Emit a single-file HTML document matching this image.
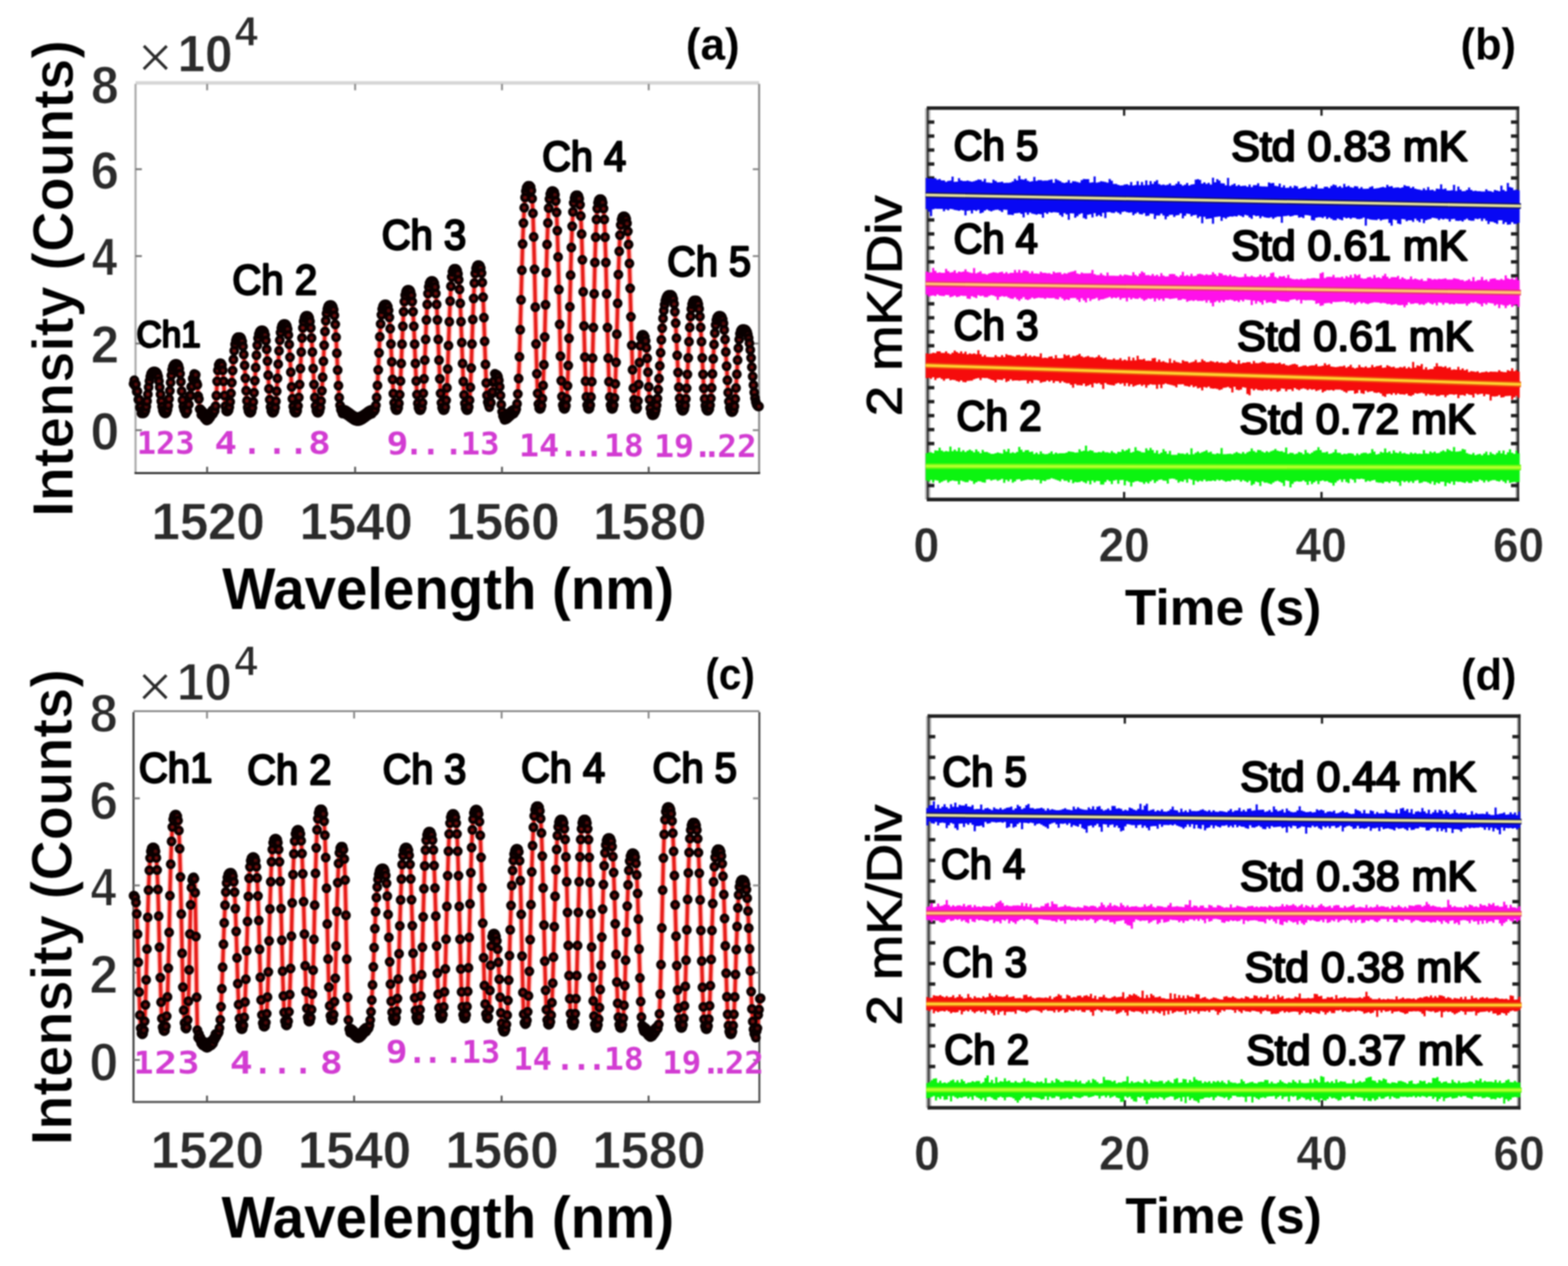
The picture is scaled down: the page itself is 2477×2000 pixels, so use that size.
<!DOCTYPE html>
<html lang="en">
<head>
<meta charset="utf-8">
<title>Spectra and temperature stability</title>
<style>
html,body{margin:0;padding:0;background:#fff;}
body{width:2477px;height:2000px;overflow:hidden;}
svg{display:block;filter:blur(0.9px);}
text{white-space:pre;}
</style>
</head>
<body>
<svg xmlns="http://www.w3.org/2000/svg" width="2477" height="2000" viewBox="0 0 2477 2000">
<rect x="-10" y="-10" width="2497" height="2020" fill="#fff"/>
<line x1="214.10" y1="131.00" x2="1199.20" y2="131.00" stroke="#d6d6d6" stroke-width="5.5" stroke-linecap="butt"/>
<line x1="214.10" y1="132.60" x2="214.10" y2="747.40" stroke="#a8a8a8" stroke-width="3.2" stroke-linecap="butt"/>
<line x1="1199.20" y1="132.60" x2="1199.20" y2="747.40" stroke="#8c8c8c" stroke-width="3.2" stroke-linecap="butt"/>
<line x1="212.50" y1="747.40" x2="1200.80" y2="747.40" stroke="#333333" stroke-width="3.2" stroke-linecap="butt"/>
<line x1="327.20" y1="747.40" x2="327.20" y2="737.40" stroke="#555" stroke-width="3" stroke-linecap="butt"/>
<line x1="327.20" y1="132.60" x2="327.20" y2="142.60" stroke="#8a8a8a" stroke-width="3" stroke-linecap="butt"/>
<line x1="561.00" y1="747.40" x2="561.00" y2="737.40" stroke="#555" stroke-width="3" stroke-linecap="butt"/>
<line x1="561.00" y1="132.60" x2="561.00" y2="142.60" stroke="#8a8a8a" stroke-width="3" stroke-linecap="butt"/>
<line x1="793.00" y1="747.40" x2="793.00" y2="737.40" stroke="#555" stroke-width="3" stroke-linecap="butt"/>
<line x1="793.00" y1="132.60" x2="793.00" y2="142.60" stroke="#8a8a8a" stroke-width="3" stroke-linecap="butt"/>
<line x1="1024.80" y1="747.40" x2="1024.80" y2="737.40" stroke="#555" stroke-width="3" stroke-linecap="butt"/>
<line x1="1024.80" y1="132.60" x2="1024.80" y2="142.60" stroke="#8a8a8a" stroke-width="3" stroke-linecap="butt"/>
<line x1="214.10" y1="267.30" x2="224.10" y2="267.30" stroke="#777" stroke-width="3" stroke-linecap="butt"/>
<line x1="1199.20" y1="267.30" x2="1189.20" y2="267.30" stroke="#8a8a8a" stroke-width="3" stroke-linecap="butt"/>
<line x1="214.10" y1="404.60" x2="224.10" y2="404.60" stroke="#777" stroke-width="3" stroke-linecap="butt"/>
<line x1="1199.20" y1="404.60" x2="1189.20" y2="404.60" stroke="#8a8a8a" stroke-width="3" stroke-linecap="butt"/>
<line x1="214.10" y1="542.70" x2="224.10" y2="542.70" stroke="#777" stroke-width="3" stroke-linecap="butt"/>
<line x1="1199.20" y1="542.70" x2="1189.20" y2="542.70" stroke="#8a8a8a" stroke-width="3" stroke-linecap="butt"/>
<line x1="214.10" y1="679.60" x2="224.10" y2="679.60" stroke="#777" stroke-width="3" stroke-linecap="butt"/>
<line x1="1199.20" y1="679.60" x2="1189.20" y2="679.60" stroke="#8a8a8a" stroke-width="3" stroke-linecap="butt"/>
<path d="M211.0,606.2 L212.2,600.7 L213.5,609.5 L214.8,607.1 L216.0,618.7 L217.2,618.3 L218.5,631.2 L219.8,631.3 L221.0,643.7 L222.2,642.5 L223.5,652.9 L224.8,648.9 L226.0,653.0 L227.3,652.8 L228.5,651.6 L229.8,648.4 L231.1,642.6 L232.3,633.8 L233.6,622.9 L234.8,611.7 L236.1,602.1 L237.4,595.1 L238.6,590.8 L239.9,588.4 L241.2,587.4 L242.4,587.0 L243.7,587.0 L244.9,587.0 L246.2,587.4 L247.4,588.4 L248.6,590.8 L249.9,595.1 L251.1,602.1 L252.3,611.7 L253.6,622.9 L254.8,633.8 L256.1,642.6 L257.3,648.4 L258.5,651.6 L259.8,652.8 L261.0,653.0 L262.2,652.8 L263.4,651.3 L264.6,647.6 L265.9,640.7 L267.1,630.3 L268.3,617.4 L269.5,604.2 L270.7,592.9 L271.9,584.6 L273.1,579.5 L274.4,576.7 L275.6,575.4 L276.8,575.0 L278.0,575.0 L279.3,575.1 L280.6,575.7 L281.9,577.7 L283.2,582.3 L284.5,590.6 L285.8,603.1 L287.0,617.9 L288.3,631.9 L289.6,641.9 L290.9,647.5 L292.2,649.6 L293.5,653.2 L294.7,645.8 L295.9,649.4 L297.1,638.5 L298.3,639.0 L299.5,625.7 L300.8,624.7 L302.0,610.9 L303.2,610.5 L304.4,598.1 L305.6,600.0 L306.8,590.8 L308.0,596.2 L309.2,592.0 L310.5,604.8 L311.8,608.0 L313.0,625.7 L314.2,630.6 L315.5,646.6 L316.8,646.6 L318.0,655.2 L319.3,649.2 L320.6,656.9 L321.9,652.3 L323.1,660.7 L324.4,656.1 L325.7,663.8 L327.0,664.2 L328.2,657.5 L329.4,662.9 L330.7,655.0 L331.9,659.7 L333.1,651.3 L334.3,656.0 L335.6,648.1 L336.8,653.5 L338.0,650.0 L339.2,648.9 L340.5,641.8 L341.8,624.9 L343.0,602.4 L344.2,585.1 L345.5,576.8 L346.8,574.3 L348.0,574.0 L349.3,574.3 L350.6,576.8 L351.9,585.1 L353.2,602.4 L354.6,624.9 L355.9,641.8 L357.2,648.9 L358.5,650.0 L359.8,649.7 L361.1,647.9 L362.3,643.3 L363.6,634.8 L364.9,621.6 L366.2,604.5 L367.5,585.6 L368.7,568.1 L370.0,553.9 L371.3,544.0 L372.6,537.9 L373.9,534.6 L375.1,533.1 L376.4,532.7 L377.7,532.6 L378.9,532.7 L380.2,533.3 L381.4,535.2 L382.6,539.4 L383.9,547.3 L385.1,559.9 L386.4,577.3 L387.6,597.5 L388.8,617.3 L390.1,633.2 L391.3,643.7 L392.5,649.4 L393.8,651.6 L395.0,652.0 L396.3,651.7 L397.5,649.7 L398.8,644.6 L400.1,635.1 L401.3,620.5 L402.6,601.6 L403.9,580.7 L405.1,561.3 L406.4,545.6 L407.7,534.6 L408.9,527.9 L410.2,524.2 L411.5,522.6 L412.7,522.1 L414.0,522.0 L415.2,522.1 L416.4,522.7 L417.6,524.8 L418.9,529.4 L420.1,538.0 L421.3,551.8 L422.5,570.6 L423.7,592.7 L424.9,614.2 L426.1,631.5 L427.4,643.0 L428.6,649.2 L429.8,651.6 L431.0,652.0 L432.2,651.6 L433.4,649.5 L434.7,644.1 L435.9,633.9 L437.1,618.1 L438.3,597.7 L439.5,575.3 L440.8,554.3 L442.0,537.4 L443.2,525.6 L444.4,518.3 L445.6,514.4 L446.9,512.6 L448.1,512.1 L449.3,512.0 L450.6,512.1 L451.8,512.8 L453.1,515.0 L454.4,520.0 L455.6,529.3 L456.9,544.0 L458.1,564.4 L459.4,588.1 L460.7,611.3 L461.9,629.9 L463.2,642.3 L464.5,649.0 L465.7,651.6 L467.0,652.0 L468.3,651.5 L469.5,648.7 L470.8,641.4 L472.1,627.9 L473.3,607.5 L474.6,582.2 L475.9,556.2 L477.1,534.0 L478.4,517.9 L479.6,507.8 L480.9,502.3 L482.2,499.8 L483.4,499.1 L484.7,499.0 L486.0,499.1 L487.2,499.8 L488.5,502.3 L489.7,507.8 L491.0,517.9 L492.2,534.0 L493.5,556.2 L494.8,582.2 L496.0,607.5 L497.3,627.9 L498.5,641.4 L499.8,648.7 L501.0,651.5 L502.3,652.0 L503.5,651.6 L504.8,649.5 L506.0,644.0 L507.2,633.7 L508.5,617.5 L509.7,595.9 L510.9,570.8 L512.1,545.6 L513.4,523.7 L514.6,506.8 L515.8,495.2 L517.1,488.2 L518.3,484.3 L519.5,482.6 L520.8,482.1 L522.0,482.0 L523.3,482.1 L524.5,482.7 L525.8,484.9 L527.1,489.6 L528.3,498.3 L529.6,512.5 L530.9,532.7 L532.1,557.9 L533.4,584.8 L534.7,609.3 L535.9,628.2 L537.2,640.5 L538.5,647.0 L539.7,649.6 L541.0,653.2 L542.3,646.9 L543.5,653.5 L544.8,647.5 L546.1,654.5 L547.3,648.7 L548.6,655.9 L549.8,650.4 L551.1,657.7 L552.4,652.3 L553.6,659.7 L554.9,654.3 L556.2,661.6 L557.4,656.1 L558.7,663.3 L559.9,657.5 L561.2,664.5 L562.5,658.5 L563.7,665.1 L565.0,665.2 L566.2,658.7 L567.5,664.9 L568.8,658.1 L570.0,664.1 L571.2,657.0 L572.5,662.7 L573.8,655.5 L575.0,661.1 L576.2,653.7 L577.5,659.2 L578.8,651.9 L580.0,657.3 L581.2,650.1 L582.5,655.7 L583.8,648.6 L585.0,654.3 L586.2,647.5 L587.5,653.5 L588.8,646.9 L590.0,650.0 L591.3,649.6 L592.5,647.0 L593.8,640.4 L595.0,628.1 L596.3,609.1 L597.5,584.5 L598.8,557.4 L600.0,532.0 L601.3,511.7 L602.5,497.4 L603.8,488.6 L605.0,483.9 L606.3,481.7 L607.5,481.1 L608.8,481.0 L610.1,481.1 L611.3,481.9 L612.6,484.6 L613.9,490.6 L615.1,501.6 L616.4,519.2 L617.6,543.5 L618.9,571.8 L620.2,599.4 L621.4,621.7 L622.7,636.5 L624.0,644.4 L625.2,647.5 L626.5,648.0 L627.7,647.5 L629.0,644.6 L630.2,637.2 L631.4,623.4 L632.7,602.0 L633.9,574.3 L635.1,543.8 L636.4,515.4 L637.6,492.5 L638.8,476.5 L640.1,466.6 L641.3,461.2 L642.5,458.8 L643.8,458.1 L645.0,458.0 L646.2,458.1 L647.5,458.8 L648.7,461.2 L650.0,466.6 L651.2,476.5 L652.5,492.5 L653.7,515.4 L655.0,543.8 L656.2,574.3 L657.5,602.0 L658.7,623.4 L660.0,637.2 L661.2,644.6 L662.5,647.5 L663.7,648.0 L664.9,647.5 L666.2,644.4 L667.4,636.4 L668.7,621.6 L669.9,598.6 L671.1,568.9 L672.4,536.2 L673.6,505.6 L674.9,481.1 L676.1,463.8 L677.3,453.2 L678.6,447.5 L679.8,444.9 L681.1,444.1 L682.3,444.0 L683.5,444.1 L684.8,444.9 L686.0,447.5 L687.3,453.2 L688.5,463.8 L689.8,481.1 L691.0,505.6 L692.3,536.2 L693.5,568.9 L694.8,598.6 L696.0,621.6 L697.3,636.4 L698.5,644.4 L699.8,647.5 L701.0,648.0 L702.3,647.3 L703.5,643.2 L704.8,632.6 L706.0,612.8 L707.3,583.0 L708.5,546.1 L709.8,508.2 L711.1,475.7 L712.3,452.2 L713.6,437.4 L714.8,429.4 L716.1,425.8 L717.3,424.7 L718.6,424.6 L719.8,424.7 L721.0,425.4 L722.2,427.7 L723.5,432.7 L724.7,442.0 L725.9,457.2 L727.1,479.3 L728.3,508.2 L729.5,541.2 L730.7,574.2 L731.9,602.7 L733.1,623.9 L734.4,637.5 L735.6,644.7 L736.8,647.5 L738.0,648.0 L739.3,647.3 L740.5,643.1 L741.8,632.2 L743.1,611.9 L744.4,581.4 L745.6,543.5 L746.9,504.7 L748.2,471.4 L749.4,447.3 L750.7,432.1 L752.0,423.9 L753.3,420.3 L754.5,419.1 L755.8,419.0 L757.0,419.1 L758.3,420.2 L759.5,423.7 L760.7,431.6 L761.9,446.3 L763.2,469.6 L764.4,501.7 L765.6,539.2 L766.9,575.7 L768.1,605.1 L769.3,624.7 L770.5,635.2 L771.8,639.3 L773.0,643.2 L774.2,635.0 L775.5,636.2 L776.8,622.0 L778.0,619.2 L779.2,603.6 L780.5,602.2 L781.8,590.6 L783.0,592.0 L784.3,592.1 L785.5,592.8 L786.8,595.3 L788.1,600.9 L789.4,610.9 L790.6,624.7 L791.9,639.3 L793.2,650.6 L794.5,657.1 L795.7,659.6 L797.0,663.2 L798.2,656.7 L799.5,662.6 L800.7,655.5 L801.9,661.0 L803.2,653.6 L804.4,658.8 L805.6,651.2 L806.8,656.4 L808.1,649.0 L809.3,654.5 L810.5,647.4 L811.8,653.3 L813.0,650.0 L814.3,649.5 L815.5,646.2 L816.8,638.1 L818.0,622.6 L819.3,598.1 L820.6,563.7 L821.8,521.0 L823.1,473.7 L824.4,426.9 L825.6,385.5 L826.9,352.4 L828.1,328.2 L829.4,312.0 L830.7,302.1 L831.9,296.8 L833.2,294.4 L834.4,293.6 L835.7,293.5 L836.9,293.7 L838.2,295.5 L839.4,301.1 L840.6,313.7 L841.9,337.0 L843.1,374.2 L844.4,425.4 L845.6,485.2 L846.8,543.4 L848.1,590.4 L849.3,621.6 L850.5,638.4 L851.8,644.9 L853.0,646.0 L854.2,645.3 L855.5,640.9 L856.8,629.8 L858.0,608.9 L859.2,576.3 L860.5,532.4 L861.8,481.6 L863.0,430.7 L864.2,386.3 L865.5,352.2 L866.8,328.8 L868.0,314.4 L869.2,306.7 L870.5,303.2 L871.8,302.1 L873.0,302.0 L874.2,302.2 L875.5,303.5 L876.7,307.8 L877.9,317.5 L879.2,335.5 L880.4,364.5 L881.6,405.9 L882.9,457.4 L884.1,512.6 L885.3,562.8 L886.6,601.4 L887.8,626.5 L889.0,639.9 L890.3,645.1 L891.5,646.0 L892.7,645.3 L894.0,641.0 L895.2,630.1 L896.5,609.6 L897.7,577.6 L898.9,534.5 L900.2,484.7 L901.4,434.7 L902.6,391.1 L903.9,357.6 L905.1,334.7 L906.3,320.6 L907.6,313.0 L908.8,309.6 L910.1,308.5 L911.3,308.4 L912.5,308.6 L913.8,309.9 L915.0,314.1 L916.3,323.6 L917.5,341.2 L918.8,369.7 L920.0,410.4 L921.3,460.9 L922.5,515.1 L923.8,564.3 L925.0,602.2 L926.3,626.9 L927.5,640.0 L928.8,645.2 L930.0,646.0 L931.2,645.2 L932.5,640.1 L933.7,627.2 L934.9,603.0 L936.1,565.8 L937.4,517.5 L938.6,464.3 L939.8,414.7 L941.0,374.8 L942.3,346.8 L943.5,329.6 L944.7,320.2 L945.9,316.1 L947.2,314.8 L948.4,314.6 L949.6,314.8 L950.9,316.1 L952.1,320.2 L953.4,329.6 L954.6,346.8 L955.8,374.8 L957.1,414.7 L958.3,464.3 L959.6,517.5 L960.8,565.8 L962.0,603.0 L963.3,627.2 L964.5,640.1 L965.8,645.2 L967.0,646.0 L968.2,645.2 L969.5,640.6 L970.7,628.8 L972.0,606.6 L973.2,572.4 L974.4,528.0 L975.7,479.2 L976.9,433.7 L978.2,397.1 L979.4,371.4 L980.6,355.5 L981.9,347.0 L983.1,343.1 L984.4,341.9 L985.6,341.8 L986.8,341.9 L988.1,342.9 L989.3,346.0 L990.5,352.8 L991.8,365.5 L993.0,386.2 L994.3,416.3 L995.5,455.6 L996.7,500.6 L998.0,545.6 L999.2,584.3 L1000.5,613.2 L1001.7,631.7 L1002.9,641.5 L1004.2,645.4 L1005.4,646.0 L1006.6,644.3 L1007.8,633.4 L1009.0,607.4 L1010.2,572.8 L1011.4,546.1 L1012.6,533.2 L1013.8,529.4 L1015.0,529.0 L1016.2,529.1 L1017.5,529.9 L1018.7,532.5 L1019.9,538.4 L1021.2,549.2 L1022.4,566.0 L1023.6,587.9 L1024.8,611.3 L1026.1,631.3 L1027.3,645.1 L1028.5,652.6 L1029.8,655.5 L1031.0,656.0 L1032.3,655.8 L1033.5,654.9 L1034.8,652.4 L1036.0,647.8 L1037.3,640.4 L1038.6,629.7 L1039.8,615.5 L1041.1,598.0 L1042.3,578.1 L1043.6,557.2 L1044.8,536.9 L1046.1,518.5 L1047.4,503.0 L1048.6,490.7 L1049.9,481.5 L1051.1,475.0 L1052.4,470.7 L1053.7,468.0 L1054.9,466.6 L1056.2,465.9 L1057.4,465.7 L1058.7,465.7 L1059.9,465.8 L1061.2,466.4 L1062.4,468.2 L1063.7,472.3 L1064.9,480.0 L1066.1,492.4 L1067.4,510.6 L1068.6,534.3 L1069.8,561.4 L1071.1,588.5 L1072.3,611.8 L1073.5,629.2 L1074.8,640.4 L1076.0,646.3 L1077.3,648.6 L1078.5,649.0 L1079.7,648.6 L1081.0,646.4 L1082.2,640.8 L1083.5,630.2 L1084.7,613.6 L1085.9,591.4 L1087.2,565.6 L1088.4,539.7 L1089.6,517.2 L1090.9,499.9 L1092.1,488.0 L1093.3,480.7 L1094.6,476.8 L1095.8,475.0 L1097.1,474.5 L1098.3,474.4 L1099.5,474.5 L1100.8,475.0 L1102.0,476.8 L1103.2,480.7 L1104.5,488.0 L1105.7,499.9 L1106.9,517.2 L1108.2,539.7 L1109.4,565.6 L1110.6,591.4 L1111.8,613.6 L1113.1,630.2 L1114.3,640.8 L1115.5,646.4 L1116.8,648.6 L1118.0,649.0 L1119.2,648.6 L1120.5,646.3 L1121.7,640.5 L1123.0,629.6 L1124.2,612.7 L1125.5,590.8 L1126.7,566.8 L1128.0,544.3 L1129.2,526.3 L1130.5,513.6 L1131.7,505.8 L1133.0,501.5 L1134.2,499.7 L1135.5,499.1 L1136.7,499.0 L1137.9,499.1 L1139.2,499.5 L1140.4,501.1 L1141.7,504.5 L1142.9,510.8 L1144.1,521.2 L1145.4,536.2 L1146.6,555.9 L1147.8,578.4 L1149.1,600.8 L1150.3,620.2 L1151.5,634.6 L1152.8,643.9 L1154.0,648.8 L1155.3,650.7 L1156.5,651.0 L1157.7,650.6 L1159.0,648.2 L1160.2,641.9 L1161.5,630.3 L1162.7,612.9 L1164.0,591.2 L1165.2,569.0 L1166.4,550.0 L1167.7,536.2 L1168.9,527.5 L1170.2,522.8 L1171.4,520.7 L1172.7,520.1 L1173.9,520.0 L1175.2,520.0 L1176.4,520.2 L1177.7,520.8 L1178.9,522.1 L1180.2,524.4 L1181.4,528.3 L1182.7,534.0 L1183.9,542.2 L1185.2,552.8 L1186.5,565.6 L1187.7,580.0 L1189.0,594.7 L1190.2,608.3 L1191.5,619.9 L1192.7,628.9 L1194.0,635.1 L1195.2,639.0 L1196.5,641.0 L1197.7,641.9 L1199.0,642.0" fill="none" stroke="#ff8e8a" stroke-opacity="0.55" stroke-width="9.600000000000001" stroke-linejoin="round"/>
<path d="M211.0,606.2 L212.2,600.7 L213.5,609.5 L214.8,607.1 L216.0,618.7 L217.2,618.3 L218.5,631.2 L219.8,631.3 L221.0,643.7 L222.2,642.5 L223.5,652.9 L224.8,648.9 L226.0,653.0 L227.3,652.8 L228.5,651.6 L229.8,648.4 L231.1,642.6 L232.3,633.8 L233.6,622.9 L234.8,611.7 L236.1,602.1 L237.4,595.1 L238.6,590.8 L239.9,588.4 L241.2,587.4 L242.4,587.0 L243.7,587.0 L244.9,587.0 L246.2,587.4 L247.4,588.4 L248.6,590.8 L249.9,595.1 L251.1,602.1 L252.3,611.7 L253.6,622.9 L254.8,633.8 L256.1,642.6 L257.3,648.4 L258.5,651.6 L259.8,652.8 L261.0,653.0 L262.2,652.8 L263.4,651.3 L264.6,647.6 L265.9,640.7 L267.1,630.3 L268.3,617.4 L269.5,604.2 L270.7,592.9 L271.9,584.6 L273.1,579.5 L274.4,576.7 L275.6,575.4 L276.8,575.0 L278.0,575.0 L279.3,575.1 L280.6,575.7 L281.9,577.7 L283.2,582.3 L284.5,590.6 L285.8,603.1 L287.0,617.9 L288.3,631.9 L289.6,641.9 L290.9,647.5 L292.2,649.6 L293.5,653.2 L294.7,645.8 L295.9,649.4 L297.1,638.5 L298.3,639.0 L299.5,625.7 L300.8,624.7 L302.0,610.9 L303.2,610.5 L304.4,598.1 L305.6,600.0 L306.8,590.8 L308.0,596.2 L309.2,592.0 L310.5,604.8 L311.8,608.0 L313.0,625.7 L314.2,630.6 L315.5,646.6 L316.8,646.6 L318.0,655.2 L319.3,649.2 L320.6,656.9 L321.9,652.3 L323.1,660.7 L324.4,656.1 L325.7,663.8 L327.0,664.2 L328.2,657.5 L329.4,662.9 L330.7,655.0 L331.9,659.7 L333.1,651.3 L334.3,656.0 L335.6,648.1 L336.8,653.5 L338.0,650.0 L339.2,648.9 L340.5,641.8 L341.8,624.9 L343.0,602.4 L344.2,585.1 L345.5,576.8 L346.8,574.3 L348.0,574.0 L349.3,574.3 L350.6,576.8 L351.9,585.1 L353.2,602.4 L354.6,624.9 L355.9,641.8 L357.2,648.9 L358.5,650.0 L359.8,649.7 L361.1,647.9 L362.3,643.3 L363.6,634.8 L364.9,621.6 L366.2,604.5 L367.5,585.6 L368.7,568.1 L370.0,553.9 L371.3,544.0 L372.6,537.9 L373.9,534.6 L375.1,533.1 L376.4,532.7 L377.7,532.6 L378.9,532.7 L380.2,533.3 L381.4,535.2 L382.6,539.4 L383.9,547.3 L385.1,559.9 L386.4,577.3 L387.6,597.5 L388.8,617.3 L390.1,633.2 L391.3,643.7 L392.5,649.4 L393.8,651.6 L395.0,652.0 L396.3,651.7 L397.5,649.7 L398.8,644.6 L400.1,635.1 L401.3,620.5 L402.6,601.6 L403.9,580.7 L405.1,561.3 L406.4,545.6 L407.7,534.6 L408.9,527.9 L410.2,524.2 L411.5,522.6 L412.7,522.1 L414.0,522.0 L415.2,522.1 L416.4,522.7 L417.6,524.8 L418.9,529.4 L420.1,538.0 L421.3,551.8 L422.5,570.6 L423.7,592.7 L424.9,614.2 L426.1,631.5 L427.4,643.0 L428.6,649.2 L429.8,651.6 L431.0,652.0 L432.2,651.6 L433.4,649.5 L434.7,644.1 L435.9,633.9 L437.1,618.1 L438.3,597.7 L439.5,575.3 L440.8,554.3 L442.0,537.4 L443.2,525.6 L444.4,518.3 L445.6,514.4 L446.9,512.6 L448.1,512.1 L449.3,512.0 L450.6,512.1 L451.8,512.8 L453.1,515.0 L454.4,520.0 L455.6,529.3 L456.9,544.0 L458.1,564.4 L459.4,588.1 L460.7,611.3 L461.9,629.9 L463.2,642.3 L464.5,649.0 L465.7,651.6 L467.0,652.0 L468.3,651.5 L469.5,648.7 L470.8,641.4 L472.1,627.9 L473.3,607.5 L474.6,582.2 L475.9,556.2 L477.1,534.0 L478.4,517.9 L479.6,507.8 L480.9,502.3 L482.2,499.8 L483.4,499.1 L484.7,499.0 L486.0,499.1 L487.2,499.8 L488.5,502.3 L489.7,507.8 L491.0,517.9 L492.2,534.0 L493.5,556.2 L494.8,582.2 L496.0,607.5 L497.3,627.9 L498.5,641.4 L499.8,648.7 L501.0,651.5 L502.3,652.0 L503.5,651.6 L504.8,649.5 L506.0,644.0 L507.2,633.7 L508.5,617.5 L509.7,595.9 L510.9,570.8 L512.1,545.6 L513.4,523.7 L514.6,506.8 L515.8,495.2 L517.1,488.2 L518.3,484.3 L519.5,482.6 L520.8,482.1 L522.0,482.0 L523.3,482.1 L524.5,482.7 L525.8,484.9 L527.1,489.6 L528.3,498.3 L529.6,512.5 L530.9,532.7 L532.1,557.9 L533.4,584.8 L534.7,609.3 L535.9,628.2 L537.2,640.5 L538.5,647.0 L539.7,649.6 L541.0,653.2 L542.3,646.9 L543.5,653.5 L544.8,647.5 L546.1,654.5 L547.3,648.7 L548.6,655.9 L549.8,650.4 L551.1,657.7 L552.4,652.3 L553.6,659.7 L554.9,654.3 L556.2,661.6 L557.4,656.1 L558.7,663.3 L559.9,657.5 L561.2,664.5 L562.5,658.5 L563.7,665.1 L565.0,665.2 L566.2,658.7 L567.5,664.9 L568.8,658.1 L570.0,664.1 L571.2,657.0 L572.5,662.7 L573.8,655.5 L575.0,661.1 L576.2,653.7 L577.5,659.2 L578.8,651.9 L580.0,657.3 L581.2,650.1 L582.5,655.7 L583.8,648.6 L585.0,654.3 L586.2,647.5 L587.5,653.5 L588.8,646.9 L590.0,650.0 L591.3,649.6 L592.5,647.0 L593.8,640.4 L595.0,628.1 L596.3,609.1 L597.5,584.5 L598.8,557.4 L600.0,532.0 L601.3,511.7 L602.5,497.4 L603.8,488.6 L605.0,483.9 L606.3,481.7 L607.5,481.1 L608.8,481.0 L610.1,481.1 L611.3,481.9 L612.6,484.6 L613.9,490.6 L615.1,501.6 L616.4,519.2 L617.6,543.5 L618.9,571.8 L620.2,599.4 L621.4,621.7 L622.7,636.5 L624.0,644.4 L625.2,647.5 L626.5,648.0 L627.7,647.5 L629.0,644.6 L630.2,637.2 L631.4,623.4 L632.7,602.0 L633.9,574.3 L635.1,543.8 L636.4,515.4 L637.6,492.5 L638.8,476.5 L640.1,466.6 L641.3,461.2 L642.5,458.8 L643.8,458.1 L645.0,458.0 L646.2,458.1 L647.5,458.8 L648.7,461.2 L650.0,466.6 L651.2,476.5 L652.5,492.5 L653.7,515.4 L655.0,543.8 L656.2,574.3 L657.5,602.0 L658.7,623.4 L660.0,637.2 L661.2,644.6 L662.5,647.5 L663.7,648.0 L664.9,647.5 L666.2,644.4 L667.4,636.4 L668.7,621.6 L669.9,598.6 L671.1,568.9 L672.4,536.2 L673.6,505.6 L674.9,481.1 L676.1,463.8 L677.3,453.2 L678.6,447.5 L679.8,444.9 L681.1,444.1 L682.3,444.0 L683.5,444.1 L684.8,444.9 L686.0,447.5 L687.3,453.2 L688.5,463.8 L689.8,481.1 L691.0,505.6 L692.3,536.2 L693.5,568.9 L694.8,598.6 L696.0,621.6 L697.3,636.4 L698.5,644.4 L699.8,647.5 L701.0,648.0 L702.3,647.3 L703.5,643.2 L704.8,632.6 L706.0,612.8 L707.3,583.0 L708.5,546.1 L709.8,508.2 L711.1,475.7 L712.3,452.2 L713.6,437.4 L714.8,429.4 L716.1,425.8 L717.3,424.7 L718.6,424.6 L719.8,424.7 L721.0,425.4 L722.2,427.7 L723.5,432.7 L724.7,442.0 L725.9,457.2 L727.1,479.3 L728.3,508.2 L729.5,541.2 L730.7,574.2 L731.9,602.7 L733.1,623.9 L734.4,637.5 L735.6,644.7 L736.8,647.5 L738.0,648.0 L739.3,647.3 L740.5,643.1 L741.8,632.2 L743.1,611.9 L744.4,581.4 L745.6,543.5 L746.9,504.7 L748.2,471.4 L749.4,447.3 L750.7,432.1 L752.0,423.9 L753.3,420.3 L754.5,419.1 L755.8,419.0 L757.0,419.1 L758.3,420.2 L759.5,423.7 L760.7,431.6 L761.9,446.3 L763.2,469.6 L764.4,501.7 L765.6,539.2 L766.9,575.7 L768.1,605.1 L769.3,624.7 L770.5,635.2 L771.8,639.3 L773.0,643.2 L774.2,635.0 L775.5,636.2 L776.8,622.0 L778.0,619.2 L779.2,603.6 L780.5,602.2 L781.8,590.6 L783.0,592.0 L784.3,592.1 L785.5,592.8 L786.8,595.3 L788.1,600.9 L789.4,610.9 L790.6,624.7 L791.9,639.3 L793.2,650.6 L794.5,657.1 L795.7,659.6 L797.0,663.2 L798.2,656.7 L799.5,662.6 L800.7,655.5 L801.9,661.0 L803.2,653.6 L804.4,658.8 L805.6,651.2 L806.8,656.4 L808.1,649.0 L809.3,654.5 L810.5,647.4 L811.8,653.3 L813.0,650.0 L814.3,649.5 L815.5,646.2 L816.8,638.1 L818.0,622.6 L819.3,598.1 L820.6,563.7 L821.8,521.0 L823.1,473.7 L824.4,426.9 L825.6,385.5 L826.9,352.4 L828.1,328.2 L829.4,312.0 L830.7,302.1 L831.9,296.8 L833.2,294.4 L834.4,293.6 L835.7,293.5 L836.9,293.7 L838.2,295.5 L839.4,301.1 L840.6,313.7 L841.9,337.0 L843.1,374.2 L844.4,425.4 L845.6,485.2 L846.8,543.4 L848.1,590.4 L849.3,621.6 L850.5,638.4 L851.8,644.9 L853.0,646.0 L854.2,645.3 L855.5,640.9 L856.8,629.8 L858.0,608.9 L859.2,576.3 L860.5,532.4 L861.8,481.6 L863.0,430.7 L864.2,386.3 L865.5,352.2 L866.8,328.8 L868.0,314.4 L869.2,306.7 L870.5,303.2 L871.8,302.1 L873.0,302.0 L874.2,302.2 L875.5,303.5 L876.7,307.8 L877.9,317.5 L879.2,335.5 L880.4,364.5 L881.6,405.9 L882.9,457.4 L884.1,512.6 L885.3,562.8 L886.6,601.4 L887.8,626.5 L889.0,639.9 L890.3,645.1 L891.5,646.0 L892.7,645.3 L894.0,641.0 L895.2,630.1 L896.5,609.6 L897.7,577.6 L898.9,534.5 L900.2,484.7 L901.4,434.7 L902.6,391.1 L903.9,357.6 L905.1,334.7 L906.3,320.6 L907.6,313.0 L908.8,309.6 L910.1,308.5 L911.3,308.4 L912.5,308.6 L913.8,309.9 L915.0,314.1 L916.3,323.6 L917.5,341.2 L918.8,369.7 L920.0,410.4 L921.3,460.9 L922.5,515.1 L923.8,564.3 L925.0,602.2 L926.3,626.9 L927.5,640.0 L928.8,645.2 L930.0,646.0 L931.2,645.2 L932.5,640.1 L933.7,627.2 L934.9,603.0 L936.1,565.8 L937.4,517.5 L938.6,464.3 L939.8,414.7 L941.0,374.8 L942.3,346.8 L943.5,329.6 L944.7,320.2 L945.9,316.1 L947.2,314.8 L948.4,314.6 L949.6,314.8 L950.9,316.1 L952.1,320.2 L953.4,329.6 L954.6,346.8 L955.8,374.8 L957.1,414.7 L958.3,464.3 L959.6,517.5 L960.8,565.8 L962.0,603.0 L963.3,627.2 L964.5,640.1 L965.8,645.2 L967.0,646.0 L968.2,645.2 L969.5,640.6 L970.7,628.8 L972.0,606.6 L973.2,572.4 L974.4,528.0 L975.7,479.2 L976.9,433.7 L978.2,397.1 L979.4,371.4 L980.6,355.5 L981.9,347.0 L983.1,343.1 L984.4,341.9 L985.6,341.8 L986.8,341.9 L988.1,342.9 L989.3,346.0 L990.5,352.8 L991.8,365.5 L993.0,386.2 L994.3,416.3 L995.5,455.6 L996.7,500.6 L998.0,545.6 L999.2,584.3 L1000.5,613.2 L1001.7,631.7 L1002.9,641.5 L1004.2,645.4 L1005.4,646.0 L1006.6,644.3 L1007.8,633.4 L1009.0,607.4 L1010.2,572.8 L1011.4,546.1 L1012.6,533.2 L1013.8,529.4 L1015.0,529.0 L1016.2,529.1 L1017.5,529.9 L1018.7,532.5 L1019.9,538.4 L1021.2,549.2 L1022.4,566.0 L1023.6,587.9 L1024.8,611.3 L1026.1,631.3 L1027.3,645.1 L1028.5,652.6 L1029.8,655.5 L1031.0,656.0 L1032.3,655.8 L1033.5,654.9 L1034.8,652.4 L1036.0,647.8 L1037.3,640.4 L1038.6,629.7 L1039.8,615.5 L1041.1,598.0 L1042.3,578.1 L1043.6,557.2 L1044.8,536.9 L1046.1,518.5 L1047.4,503.0 L1048.6,490.7 L1049.9,481.5 L1051.1,475.0 L1052.4,470.7 L1053.7,468.0 L1054.9,466.6 L1056.2,465.9 L1057.4,465.7 L1058.7,465.7 L1059.9,465.8 L1061.2,466.4 L1062.4,468.2 L1063.7,472.3 L1064.9,480.0 L1066.1,492.4 L1067.4,510.6 L1068.6,534.3 L1069.8,561.4 L1071.1,588.5 L1072.3,611.8 L1073.5,629.2 L1074.8,640.4 L1076.0,646.3 L1077.3,648.6 L1078.5,649.0 L1079.7,648.6 L1081.0,646.4 L1082.2,640.8 L1083.5,630.2 L1084.7,613.6 L1085.9,591.4 L1087.2,565.6 L1088.4,539.7 L1089.6,517.2 L1090.9,499.9 L1092.1,488.0 L1093.3,480.7 L1094.6,476.8 L1095.8,475.0 L1097.1,474.5 L1098.3,474.4 L1099.5,474.5 L1100.8,475.0 L1102.0,476.8 L1103.2,480.7 L1104.5,488.0 L1105.7,499.9 L1106.9,517.2 L1108.2,539.7 L1109.4,565.6 L1110.6,591.4 L1111.8,613.6 L1113.1,630.2 L1114.3,640.8 L1115.5,646.4 L1116.8,648.6 L1118.0,649.0 L1119.2,648.6 L1120.5,646.3 L1121.7,640.5 L1123.0,629.6 L1124.2,612.7 L1125.5,590.8 L1126.7,566.8 L1128.0,544.3 L1129.2,526.3 L1130.5,513.6 L1131.7,505.8 L1133.0,501.5 L1134.2,499.7 L1135.5,499.1 L1136.7,499.0 L1137.9,499.1 L1139.2,499.5 L1140.4,501.1 L1141.7,504.5 L1142.9,510.8 L1144.1,521.2 L1145.4,536.2 L1146.6,555.9 L1147.8,578.4 L1149.1,600.8 L1150.3,620.2 L1151.5,634.6 L1152.8,643.9 L1154.0,648.8 L1155.3,650.7 L1156.5,651.0 L1157.7,650.6 L1159.0,648.2 L1160.2,641.9 L1161.5,630.3 L1162.7,612.9 L1164.0,591.2 L1165.2,569.0 L1166.4,550.0 L1167.7,536.2 L1168.9,527.5 L1170.2,522.8 L1171.4,520.7 L1172.7,520.1 L1173.9,520.0 L1175.2,520.0 L1176.4,520.2 L1177.7,520.8 L1178.9,522.1 L1180.2,524.4 L1181.4,528.3 L1182.7,534.0 L1183.9,542.2 L1185.2,552.8 L1186.5,565.6 L1187.7,580.0 L1189.0,594.7 L1190.2,608.3 L1191.5,619.9 L1192.7,628.9 L1194.0,635.1 L1195.2,639.0 L1196.5,641.0 L1197.7,641.9 L1199.0,642.0" fill="none" stroke="#e61c18" stroke-width="5.4" stroke-linejoin="round"/>
<g fill="#5c0c0c" fill-opacity="0.85" stroke="#0a0000" stroke-width="4.9">
<circle cx="211.0" cy="606.2" r="5.3"/>
<circle cx="212.2" cy="600.7" r="5.3"/>
<circle cx="213.5" cy="609.5" r="5.3"/>
<circle cx="214.8" cy="607.1" r="5.3"/>
<circle cx="216.0" cy="618.7" r="5.3"/>
<circle cx="217.2" cy="618.3" r="5.3"/>
<circle cx="218.5" cy="631.2" r="5.3"/>
<circle cx="219.8" cy="631.3" r="5.3"/>
<circle cx="221.0" cy="643.7" r="5.3"/>
<circle cx="222.2" cy="642.5" r="5.3"/>
<circle cx="223.5" cy="652.9" r="5.3"/>
<circle cx="224.8" cy="648.9" r="5.3"/>
<circle cx="226.0" cy="653.0" r="5.3"/>
<circle cx="227.3" cy="652.8" r="5.3"/>
<circle cx="228.5" cy="651.6" r="5.3"/>
<circle cx="229.8" cy="648.4" r="5.3"/>
<circle cx="231.1" cy="642.6" r="5.3"/>
<circle cx="232.3" cy="633.8" r="5.3"/>
<circle cx="233.6" cy="622.9" r="5.3"/>
<circle cx="234.8" cy="611.7" r="5.3"/>
<circle cx="236.1" cy="602.1" r="5.3"/>
<circle cx="237.4" cy="595.1" r="5.3"/>
<circle cx="238.6" cy="590.8" r="5.3"/>
<circle cx="239.9" cy="588.4" r="5.3"/>
<circle cx="241.2" cy="587.4" r="5.3"/>
<circle cx="242.4" cy="587.0" r="5.3"/>
<circle cx="243.7" cy="587.0" r="5.3"/>
<circle cx="244.9" cy="587.0" r="5.3"/>
<circle cx="246.2" cy="587.4" r="5.3"/>
<circle cx="247.4" cy="588.4" r="5.3"/>
<circle cx="248.6" cy="590.8" r="5.3"/>
<circle cx="249.9" cy="595.1" r="5.3"/>
<circle cx="251.1" cy="602.1" r="5.3"/>
<circle cx="252.3" cy="611.7" r="5.3"/>
<circle cx="253.6" cy="622.9" r="5.3"/>
<circle cx="254.8" cy="633.8" r="5.3"/>
<circle cx="256.1" cy="642.6" r="5.3"/>
<circle cx="257.3" cy="648.4" r="5.3"/>
<circle cx="258.5" cy="651.6" r="5.3"/>
<circle cx="259.8" cy="652.8" r="5.3"/>
<circle cx="261.0" cy="653.0" r="5.3"/>
<circle cx="262.2" cy="652.8" r="5.3"/>
<circle cx="263.4" cy="651.3" r="5.3"/>
<circle cx="264.6" cy="647.6" r="5.3"/>
<circle cx="265.9" cy="640.7" r="5.3"/>
<circle cx="267.1" cy="630.3" r="5.3"/>
<circle cx="268.3" cy="617.4" r="5.3"/>
<circle cx="269.5" cy="604.2" r="5.3"/>
<circle cx="270.7" cy="592.9" r="5.3"/>
<circle cx="271.9" cy="584.6" r="5.3"/>
<circle cx="273.1" cy="579.5" r="5.3"/>
<circle cx="274.4" cy="576.7" r="5.3"/>
<circle cx="275.6" cy="575.4" r="5.3"/>
<circle cx="276.8" cy="575.0" r="5.3"/>
<circle cx="278.0" cy="575.0" r="5.3"/>
<circle cx="279.3" cy="575.1" r="5.3"/>
<circle cx="280.6" cy="575.7" r="5.3"/>
<circle cx="281.9" cy="577.7" r="5.3"/>
<circle cx="283.2" cy="582.3" r="5.3"/>
<circle cx="284.5" cy="590.6" r="5.3"/>
<circle cx="285.8" cy="603.1" r="5.3"/>
<circle cx="287.0" cy="617.9" r="5.3"/>
<circle cx="288.3" cy="631.9" r="5.3"/>
<circle cx="289.6" cy="641.9" r="5.3"/>
<circle cx="290.9" cy="647.5" r="5.3"/>
<circle cx="292.2" cy="649.6" r="5.3"/>
<circle cx="293.5" cy="653.2" r="5.3"/>
<circle cx="294.7" cy="645.8" r="5.3"/>
<circle cx="295.9" cy="649.4" r="5.3"/>
<circle cx="297.1" cy="638.5" r="5.3"/>
<circle cx="298.3" cy="639.0" r="5.3"/>
<circle cx="299.5" cy="625.7" r="5.3"/>
<circle cx="300.8" cy="624.7" r="5.3"/>
<circle cx="302.0" cy="610.9" r="5.3"/>
<circle cx="303.2" cy="610.5" r="5.3"/>
<circle cx="304.4" cy="598.1" r="5.3"/>
<circle cx="305.6" cy="600.0" r="5.3"/>
<circle cx="306.8" cy="590.8" r="5.3"/>
<circle cx="308.0" cy="596.2" r="5.3"/>
<circle cx="309.2" cy="592.0" r="5.3"/>
<circle cx="310.5" cy="604.8" r="5.3"/>
<circle cx="311.8" cy="608.0" r="5.3"/>
<circle cx="313.0" cy="625.7" r="5.3"/>
<circle cx="314.2" cy="630.6" r="5.3"/>
<circle cx="315.5" cy="646.6" r="5.3"/>
<circle cx="316.8" cy="646.6" r="5.3"/>
<circle cx="318.0" cy="655.2" r="5.3"/>
<circle cx="319.3" cy="649.2" r="5.3"/>
<circle cx="320.6" cy="656.9" r="5.3"/>
<circle cx="321.9" cy="652.3" r="5.3"/>
<circle cx="323.1" cy="660.7" r="5.3"/>
<circle cx="324.4" cy="656.1" r="5.3"/>
<circle cx="325.7" cy="663.8" r="5.3"/>
<circle cx="327.0" cy="664.2" r="5.3"/>
<circle cx="328.2" cy="657.5" r="5.3"/>
<circle cx="329.4" cy="662.9" r="5.3"/>
<circle cx="330.7" cy="655.0" r="5.3"/>
<circle cx="331.9" cy="659.7" r="5.3"/>
<circle cx="333.1" cy="651.3" r="5.3"/>
<circle cx="334.3" cy="656.0" r="5.3"/>
<circle cx="335.6" cy="648.1" r="5.3"/>
<circle cx="336.8" cy="653.5" r="5.3"/>
<circle cx="338.0" cy="650.0" r="5.3"/>
<circle cx="339.2" cy="648.9" r="5.3"/>
<circle cx="340.5" cy="641.8" r="5.3"/>
<circle cx="341.8" cy="624.9" r="5.3"/>
<circle cx="343.0" cy="602.4" r="5.3"/>
<circle cx="344.2" cy="585.1" r="5.3"/>
<circle cx="345.5" cy="576.8" r="5.3"/>
<circle cx="346.8" cy="574.3" r="5.3"/>
<circle cx="348.0" cy="574.0" r="5.3"/>
<circle cx="349.3" cy="574.3" r="5.3"/>
<circle cx="350.6" cy="576.8" r="5.3"/>
<circle cx="351.9" cy="585.1" r="5.3"/>
<circle cx="353.2" cy="602.4" r="5.3"/>
<circle cx="354.6" cy="624.9" r="5.3"/>
<circle cx="355.9" cy="641.8" r="5.3"/>
<circle cx="357.2" cy="648.9" r="5.3"/>
<circle cx="358.5" cy="650.0" r="5.3"/>
<circle cx="359.8" cy="649.7" r="5.3"/>
<circle cx="361.1" cy="647.9" r="5.3"/>
<circle cx="362.3" cy="643.3" r="5.3"/>
<circle cx="363.6" cy="634.8" r="5.3"/>
<circle cx="364.9" cy="621.6" r="5.3"/>
<circle cx="366.2" cy="604.5" r="5.3"/>
<circle cx="367.5" cy="585.6" r="5.3"/>
<circle cx="368.7" cy="568.1" r="5.3"/>
<circle cx="370.0" cy="553.9" r="5.3"/>
<circle cx="371.3" cy="544.0" r="5.3"/>
<circle cx="372.6" cy="537.9" r="5.3"/>
<circle cx="373.9" cy="534.6" r="5.3"/>
<circle cx="375.1" cy="533.1" r="5.3"/>
<circle cx="376.4" cy="532.7" r="5.3"/>
<circle cx="377.7" cy="532.6" r="5.3"/>
<circle cx="378.9" cy="532.7" r="5.3"/>
<circle cx="380.2" cy="533.3" r="5.3"/>
<circle cx="381.4" cy="535.2" r="5.3"/>
<circle cx="382.6" cy="539.4" r="5.3"/>
<circle cx="383.9" cy="547.3" r="5.3"/>
<circle cx="385.1" cy="559.9" r="5.3"/>
<circle cx="386.4" cy="577.3" r="5.3"/>
<circle cx="387.6" cy="597.5" r="5.3"/>
<circle cx="388.8" cy="617.3" r="5.3"/>
<circle cx="390.1" cy="633.2" r="5.3"/>
<circle cx="391.3" cy="643.7" r="5.3"/>
<circle cx="392.5" cy="649.4" r="5.3"/>
<circle cx="393.8" cy="651.6" r="5.3"/>
<circle cx="395.0" cy="652.0" r="5.3"/>
<circle cx="396.3" cy="651.7" r="5.3"/>
<circle cx="397.5" cy="649.7" r="5.3"/>
<circle cx="398.8" cy="644.6" r="5.3"/>
<circle cx="400.1" cy="635.1" r="5.3"/>
<circle cx="401.3" cy="620.5" r="5.3"/>
<circle cx="402.6" cy="601.6" r="5.3"/>
<circle cx="403.9" cy="580.7" r="5.3"/>
<circle cx="405.1" cy="561.3" r="5.3"/>
<circle cx="406.4" cy="545.6" r="5.3"/>
<circle cx="407.7" cy="534.6" r="5.3"/>
<circle cx="408.9" cy="527.9" r="5.3"/>
<circle cx="410.2" cy="524.2" r="5.3"/>
<circle cx="411.5" cy="522.6" r="5.3"/>
<circle cx="412.7" cy="522.1" r="5.3"/>
<circle cx="414.0" cy="522.0" r="5.3"/>
<circle cx="415.2" cy="522.1" r="5.3"/>
<circle cx="416.4" cy="522.7" r="5.3"/>
<circle cx="417.6" cy="524.8" r="5.3"/>
<circle cx="418.9" cy="529.4" r="5.3"/>
<circle cx="420.1" cy="538.0" r="5.3"/>
<circle cx="421.3" cy="551.8" r="5.3"/>
<circle cx="422.5" cy="570.6" r="5.3"/>
<circle cx="423.7" cy="592.7" r="5.3"/>
<circle cx="424.9" cy="614.2" r="5.3"/>
<circle cx="426.1" cy="631.5" r="5.3"/>
<circle cx="427.4" cy="643.0" r="5.3"/>
<circle cx="428.6" cy="649.2" r="5.3"/>
<circle cx="429.8" cy="651.6" r="5.3"/>
<circle cx="431.0" cy="652.0" r="5.3"/>
<circle cx="432.2" cy="651.6" r="5.3"/>
<circle cx="433.4" cy="649.5" r="5.3"/>
<circle cx="434.7" cy="644.1" r="5.3"/>
<circle cx="435.9" cy="633.9" r="5.3"/>
<circle cx="437.1" cy="618.1" r="5.3"/>
<circle cx="438.3" cy="597.7" r="5.3"/>
<circle cx="439.5" cy="575.3" r="5.3"/>
<circle cx="440.8" cy="554.3" r="5.3"/>
<circle cx="442.0" cy="537.4" r="5.3"/>
<circle cx="443.2" cy="525.6" r="5.3"/>
<circle cx="444.4" cy="518.3" r="5.3"/>
<circle cx="445.6" cy="514.4" r="5.3"/>
<circle cx="446.9" cy="512.6" r="5.3"/>
<circle cx="448.1" cy="512.1" r="5.3"/>
<circle cx="449.3" cy="512.0" r="5.3"/>
<circle cx="450.6" cy="512.1" r="5.3"/>
<circle cx="451.8" cy="512.8" r="5.3"/>
<circle cx="453.1" cy="515.0" r="5.3"/>
<circle cx="454.4" cy="520.0" r="5.3"/>
<circle cx="455.6" cy="529.3" r="5.3"/>
<circle cx="456.9" cy="544.0" r="5.3"/>
<circle cx="458.1" cy="564.4" r="5.3"/>
<circle cx="459.4" cy="588.1" r="5.3"/>
<circle cx="460.7" cy="611.3" r="5.3"/>
<circle cx="461.9" cy="629.9" r="5.3"/>
<circle cx="463.2" cy="642.3" r="5.3"/>
<circle cx="464.5" cy="649.0" r="5.3"/>
<circle cx="465.7" cy="651.6" r="5.3"/>
<circle cx="467.0" cy="652.0" r="5.3"/>
<circle cx="468.3" cy="651.5" r="5.3"/>
<circle cx="469.5" cy="648.7" r="5.3"/>
<circle cx="470.8" cy="641.4" r="5.3"/>
<circle cx="472.1" cy="627.9" r="5.3"/>
<circle cx="473.3" cy="607.5" r="5.3"/>
<circle cx="474.6" cy="582.2" r="5.3"/>
<circle cx="475.9" cy="556.2" r="5.3"/>
<circle cx="477.1" cy="534.0" r="5.3"/>
<circle cx="478.4" cy="517.9" r="5.3"/>
<circle cx="479.6" cy="507.8" r="5.3"/>
<circle cx="480.9" cy="502.3" r="5.3"/>
<circle cx="482.2" cy="499.8" r="5.3"/>
<circle cx="483.4" cy="499.1" r="5.3"/>
<circle cx="484.7" cy="499.0" r="5.3"/>
<circle cx="486.0" cy="499.1" r="5.3"/>
<circle cx="487.2" cy="499.8" r="5.3"/>
<circle cx="488.5" cy="502.3" r="5.3"/>
<circle cx="489.7" cy="507.8" r="5.3"/>
<circle cx="491.0" cy="517.9" r="5.3"/>
<circle cx="492.2" cy="534.0" r="5.3"/>
<circle cx="493.5" cy="556.2" r="5.3"/>
<circle cx="494.8" cy="582.2" r="5.3"/>
<circle cx="496.0" cy="607.5" r="5.3"/>
<circle cx="497.3" cy="627.9" r="5.3"/>
<circle cx="498.5" cy="641.4" r="5.3"/>
<circle cx="499.8" cy="648.7" r="5.3"/>
<circle cx="501.0" cy="651.5" r="5.3"/>
<circle cx="502.3" cy="652.0" r="5.3"/>
<circle cx="503.5" cy="651.6" r="5.3"/>
<circle cx="504.8" cy="649.5" r="5.3"/>
<circle cx="506.0" cy="644.0" r="5.3"/>
<circle cx="507.2" cy="633.7" r="5.3"/>
<circle cx="508.5" cy="617.5" r="5.3"/>
<circle cx="509.7" cy="595.9" r="5.3"/>
<circle cx="510.9" cy="570.8" r="5.3"/>
<circle cx="512.1" cy="545.6" r="5.3"/>
<circle cx="513.4" cy="523.7" r="5.3"/>
<circle cx="514.6" cy="506.8" r="5.3"/>
<circle cx="515.8" cy="495.2" r="5.3"/>
<circle cx="517.1" cy="488.2" r="5.3"/>
<circle cx="518.3" cy="484.3" r="5.3"/>
<circle cx="519.5" cy="482.6" r="5.3"/>
<circle cx="520.8" cy="482.1" r="5.3"/>
<circle cx="522.0" cy="482.0" r="5.3"/>
<circle cx="523.3" cy="482.1" r="5.3"/>
<circle cx="524.5" cy="482.7" r="5.3"/>
<circle cx="525.8" cy="484.9" r="5.3"/>
<circle cx="527.1" cy="489.6" r="5.3"/>
<circle cx="528.3" cy="498.3" r="5.3"/>
<circle cx="529.6" cy="512.5" r="5.3"/>
<circle cx="530.9" cy="532.7" r="5.3"/>
<circle cx="532.1" cy="557.9" r="5.3"/>
<circle cx="533.4" cy="584.8" r="5.3"/>
<circle cx="534.7" cy="609.3" r="5.3"/>
<circle cx="535.9" cy="628.2" r="5.3"/>
<circle cx="537.2" cy="640.5" r="5.3"/>
<circle cx="538.5" cy="647.0" r="5.3"/>
<circle cx="539.7" cy="649.6" r="5.3"/>
<circle cx="541.0" cy="653.2" r="5.3"/>
<circle cx="542.3" cy="646.9" r="5.3"/>
<circle cx="543.5" cy="653.5" r="5.3"/>
<circle cx="544.8" cy="647.5" r="5.3"/>
<circle cx="546.1" cy="654.5" r="5.3"/>
<circle cx="547.3" cy="648.7" r="5.3"/>
<circle cx="548.6" cy="655.9" r="5.3"/>
<circle cx="549.8" cy="650.4" r="5.3"/>
<circle cx="551.1" cy="657.7" r="5.3"/>
<circle cx="552.4" cy="652.3" r="5.3"/>
<circle cx="553.6" cy="659.7" r="5.3"/>
<circle cx="554.9" cy="654.3" r="5.3"/>
<circle cx="556.2" cy="661.6" r="5.3"/>
<circle cx="557.4" cy="656.1" r="5.3"/>
<circle cx="558.7" cy="663.3" r="5.3"/>
<circle cx="559.9" cy="657.5" r="5.3"/>
<circle cx="561.2" cy="664.5" r="5.3"/>
<circle cx="562.5" cy="658.5" r="5.3"/>
<circle cx="563.7" cy="665.1" r="5.3"/>
<circle cx="565.0" cy="665.2" r="5.3"/>
<circle cx="566.2" cy="658.7" r="5.3"/>
<circle cx="567.5" cy="664.9" r="5.3"/>
<circle cx="568.8" cy="658.1" r="5.3"/>
<circle cx="570.0" cy="664.1" r="5.3"/>
<circle cx="571.2" cy="657.0" r="5.3"/>
<circle cx="572.5" cy="662.7" r="5.3"/>
<circle cx="573.8" cy="655.5" r="5.3"/>
<circle cx="575.0" cy="661.1" r="5.3"/>
<circle cx="576.2" cy="653.7" r="5.3"/>
<circle cx="577.5" cy="659.2" r="5.3"/>
<circle cx="578.8" cy="651.9" r="5.3"/>
<circle cx="580.0" cy="657.3" r="5.3"/>
<circle cx="581.2" cy="650.1" r="5.3"/>
<circle cx="582.5" cy="655.7" r="5.3"/>
<circle cx="583.8" cy="648.6" r="5.3"/>
<circle cx="585.0" cy="654.3" r="5.3"/>
<circle cx="586.2" cy="647.5" r="5.3"/>
<circle cx="587.5" cy="653.5" r="5.3"/>
<circle cx="588.8" cy="646.9" r="5.3"/>
<circle cx="590.0" cy="650.0" r="5.3"/>
<circle cx="591.3" cy="649.6" r="5.3"/>
<circle cx="592.5" cy="647.0" r="5.3"/>
<circle cx="593.8" cy="640.4" r="5.3"/>
<circle cx="595.0" cy="628.1" r="5.3"/>
<circle cx="596.3" cy="609.1" r="5.3"/>
<circle cx="597.5" cy="584.5" r="5.3"/>
<circle cx="598.8" cy="557.4" r="5.3"/>
<circle cx="600.0" cy="532.0" r="5.3"/>
<circle cx="601.3" cy="511.7" r="5.3"/>
<circle cx="602.5" cy="497.4" r="5.3"/>
<circle cx="603.8" cy="488.6" r="5.3"/>
<circle cx="605.0" cy="483.9" r="5.3"/>
<circle cx="606.3" cy="481.7" r="5.3"/>
<circle cx="607.5" cy="481.1" r="5.3"/>
<circle cx="608.8" cy="481.0" r="5.3"/>
<circle cx="610.1" cy="481.1" r="5.3"/>
<circle cx="611.3" cy="481.9" r="5.3"/>
<circle cx="612.6" cy="484.6" r="5.3"/>
<circle cx="613.9" cy="490.6" r="5.3"/>
<circle cx="615.1" cy="501.6" r="5.3"/>
<circle cx="616.4" cy="519.2" r="5.3"/>
<circle cx="617.6" cy="543.5" r="5.3"/>
<circle cx="618.9" cy="571.8" r="5.3"/>
<circle cx="620.2" cy="599.4" r="5.3"/>
<circle cx="621.4" cy="621.7" r="5.3"/>
<circle cx="622.7" cy="636.5" r="5.3"/>
<circle cx="624.0" cy="644.4" r="5.3"/>
<circle cx="625.2" cy="647.5" r="5.3"/>
<circle cx="626.5" cy="648.0" r="5.3"/>
<circle cx="627.7" cy="647.5" r="5.3"/>
<circle cx="629.0" cy="644.6" r="5.3"/>
<circle cx="630.2" cy="637.2" r="5.3"/>
<circle cx="631.4" cy="623.4" r="5.3"/>
<circle cx="632.7" cy="602.0" r="5.3"/>
<circle cx="633.9" cy="574.3" r="5.3"/>
<circle cx="635.1" cy="543.8" r="5.3"/>
<circle cx="636.4" cy="515.4" r="5.3"/>
<circle cx="637.6" cy="492.5" r="5.3"/>
<circle cx="638.8" cy="476.5" r="5.3"/>
<circle cx="640.1" cy="466.6" r="5.3"/>
<circle cx="641.3" cy="461.2" r="5.3"/>
<circle cx="642.5" cy="458.8" r="5.3"/>
<circle cx="643.8" cy="458.1" r="5.3"/>
<circle cx="645.0" cy="458.0" r="5.3"/>
<circle cx="646.2" cy="458.1" r="5.3"/>
<circle cx="647.5" cy="458.8" r="5.3"/>
<circle cx="648.7" cy="461.2" r="5.3"/>
<circle cx="650.0" cy="466.6" r="5.3"/>
<circle cx="651.2" cy="476.5" r="5.3"/>
<circle cx="652.5" cy="492.5" r="5.3"/>
<circle cx="653.7" cy="515.4" r="5.3"/>
<circle cx="655.0" cy="543.8" r="5.3"/>
<circle cx="656.2" cy="574.3" r="5.3"/>
<circle cx="657.5" cy="602.0" r="5.3"/>
<circle cx="658.7" cy="623.4" r="5.3"/>
<circle cx="660.0" cy="637.2" r="5.3"/>
<circle cx="661.2" cy="644.6" r="5.3"/>
<circle cx="662.5" cy="647.5" r="5.3"/>
<circle cx="663.7" cy="648.0" r="5.3"/>
<circle cx="664.9" cy="647.5" r="5.3"/>
<circle cx="666.2" cy="644.4" r="5.3"/>
<circle cx="667.4" cy="636.4" r="5.3"/>
<circle cx="668.7" cy="621.6" r="5.3"/>
<circle cx="669.9" cy="598.6" r="5.3"/>
<circle cx="671.1" cy="568.9" r="5.3"/>
<circle cx="672.4" cy="536.2" r="5.3"/>
<circle cx="673.6" cy="505.6" r="5.3"/>
<circle cx="674.9" cy="481.1" r="5.3"/>
<circle cx="676.1" cy="463.8" r="5.3"/>
<circle cx="677.3" cy="453.2" r="5.3"/>
<circle cx="678.6" cy="447.5" r="5.3"/>
<circle cx="679.8" cy="444.9" r="5.3"/>
<circle cx="681.1" cy="444.1" r="5.3"/>
<circle cx="682.3" cy="444.0" r="5.3"/>
<circle cx="683.5" cy="444.1" r="5.3"/>
<circle cx="684.8" cy="444.9" r="5.3"/>
<circle cx="686.0" cy="447.5" r="5.3"/>
<circle cx="687.3" cy="453.2" r="5.3"/>
<circle cx="688.5" cy="463.8" r="5.3"/>
<circle cx="689.8" cy="481.1" r="5.3"/>
<circle cx="691.0" cy="505.6" r="5.3"/>
<circle cx="692.3" cy="536.2" r="5.3"/>
<circle cx="693.5" cy="568.9" r="5.3"/>
<circle cx="694.8" cy="598.6" r="5.3"/>
<circle cx="696.0" cy="621.6" r="5.3"/>
<circle cx="697.3" cy="636.4" r="5.3"/>
<circle cx="698.5" cy="644.4" r="5.3"/>
<circle cx="699.8" cy="647.5" r="5.3"/>
<circle cx="701.0" cy="648.0" r="5.3"/>
<circle cx="702.3" cy="647.3" r="5.3"/>
<circle cx="703.5" cy="643.2" r="5.3"/>
<circle cx="704.8" cy="632.6" r="5.3"/>
<circle cx="706.0" cy="612.8" r="5.3"/>
<circle cx="707.3" cy="583.0" r="5.3"/>
<circle cx="708.5" cy="546.1" r="5.3"/>
<circle cx="709.8" cy="508.2" r="5.3"/>
<circle cx="711.1" cy="475.7" r="5.3"/>
<circle cx="712.3" cy="452.2" r="5.3"/>
<circle cx="713.6" cy="437.4" r="5.3"/>
<circle cx="714.8" cy="429.4" r="5.3"/>
<circle cx="716.1" cy="425.8" r="5.3"/>
<circle cx="717.3" cy="424.7" r="5.3"/>
<circle cx="718.6" cy="424.6" r="5.3"/>
<circle cx="719.8" cy="424.7" r="5.3"/>
<circle cx="721.0" cy="425.4" r="5.3"/>
<circle cx="722.2" cy="427.7" r="5.3"/>
<circle cx="723.5" cy="432.7" r="5.3"/>
<circle cx="724.7" cy="442.0" r="5.3"/>
<circle cx="725.9" cy="457.2" r="5.3"/>
<circle cx="727.1" cy="479.3" r="5.3"/>
<circle cx="728.3" cy="508.2" r="5.3"/>
<circle cx="729.5" cy="541.2" r="5.3"/>
<circle cx="730.7" cy="574.2" r="5.3"/>
<circle cx="731.9" cy="602.7" r="5.3"/>
<circle cx="733.1" cy="623.9" r="5.3"/>
<circle cx="734.4" cy="637.5" r="5.3"/>
<circle cx="735.6" cy="644.7" r="5.3"/>
<circle cx="736.8" cy="647.5" r="5.3"/>
<circle cx="738.0" cy="648.0" r="5.3"/>
<circle cx="739.3" cy="647.3" r="5.3"/>
<circle cx="740.5" cy="643.1" r="5.3"/>
<circle cx="741.8" cy="632.2" r="5.3"/>
<circle cx="743.1" cy="611.9" r="5.3"/>
<circle cx="744.4" cy="581.4" r="5.3"/>
<circle cx="745.6" cy="543.5" r="5.3"/>
<circle cx="746.9" cy="504.7" r="5.3"/>
<circle cx="748.2" cy="471.4" r="5.3"/>
<circle cx="749.4" cy="447.3" r="5.3"/>
<circle cx="750.7" cy="432.1" r="5.3"/>
<circle cx="752.0" cy="423.9" r="5.3"/>
<circle cx="753.3" cy="420.3" r="5.3"/>
<circle cx="754.5" cy="419.1" r="5.3"/>
<circle cx="755.8" cy="419.0" r="5.3"/>
<circle cx="757.0" cy="419.1" r="5.3"/>
<circle cx="758.3" cy="420.2" r="5.3"/>
<circle cx="759.5" cy="423.7" r="5.3"/>
<circle cx="760.7" cy="431.6" r="5.3"/>
<circle cx="761.9" cy="446.3" r="5.3"/>
<circle cx="763.2" cy="469.6" r="5.3"/>
<circle cx="764.4" cy="501.7" r="5.3"/>
<circle cx="765.6" cy="539.2" r="5.3"/>
<circle cx="766.9" cy="575.7" r="5.3"/>
<circle cx="768.1" cy="605.1" r="5.3"/>
<circle cx="769.3" cy="624.7" r="5.3"/>
<circle cx="770.5" cy="635.2" r="5.3"/>
<circle cx="771.8" cy="639.3" r="5.3"/>
<circle cx="773.0" cy="643.2" r="5.3"/>
<circle cx="774.2" cy="635.0" r="5.3"/>
<circle cx="775.5" cy="636.2" r="5.3"/>
<circle cx="776.8" cy="622.0" r="5.3"/>
<circle cx="778.0" cy="619.2" r="5.3"/>
<circle cx="779.2" cy="603.6" r="5.3"/>
<circle cx="780.5" cy="602.2" r="5.3"/>
<circle cx="781.8" cy="590.6" r="5.3"/>
<circle cx="783.0" cy="592.0" r="5.3"/>
<circle cx="784.3" cy="592.1" r="5.3"/>
<circle cx="785.5" cy="592.8" r="5.3"/>
<circle cx="786.8" cy="595.3" r="5.3"/>
<circle cx="788.1" cy="600.9" r="5.3"/>
<circle cx="789.4" cy="610.9" r="5.3"/>
<circle cx="790.6" cy="624.7" r="5.3"/>
<circle cx="791.9" cy="639.3" r="5.3"/>
<circle cx="793.2" cy="650.6" r="5.3"/>
<circle cx="794.5" cy="657.1" r="5.3"/>
<circle cx="795.7" cy="659.6" r="5.3"/>
<circle cx="797.0" cy="663.2" r="5.3"/>
<circle cx="798.2" cy="656.7" r="5.3"/>
<circle cx="799.5" cy="662.6" r="5.3"/>
<circle cx="800.7" cy="655.5" r="5.3"/>
<circle cx="801.9" cy="661.0" r="5.3"/>
<circle cx="803.2" cy="653.6" r="5.3"/>
<circle cx="804.4" cy="658.8" r="5.3"/>
<circle cx="805.6" cy="651.2" r="5.3"/>
<circle cx="806.8" cy="656.4" r="5.3"/>
<circle cx="808.1" cy="649.0" r="5.3"/>
<circle cx="809.3" cy="654.5" r="5.3"/>
<circle cx="810.5" cy="647.4" r="5.3"/>
<circle cx="811.8" cy="653.3" r="5.3"/>
<circle cx="813.0" cy="650.0" r="5.3"/>
<circle cx="814.3" cy="649.5" r="5.3"/>
<circle cx="815.5" cy="646.2" r="5.3"/>
<circle cx="816.8" cy="638.1" r="5.3"/>
<circle cx="818.0" cy="622.6" r="5.3"/>
<circle cx="819.3" cy="598.1" r="5.3"/>
<circle cx="820.6" cy="563.7" r="5.3"/>
<circle cx="821.8" cy="521.0" r="5.3"/>
<circle cx="823.1" cy="473.7" r="5.3"/>
<circle cx="824.4" cy="426.9" r="5.3"/>
<circle cx="825.6" cy="385.5" r="5.3"/>
<circle cx="826.9" cy="352.4" r="5.3"/>
<circle cx="828.1" cy="328.2" r="5.3"/>
<circle cx="829.4" cy="312.0" r="5.3"/>
<circle cx="830.7" cy="302.1" r="5.3"/>
<circle cx="831.9" cy="296.8" r="5.3"/>
<circle cx="833.2" cy="294.4" r="5.3"/>
<circle cx="834.4" cy="293.6" r="5.3"/>
<circle cx="835.7" cy="293.5" r="5.3"/>
<circle cx="836.9" cy="293.7" r="5.3"/>
<circle cx="838.2" cy="295.5" r="5.3"/>
<circle cx="839.4" cy="301.1" r="5.3"/>
<circle cx="840.6" cy="313.7" r="5.3"/>
<circle cx="841.9" cy="337.0" r="5.3"/>
<circle cx="843.1" cy="374.2" r="5.3"/>
<circle cx="844.4" cy="425.4" r="5.3"/>
<circle cx="845.6" cy="485.2" r="5.3"/>
<circle cx="846.8" cy="543.4" r="5.3"/>
<circle cx="848.1" cy="590.4" r="5.3"/>
<circle cx="849.3" cy="621.6" r="5.3"/>
<circle cx="850.5" cy="638.4" r="5.3"/>
<circle cx="851.8" cy="644.9" r="5.3"/>
<circle cx="853.0" cy="646.0" r="5.3"/>
<circle cx="854.2" cy="645.3" r="5.3"/>
<circle cx="855.5" cy="640.9" r="5.3"/>
<circle cx="856.8" cy="629.8" r="5.3"/>
<circle cx="858.0" cy="608.9" r="5.3"/>
<circle cx="859.2" cy="576.3" r="5.3"/>
<circle cx="860.5" cy="532.4" r="5.3"/>
<circle cx="861.8" cy="481.6" r="5.3"/>
<circle cx="863.0" cy="430.7" r="5.3"/>
<circle cx="864.2" cy="386.3" r="5.3"/>
<circle cx="865.5" cy="352.2" r="5.3"/>
<circle cx="866.8" cy="328.8" r="5.3"/>
<circle cx="868.0" cy="314.4" r="5.3"/>
<circle cx="869.2" cy="306.7" r="5.3"/>
<circle cx="870.5" cy="303.2" r="5.3"/>
<circle cx="871.8" cy="302.1" r="5.3"/>
<circle cx="873.0" cy="302.0" r="5.3"/>
<circle cx="874.2" cy="302.2" r="5.3"/>
<circle cx="875.5" cy="303.5" r="5.3"/>
<circle cx="876.7" cy="307.8" r="5.3"/>
<circle cx="877.9" cy="317.5" r="5.3"/>
<circle cx="879.2" cy="335.5" r="5.3"/>
<circle cx="880.4" cy="364.5" r="5.3"/>
<circle cx="881.6" cy="405.9" r="5.3"/>
<circle cx="882.9" cy="457.4" r="5.3"/>
<circle cx="884.1" cy="512.6" r="5.3"/>
<circle cx="885.3" cy="562.8" r="5.3"/>
<circle cx="886.6" cy="601.4" r="5.3"/>
<circle cx="887.8" cy="626.5" r="5.3"/>
<circle cx="889.0" cy="639.9" r="5.3"/>
<circle cx="890.3" cy="645.1" r="5.3"/>
<circle cx="891.5" cy="646.0" r="5.3"/>
<circle cx="892.7" cy="645.3" r="5.3"/>
<circle cx="894.0" cy="641.0" r="5.3"/>
<circle cx="895.2" cy="630.1" r="5.3"/>
<circle cx="896.5" cy="609.6" r="5.3"/>
<circle cx="897.7" cy="577.6" r="5.3"/>
<circle cx="898.9" cy="534.5" r="5.3"/>
<circle cx="900.2" cy="484.7" r="5.3"/>
<circle cx="901.4" cy="434.7" r="5.3"/>
<circle cx="902.6" cy="391.1" r="5.3"/>
<circle cx="903.9" cy="357.6" r="5.3"/>
<circle cx="905.1" cy="334.7" r="5.3"/>
<circle cx="906.3" cy="320.6" r="5.3"/>
<circle cx="907.6" cy="313.0" r="5.3"/>
<circle cx="908.8" cy="309.6" r="5.3"/>
<circle cx="910.1" cy="308.5" r="5.3"/>
<circle cx="911.3" cy="308.4" r="5.3"/>
<circle cx="912.5" cy="308.6" r="5.3"/>
<circle cx="913.8" cy="309.9" r="5.3"/>
<circle cx="915.0" cy="314.1" r="5.3"/>
<circle cx="916.3" cy="323.6" r="5.3"/>
<circle cx="917.5" cy="341.2" r="5.3"/>
<circle cx="918.8" cy="369.7" r="5.3"/>
<circle cx="920.0" cy="410.4" r="5.3"/>
<circle cx="921.3" cy="460.9" r="5.3"/>
<circle cx="922.5" cy="515.1" r="5.3"/>
<circle cx="923.8" cy="564.3" r="5.3"/>
<circle cx="925.0" cy="602.2" r="5.3"/>
<circle cx="926.3" cy="626.9" r="5.3"/>
<circle cx="927.5" cy="640.0" r="5.3"/>
<circle cx="928.8" cy="645.2" r="5.3"/>
<circle cx="930.0" cy="646.0" r="5.3"/>
<circle cx="931.2" cy="645.2" r="5.3"/>
<circle cx="932.5" cy="640.1" r="5.3"/>
<circle cx="933.7" cy="627.2" r="5.3"/>
<circle cx="934.9" cy="603.0" r="5.3"/>
<circle cx="936.1" cy="565.8" r="5.3"/>
<circle cx="937.4" cy="517.5" r="5.3"/>
<circle cx="938.6" cy="464.3" r="5.3"/>
<circle cx="939.8" cy="414.7" r="5.3"/>
<circle cx="941.0" cy="374.8" r="5.3"/>
<circle cx="942.3" cy="346.8" r="5.3"/>
<circle cx="943.5" cy="329.6" r="5.3"/>
<circle cx="944.7" cy="320.2" r="5.3"/>
<circle cx="945.9" cy="316.1" r="5.3"/>
<circle cx="947.2" cy="314.8" r="5.3"/>
<circle cx="948.4" cy="314.6" r="5.3"/>
<circle cx="949.6" cy="314.8" r="5.3"/>
<circle cx="950.9" cy="316.1" r="5.3"/>
<circle cx="952.1" cy="320.2" r="5.3"/>
<circle cx="953.4" cy="329.6" r="5.3"/>
<circle cx="954.6" cy="346.8" r="5.3"/>
<circle cx="955.8" cy="374.8" r="5.3"/>
<circle cx="957.1" cy="414.7" r="5.3"/>
<circle cx="958.3" cy="464.3" r="5.3"/>
<circle cx="959.6" cy="517.5" r="5.3"/>
<circle cx="960.8" cy="565.8" r="5.3"/>
<circle cx="962.0" cy="603.0" r="5.3"/>
<circle cx="963.3" cy="627.2" r="5.3"/>
<circle cx="964.5" cy="640.1" r="5.3"/>
<circle cx="965.8" cy="645.2" r="5.3"/>
<circle cx="967.0" cy="646.0" r="5.3"/>
<circle cx="968.2" cy="645.2" r="5.3"/>
<circle cx="969.5" cy="640.6" r="5.3"/>
<circle cx="970.7" cy="628.8" r="5.3"/>
<circle cx="972.0" cy="606.6" r="5.3"/>
<circle cx="973.2" cy="572.4" r="5.3"/>
<circle cx="974.4" cy="528.0" r="5.3"/>
<circle cx="975.7" cy="479.2" r="5.3"/>
<circle cx="976.9" cy="433.7" r="5.3"/>
<circle cx="978.2" cy="397.1" r="5.3"/>
<circle cx="979.4" cy="371.4" r="5.3"/>
<circle cx="980.6" cy="355.5" r="5.3"/>
<circle cx="981.9" cy="347.0" r="5.3"/>
<circle cx="983.1" cy="343.1" r="5.3"/>
<circle cx="984.4" cy="341.9" r="5.3"/>
<circle cx="985.6" cy="341.8" r="5.3"/>
<circle cx="986.8" cy="341.9" r="5.3"/>
<circle cx="988.1" cy="342.9" r="5.3"/>
<circle cx="989.3" cy="346.0" r="5.3"/>
<circle cx="990.5" cy="352.8" r="5.3"/>
<circle cx="991.8" cy="365.5" r="5.3"/>
<circle cx="993.0" cy="386.2" r="5.3"/>
<circle cx="994.3" cy="416.3" r="5.3"/>
<circle cx="995.5" cy="455.6" r="5.3"/>
<circle cx="996.7" cy="500.6" r="5.3"/>
<circle cx="998.0" cy="545.6" r="5.3"/>
<circle cx="999.2" cy="584.3" r="5.3"/>
<circle cx="1000.5" cy="613.2" r="5.3"/>
<circle cx="1001.7" cy="631.7" r="5.3"/>
<circle cx="1002.9" cy="641.5" r="5.3"/>
<circle cx="1004.2" cy="645.4" r="5.3"/>
<circle cx="1005.4" cy="646.0" r="5.3"/>
<circle cx="1006.6" cy="644.3" r="5.3"/>
<circle cx="1007.8" cy="633.4" r="5.3"/>
<circle cx="1009.0" cy="607.4" r="5.3"/>
<circle cx="1010.2" cy="572.8" r="5.3"/>
<circle cx="1011.4" cy="546.1" r="5.3"/>
<circle cx="1012.6" cy="533.2" r="5.3"/>
<circle cx="1013.8" cy="529.4" r="5.3"/>
<circle cx="1015.0" cy="529.0" r="5.3"/>
<circle cx="1016.2" cy="529.1" r="5.3"/>
<circle cx="1017.5" cy="529.9" r="5.3"/>
<circle cx="1018.7" cy="532.5" r="5.3"/>
<circle cx="1019.9" cy="538.4" r="5.3"/>
<circle cx="1021.2" cy="549.2" r="5.3"/>
<circle cx="1022.4" cy="566.0" r="5.3"/>
<circle cx="1023.6" cy="587.9" r="5.3"/>
<circle cx="1024.8" cy="611.3" r="5.3"/>
<circle cx="1026.1" cy="631.3" r="5.3"/>
<circle cx="1027.3" cy="645.1" r="5.3"/>
<circle cx="1028.5" cy="652.6" r="5.3"/>
<circle cx="1029.8" cy="655.5" r="5.3"/>
<circle cx="1031.0" cy="656.0" r="5.3"/>
<circle cx="1032.3" cy="655.8" r="5.3"/>
<circle cx="1033.5" cy="654.9" r="5.3"/>
<circle cx="1034.8" cy="652.4" r="5.3"/>
<circle cx="1036.0" cy="647.8" r="5.3"/>
<circle cx="1037.3" cy="640.4" r="5.3"/>
<circle cx="1038.6" cy="629.7" r="5.3"/>
<circle cx="1039.8" cy="615.5" r="5.3"/>
<circle cx="1041.1" cy="598.0" r="5.3"/>
<circle cx="1042.3" cy="578.1" r="5.3"/>
<circle cx="1043.6" cy="557.2" r="5.3"/>
<circle cx="1044.8" cy="536.9" r="5.3"/>
<circle cx="1046.1" cy="518.5" r="5.3"/>
<circle cx="1047.4" cy="503.0" r="5.3"/>
<circle cx="1048.6" cy="490.7" r="5.3"/>
<circle cx="1049.9" cy="481.5" r="5.3"/>
<circle cx="1051.1" cy="475.0" r="5.3"/>
<circle cx="1052.4" cy="470.7" r="5.3"/>
<circle cx="1053.7" cy="468.0" r="5.3"/>
<circle cx="1054.9" cy="466.6" r="5.3"/>
<circle cx="1056.2" cy="465.9" r="5.3"/>
<circle cx="1057.4" cy="465.7" r="5.3"/>
<circle cx="1058.7" cy="465.7" r="5.3"/>
<circle cx="1059.9" cy="465.8" r="5.3"/>
<circle cx="1061.2" cy="466.4" r="5.3"/>
<circle cx="1062.4" cy="468.2" r="5.3"/>
<circle cx="1063.7" cy="472.3" r="5.3"/>
<circle cx="1064.9" cy="480.0" r="5.3"/>
<circle cx="1066.1" cy="492.4" r="5.3"/>
<circle cx="1067.4" cy="510.6" r="5.3"/>
<circle cx="1068.6" cy="534.3" r="5.3"/>
<circle cx="1069.8" cy="561.4" r="5.3"/>
<circle cx="1071.1" cy="588.5" r="5.3"/>
<circle cx="1072.3" cy="611.8" r="5.3"/>
<circle cx="1073.5" cy="629.2" r="5.3"/>
<circle cx="1074.8" cy="640.4" r="5.3"/>
<circle cx="1076.0" cy="646.3" r="5.3"/>
<circle cx="1077.3" cy="648.6" r="5.3"/>
<circle cx="1078.5" cy="649.0" r="5.3"/>
<circle cx="1079.7" cy="648.6" r="5.3"/>
<circle cx="1081.0" cy="646.4" r="5.3"/>
<circle cx="1082.2" cy="640.8" r="5.3"/>
<circle cx="1083.5" cy="630.2" r="5.3"/>
<circle cx="1084.7" cy="613.6" r="5.3"/>
<circle cx="1085.9" cy="591.4" r="5.3"/>
<circle cx="1087.2" cy="565.6" r="5.3"/>
<circle cx="1088.4" cy="539.7" r="5.3"/>
<circle cx="1089.6" cy="517.2" r="5.3"/>
<circle cx="1090.9" cy="499.9" r="5.3"/>
<circle cx="1092.1" cy="488.0" r="5.3"/>
<circle cx="1093.3" cy="480.7" r="5.3"/>
<circle cx="1094.6" cy="476.8" r="5.3"/>
<circle cx="1095.8" cy="475.0" r="5.3"/>
<circle cx="1097.1" cy="474.5" r="5.3"/>
<circle cx="1098.3" cy="474.4" r="5.3"/>
<circle cx="1099.5" cy="474.5" r="5.3"/>
<circle cx="1100.8" cy="475.0" r="5.3"/>
<circle cx="1102.0" cy="476.8" r="5.3"/>
<circle cx="1103.2" cy="480.7" r="5.3"/>
<circle cx="1104.5" cy="488.0" r="5.3"/>
<circle cx="1105.7" cy="499.9" r="5.3"/>
<circle cx="1106.9" cy="517.2" r="5.3"/>
<circle cx="1108.2" cy="539.7" r="5.3"/>
<circle cx="1109.4" cy="565.6" r="5.3"/>
<circle cx="1110.6" cy="591.4" r="5.3"/>
<circle cx="1111.8" cy="613.6" r="5.3"/>
<circle cx="1113.1" cy="630.2" r="5.3"/>
<circle cx="1114.3" cy="640.8" r="5.3"/>
<circle cx="1115.5" cy="646.4" r="5.3"/>
<circle cx="1116.8" cy="648.6" r="5.3"/>
<circle cx="1118.0" cy="649.0" r="5.3"/>
<circle cx="1119.2" cy="648.6" r="5.3"/>
<circle cx="1120.5" cy="646.3" r="5.3"/>
<circle cx="1121.7" cy="640.5" r="5.3"/>
<circle cx="1123.0" cy="629.6" r="5.3"/>
<circle cx="1124.2" cy="612.7" r="5.3"/>
<circle cx="1125.5" cy="590.8" r="5.3"/>
<circle cx="1126.7" cy="566.8" r="5.3"/>
<circle cx="1128.0" cy="544.3" r="5.3"/>
<circle cx="1129.2" cy="526.3" r="5.3"/>
<circle cx="1130.5" cy="513.6" r="5.3"/>
<circle cx="1131.7" cy="505.8" r="5.3"/>
<circle cx="1133.0" cy="501.5" r="5.3"/>
<circle cx="1134.2" cy="499.7" r="5.3"/>
<circle cx="1135.5" cy="499.1" r="5.3"/>
<circle cx="1136.7" cy="499.0" r="5.3"/>
<circle cx="1137.9" cy="499.1" r="5.3"/>
<circle cx="1139.2" cy="499.5" r="5.3"/>
<circle cx="1140.4" cy="501.1" r="5.3"/>
<circle cx="1141.7" cy="504.5" r="5.3"/>
<circle cx="1142.9" cy="510.8" r="5.3"/>
<circle cx="1144.1" cy="521.2" r="5.3"/>
<circle cx="1145.4" cy="536.2" r="5.3"/>
<circle cx="1146.6" cy="555.9" r="5.3"/>
<circle cx="1147.8" cy="578.4" r="5.3"/>
<circle cx="1149.1" cy="600.8" r="5.3"/>
<circle cx="1150.3" cy="620.2" r="5.3"/>
<circle cx="1151.5" cy="634.6" r="5.3"/>
<circle cx="1152.8" cy="643.9" r="5.3"/>
<circle cx="1154.0" cy="648.8" r="5.3"/>
<circle cx="1155.3" cy="650.7" r="5.3"/>
<circle cx="1156.5" cy="651.0" r="5.3"/>
<circle cx="1157.7" cy="650.6" r="5.3"/>
<circle cx="1159.0" cy="648.2" r="5.3"/>
<circle cx="1160.2" cy="641.9" r="5.3"/>
<circle cx="1161.5" cy="630.3" r="5.3"/>
<circle cx="1162.7" cy="612.9" r="5.3"/>
<circle cx="1164.0" cy="591.2" r="5.3"/>
<circle cx="1165.2" cy="569.0" r="5.3"/>
<circle cx="1166.4" cy="550.0" r="5.3"/>
<circle cx="1167.7" cy="536.2" r="5.3"/>
<circle cx="1168.9" cy="527.5" r="5.3"/>
<circle cx="1170.2" cy="522.8" r="5.3"/>
<circle cx="1171.4" cy="520.7" r="5.3"/>
<circle cx="1172.7" cy="520.1" r="5.3"/>
<circle cx="1173.9" cy="520.0" r="5.3"/>
<circle cx="1175.2" cy="520.0" r="5.3"/>
<circle cx="1176.4" cy="520.2" r="5.3"/>
<circle cx="1177.7" cy="520.8" r="5.3"/>
<circle cx="1178.9" cy="522.1" r="5.3"/>
<circle cx="1180.2" cy="524.4" r="5.3"/>
<circle cx="1181.4" cy="528.3" r="5.3"/>
<circle cx="1182.7" cy="534.0" r="5.3"/>
<circle cx="1183.9" cy="542.2" r="5.3"/>
<circle cx="1185.2" cy="552.8" r="5.3"/>
<circle cx="1186.5" cy="565.6" r="5.3"/>
<circle cx="1187.7" cy="580.0" r="5.3"/>
<circle cx="1189.0" cy="594.7" r="5.3"/>
<circle cx="1190.2" cy="608.3" r="5.3"/>
<circle cx="1191.5" cy="619.9" r="5.3"/>
<circle cx="1192.7" cy="628.9" r="5.3"/>
<circle cx="1194.0" cy="635.1" r="5.3"/>
<circle cx="1195.2" cy="639.0" r="5.3"/>
<circle cx="1196.5" cy="641.0" r="5.3"/>
<circle cx="1197.7" cy="641.9" r="5.3"/>
<circle cx="1199.0" cy="642.0" r="5.3"/>
</g>
<text transform="translate(143.65,163.00) scale(0.9391,1)" font-family='"Liberation Sans", sans-serif' font-weight="bold" font-size="83.67" fill="#2b2b2b" stroke="#fff" stroke-width="1.2" stroke-linejoin="round">8</text>
<text transform="translate(143.19,297.70) scale(0.9586,1)" font-family='"Liberation Sans", sans-serif' font-weight="bold" font-size="83.67" fill="#2b2b2b" stroke="#fff" stroke-width="1.2" stroke-linejoin="round">6</text>
<text transform="translate(145.11,435.00) scale(0.8645,1)" font-family='"Liberation Sans", sans-serif' font-weight="bold" font-size="83.67" fill="#2b2b2b" stroke="#fff" stroke-width="1.2" stroke-linejoin="round">4</text>
<text transform="translate(143.39,573.10) scale(0.9586,1)" font-family='"Liberation Sans", sans-serif' font-weight="bold" font-size="83.67" fill="#2b2b2b" stroke="#fff" stroke-width="1.2" stroke-linejoin="round">2</text>
<text transform="translate(142.94,710.00) scale(0.9738,1)" font-family='"Liberation Sans", sans-serif' font-weight="bold" font-size="83.67" fill="#2b2b2b" stroke="#fff" stroke-width="1.2" stroke-linejoin="round">0</text>
<text transform="translate(239.53,851.85) scale(0.9915,1)" font-family='"Liberation Sans", sans-serif' font-weight="bold" font-size="80.97" fill="#2b2b2b" stroke="#fff" stroke-width="0.7" stroke-linejoin="round">1520</text>
<text transform="translate(473.33,851.85) scale(0.9915,1)" font-family='"Liberation Sans", sans-serif' font-weight="bold" font-size="80.97" fill="#2b2b2b" stroke="#fff" stroke-width="0.7" stroke-linejoin="round">1540</text>
<text transform="translate(705.33,851.85) scale(0.9915,1)" font-family='"Liberation Sans", sans-serif' font-weight="bold" font-size="80.97" fill="#2b2b2b" stroke="#fff" stroke-width="0.7" stroke-linejoin="round">1560</text>
<text transform="translate(937.13,851.85) scale(0.9915,1)" font-family='"Liberation Sans", sans-serif' font-weight="bold" font-size="80.97" fill="#2b2b2b" stroke="#fff" stroke-width="0.7" stroke-linejoin="round">1580</text>
<text transform="translate(217.18,123.10) scale(1.0000,1)" font-family='"Liberation Sans", sans-serif' font-weight="normal" font-size="96.06" fill="#2b2b2b" stroke="#fff" stroke-width="2.2" stroke-linejoin="round">×</text>
<text transform="translate(280.74,112.90) scale(0.9582,1)" font-family='"Liberation Sans", sans-serif' font-weight="bold" font-size="81.11" fill="#2b2b2b" stroke="#fff" stroke-width="0.8" stroke-linejoin="round">10</text>
<text transform="translate(371.12,72.40) scale(1.0000,1)" font-family='"Liberation Sans", sans-serif' font-weight="bold" font-size="65.11" fill="#2b2b2b" stroke="#fff" stroke-width="0.8" stroke-linejoin="round">4</text>
<text transform="translate(351.00,962.20) scale(0.9679,1)" font-family='"Liberation Sans", sans-serif' font-weight="bold" font-size="92" fill="#000">Wavelength (nm)</text>
<text transform="translate(114.55,816.53) rotate(-90) scale(0.9738,1)" font-family='"Liberation Sans", sans-serif' font-weight="bold" font-size="91.03" fill="#000" stroke="#fff" stroke-width="1.1" stroke-linejoin="round">Intensity (Counts)</text>
<text transform="translate(215.43,547.60) scale(0.9633,1)" font-family='"Liberation Sans", sans-serif' font-weight="normal" font-size="57.5" fill="#000" stroke="#000" stroke-width="3.4" stroke-linejoin="round">Ch1</text>
<text transform="translate(366.93,464.80) scale(0.9619,1)" font-family='"Liberation Sans", sans-serif' font-weight="normal" font-size="66" fill="#000" stroke="#000" stroke-width="3.4" stroke-linejoin="round">Ch 2</text>
<text transform="translate(602.94,393.80) scale(0.9583,1)" font-family='"Liberation Sans", sans-serif' font-weight="normal" font-size="66" fill="#000" stroke="#000" stroke-width="3.4" stroke-linejoin="round">Ch 3</text>
<text transform="translate(856.46,269.90) scale(0.9512,1)" font-family='"Liberation Sans", sans-serif' font-weight="normal" font-size="66" fill="#000" stroke="#000" stroke-width="3.4" stroke-linejoin="round">Ch 4</text>
<text transform="translate(1053.97,436.00) scale(0.9496,1)" font-family='"Liberation Sans", sans-serif' font-weight="normal" font-size="66" fill="#000" stroke="#000" stroke-width="3.4" stroke-linejoin="round">Ch 5</text>
<text transform="translate(1083.53,93.70) scale(0.9927,1)" font-family='"Liberation Sans", sans-serif' font-weight="bold" font-size="70" fill="#000">(a)</text>
<text transform="translate(215.91,716.80) scale(1.0133,1)" font-family='"DejaVu Sans Mono", "Liberation Mono", monospace' font-weight="bold" font-size="50" fill="#d23cd2">123</text>
<text transform="translate(338.74,716.80) scale(1.1823,1)" font-family='"DejaVu Sans Mono", "Liberation Mono", monospace' font-weight="bold" font-size="50" fill="#d23cd2">4</text>
<text transform="translate(383.00,716.80) scale(1.0000,1)" font-family='"DejaVu Sans Mono", "Liberation Mono", monospace' font-weight="bold" font-size="50" fill="#d23cd2">.</text>
<text transform="translate(422.50,716.80) scale(1.0000,1)" font-family='"DejaVu Sans Mono", "Liberation Mono", monospace' font-weight="bold" font-size="50" fill="#d23cd2">.</text>
<text transform="translate(456.50,716.80) scale(1.0000,1)" font-family='"DejaVu Sans Mono", "Liberation Mono", monospace' font-weight="bold" font-size="50" fill="#d23cd2">.</text>
<text transform="translate(486.77,716.80) scale(1.1937,1)" font-family='"DejaVu Sans Mono", "Liberation Mono", monospace' font-weight="bold" font-size="50" fill="#d23cd2">8</text>
<text transform="translate(610.85,717.70) scale(1.1440,1)" font-family='"DejaVu Sans Mono", "Liberation Mono", monospace' font-weight="bold" font-size="50" fill="#d23cd2">9</text>
<text transform="translate(639.00,717.70) scale(1.0000,1)" font-family='"DejaVu Sans Mono", "Liberation Mono", monospace' font-weight="bold" font-size="50" fill="#d23cd2">.</text>
<text transform="translate(665.50,717.70) scale(1.0000,1)" font-family='"DejaVu Sans Mono", "Liberation Mono", monospace' font-weight="bold" font-size="50" fill="#d23cd2">.</text>
<text transform="translate(701.60,717.70) scale(1.0000,1)" font-family='"DejaVu Sans Mono", "Liberation Mono", monospace' font-weight="bold" font-size="50" fill="#d23cd2">.</text>
<text transform="translate(727.79,717.70) scale(1.0177,1)" font-family='"DejaVu Sans Mono", "Liberation Mono", monospace' font-weight="bold" font-size="50" fill="#d23cd2">13</text>
<text transform="translate(819.82,720.60) scale(1.0548,1)" font-family='"DejaVu Sans Mono", "Liberation Mono", monospace' font-weight="bold" font-size="50" fill="#d23cd2">14</text>
<text transform="translate(883.30,720.60) scale(1.0000,1)" font-family='"DejaVu Sans Mono", "Liberation Mono", monospace' font-weight="bold" font-size="50" fill="#d23cd2">.</text>
<text transform="translate(905.00,720.60) scale(1.0000,1)" font-family='"DejaVu Sans Mono", "Liberation Mono", monospace' font-weight="bold" font-size="50" fill="#d23cd2">.</text>
<text transform="translate(923.60,720.60) scale(1.0000,1)" font-family='"DejaVu Sans Mono", "Liberation Mono", monospace' font-weight="bold" font-size="50" fill="#d23cd2">.</text>
<text transform="translate(953.97,720.60) scale(1.0438,1)" font-family='"DejaVu Sans Mono", "Liberation Mono", monospace' font-weight="bold" font-size="50" fill="#d23cd2">18</text>
<text transform="translate(1033.14,721.50) scale(1.0501,1)" font-family='"DejaVu Sans Mono", "Liberation Mono", monospace' font-weight="bold" font-size="50" fill="#d23cd2">19</text>
<text transform="translate(1095.00,721.50) scale(1.0000,1)" font-family='"DejaVu Sans Mono", "Liberation Mono", monospace' font-weight="bold" font-size="50" fill="#d23cd2">.</text>
<text transform="translate(1109.60,721.50) scale(1.0000,1)" font-family='"DejaVu Sans Mono", "Liberation Mono", monospace' font-weight="bold" font-size="50" fill="#d23cd2">.</text>
<text transform="translate(1133.17,721.50) scale(1.0304,1)" font-family='"DejaVu Sans Mono", "Liberation Mono", monospace' font-weight="bold" font-size="50" fill="#d23cd2">22</text>
<line x1="210.90" y1="1123.50" x2="1199.60" y2="1123.50" stroke="#8c8c8c" stroke-width="3.2" stroke-linecap="butt"/>
<line x1="210.90" y1="1125.10" x2="210.90" y2="1740.80" stroke="#404040" stroke-width="3.2" stroke-linecap="butt"/>
<line x1="1199.60" y1="1125.10" x2="1199.60" y2="1740.80" stroke="#505050" stroke-width="3.2" stroke-linecap="butt"/>
<line x1="209.30" y1="1740.80" x2="1201.20" y2="1740.80" stroke="#505050" stroke-width="3.2" stroke-linecap="butt"/>
<line x1="327.00" y1="1740.80" x2="327.00" y2="1730.80" stroke="#555" stroke-width="3" stroke-linecap="butt"/>
<line x1="327.00" y1="1125.10" x2="327.00" y2="1135.10" stroke="#8a8a8a" stroke-width="3" stroke-linecap="butt"/>
<line x1="559.40" y1="1740.80" x2="559.40" y2="1730.80" stroke="#555" stroke-width="3" stroke-linecap="butt"/>
<line x1="559.40" y1="1125.10" x2="559.40" y2="1135.10" stroke="#8a8a8a" stroke-width="3" stroke-linecap="butt"/>
<line x1="792.40" y1="1740.80" x2="792.40" y2="1730.80" stroke="#555" stroke-width="3" stroke-linecap="butt"/>
<line x1="792.40" y1="1125.10" x2="792.40" y2="1135.10" stroke="#8a8a8a" stroke-width="3" stroke-linecap="butt"/>
<line x1="1024.60" y1="1740.80" x2="1024.60" y2="1730.80" stroke="#555" stroke-width="3" stroke-linecap="butt"/>
<line x1="1024.60" y1="1125.10" x2="1024.60" y2="1135.10" stroke="#8a8a8a" stroke-width="3" stroke-linecap="butt"/>
<line x1="210.90" y1="1261.20" x2="220.90" y2="1261.20" stroke="#777" stroke-width="3" stroke-linecap="butt"/>
<line x1="1199.60" y1="1261.20" x2="1189.60" y2="1261.20" stroke="#8a8a8a" stroke-width="3" stroke-linecap="butt"/>
<line x1="210.90" y1="1398.80" x2="220.90" y2="1398.80" stroke="#777" stroke-width="3" stroke-linecap="butt"/>
<line x1="1199.60" y1="1398.80" x2="1189.60" y2="1398.80" stroke="#8a8a8a" stroke-width="3" stroke-linecap="butt"/>
<line x1="210.90" y1="1536.50" x2="220.90" y2="1536.50" stroke="#777" stroke-width="3" stroke-linecap="butt"/>
<line x1="1199.60" y1="1536.50" x2="1189.60" y2="1536.50" stroke="#8a8a8a" stroke-width="3" stroke-linecap="butt"/>
<line x1="210.90" y1="1674.50" x2="220.90" y2="1674.50" stroke="#777" stroke-width="3" stroke-linecap="butt"/>
<line x1="1199.60" y1="1674.50" x2="1189.60" y2="1674.50" stroke="#8a8a8a" stroke-width="3" stroke-linecap="butt"/>
<path d="M211.0,1415.0 L212.3,1415.3 L213.5,1417.7 L214.8,1425.7 L216.0,1443.7 L217.3,1475.8 L218.5,1520.3 L219.8,1567.2 L221.0,1603.7 L222.3,1624.6 L223.5,1632.7 L224.8,1634.0 L226.0,1633.1 L227.3,1627.6 L228.5,1613.6 L229.7,1587.4 L230.9,1548.1 L232.2,1499.3 L233.4,1449.2 L234.6,1406.3 L235.9,1375.1 L237.1,1355.6 L238.3,1345.0 L239.5,1340.3 L240.8,1338.9 L242.0,1338.7 L243.2,1338.9 L244.5,1340.3 L245.7,1344.9 L247.0,1355.3 L248.2,1374.5 L249.5,1405.2 L250.7,1447.3 L251.9,1496.6 L253.2,1544.5 L254.4,1583.2 L255.7,1608.9 L256.9,1622.7 L258.2,1628.1 L259.4,1629.0 L260.7,1628.0 L262.0,1621.6 L263.3,1605.4 L264.6,1575.1 L265.9,1529.5 L267.2,1473.0 L268.4,1415.0 L269.7,1365.3 L271.0,1329.2 L272.3,1306.6 L273.6,1294.3 L274.9,1288.9 L276.2,1287.2 L277.5,1287.0 L278.8,1287.2 L280.0,1289.4 L281.3,1296.3 L282.6,1311.9 L283.8,1340.7 L285.1,1385.5 L286.4,1443.9 L287.7,1506.0 L288.9,1559.4 L290.2,1596.1 L291.5,1616.0 L292.7,1623.7 L294.0,1625.0 L295.2,1623.1 L296.4,1611.5 L297.6,1581.8 L298.8,1532.3 L300.0,1475.4 L301.2,1429.4 L302.4,1402.2 L303.6,1390.1 L304.8,1386.4 L306.0,1386.0 L307.2,1388.3 L308.3,1410.3 L309.5,1479.5 L310.7,1575.5 L311.8,1627.6 L313.0,1639.2 L314.2,1633.6 L315.3,1642.2 L316.5,1638.8 L317.7,1648.2 L318.8,1644.0 L320.0,1651.2 L321.2,1645.1 L322.3,1652.2 L323.5,1646.8 L324.7,1654.2 L325.8,1648.5 L327.0,1655.2 L328.2,1648.5 L329.3,1654.2 L330.5,1646.8 L331.7,1652.2 L332.8,1645.1 L334.0,1651.2 L335.3,1644.1 L336.6,1648.6 L337.9,1639.4 L339.1,1642.6 L340.4,1633.4 L341.7,1637.9 L343.0,1634.0 L344.2,1633.5 L345.5,1630.8 L346.7,1623.9 L348.0,1610.9 L349.2,1590.4 L350.5,1562.1 L351.7,1528.0 L353.0,1491.8 L354.2,1458.1 L355.5,1430.1 L356.7,1409.2 L358.0,1395.1 L359.2,1386.5 L360.5,1381.8 L361.7,1379.7 L363.0,1379.1 L364.2,1379.0 L365.5,1379.1 L366.7,1380.4 L368.0,1384.3 L369.3,1393.1 L370.6,1409.5 L371.8,1435.5 L373.1,1471.4 L374.4,1513.3 L375.6,1554.1 L376.9,1587.0 L378.2,1608.9 L379.5,1620.7 L380.7,1625.2 L382.0,1626.0 L383.3,1625.2 L384.6,1620.1 L385.9,1607.2 L387.1,1583.1 L388.4,1546.9 L389.7,1501.9 L391.0,1455.8 L392.3,1416.3 L393.6,1387.6 L394.9,1369.6 L396.1,1359.8 L397.4,1355.5 L398.7,1354.2 L400.0,1354.0 L401.2,1354.2 L402.5,1355.5 L403.8,1359.7 L405.0,1369.3 L406.2,1387.1 L407.5,1415.4 L408.8,1454.3 L410.0,1499.7 L411.2,1544.0 L412.5,1579.7 L413.8,1603.5 L415.0,1616.2 L416.2,1621.2 L417.5,1622.0 L418.8,1621.1 L420.0,1615.6 L421.3,1601.5 L422.6,1575.2 L423.9,1535.6 L425.1,1486.5 L426.4,1436.1 L427.7,1393.0 L428.9,1361.6 L430.2,1342.0 L431.5,1331.4 L432.8,1326.6 L434.0,1325.2 L435.3,1325.0 L436.5,1325.2 L437.8,1326.6 L439.0,1331.3 L440.2,1341.9 L441.5,1361.4 L442.7,1392.5 L444.0,1435.4 L445.2,1485.4 L446.4,1534.2 L447.7,1573.5 L448.9,1599.6 L450.1,1613.6 L451.4,1619.1 L452.6,1620.0 L453.9,1619.1 L455.2,1613.3 L456.5,1598.6 L457.8,1571.3 L459.1,1530.1 L460.4,1479.0 L461.6,1426.6 L462.9,1381.7 L464.2,1349.1 L465.5,1328.7 L466.8,1317.6 L468.1,1312.7 L469.4,1311.2 L470.7,1311.0 L472.0,1311.2 L473.2,1312.7 L474.5,1317.5 L475.8,1328.3 L477.1,1348.4 L478.3,1380.4 L479.6,1424.4 L480.9,1475.8 L482.1,1525.8 L483.4,1566.2 L484.7,1593.1 L486.0,1607.5 L487.2,1613.1 L488.5,1614.0 L489.7,1613.2 L491.0,1608.1 L492.2,1595.0 L493.4,1570.5 L494.7,1532.8 L495.9,1483.9 L497.1,1430.1 L498.4,1379.8 L499.6,1339.4 L500.8,1311.1 L502.1,1293.6 L503.3,1284.2 L504.5,1280.0 L505.8,1278.7 L507.0,1278.5 L508.2,1278.7 L509.5,1280.3 L510.8,1285.7 L512.0,1297.6 L513.2,1319.6 L514.5,1354.8 L515.8,1403.3 L517.0,1459.8 L518.2,1515.0 L519.5,1559.4 L520.8,1588.9 L522.0,1604.8 L523.2,1611.0 L524.5,1612.0 L525.8,1610.7 L527.1,1602.8 L528.4,1582.4 L529.7,1545.6 L531.0,1494.6 L532.2,1440.1 L533.5,1394.6 L534.8,1364.1 L536.1,1347.3 L537.4,1339.9 L538.7,1337.7 L540.0,1337.4 L541.3,1337.9 L542.6,1342.3 L543.9,1357.1 L545.2,1390.2 L546.5,1446.1 L547.8,1515.3 L549.1,1575.4 L550.4,1611.5 L551.7,1625.7 L553.0,1631.2 L554.3,1625.0 L555.6,1632.1 L556.9,1626.7 L558.2,1634.3 L559.5,1629.3 L560.8,1637.1 L562.1,1631.9 L563.4,1639.3 L564.7,1633.6 L566.0,1640.2 L567.3,1633.6 L568.5,1639.3 L569.8,1631.9 L571.1,1637.0 L572.4,1629.1 L573.6,1633.9 L574.9,1626.0 L576.2,1631.1 L577.5,1623.7 L578.7,1629.4 L580.0,1626.0 L581.2,1625.7 L582.4,1624.0 L583.7,1619.7 L584.9,1611.6 L586.1,1598.6 L587.3,1580.0 L588.5,1555.9 L589.8,1527.5 L591.0,1496.9 L592.2,1467.0 L593.4,1440.2 L594.6,1418.1 L595.9,1401.2 L597.1,1389.2 L598.3,1381.2 L599.5,1376.3 L600.7,1373.7 L602.0,1372.4 L603.2,1372.0 L604.4,1372.0 L605.6,1372.1 L606.9,1373.1 L608.1,1376.1 L609.4,1382.9 L610.6,1395.4 L611.8,1415.8 L613.1,1444.8 L614.3,1480.9 L615.6,1519.5 L616.8,1554.7 L618.0,1581.8 L619.3,1599.3 L620.5,1608.7 L621.8,1612.4 L623.0,1613.0 L624.2,1612.3 L625.5,1608.1 L626.7,1597.5 L627.9,1577.5 L629.2,1546.7 L630.4,1506.7 L631.6,1462.8 L632.9,1421.8 L634.1,1388.8 L635.3,1365.7 L636.6,1351.4 L637.8,1343.7 L639.0,1340.2 L640.3,1339.1 L641.5,1339.0 L642.7,1339.1 L644.0,1340.2 L645.2,1343.6 L646.4,1351.3 L647.7,1365.6 L648.9,1388.6 L650.1,1421.4 L651.4,1462.4 L652.6,1506.1 L653.8,1545.9 L655.1,1576.6 L656.3,1596.5 L657.5,1607.2 L658.8,1611.3 L660.0,1612.0 L661.2,1611.3 L662.4,1606.7 L663.6,1595.1 L664.9,1573.4 L666.1,1539.9 L667.3,1496.4 L668.5,1448.6 L669.7,1404.0 L670.9,1368.1 L672.1,1343.0 L673.3,1327.4 L674.6,1319.1 L675.8,1315.3 L677.0,1314.1 L678.2,1314.0 L679.5,1314.1 L680.7,1315.3 L682.0,1319.0 L683.3,1327.3 L684.6,1342.7 L685.8,1367.6 L687.1,1403.1 L688.4,1447.3 L689.7,1494.6 L690.9,1537.6 L692.2,1570.8 L693.5,1592.3 L694.8,1603.8 L696.0,1608.3 L697.3,1609.0 L698.5,1608.2 L699.8,1603.3 L701.0,1590.7 L702.2,1567.1 L703.5,1530.8 L704.7,1483.7 L705.9,1431.9 L707.2,1383.5 L708.4,1344.7 L709.6,1317.4 L710.9,1300.6 L712.1,1291.5 L713.3,1287.4 L714.6,1286.1 L715.8,1286.0 L717.0,1286.1 L718.2,1287.4 L719.4,1291.5 L720.7,1300.6 L721.9,1317.4 L723.1,1344.7 L724.3,1383.5 L725.5,1431.9 L726.7,1483.7 L727.9,1530.8 L729.1,1567.1 L730.4,1590.7 L731.6,1603.3 L732.8,1608.2 L734.0,1609.0 L735.2,1608.2 L736.4,1603.2 L737.7,1590.3 L738.9,1566.2 L740.1,1529.1 L741.3,1481.0 L742.5,1428.1 L743.8,1378.7 L745.0,1339.0 L746.2,1311.1 L747.4,1293.9 L748.6,1284.6 L749.9,1280.5 L751.1,1279.2 L752.3,1279.0 L753.6,1279.2 L754.9,1280.8 L756.2,1286.1 L757.4,1297.9 L758.7,1319.7 L760.0,1354.5 L761.3,1402.5 L762.6,1458.4 L763.9,1513.0 L765.2,1557.0 L766.4,1586.2 L767.7,1601.9 L769.0,1608.0 L770.3,1609.0 L771.5,1607.0 L772.7,1594.6 L773.9,1564.8 L775.0,1525.1 L776.2,1494.5 L777.4,1479.8 L778.6,1475.5 L779.8,1475.0 L781.1,1475.1 L782.3,1476.1 L783.6,1479.3 L784.9,1486.4 L786.1,1499.6 L787.4,1520.2 L788.7,1546.9 L790.0,1575.4 L791.2,1599.9 L792.5,1616.7 L793.8,1625.9 L795.0,1629.4 L796.3,1630.0 L797.5,1629.5 L798.7,1626.4 L800.0,1618.6 L801.2,1603.8 L802.4,1580.5 L803.6,1548.5 L804.8,1509.8 L806.0,1468.9 L807.3,1430.6 L808.5,1398.9 L809.7,1375.2 L810.9,1359.3 L812.1,1349.5 L813.3,1344.2 L814.6,1341.8 L815.8,1341.1 L817.0,1341.0 L818.3,1341.5 L819.6,1345.7 L820.8,1359.7 L822.1,1391.3 L823.4,1444.6 L824.7,1510.6 L826.0,1567.9 L827.2,1602.3 L828.5,1615.8 L829.8,1618.0 L831.1,1617.1 L832.4,1611.9 L833.6,1598.5 L834.9,1573.3 L836.2,1534.6 L837.5,1484.4 L838.8,1429.2 L840.0,1377.5 L841.3,1336.1 L842.6,1307.0 L843.9,1289.0 L845.2,1279.4 L846.4,1275.0 L847.7,1273.7 L849.0,1273.5 L850.3,1273.7 L851.6,1275.4 L852.9,1280.9 L854.1,1293.3 L855.4,1316.1 L856.7,1352.6 L858.0,1402.8 L859.3,1461.4 L860.6,1518.5 L861.9,1564.5 L863.1,1595.1 L864.4,1611.6 L865.7,1617.9 L867.0,1619.0 L868.2,1618.3 L869.5,1614.2 L870.7,1603.7 L871.9,1584.0 L873.2,1553.2 L874.4,1511.9 L875.6,1464.0 L876.9,1416.0 L878.1,1374.1 L879.3,1341.9 L880.5,1319.9 L881.8,1306.3 L883.0,1299.0 L884.2,1295.8 L885.5,1294.7 L886.7,1294.6 L887.9,1294.8 L889.1,1296.0 L890.4,1300.1 L891.6,1309.3 L892.8,1326.3 L894.0,1353.7 L895.2,1392.9 L896.5,1441.6 L897.7,1493.8 L898.9,1541.3 L900.1,1577.8 L901.3,1601.6 L902.6,1614.2 L903.8,1619.2 L905.0,1620.0 L906.2,1619.2 L907.5,1614.2 L908.7,1601.6 L909.9,1577.8 L911.2,1541.3 L912.4,1493.8 L913.6,1441.6 L914.9,1392.9 L916.1,1353.7 L917.3,1326.3 L918.6,1309.3 L919.8,1300.1 L921.0,1296.0 L922.3,1294.8 L923.5,1294.6 L924.7,1294.8 L926.0,1296.1 L927.2,1300.2 L928.4,1309.5 L929.7,1326.6 L930.9,1354.4 L932.1,1394.1 L933.4,1443.4 L934.6,1496.2 L935.8,1544.3 L937.1,1581.3 L938.3,1605.3 L939.5,1618.2 L940.8,1623.2 L942.0,1624.0 L943.2,1623.4 L944.5,1619.6 L945.7,1609.9 L947.0,1591.7 L948.2,1563.2 L949.5,1525.0 L950.7,1480.6 L952.0,1436.2 L953.2,1397.5 L954.4,1367.8 L955.7,1347.4 L956.9,1334.9 L958.2,1328.1 L959.4,1325.1 L960.7,1324.1 L961.9,1324.0 L963.2,1324.1 L964.4,1325.3 L965.7,1329.1 L966.9,1337.5 L968.2,1353.2 L969.4,1378.5 L970.7,1414.6 L971.9,1459.5 L973.2,1507.7 L974.4,1551.4 L975.7,1585.1 L976.9,1607.0 L978.2,1618.7 L979.4,1623.2 L980.7,1624.0 L982.0,1623.3 L983.2,1619.1 L984.5,1608.4 L985.8,1588.2 L987.1,1557.2 L988.3,1517.0 L989.6,1472.7 L990.9,1431.4 L992.2,1398.1 L993.4,1374.9 L994.7,1360.5 L996.0,1352.7 L997.3,1349.2 L998.5,1348.1 L999.8,1348.0 L1001.0,1348.2 L1002.3,1349.5 L1003.5,1354.0 L1004.7,1363.9 L1005.9,1382.3 L1007.2,1411.6 L1008.4,1452.0 L1009.6,1499.2 L1010.9,1545.1 L1012.1,1582.2 L1013.3,1606.8 L1014.5,1620.0 L1015.8,1625.2 L1017.0,1629.2 L1018.2,1623.1 L1019.4,1630.3 L1020.7,1625.0 L1021.9,1632.9 L1023.1,1628.1 L1024.3,1636.0 L1025.6,1630.7 L1026.8,1637.9 L1028.0,1638.2 L1029.2,1631.5 L1030.5,1636.9 L1031.8,1629.0 L1033.0,1633.7 L1034.2,1625.6 L1035.5,1630.5 L1036.8,1623.1 L1038.0,1626.0 L1039.2,1624.9 L1040.5,1618.4 L1041.8,1601.7 L1043.0,1570.6 L1044.2,1523.9 L1045.5,1465.9 L1046.8,1406.3 L1048.0,1355.4 L1049.2,1318.3 L1050.5,1295.1 L1051.8,1282.5 L1053.0,1276.9 L1054.2,1275.2 L1055.5,1275.0 L1056.7,1275.1 L1058.0,1276.0 L1059.2,1278.9 L1060.4,1285.3 L1061.7,1297.1 L1062.9,1316.3 L1064.1,1344.9 L1065.4,1383.2 L1066.6,1429.4 L1067.9,1478.9 L1069.1,1525.6 L1070.3,1564.3 L1071.6,1592.4 L1072.8,1610.2 L1074.0,1619.7 L1075.3,1623.4 L1076.5,1624.0 L1077.7,1623.3 L1078.9,1619.2 L1080.1,1608.7 L1081.3,1589.0 L1082.6,1558.2 L1083.8,1516.9 L1085.0,1468.9 L1086.2,1420.9 L1087.4,1379.0 L1088.6,1346.8 L1089.8,1324.8 L1091.1,1311.2 L1092.3,1303.9 L1093.5,1300.7 L1094.7,1299.6 L1095.9,1299.5 L1097.2,1299.6 L1098.4,1300.7 L1099.7,1304.0 L1100.9,1311.3 L1102.2,1324.9 L1103.4,1347.1 L1104.7,1379.5 L1106.0,1421.7 L1107.2,1470.0 L1108.5,1518.2 L1109.7,1559.8 L1111.0,1590.8 L1112.2,1610.6 L1113.5,1621.2 L1114.7,1625.3 L1116.0,1626.0 L1117.2,1625.3 L1118.5,1621.0 L1119.7,1609.9 L1121.0,1589.1 L1122.2,1557.2 L1123.5,1515.7 L1124.7,1470.1 L1126.0,1427.5 L1127.2,1393.3 L1128.5,1369.3 L1129.7,1354.4 L1131.0,1346.4 L1132.2,1342.9 L1133.5,1341.7 L1134.7,1341.6 L1135.9,1341.7 L1137.2,1342.6 L1138.4,1345.6 L1139.7,1352.2 L1140.9,1364.4 L1142.1,1384.2 L1143.4,1413.3 L1144.6,1451.0 L1145.8,1494.3 L1147.1,1537.5 L1148.3,1574.7 L1149.5,1602.5 L1150.8,1620.2 L1152.0,1629.7 L1153.3,1633.4 L1154.5,1634.0 L1155.7,1633.4 L1157.0,1629.7 L1158.2,1620.2 L1159.4,1602.4 L1160.7,1575.0 L1161.9,1539.4 L1163.1,1500.2 L1164.4,1463.7 L1165.6,1434.3 L1166.8,1413.7 L1168.1,1401.0 L1169.3,1394.1 L1170.5,1391.1 L1171.8,1390.1 L1173.0,1390.0 L1174.2,1390.1 L1175.5,1390.7 L1176.7,1392.7 L1177.9,1397.2 L1179.2,1405.5 L1180.4,1419.1 L1181.6,1439.3 L1182.9,1466.3 L1184.1,1498.9 L1185.4,1533.7 L1186.6,1566.6 L1187.8,1593.9 L1189.1,1613.7 L1190.3,1626.3 L1191.5,1632.9 L1192.8,1635.6 L1194.0,1639.2 L1195.3,1628.8 L1196.5,1624.5 L1197.8,1603.3 L1199.1,1595.0 L1200.3,1577.8 L1201.6,1577.0" fill="none" stroke="#ff8e8a" stroke-opacity="0.55" stroke-width="9.600000000000001" stroke-linejoin="round"/>
<path d="M211.0,1415.0 L212.3,1415.3 L213.5,1417.7 L214.8,1425.7 L216.0,1443.7 L217.3,1475.8 L218.5,1520.3 L219.8,1567.2 L221.0,1603.7 L222.3,1624.6 L223.5,1632.7 L224.8,1634.0 L226.0,1633.1 L227.3,1627.6 L228.5,1613.6 L229.7,1587.4 L230.9,1548.1 L232.2,1499.3 L233.4,1449.2 L234.6,1406.3 L235.9,1375.1 L237.1,1355.6 L238.3,1345.0 L239.5,1340.3 L240.8,1338.9 L242.0,1338.7 L243.2,1338.9 L244.5,1340.3 L245.7,1344.9 L247.0,1355.3 L248.2,1374.5 L249.5,1405.2 L250.7,1447.3 L251.9,1496.6 L253.2,1544.5 L254.4,1583.2 L255.7,1608.9 L256.9,1622.7 L258.2,1628.1 L259.4,1629.0 L260.7,1628.0 L262.0,1621.6 L263.3,1605.4 L264.6,1575.1 L265.9,1529.5 L267.2,1473.0 L268.4,1415.0 L269.7,1365.3 L271.0,1329.2 L272.3,1306.6 L273.6,1294.3 L274.9,1288.9 L276.2,1287.2 L277.5,1287.0 L278.8,1287.2 L280.0,1289.4 L281.3,1296.3 L282.6,1311.9 L283.8,1340.7 L285.1,1385.5 L286.4,1443.9 L287.7,1506.0 L288.9,1559.4 L290.2,1596.1 L291.5,1616.0 L292.7,1623.7 L294.0,1625.0 L295.2,1623.1 L296.4,1611.5 L297.6,1581.8 L298.8,1532.3 L300.0,1475.4 L301.2,1429.4 L302.4,1402.2 L303.6,1390.1 L304.8,1386.4 L306.0,1386.0 L307.2,1388.3 L308.3,1410.3 L309.5,1479.5 L310.7,1575.5 L311.8,1627.6 L313.0,1639.2 L314.2,1633.6 L315.3,1642.2 L316.5,1638.8 L317.7,1648.2 L318.8,1644.0 L320.0,1651.2 L321.2,1645.1 L322.3,1652.2 L323.5,1646.8 L324.7,1654.2 L325.8,1648.5 L327.0,1655.2 L328.2,1648.5 L329.3,1654.2 L330.5,1646.8 L331.7,1652.2 L332.8,1645.1 L334.0,1651.2 L335.3,1644.1 L336.6,1648.6 L337.9,1639.4 L339.1,1642.6 L340.4,1633.4 L341.7,1637.9 L343.0,1634.0 L344.2,1633.5 L345.5,1630.8 L346.7,1623.9 L348.0,1610.9 L349.2,1590.4 L350.5,1562.1 L351.7,1528.0 L353.0,1491.8 L354.2,1458.1 L355.5,1430.1 L356.7,1409.2 L358.0,1395.1 L359.2,1386.5 L360.5,1381.8 L361.7,1379.7 L363.0,1379.1 L364.2,1379.0 L365.5,1379.1 L366.7,1380.4 L368.0,1384.3 L369.3,1393.1 L370.6,1409.5 L371.8,1435.5 L373.1,1471.4 L374.4,1513.3 L375.6,1554.1 L376.9,1587.0 L378.2,1608.9 L379.5,1620.7 L380.7,1625.2 L382.0,1626.0 L383.3,1625.2 L384.6,1620.1 L385.9,1607.2 L387.1,1583.1 L388.4,1546.9 L389.7,1501.9 L391.0,1455.8 L392.3,1416.3 L393.6,1387.6 L394.9,1369.6 L396.1,1359.8 L397.4,1355.5 L398.7,1354.2 L400.0,1354.0 L401.2,1354.2 L402.5,1355.5 L403.8,1359.7 L405.0,1369.3 L406.2,1387.1 L407.5,1415.4 L408.8,1454.3 L410.0,1499.7 L411.2,1544.0 L412.5,1579.7 L413.8,1603.5 L415.0,1616.2 L416.2,1621.2 L417.5,1622.0 L418.8,1621.1 L420.0,1615.6 L421.3,1601.5 L422.6,1575.2 L423.9,1535.6 L425.1,1486.5 L426.4,1436.1 L427.7,1393.0 L428.9,1361.6 L430.2,1342.0 L431.5,1331.4 L432.8,1326.6 L434.0,1325.2 L435.3,1325.0 L436.5,1325.2 L437.8,1326.6 L439.0,1331.3 L440.2,1341.9 L441.5,1361.4 L442.7,1392.5 L444.0,1435.4 L445.2,1485.4 L446.4,1534.2 L447.7,1573.5 L448.9,1599.6 L450.1,1613.6 L451.4,1619.1 L452.6,1620.0 L453.9,1619.1 L455.2,1613.3 L456.5,1598.6 L457.8,1571.3 L459.1,1530.1 L460.4,1479.0 L461.6,1426.6 L462.9,1381.7 L464.2,1349.1 L465.5,1328.7 L466.8,1317.6 L468.1,1312.7 L469.4,1311.2 L470.7,1311.0 L472.0,1311.2 L473.2,1312.7 L474.5,1317.5 L475.8,1328.3 L477.1,1348.4 L478.3,1380.4 L479.6,1424.4 L480.9,1475.8 L482.1,1525.8 L483.4,1566.2 L484.7,1593.1 L486.0,1607.5 L487.2,1613.1 L488.5,1614.0 L489.7,1613.2 L491.0,1608.1 L492.2,1595.0 L493.4,1570.5 L494.7,1532.8 L495.9,1483.9 L497.1,1430.1 L498.4,1379.8 L499.6,1339.4 L500.8,1311.1 L502.1,1293.6 L503.3,1284.2 L504.5,1280.0 L505.8,1278.7 L507.0,1278.5 L508.2,1278.7 L509.5,1280.3 L510.8,1285.7 L512.0,1297.6 L513.2,1319.6 L514.5,1354.8 L515.8,1403.3 L517.0,1459.8 L518.2,1515.0 L519.5,1559.4 L520.8,1588.9 L522.0,1604.8 L523.2,1611.0 L524.5,1612.0 L525.8,1610.7 L527.1,1602.8 L528.4,1582.4 L529.7,1545.6 L531.0,1494.6 L532.2,1440.1 L533.5,1394.6 L534.8,1364.1 L536.1,1347.3 L537.4,1339.9 L538.7,1337.7 L540.0,1337.4 L541.3,1337.9 L542.6,1342.3 L543.9,1357.1 L545.2,1390.2 L546.5,1446.1 L547.8,1515.3 L549.1,1575.4 L550.4,1611.5 L551.7,1625.7 L553.0,1631.2 L554.3,1625.0 L555.6,1632.1 L556.9,1626.7 L558.2,1634.3 L559.5,1629.3 L560.8,1637.1 L562.1,1631.9 L563.4,1639.3 L564.7,1633.6 L566.0,1640.2 L567.3,1633.6 L568.5,1639.3 L569.8,1631.9 L571.1,1637.0 L572.4,1629.1 L573.6,1633.9 L574.9,1626.0 L576.2,1631.1 L577.5,1623.7 L578.7,1629.4 L580.0,1626.0 L581.2,1625.7 L582.4,1624.0 L583.7,1619.7 L584.9,1611.6 L586.1,1598.6 L587.3,1580.0 L588.5,1555.9 L589.8,1527.5 L591.0,1496.9 L592.2,1467.0 L593.4,1440.2 L594.6,1418.1 L595.9,1401.2 L597.1,1389.2 L598.3,1381.2 L599.5,1376.3 L600.7,1373.7 L602.0,1372.4 L603.2,1372.0 L604.4,1372.0 L605.6,1372.1 L606.9,1373.1 L608.1,1376.1 L609.4,1382.9 L610.6,1395.4 L611.8,1415.8 L613.1,1444.8 L614.3,1480.9 L615.6,1519.5 L616.8,1554.7 L618.0,1581.8 L619.3,1599.3 L620.5,1608.7 L621.8,1612.4 L623.0,1613.0 L624.2,1612.3 L625.5,1608.1 L626.7,1597.5 L627.9,1577.5 L629.2,1546.7 L630.4,1506.7 L631.6,1462.8 L632.9,1421.8 L634.1,1388.8 L635.3,1365.7 L636.6,1351.4 L637.8,1343.7 L639.0,1340.2 L640.3,1339.1 L641.5,1339.0 L642.7,1339.1 L644.0,1340.2 L645.2,1343.6 L646.4,1351.3 L647.7,1365.6 L648.9,1388.6 L650.1,1421.4 L651.4,1462.4 L652.6,1506.1 L653.8,1545.9 L655.1,1576.6 L656.3,1596.5 L657.5,1607.2 L658.8,1611.3 L660.0,1612.0 L661.2,1611.3 L662.4,1606.7 L663.6,1595.1 L664.9,1573.4 L666.1,1539.9 L667.3,1496.4 L668.5,1448.6 L669.7,1404.0 L670.9,1368.1 L672.1,1343.0 L673.3,1327.4 L674.6,1319.1 L675.8,1315.3 L677.0,1314.1 L678.2,1314.0 L679.5,1314.1 L680.7,1315.3 L682.0,1319.0 L683.3,1327.3 L684.6,1342.7 L685.8,1367.6 L687.1,1403.1 L688.4,1447.3 L689.7,1494.6 L690.9,1537.6 L692.2,1570.8 L693.5,1592.3 L694.8,1603.8 L696.0,1608.3 L697.3,1609.0 L698.5,1608.2 L699.8,1603.3 L701.0,1590.7 L702.2,1567.1 L703.5,1530.8 L704.7,1483.7 L705.9,1431.9 L707.2,1383.5 L708.4,1344.7 L709.6,1317.4 L710.9,1300.6 L712.1,1291.5 L713.3,1287.4 L714.6,1286.1 L715.8,1286.0 L717.0,1286.1 L718.2,1287.4 L719.4,1291.5 L720.7,1300.6 L721.9,1317.4 L723.1,1344.7 L724.3,1383.5 L725.5,1431.9 L726.7,1483.7 L727.9,1530.8 L729.1,1567.1 L730.4,1590.7 L731.6,1603.3 L732.8,1608.2 L734.0,1609.0 L735.2,1608.2 L736.4,1603.2 L737.7,1590.3 L738.9,1566.2 L740.1,1529.1 L741.3,1481.0 L742.5,1428.1 L743.8,1378.7 L745.0,1339.0 L746.2,1311.1 L747.4,1293.9 L748.6,1284.6 L749.9,1280.5 L751.1,1279.2 L752.3,1279.0 L753.6,1279.2 L754.9,1280.8 L756.2,1286.1 L757.4,1297.9 L758.7,1319.7 L760.0,1354.5 L761.3,1402.5 L762.6,1458.4 L763.9,1513.0 L765.2,1557.0 L766.4,1586.2 L767.7,1601.9 L769.0,1608.0 L770.3,1609.0 L771.5,1607.0 L772.7,1594.6 L773.9,1564.8 L775.0,1525.1 L776.2,1494.5 L777.4,1479.8 L778.6,1475.5 L779.8,1475.0 L781.1,1475.1 L782.3,1476.1 L783.6,1479.3 L784.9,1486.4 L786.1,1499.6 L787.4,1520.2 L788.7,1546.9 L790.0,1575.4 L791.2,1599.9 L792.5,1616.7 L793.8,1625.9 L795.0,1629.4 L796.3,1630.0 L797.5,1629.5 L798.7,1626.4 L800.0,1618.6 L801.2,1603.8 L802.4,1580.5 L803.6,1548.5 L804.8,1509.8 L806.0,1468.9 L807.3,1430.6 L808.5,1398.9 L809.7,1375.2 L810.9,1359.3 L812.1,1349.5 L813.3,1344.2 L814.6,1341.8 L815.8,1341.1 L817.0,1341.0 L818.3,1341.5 L819.6,1345.7 L820.8,1359.7 L822.1,1391.3 L823.4,1444.6 L824.7,1510.6 L826.0,1567.9 L827.2,1602.3 L828.5,1615.8 L829.8,1618.0 L831.1,1617.1 L832.4,1611.9 L833.6,1598.5 L834.9,1573.3 L836.2,1534.6 L837.5,1484.4 L838.8,1429.2 L840.0,1377.5 L841.3,1336.1 L842.6,1307.0 L843.9,1289.0 L845.2,1279.4 L846.4,1275.0 L847.7,1273.7 L849.0,1273.5 L850.3,1273.7 L851.6,1275.4 L852.9,1280.9 L854.1,1293.3 L855.4,1316.1 L856.7,1352.6 L858.0,1402.8 L859.3,1461.4 L860.6,1518.5 L861.9,1564.5 L863.1,1595.1 L864.4,1611.6 L865.7,1617.9 L867.0,1619.0 L868.2,1618.3 L869.5,1614.2 L870.7,1603.7 L871.9,1584.0 L873.2,1553.2 L874.4,1511.9 L875.6,1464.0 L876.9,1416.0 L878.1,1374.1 L879.3,1341.9 L880.5,1319.9 L881.8,1306.3 L883.0,1299.0 L884.2,1295.8 L885.5,1294.7 L886.7,1294.6 L887.9,1294.8 L889.1,1296.0 L890.4,1300.1 L891.6,1309.3 L892.8,1326.3 L894.0,1353.7 L895.2,1392.9 L896.5,1441.6 L897.7,1493.8 L898.9,1541.3 L900.1,1577.8 L901.3,1601.6 L902.6,1614.2 L903.8,1619.2 L905.0,1620.0 L906.2,1619.2 L907.5,1614.2 L908.7,1601.6 L909.9,1577.8 L911.2,1541.3 L912.4,1493.8 L913.6,1441.6 L914.9,1392.9 L916.1,1353.7 L917.3,1326.3 L918.6,1309.3 L919.8,1300.1 L921.0,1296.0 L922.3,1294.8 L923.5,1294.6 L924.7,1294.8 L926.0,1296.1 L927.2,1300.2 L928.4,1309.5 L929.7,1326.6 L930.9,1354.4 L932.1,1394.1 L933.4,1443.4 L934.6,1496.2 L935.8,1544.3 L937.1,1581.3 L938.3,1605.3 L939.5,1618.2 L940.8,1623.2 L942.0,1624.0 L943.2,1623.4 L944.5,1619.6 L945.7,1609.9 L947.0,1591.7 L948.2,1563.2 L949.5,1525.0 L950.7,1480.6 L952.0,1436.2 L953.2,1397.5 L954.4,1367.8 L955.7,1347.4 L956.9,1334.9 L958.2,1328.1 L959.4,1325.1 L960.7,1324.1 L961.9,1324.0 L963.2,1324.1 L964.4,1325.3 L965.7,1329.1 L966.9,1337.5 L968.2,1353.2 L969.4,1378.5 L970.7,1414.6 L971.9,1459.5 L973.2,1507.7 L974.4,1551.4 L975.7,1585.1 L976.9,1607.0 L978.2,1618.7 L979.4,1623.2 L980.7,1624.0 L982.0,1623.3 L983.2,1619.1 L984.5,1608.4 L985.8,1588.2 L987.1,1557.2 L988.3,1517.0 L989.6,1472.7 L990.9,1431.4 L992.2,1398.1 L993.4,1374.9 L994.7,1360.5 L996.0,1352.7 L997.3,1349.2 L998.5,1348.1 L999.8,1348.0 L1001.0,1348.2 L1002.3,1349.5 L1003.5,1354.0 L1004.7,1363.9 L1005.9,1382.3 L1007.2,1411.6 L1008.4,1452.0 L1009.6,1499.2 L1010.9,1545.1 L1012.1,1582.2 L1013.3,1606.8 L1014.5,1620.0 L1015.8,1625.2 L1017.0,1629.2 L1018.2,1623.1 L1019.4,1630.3 L1020.7,1625.0 L1021.9,1632.9 L1023.1,1628.1 L1024.3,1636.0 L1025.6,1630.7 L1026.8,1637.9 L1028.0,1638.2 L1029.2,1631.5 L1030.5,1636.9 L1031.8,1629.0 L1033.0,1633.7 L1034.2,1625.6 L1035.5,1630.5 L1036.8,1623.1 L1038.0,1626.0 L1039.2,1624.9 L1040.5,1618.4 L1041.8,1601.7 L1043.0,1570.6 L1044.2,1523.9 L1045.5,1465.9 L1046.8,1406.3 L1048.0,1355.4 L1049.2,1318.3 L1050.5,1295.1 L1051.8,1282.5 L1053.0,1276.9 L1054.2,1275.2 L1055.5,1275.0 L1056.7,1275.1 L1058.0,1276.0 L1059.2,1278.9 L1060.4,1285.3 L1061.7,1297.1 L1062.9,1316.3 L1064.1,1344.9 L1065.4,1383.2 L1066.6,1429.4 L1067.9,1478.9 L1069.1,1525.6 L1070.3,1564.3 L1071.6,1592.4 L1072.8,1610.2 L1074.0,1619.7 L1075.3,1623.4 L1076.5,1624.0 L1077.7,1623.3 L1078.9,1619.2 L1080.1,1608.7 L1081.3,1589.0 L1082.6,1558.2 L1083.8,1516.9 L1085.0,1468.9 L1086.2,1420.9 L1087.4,1379.0 L1088.6,1346.8 L1089.8,1324.8 L1091.1,1311.2 L1092.3,1303.9 L1093.5,1300.7 L1094.7,1299.6 L1095.9,1299.5 L1097.2,1299.6 L1098.4,1300.7 L1099.7,1304.0 L1100.9,1311.3 L1102.2,1324.9 L1103.4,1347.1 L1104.7,1379.5 L1106.0,1421.7 L1107.2,1470.0 L1108.5,1518.2 L1109.7,1559.8 L1111.0,1590.8 L1112.2,1610.6 L1113.5,1621.2 L1114.7,1625.3 L1116.0,1626.0 L1117.2,1625.3 L1118.5,1621.0 L1119.7,1609.9 L1121.0,1589.1 L1122.2,1557.2 L1123.5,1515.7 L1124.7,1470.1 L1126.0,1427.5 L1127.2,1393.3 L1128.5,1369.3 L1129.7,1354.4 L1131.0,1346.4 L1132.2,1342.9 L1133.5,1341.7 L1134.7,1341.6 L1135.9,1341.7 L1137.2,1342.6 L1138.4,1345.6 L1139.7,1352.2 L1140.9,1364.4 L1142.1,1384.2 L1143.4,1413.3 L1144.6,1451.0 L1145.8,1494.3 L1147.1,1537.5 L1148.3,1574.7 L1149.5,1602.5 L1150.8,1620.2 L1152.0,1629.7 L1153.3,1633.4 L1154.5,1634.0 L1155.7,1633.4 L1157.0,1629.7 L1158.2,1620.2 L1159.4,1602.4 L1160.7,1575.0 L1161.9,1539.4 L1163.1,1500.2 L1164.4,1463.7 L1165.6,1434.3 L1166.8,1413.7 L1168.1,1401.0 L1169.3,1394.1 L1170.5,1391.1 L1171.8,1390.1 L1173.0,1390.0 L1174.2,1390.1 L1175.5,1390.7 L1176.7,1392.7 L1177.9,1397.2 L1179.2,1405.5 L1180.4,1419.1 L1181.6,1439.3 L1182.9,1466.3 L1184.1,1498.9 L1185.4,1533.7 L1186.6,1566.6 L1187.8,1593.9 L1189.1,1613.7 L1190.3,1626.3 L1191.5,1632.9 L1192.8,1635.6 L1194.0,1639.2 L1195.3,1628.8 L1196.5,1624.5 L1197.8,1603.3 L1199.1,1595.0 L1200.3,1577.8 L1201.6,1577.0" fill="none" stroke="#e61c18" stroke-width="5.4" stroke-linejoin="round"/>
<g fill="#5c0c0c" fill-opacity="0.85" stroke="#0a0000" stroke-width="4.9">
<circle cx="211.0" cy="1415.0" r="5.3"/>
<circle cx="212.3" cy="1415.3" r="5.3"/>
<circle cx="213.5" cy="1417.7" r="5.3"/>
<circle cx="214.8" cy="1425.7" r="5.3"/>
<circle cx="216.0" cy="1443.7" r="5.3"/>
<circle cx="217.3" cy="1475.8" r="5.3"/>
<circle cx="218.5" cy="1520.3" r="5.3"/>
<circle cx="219.8" cy="1567.2" r="5.3"/>
<circle cx="221.0" cy="1603.7" r="5.3"/>
<circle cx="222.3" cy="1624.6" r="5.3"/>
<circle cx="223.5" cy="1632.7" r="5.3"/>
<circle cx="224.8" cy="1634.0" r="5.3"/>
<circle cx="226.0" cy="1633.1" r="5.3"/>
<circle cx="227.3" cy="1627.6" r="5.3"/>
<circle cx="228.5" cy="1613.6" r="5.3"/>
<circle cx="229.7" cy="1587.4" r="5.3"/>
<circle cx="230.9" cy="1548.1" r="5.3"/>
<circle cx="232.2" cy="1499.3" r="5.3"/>
<circle cx="233.4" cy="1449.2" r="5.3"/>
<circle cx="234.6" cy="1406.3" r="5.3"/>
<circle cx="235.9" cy="1375.1" r="5.3"/>
<circle cx="237.1" cy="1355.6" r="5.3"/>
<circle cx="238.3" cy="1345.0" r="5.3"/>
<circle cx="239.5" cy="1340.3" r="5.3"/>
<circle cx="240.8" cy="1338.9" r="5.3"/>
<circle cx="242.0" cy="1338.7" r="5.3"/>
<circle cx="243.2" cy="1338.9" r="5.3"/>
<circle cx="244.5" cy="1340.3" r="5.3"/>
<circle cx="245.7" cy="1344.9" r="5.3"/>
<circle cx="247.0" cy="1355.3" r="5.3"/>
<circle cx="248.2" cy="1374.5" r="5.3"/>
<circle cx="249.5" cy="1405.2" r="5.3"/>
<circle cx="250.7" cy="1447.3" r="5.3"/>
<circle cx="251.9" cy="1496.6" r="5.3"/>
<circle cx="253.2" cy="1544.5" r="5.3"/>
<circle cx="254.4" cy="1583.2" r="5.3"/>
<circle cx="255.7" cy="1608.9" r="5.3"/>
<circle cx="256.9" cy="1622.7" r="5.3"/>
<circle cx="258.2" cy="1628.1" r="5.3"/>
<circle cx="259.4" cy="1629.0" r="5.3"/>
<circle cx="260.7" cy="1628.0" r="5.3"/>
<circle cx="262.0" cy="1621.6" r="5.3"/>
<circle cx="263.3" cy="1605.4" r="5.3"/>
<circle cx="264.6" cy="1575.1" r="5.3"/>
<circle cx="265.9" cy="1529.5" r="5.3"/>
<circle cx="267.2" cy="1473.0" r="5.3"/>
<circle cx="268.4" cy="1415.0" r="5.3"/>
<circle cx="269.7" cy="1365.3" r="5.3"/>
<circle cx="271.0" cy="1329.2" r="5.3"/>
<circle cx="272.3" cy="1306.6" r="5.3"/>
<circle cx="273.6" cy="1294.3" r="5.3"/>
<circle cx="274.9" cy="1288.9" r="5.3"/>
<circle cx="276.2" cy="1287.2" r="5.3"/>
<circle cx="277.5" cy="1287.0" r="5.3"/>
<circle cx="278.8" cy="1287.2" r="5.3"/>
<circle cx="280.0" cy="1289.4" r="5.3"/>
<circle cx="281.3" cy="1296.3" r="5.3"/>
<circle cx="282.6" cy="1311.9" r="5.3"/>
<circle cx="283.8" cy="1340.7" r="5.3"/>
<circle cx="285.1" cy="1385.5" r="5.3"/>
<circle cx="286.4" cy="1443.9" r="5.3"/>
<circle cx="287.7" cy="1506.0" r="5.3"/>
<circle cx="288.9" cy="1559.4" r="5.3"/>
<circle cx="290.2" cy="1596.1" r="5.3"/>
<circle cx="291.5" cy="1616.0" r="5.3"/>
<circle cx="292.7" cy="1623.7" r="5.3"/>
<circle cx="294.0" cy="1625.0" r="5.3"/>
<circle cx="295.2" cy="1623.1" r="5.3"/>
<circle cx="296.4" cy="1611.5" r="5.3"/>
<circle cx="297.6" cy="1581.8" r="5.3"/>
<circle cx="298.8" cy="1532.3" r="5.3"/>
<circle cx="300.0" cy="1475.4" r="5.3"/>
<circle cx="301.2" cy="1429.4" r="5.3"/>
<circle cx="302.4" cy="1402.2" r="5.3"/>
<circle cx="303.6" cy="1390.1" r="5.3"/>
<circle cx="304.8" cy="1386.4" r="5.3"/>
<circle cx="306.0" cy="1386.0" r="5.3"/>
<circle cx="307.2" cy="1388.3" r="5.3"/>
<circle cx="308.3" cy="1410.3" r="5.3"/>
<circle cx="309.5" cy="1479.5" r="5.3"/>
<circle cx="310.7" cy="1575.5" r="5.3"/>
<circle cx="311.8" cy="1627.6" r="5.3"/>
<circle cx="313.0" cy="1639.2" r="5.3"/>
<circle cx="314.2" cy="1633.6" r="5.3"/>
<circle cx="315.3" cy="1642.2" r="5.3"/>
<circle cx="316.5" cy="1638.8" r="5.3"/>
<circle cx="317.7" cy="1648.2" r="5.3"/>
<circle cx="318.8" cy="1644.0" r="5.3"/>
<circle cx="320.0" cy="1651.2" r="5.3"/>
<circle cx="321.2" cy="1645.1" r="5.3"/>
<circle cx="322.3" cy="1652.2" r="5.3"/>
<circle cx="323.5" cy="1646.8" r="5.3"/>
<circle cx="324.7" cy="1654.2" r="5.3"/>
<circle cx="325.8" cy="1648.5" r="5.3"/>
<circle cx="327.0" cy="1655.2" r="5.3"/>
<circle cx="328.2" cy="1648.5" r="5.3"/>
<circle cx="329.3" cy="1654.2" r="5.3"/>
<circle cx="330.5" cy="1646.8" r="5.3"/>
<circle cx="331.7" cy="1652.2" r="5.3"/>
<circle cx="332.8" cy="1645.1" r="5.3"/>
<circle cx="334.0" cy="1651.2" r="5.3"/>
<circle cx="335.3" cy="1644.1" r="5.3"/>
<circle cx="336.6" cy="1648.6" r="5.3"/>
<circle cx="337.9" cy="1639.4" r="5.3"/>
<circle cx="339.1" cy="1642.6" r="5.3"/>
<circle cx="340.4" cy="1633.4" r="5.3"/>
<circle cx="341.7" cy="1637.9" r="5.3"/>
<circle cx="343.0" cy="1634.0" r="5.3"/>
<circle cx="344.2" cy="1633.5" r="5.3"/>
<circle cx="345.5" cy="1630.8" r="5.3"/>
<circle cx="346.7" cy="1623.9" r="5.3"/>
<circle cx="348.0" cy="1610.9" r="5.3"/>
<circle cx="349.2" cy="1590.4" r="5.3"/>
<circle cx="350.5" cy="1562.1" r="5.3"/>
<circle cx="351.7" cy="1528.0" r="5.3"/>
<circle cx="353.0" cy="1491.8" r="5.3"/>
<circle cx="354.2" cy="1458.1" r="5.3"/>
<circle cx="355.5" cy="1430.1" r="5.3"/>
<circle cx="356.7" cy="1409.2" r="5.3"/>
<circle cx="358.0" cy="1395.1" r="5.3"/>
<circle cx="359.2" cy="1386.5" r="5.3"/>
<circle cx="360.5" cy="1381.8" r="5.3"/>
<circle cx="361.7" cy="1379.7" r="5.3"/>
<circle cx="363.0" cy="1379.1" r="5.3"/>
<circle cx="364.2" cy="1379.0" r="5.3"/>
<circle cx="365.5" cy="1379.1" r="5.3"/>
<circle cx="366.7" cy="1380.4" r="5.3"/>
<circle cx="368.0" cy="1384.3" r="5.3"/>
<circle cx="369.3" cy="1393.1" r="5.3"/>
<circle cx="370.6" cy="1409.5" r="5.3"/>
<circle cx="371.8" cy="1435.5" r="5.3"/>
<circle cx="373.1" cy="1471.4" r="5.3"/>
<circle cx="374.4" cy="1513.3" r="5.3"/>
<circle cx="375.6" cy="1554.1" r="5.3"/>
<circle cx="376.9" cy="1587.0" r="5.3"/>
<circle cx="378.2" cy="1608.9" r="5.3"/>
<circle cx="379.5" cy="1620.7" r="5.3"/>
<circle cx="380.7" cy="1625.2" r="5.3"/>
<circle cx="382.0" cy="1626.0" r="5.3"/>
<circle cx="383.3" cy="1625.2" r="5.3"/>
<circle cx="384.6" cy="1620.1" r="5.3"/>
<circle cx="385.9" cy="1607.2" r="5.3"/>
<circle cx="387.1" cy="1583.1" r="5.3"/>
<circle cx="388.4" cy="1546.9" r="5.3"/>
<circle cx="389.7" cy="1501.9" r="5.3"/>
<circle cx="391.0" cy="1455.8" r="5.3"/>
<circle cx="392.3" cy="1416.3" r="5.3"/>
<circle cx="393.6" cy="1387.6" r="5.3"/>
<circle cx="394.9" cy="1369.6" r="5.3"/>
<circle cx="396.1" cy="1359.8" r="5.3"/>
<circle cx="397.4" cy="1355.5" r="5.3"/>
<circle cx="398.7" cy="1354.2" r="5.3"/>
<circle cx="400.0" cy="1354.0" r="5.3"/>
<circle cx="401.2" cy="1354.2" r="5.3"/>
<circle cx="402.5" cy="1355.5" r="5.3"/>
<circle cx="403.8" cy="1359.7" r="5.3"/>
<circle cx="405.0" cy="1369.3" r="5.3"/>
<circle cx="406.2" cy="1387.1" r="5.3"/>
<circle cx="407.5" cy="1415.4" r="5.3"/>
<circle cx="408.8" cy="1454.3" r="5.3"/>
<circle cx="410.0" cy="1499.7" r="5.3"/>
<circle cx="411.2" cy="1544.0" r="5.3"/>
<circle cx="412.5" cy="1579.7" r="5.3"/>
<circle cx="413.8" cy="1603.5" r="5.3"/>
<circle cx="415.0" cy="1616.2" r="5.3"/>
<circle cx="416.2" cy="1621.2" r="5.3"/>
<circle cx="417.5" cy="1622.0" r="5.3"/>
<circle cx="418.8" cy="1621.1" r="5.3"/>
<circle cx="420.0" cy="1615.6" r="5.3"/>
<circle cx="421.3" cy="1601.5" r="5.3"/>
<circle cx="422.6" cy="1575.2" r="5.3"/>
<circle cx="423.9" cy="1535.6" r="5.3"/>
<circle cx="425.1" cy="1486.5" r="5.3"/>
<circle cx="426.4" cy="1436.1" r="5.3"/>
<circle cx="427.7" cy="1393.0" r="5.3"/>
<circle cx="428.9" cy="1361.6" r="5.3"/>
<circle cx="430.2" cy="1342.0" r="5.3"/>
<circle cx="431.5" cy="1331.4" r="5.3"/>
<circle cx="432.8" cy="1326.6" r="5.3"/>
<circle cx="434.0" cy="1325.2" r="5.3"/>
<circle cx="435.3" cy="1325.0" r="5.3"/>
<circle cx="436.5" cy="1325.2" r="5.3"/>
<circle cx="437.8" cy="1326.6" r="5.3"/>
<circle cx="439.0" cy="1331.3" r="5.3"/>
<circle cx="440.2" cy="1341.9" r="5.3"/>
<circle cx="441.5" cy="1361.4" r="5.3"/>
<circle cx="442.7" cy="1392.5" r="5.3"/>
<circle cx="444.0" cy="1435.4" r="5.3"/>
<circle cx="445.2" cy="1485.4" r="5.3"/>
<circle cx="446.4" cy="1534.2" r="5.3"/>
<circle cx="447.7" cy="1573.5" r="5.3"/>
<circle cx="448.9" cy="1599.6" r="5.3"/>
<circle cx="450.1" cy="1613.6" r="5.3"/>
<circle cx="451.4" cy="1619.1" r="5.3"/>
<circle cx="452.6" cy="1620.0" r="5.3"/>
<circle cx="453.9" cy="1619.1" r="5.3"/>
<circle cx="455.2" cy="1613.3" r="5.3"/>
<circle cx="456.5" cy="1598.6" r="5.3"/>
<circle cx="457.8" cy="1571.3" r="5.3"/>
<circle cx="459.1" cy="1530.1" r="5.3"/>
<circle cx="460.4" cy="1479.0" r="5.3"/>
<circle cx="461.6" cy="1426.6" r="5.3"/>
<circle cx="462.9" cy="1381.7" r="5.3"/>
<circle cx="464.2" cy="1349.1" r="5.3"/>
<circle cx="465.5" cy="1328.7" r="5.3"/>
<circle cx="466.8" cy="1317.6" r="5.3"/>
<circle cx="468.1" cy="1312.7" r="5.3"/>
<circle cx="469.4" cy="1311.2" r="5.3"/>
<circle cx="470.7" cy="1311.0" r="5.3"/>
<circle cx="472.0" cy="1311.2" r="5.3"/>
<circle cx="473.2" cy="1312.7" r="5.3"/>
<circle cx="474.5" cy="1317.5" r="5.3"/>
<circle cx="475.8" cy="1328.3" r="5.3"/>
<circle cx="477.1" cy="1348.4" r="5.3"/>
<circle cx="478.3" cy="1380.4" r="5.3"/>
<circle cx="479.6" cy="1424.4" r="5.3"/>
<circle cx="480.9" cy="1475.8" r="5.3"/>
<circle cx="482.1" cy="1525.8" r="5.3"/>
<circle cx="483.4" cy="1566.2" r="5.3"/>
<circle cx="484.7" cy="1593.1" r="5.3"/>
<circle cx="486.0" cy="1607.5" r="5.3"/>
<circle cx="487.2" cy="1613.1" r="5.3"/>
<circle cx="488.5" cy="1614.0" r="5.3"/>
<circle cx="489.7" cy="1613.2" r="5.3"/>
<circle cx="491.0" cy="1608.1" r="5.3"/>
<circle cx="492.2" cy="1595.0" r="5.3"/>
<circle cx="493.4" cy="1570.5" r="5.3"/>
<circle cx="494.7" cy="1532.8" r="5.3"/>
<circle cx="495.9" cy="1483.9" r="5.3"/>
<circle cx="497.1" cy="1430.1" r="5.3"/>
<circle cx="498.4" cy="1379.8" r="5.3"/>
<circle cx="499.6" cy="1339.4" r="5.3"/>
<circle cx="500.8" cy="1311.1" r="5.3"/>
<circle cx="502.1" cy="1293.6" r="5.3"/>
<circle cx="503.3" cy="1284.2" r="5.3"/>
<circle cx="504.5" cy="1280.0" r="5.3"/>
<circle cx="505.8" cy="1278.7" r="5.3"/>
<circle cx="507.0" cy="1278.5" r="5.3"/>
<circle cx="508.2" cy="1278.7" r="5.3"/>
<circle cx="509.5" cy="1280.3" r="5.3"/>
<circle cx="510.8" cy="1285.7" r="5.3"/>
<circle cx="512.0" cy="1297.6" r="5.3"/>
<circle cx="513.2" cy="1319.6" r="5.3"/>
<circle cx="514.5" cy="1354.8" r="5.3"/>
<circle cx="515.8" cy="1403.3" r="5.3"/>
<circle cx="517.0" cy="1459.8" r="5.3"/>
<circle cx="518.2" cy="1515.0" r="5.3"/>
<circle cx="519.5" cy="1559.4" r="5.3"/>
<circle cx="520.8" cy="1588.9" r="5.3"/>
<circle cx="522.0" cy="1604.8" r="5.3"/>
<circle cx="523.2" cy="1611.0" r="5.3"/>
<circle cx="524.5" cy="1612.0" r="5.3"/>
<circle cx="525.8" cy="1610.7" r="5.3"/>
<circle cx="527.1" cy="1602.8" r="5.3"/>
<circle cx="528.4" cy="1582.4" r="5.3"/>
<circle cx="529.7" cy="1545.6" r="5.3"/>
<circle cx="531.0" cy="1494.6" r="5.3"/>
<circle cx="532.2" cy="1440.1" r="5.3"/>
<circle cx="533.5" cy="1394.6" r="5.3"/>
<circle cx="534.8" cy="1364.1" r="5.3"/>
<circle cx="536.1" cy="1347.3" r="5.3"/>
<circle cx="537.4" cy="1339.9" r="5.3"/>
<circle cx="538.7" cy="1337.7" r="5.3"/>
<circle cx="540.0" cy="1337.4" r="5.3"/>
<circle cx="541.3" cy="1337.9" r="5.3"/>
<circle cx="542.6" cy="1342.3" r="5.3"/>
<circle cx="543.9" cy="1357.1" r="5.3"/>
<circle cx="545.2" cy="1390.2" r="5.3"/>
<circle cx="546.5" cy="1446.1" r="5.3"/>
<circle cx="547.8" cy="1515.3" r="5.3"/>
<circle cx="549.1" cy="1575.4" r="5.3"/>
<circle cx="550.4" cy="1611.5" r="5.3"/>
<circle cx="551.7" cy="1625.7" r="5.3"/>
<circle cx="553.0" cy="1631.2" r="5.3"/>
<circle cx="554.3" cy="1625.0" r="5.3"/>
<circle cx="555.6" cy="1632.1" r="5.3"/>
<circle cx="556.9" cy="1626.7" r="5.3"/>
<circle cx="558.2" cy="1634.3" r="5.3"/>
<circle cx="559.5" cy="1629.3" r="5.3"/>
<circle cx="560.8" cy="1637.1" r="5.3"/>
<circle cx="562.1" cy="1631.9" r="5.3"/>
<circle cx="563.4" cy="1639.3" r="5.3"/>
<circle cx="564.7" cy="1633.6" r="5.3"/>
<circle cx="566.0" cy="1640.2" r="5.3"/>
<circle cx="567.3" cy="1633.6" r="5.3"/>
<circle cx="568.5" cy="1639.3" r="5.3"/>
<circle cx="569.8" cy="1631.9" r="5.3"/>
<circle cx="571.1" cy="1637.0" r="5.3"/>
<circle cx="572.4" cy="1629.1" r="5.3"/>
<circle cx="573.6" cy="1633.9" r="5.3"/>
<circle cx="574.9" cy="1626.0" r="5.3"/>
<circle cx="576.2" cy="1631.1" r="5.3"/>
<circle cx="577.5" cy="1623.7" r="5.3"/>
<circle cx="578.7" cy="1629.4" r="5.3"/>
<circle cx="580.0" cy="1626.0" r="5.3"/>
<circle cx="581.2" cy="1625.7" r="5.3"/>
<circle cx="582.4" cy="1624.0" r="5.3"/>
<circle cx="583.7" cy="1619.7" r="5.3"/>
<circle cx="584.9" cy="1611.6" r="5.3"/>
<circle cx="586.1" cy="1598.6" r="5.3"/>
<circle cx="587.3" cy="1580.0" r="5.3"/>
<circle cx="588.5" cy="1555.9" r="5.3"/>
<circle cx="589.8" cy="1527.5" r="5.3"/>
<circle cx="591.0" cy="1496.9" r="5.3"/>
<circle cx="592.2" cy="1467.0" r="5.3"/>
<circle cx="593.4" cy="1440.2" r="5.3"/>
<circle cx="594.6" cy="1418.1" r="5.3"/>
<circle cx="595.9" cy="1401.2" r="5.3"/>
<circle cx="597.1" cy="1389.2" r="5.3"/>
<circle cx="598.3" cy="1381.2" r="5.3"/>
<circle cx="599.5" cy="1376.3" r="5.3"/>
<circle cx="600.7" cy="1373.7" r="5.3"/>
<circle cx="602.0" cy="1372.4" r="5.3"/>
<circle cx="603.2" cy="1372.0" r="5.3"/>
<circle cx="604.4" cy="1372.0" r="5.3"/>
<circle cx="605.6" cy="1372.1" r="5.3"/>
<circle cx="606.9" cy="1373.1" r="5.3"/>
<circle cx="608.1" cy="1376.1" r="5.3"/>
<circle cx="609.4" cy="1382.9" r="5.3"/>
<circle cx="610.6" cy="1395.4" r="5.3"/>
<circle cx="611.8" cy="1415.8" r="5.3"/>
<circle cx="613.1" cy="1444.8" r="5.3"/>
<circle cx="614.3" cy="1480.9" r="5.3"/>
<circle cx="615.6" cy="1519.5" r="5.3"/>
<circle cx="616.8" cy="1554.7" r="5.3"/>
<circle cx="618.0" cy="1581.8" r="5.3"/>
<circle cx="619.3" cy="1599.3" r="5.3"/>
<circle cx="620.5" cy="1608.7" r="5.3"/>
<circle cx="621.8" cy="1612.4" r="5.3"/>
<circle cx="623.0" cy="1613.0" r="5.3"/>
<circle cx="624.2" cy="1612.3" r="5.3"/>
<circle cx="625.5" cy="1608.1" r="5.3"/>
<circle cx="626.7" cy="1597.5" r="5.3"/>
<circle cx="627.9" cy="1577.5" r="5.3"/>
<circle cx="629.2" cy="1546.7" r="5.3"/>
<circle cx="630.4" cy="1506.7" r="5.3"/>
<circle cx="631.6" cy="1462.8" r="5.3"/>
<circle cx="632.9" cy="1421.8" r="5.3"/>
<circle cx="634.1" cy="1388.8" r="5.3"/>
<circle cx="635.3" cy="1365.7" r="5.3"/>
<circle cx="636.6" cy="1351.4" r="5.3"/>
<circle cx="637.8" cy="1343.7" r="5.3"/>
<circle cx="639.0" cy="1340.2" r="5.3"/>
<circle cx="640.3" cy="1339.1" r="5.3"/>
<circle cx="641.5" cy="1339.0" r="5.3"/>
<circle cx="642.7" cy="1339.1" r="5.3"/>
<circle cx="644.0" cy="1340.2" r="5.3"/>
<circle cx="645.2" cy="1343.6" r="5.3"/>
<circle cx="646.4" cy="1351.3" r="5.3"/>
<circle cx="647.7" cy="1365.6" r="5.3"/>
<circle cx="648.9" cy="1388.6" r="5.3"/>
<circle cx="650.1" cy="1421.4" r="5.3"/>
<circle cx="651.4" cy="1462.4" r="5.3"/>
<circle cx="652.6" cy="1506.1" r="5.3"/>
<circle cx="653.8" cy="1545.9" r="5.3"/>
<circle cx="655.1" cy="1576.6" r="5.3"/>
<circle cx="656.3" cy="1596.5" r="5.3"/>
<circle cx="657.5" cy="1607.2" r="5.3"/>
<circle cx="658.8" cy="1611.3" r="5.3"/>
<circle cx="660.0" cy="1612.0" r="5.3"/>
<circle cx="661.2" cy="1611.3" r="5.3"/>
<circle cx="662.4" cy="1606.7" r="5.3"/>
<circle cx="663.6" cy="1595.1" r="5.3"/>
<circle cx="664.9" cy="1573.4" r="5.3"/>
<circle cx="666.1" cy="1539.9" r="5.3"/>
<circle cx="667.3" cy="1496.4" r="5.3"/>
<circle cx="668.5" cy="1448.6" r="5.3"/>
<circle cx="669.7" cy="1404.0" r="5.3"/>
<circle cx="670.9" cy="1368.1" r="5.3"/>
<circle cx="672.1" cy="1343.0" r="5.3"/>
<circle cx="673.3" cy="1327.4" r="5.3"/>
<circle cx="674.6" cy="1319.1" r="5.3"/>
<circle cx="675.8" cy="1315.3" r="5.3"/>
<circle cx="677.0" cy="1314.1" r="5.3"/>
<circle cx="678.2" cy="1314.0" r="5.3"/>
<circle cx="679.5" cy="1314.1" r="5.3"/>
<circle cx="680.7" cy="1315.3" r="5.3"/>
<circle cx="682.0" cy="1319.0" r="5.3"/>
<circle cx="683.3" cy="1327.3" r="5.3"/>
<circle cx="684.6" cy="1342.7" r="5.3"/>
<circle cx="685.8" cy="1367.6" r="5.3"/>
<circle cx="687.1" cy="1403.1" r="5.3"/>
<circle cx="688.4" cy="1447.3" r="5.3"/>
<circle cx="689.7" cy="1494.6" r="5.3"/>
<circle cx="690.9" cy="1537.6" r="5.3"/>
<circle cx="692.2" cy="1570.8" r="5.3"/>
<circle cx="693.5" cy="1592.3" r="5.3"/>
<circle cx="694.8" cy="1603.8" r="5.3"/>
<circle cx="696.0" cy="1608.3" r="5.3"/>
<circle cx="697.3" cy="1609.0" r="5.3"/>
<circle cx="698.5" cy="1608.2" r="5.3"/>
<circle cx="699.8" cy="1603.3" r="5.3"/>
<circle cx="701.0" cy="1590.7" r="5.3"/>
<circle cx="702.2" cy="1567.1" r="5.3"/>
<circle cx="703.5" cy="1530.8" r="5.3"/>
<circle cx="704.7" cy="1483.7" r="5.3"/>
<circle cx="705.9" cy="1431.9" r="5.3"/>
<circle cx="707.2" cy="1383.5" r="5.3"/>
<circle cx="708.4" cy="1344.7" r="5.3"/>
<circle cx="709.6" cy="1317.4" r="5.3"/>
<circle cx="710.9" cy="1300.6" r="5.3"/>
<circle cx="712.1" cy="1291.5" r="5.3"/>
<circle cx="713.3" cy="1287.4" r="5.3"/>
<circle cx="714.6" cy="1286.1" r="5.3"/>
<circle cx="715.8" cy="1286.0" r="5.3"/>
<circle cx="717.0" cy="1286.1" r="5.3"/>
<circle cx="718.2" cy="1287.4" r="5.3"/>
<circle cx="719.4" cy="1291.5" r="5.3"/>
<circle cx="720.7" cy="1300.6" r="5.3"/>
<circle cx="721.9" cy="1317.4" r="5.3"/>
<circle cx="723.1" cy="1344.7" r="5.3"/>
<circle cx="724.3" cy="1383.5" r="5.3"/>
<circle cx="725.5" cy="1431.9" r="5.3"/>
<circle cx="726.7" cy="1483.7" r="5.3"/>
<circle cx="727.9" cy="1530.8" r="5.3"/>
<circle cx="729.1" cy="1567.1" r="5.3"/>
<circle cx="730.4" cy="1590.7" r="5.3"/>
<circle cx="731.6" cy="1603.3" r="5.3"/>
<circle cx="732.8" cy="1608.2" r="5.3"/>
<circle cx="734.0" cy="1609.0" r="5.3"/>
<circle cx="735.2" cy="1608.2" r="5.3"/>
<circle cx="736.4" cy="1603.2" r="5.3"/>
<circle cx="737.7" cy="1590.3" r="5.3"/>
<circle cx="738.9" cy="1566.2" r="5.3"/>
<circle cx="740.1" cy="1529.1" r="5.3"/>
<circle cx="741.3" cy="1481.0" r="5.3"/>
<circle cx="742.5" cy="1428.1" r="5.3"/>
<circle cx="743.8" cy="1378.7" r="5.3"/>
<circle cx="745.0" cy="1339.0" r="5.3"/>
<circle cx="746.2" cy="1311.1" r="5.3"/>
<circle cx="747.4" cy="1293.9" r="5.3"/>
<circle cx="748.6" cy="1284.6" r="5.3"/>
<circle cx="749.9" cy="1280.5" r="5.3"/>
<circle cx="751.1" cy="1279.2" r="5.3"/>
<circle cx="752.3" cy="1279.0" r="5.3"/>
<circle cx="753.6" cy="1279.2" r="5.3"/>
<circle cx="754.9" cy="1280.8" r="5.3"/>
<circle cx="756.2" cy="1286.1" r="5.3"/>
<circle cx="757.4" cy="1297.9" r="5.3"/>
<circle cx="758.7" cy="1319.7" r="5.3"/>
<circle cx="760.0" cy="1354.5" r="5.3"/>
<circle cx="761.3" cy="1402.5" r="5.3"/>
<circle cx="762.6" cy="1458.4" r="5.3"/>
<circle cx="763.9" cy="1513.0" r="5.3"/>
<circle cx="765.2" cy="1557.0" r="5.3"/>
<circle cx="766.4" cy="1586.2" r="5.3"/>
<circle cx="767.7" cy="1601.9" r="5.3"/>
<circle cx="769.0" cy="1608.0" r="5.3"/>
<circle cx="770.3" cy="1609.0" r="5.3"/>
<circle cx="771.5" cy="1607.0" r="5.3"/>
<circle cx="772.7" cy="1594.6" r="5.3"/>
<circle cx="773.9" cy="1564.8" r="5.3"/>
<circle cx="775.0" cy="1525.1" r="5.3"/>
<circle cx="776.2" cy="1494.5" r="5.3"/>
<circle cx="777.4" cy="1479.8" r="5.3"/>
<circle cx="778.6" cy="1475.5" r="5.3"/>
<circle cx="779.8" cy="1475.0" r="5.3"/>
<circle cx="781.1" cy="1475.1" r="5.3"/>
<circle cx="782.3" cy="1476.1" r="5.3"/>
<circle cx="783.6" cy="1479.3" r="5.3"/>
<circle cx="784.9" cy="1486.4" r="5.3"/>
<circle cx="786.1" cy="1499.6" r="5.3"/>
<circle cx="787.4" cy="1520.2" r="5.3"/>
<circle cx="788.7" cy="1546.9" r="5.3"/>
<circle cx="790.0" cy="1575.4" r="5.3"/>
<circle cx="791.2" cy="1599.9" r="5.3"/>
<circle cx="792.5" cy="1616.7" r="5.3"/>
<circle cx="793.8" cy="1625.9" r="5.3"/>
<circle cx="795.0" cy="1629.4" r="5.3"/>
<circle cx="796.3" cy="1630.0" r="5.3"/>
<circle cx="797.5" cy="1629.5" r="5.3"/>
<circle cx="798.7" cy="1626.4" r="5.3"/>
<circle cx="800.0" cy="1618.6" r="5.3"/>
<circle cx="801.2" cy="1603.8" r="5.3"/>
<circle cx="802.4" cy="1580.5" r="5.3"/>
<circle cx="803.6" cy="1548.5" r="5.3"/>
<circle cx="804.8" cy="1509.8" r="5.3"/>
<circle cx="806.0" cy="1468.9" r="5.3"/>
<circle cx="807.3" cy="1430.6" r="5.3"/>
<circle cx="808.5" cy="1398.9" r="5.3"/>
<circle cx="809.7" cy="1375.2" r="5.3"/>
<circle cx="810.9" cy="1359.3" r="5.3"/>
<circle cx="812.1" cy="1349.5" r="5.3"/>
<circle cx="813.3" cy="1344.2" r="5.3"/>
<circle cx="814.6" cy="1341.8" r="5.3"/>
<circle cx="815.8" cy="1341.1" r="5.3"/>
<circle cx="817.0" cy="1341.0" r="5.3"/>
<circle cx="818.3" cy="1341.5" r="5.3"/>
<circle cx="819.6" cy="1345.7" r="5.3"/>
<circle cx="820.8" cy="1359.7" r="5.3"/>
<circle cx="822.1" cy="1391.3" r="5.3"/>
<circle cx="823.4" cy="1444.6" r="5.3"/>
<circle cx="824.7" cy="1510.6" r="5.3"/>
<circle cx="826.0" cy="1567.9" r="5.3"/>
<circle cx="827.2" cy="1602.3" r="5.3"/>
<circle cx="828.5" cy="1615.8" r="5.3"/>
<circle cx="829.8" cy="1618.0" r="5.3"/>
<circle cx="831.1" cy="1617.1" r="5.3"/>
<circle cx="832.4" cy="1611.9" r="5.3"/>
<circle cx="833.6" cy="1598.5" r="5.3"/>
<circle cx="834.9" cy="1573.3" r="5.3"/>
<circle cx="836.2" cy="1534.6" r="5.3"/>
<circle cx="837.5" cy="1484.4" r="5.3"/>
<circle cx="838.8" cy="1429.2" r="5.3"/>
<circle cx="840.0" cy="1377.5" r="5.3"/>
<circle cx="841.3" cy="1336.1" r="5.3"/>
<circle cx="842.6" cy="1307.0" r="5.3"/>
<circle cx="843.9" cy="1289.0" r="5.3"/>
<circle cx="845.2" cy="1279.4" r="5.3"/>
<circle cx="846.4" cy="1275.0" r="5.3"/>
<circle cx="847.7" cy="1273.7" r="5.3"/>
<circle cx="849.0" cy="1273.5" r="5.3"/>
<circle cx="850.3" cy="1273.7" r="5.3"/>
<circle cx="851.6" cy="1275.4" r="5.3"/>
<circle cx="852.9" cy="1280.9" r="5.3"/>
<circle cx="854.1" cy="1293.3" r="5.3"/>
<circle cx="855.4" cy="1316.1" r="5.3"/>
<circle cx="856.7" cy="1352.6" r="5.3"/>
<circle cx="858.0" cy="1402.8" r="5.3"/>
<circle cx="859.3" cy="1461.4" r="5.3"/>
<circle cx="860.6" cy="1518.5" r="5.3"/>
<circle cx="861.9" cy="1564.5" r="5.3"/>
<circle cx="863.1" cy="1595.1" r="5.3"/>
<circle cx="864.4" cy="1611.6" r="5.3"/>
<circle cx="865.7" cy="1617.9" r="5.3"/>
<circle cx="867.0" cy="1619.0" r="5.3"/>
<circle cx="868.2" cy="1618.3" r="5.3"/>
<circle cx="869.5" cy="1614.2" r="5.3"/>
<circle cx="870.7" cy="1603.7" r="5.3"/>
<circle cx="871.9" cy="1584.0" r="5.3"/>
<circle cx="873.2" cy="1553.2" r="5.3"/>
<circle cx="874.4" cy="1511.9" r="5.3"/>
<circle cx="875.6" cy="1464.0" r="5.3"/>
<circle cx="876.9" cy="1416.0" r="5.3"/>
<circle cx="878.1" cy="1374.1" r="5.3"/>
<circle cx="879.3" cy="1341.9" r="5.3"/>
<circle cx="880.5" cy="1319.9" r="5.3"/>
<circle cx="881.8" cy="1306.3" r="5.3"/>
<circle cx="883.0" cy="1299.0" r="5.3"/>
<circle cx="884.2" cy="1295.8" r="5.3"/>
<circle cx="885.5" cy="1294.7" r="5.3"/>
<circle cx="886.7" cy="1294.6" r="5.3"/>
<circle cx="887.9" cy="1294.8" r="5.3"/>
<circle cx="889.1" cy="1296.0" r="5.3"/>
<circle cx="890.4" cy="1300.1" r="5.3"/>
<circle cx="891.6" cy="1309.3" r="5.3"/>
<circle cx="892.8" cy="1326.3" r="5.3"/>
<circle cx="894.0" cy="1353.7" r="5.3"/>
<circle cx="895.2" cy="1392.9" r="5.3"/>
<circle cx="896.5" cy="1441.6" r="5.3"/>
<circle cx="897.7" cy="1493.8" r="5.3"/>
<circle cx="898.9" cy="1541.3" r="5.3"/>
<circle cx="900.1" cy="1577.8" r="5.3"/>
<circle cx="901.3" cy="1601.6" r="5.3"/>
<circle cx="902.6" cy="1614.2" r="5.3"/>
<circle cx="903.8" cy="1619.2" r="5.3"/>
<circle cx="905.0" cy="1620.0" r="5.3"/>
<circle cx="906.2" cy="1619.2" r="5.3"/>
<circle cx="907.5" cy="1614.2" r="5.3"/>
<circle cx="908.7" cy="1601.6" r="5.3"/>
<circle cx="909.9" cy="1577.8" r="5.3"/>
<circle cx="911.2" cy="1541.3" r="5.3"/>
<circle cx="912.4" cy="1493.8" r="5.3"/>
<circle cx="913.6" cy="1441.6" r="5.3"/>
<circle cx="914.9" cy="1392.9" r="5.3"/>
<circle cx="916.1" cy="1353.7" r="5.3"/>
<circle cx="917.3" cy="1326.3" r="5.3"/>
<circle cx="918.6" cy="1309.3" r="5.3"/>
<circle cx="919.8" cy="1300.1" r="5.3"/>
<circle cx="921.0" cy="1296.0" r="5.3"/>
<circle cx="922.3" cy="1294.8" r="5.3"/>
<circle cx="923.5" cy="1294.6" r="5.3"/>
<circle cx="924.7" cy="1294.8" r="5.3"/>
<circle cx="926.0" cy="1296.1" r="5.3"/>
<circle cx="927.2" cy="1300.2" r="5.3"/>
<circle cx="928.4" cy="1309.5" r="5.3"/>
<circle cx="929.7" cy="1326.6" r="5.3"/>
<circle cx="930.9" cy="1354.4" r="5.3"/>
<circle cx="932.1" cy="1394.1" r="5.3"/>
<circle cx="933.4" cy="1443.4" r="5.3"/>
<circle cx="934.6" cy="1496.2" r="5.3"/>
<circle cx="935.8" cy="1544.3" r="5.3"/>
<circle cx="937.1" cy="1581.3" r="5.3"/>
<circle cx="938.3" cy="1605.3" r="5.3"/>
<circle cx="939.5" cy="1618.2" r="5.3"/>
<circle cx="940.8" cy="1623.2" r="5.3"/>
<circle cx="942.0" cy="1624.0" r="5.3"/>
<circle cx="943.2" cy="1623.4" r="5.3"/>
<circle cx="944.5" cy="1619.6" r="5.3"/>
<circle cx="945.7" cy="1609.9" r="5.3"/>
<circle cx="947.0" cy="1591.7" r="5.3"/>
<circle cx="948.2" cy="1563.2" r="5.3"/>
<circle cx="949.5" cy="1525.0" r="5.3"/>
<circle cx="950.7" cy="1480.6" r="5.3"/>
<circle cx="952.0" cy="1436.2" r="5.3"/>
<circle cx="953.2" cy="1397.5" r="5.3"/>
<circle cx="954.4" cy="1367.8" r="5.3"/>
<circle cx="955.7" cy="1347.4" r="5.3"/>
<circle cx="956.9" cy="1334.9" r="5.3"/>
<circle cx="958.2" cy="1328.1" r="5.3"/>
<circle cx="959.4" cy="1325.1" r="5.3"/>
<circle cx="960.7" cy="1324.1" r="5.3"/>
<circle cx="961.9" cy="1324.0" r="5.3"/>
<circle cx="963.2" cy="1324.1" r="5.3"/>
<circle cx="964.4" cy="1325.3" r="5.3"/>
<circle cx="965.7" cy="1329.1" r="5.3"/>
<circle cx="966.9" cy="1337.5" r="5.3"/>
<circle cx="968.2" cy="1353.2" r="5.3"/>
<circle cx="969.4" cy="1378.5" r="5.3"/>
<circle cx="970.7" cy="1414.6" r="5.3"/>
<circle cx="971.9" cy="1459.5" r="5.3"/>
<circle cx="973.2" cy="1507.7" r="5.3"/>
<circle cx="974.4" cy="1551.4" r="5.3"/>
<circle cx="975.7" cy="1585.1" r="5.3"/>
<circle cx="976.9" cy="1607.0" r="5.3"/>
<circle cx="978.2" cy="1618.7" r="5.3"/>
<circle cx="979.4" cy="1623.2" r="5.3"/>
<circle cx="980.7" cy="1624.0" r="5.3"/>
<circle cx="982.0" cy="1623.3" r="5.3"/>
<circle cx="983.2" cy="1619.1" r="5.3"/>
<circle cx="984.5" cy="1608.4" r="5.3"/>
<circle cx="985.8" cy="1588.2" r="5.3"/>
<circle cx="987.1" cy="1557.2" r="5.3"/>
<circle cx="988.3" cy="1517.0" r="5.3"/>
<circle cx="989.6" cy="1472.7" r="5.3"/>
<circle cx="990.9" cy="1431.4" r="5.3"/>
<circle cx="992.2" cy="1398.1" r="5.3"/>
<circle cx="993.4" cy="1374.9" r="5.3"/>
<circle cx="994.7" cy="1360.5" r="5.3"/>
<circle cx="996.0" cy="1352.7" r="5.3"/>
<circle cx="997.3" cy="1349.2" r="5.3"/>
<circle cx="998.5" cy="1348.1" r="5.3"/>
<circle cx="999.8" cy="1348.0" r="5.3"/>
<circle cx="1001.0" cy="1348.2" r="5.3"/>
<circle cx="1002.3" cy="1349.5" r="5.3"/>
<circle cx="1003.5" cy="1354.0" r="5.3"/>
<circle cx="1004.7" cy="1363.9" r="5.3"/>
<circle cx="1005.9" cy="1382.3" r="5.3"/>
<circle cx="1007.2" cy="1411.6" r="5.3"/>
<circle cx="1008.4" cy="1452.0" r="5.3"/>
<circle cx="1009.6" cy="1499.2" r="5.3"/>
<circle cx="1010.9" cy="1545.1" r="5.3"/>
<circle cx="1012.1" cy="1582.2" r="5.3"/>
<circle cx="1013.3" cy="1606.8" r="5.3"/>
<circle cx="1014.5" cy="1620.0" r="5.3"/>
<circle cx="1015.8" cy="1625.2" r="5.3"/>
<circle cx="1017.0" cy="1629.2" r="5.3"/>
<circle cx="1018.2" cy="1623.1" r="5.3"/>
<circle cx="1019.4" cy="1630.3" r="5.3"/>
<circle cx="1020.7" cy="1625.0" r="5.3"/>
<circle cx="1021.9" cy="1632.9" r="5.3"/>
<circle cx="1023.1" cy="1628.1" r="5.3"/>
<circle cx="1024.3" cy="1636.0" r="5.3"/>
<circle cx="1025.6" cy="1630.7" r="5.3"/>
<circle cx="1026.8" cy="1637.9" r="5.3"/>
<circle cx="1028.0" cy="1638.2" r="5.3"/>
<circle cx="1029.2" cy="1631.5" r="5.3"/>
<circle cx="1030.5" cy="1636.9" r="5.3"/>
<circle cx="1031.8" cy="1629.0" r="5.3"/>
<circle cx="1033.0" cy="1633.7" r="5.3"/>
<circle cx="1034.2" cy="1625.6" r="5.3"/>
<circle cx="1035.5" cy="1630.5" r="5.3"/>
<circle cx="1036.8" cy="1623.1" r="5.3"/>
<circle cx="1038.0" cy="1626.0" r="5.3"/>
<circle cx="1039.2" cy="1624.9" r="5.3"/>
<circle cx="1040.5" cy="1618.4" r="5.3"/>
<circle cx="1041.8" cy="1601.7" r="5.3"/>
<circle cx="1043.0" cy="1570.6" r="5.3"/>
<circle cx="1044.2" cy="1523.9" r="5.3"/>
<circle cx="1045.5" cy="1465.9" r="5.3"/>
<circle cx="1046.8" cy="1406.3" r="5.3"/>
<circle cx="1048.0" cy="1355.4" r="5.3"/>
<circle cx="1049.2" cy="1318.3" r="5.3"/>
<circle cx="1050.5" cy="1295.1" r="5.3"/>
<circle cx="1051.8" cy="1282.5" r="5.3"/>
<circle cx="1053.0" cy="1276.9" r="5.3"/>
<circle cx="1054.2" cy="1275.2" r="5.3"/>
<circle cx="1055.5" cy="1275.0" r="5.3"/>
<circle cx="1056.7" cy="1275.1" r="5.3"/>
<circle cx="1058.0" cy="1276.0" r="5.3"/>
<circle cx="1059.2" cy="1278.9" r="5.3"/>
<circle cx="1060.4" cy="1285.3" r="5.3"/>
<circle cx="1061.7" cy="1297.1" r="5.3"/>
<circle cx="1062.9" cy="1316.3" r="5.3"/>
<circle cx="1064.1" cy="1344.9" r="5.3"/>
<circle cx="1065.4" cy="1383.2" r="5.3"/>
<circle cx="1066.6" cy="1429.4" r="5.3"/>
<circle cx="1067.9" cy="1478.9" r="5.3"/>
<circle cx="1069.1" cy="1525.6" r="5.3"/>
<circle cx="1070.3" cy="1564.3" r="5.3"/>
<circle cx="1071.6" cy="1592.4" r="5.3"/>
<circle cx="1072.8" cy="1610.2" r="5.3"/>
<circle cx="1074.0" cy="1619.7" r="5.3"/>
<circle cx="1075.3" cy="1623.4" r="5.3"/>
<circle cx="1076.5" cy="1624.0" r="5.3"/>
<circle cx="1077.7" cy="1623.3" r="5.3"/>
<circle cx="1078.9" cy="1619.2" r="5.3"/>
<circle cx="1080.1" cy="1608.7" r="5.3"/>
<circle cx="1081.3" cy="1589.0" r="5.3"/>
<circle cx="1082.6" cy="1558.2" r="5.3"/>
<circle cx="1083.8" cy="1516.9" r="5.3"/>
<circle cx="1085.0" cy="1468.9" r="5.3"/>
<circle cx="1086.2" cy="1420.9" r="5.3"/>
<circle cx="1087.4" cy="1379.0" r="5.3"/>
<circle cx="1088.6" cy="1346.8" r="5.3"/>
<circle cx="1089.8" cy="1324.8" r="5.3"/>
<circle cx="1091.1" cy="1311.2" r="5.3"/>
<circle cx="1092.3" cy="1303.9" r="5.3"/>
<circle cx="1093.5" cy="1300.7" r="5.3"/>
<circle cx="1094.7" cy="1299.6" r="5.3"/>
<circle cx="1095.9" cy="1299.5" r="5.3"/>
<circle cx="1097.2" cy="1299.6" r="5.3"/>
<circle cx="1098.4" cy="1300.7" r="5.3"/>
<circle cx="1099.7" cy="1304.0" r="5.3"/>
<circle cx="1100.9" cy="1311.3" r="5.3"/>
<circle cx="1102.2" cy="1324.9" r="5.3"/>
<circle cx="1103.4" cy="1347.1" r="5.3"/>
<circle cx="1104.7" cy="1379.5" r="5.3"/>
<circle cx="1106.0" cy="1421.7" r="5.3"/>
<circle cx="1107.2" cy="1470.0" r="5.3"/>
<circle cx="1108.5" cy="1518.2" r="5.3"/>
<circle cx="1109.7" cy="1559.8" r="5.3"/>
<circle cx="1111.0" cy="1590.8" r="5.3"/>
<circle cx="1112.2" cy="1610.6" r="5.3"/>
<circle cx="1113.5" cy="1621.2" r="5.3"/>
<circle cx="1114.7" cy="1625.3" r="5.3"/>
<circle cx="1116.0" cy="1626.0" r="5.3"/>
<circle cx="1117.2" cy="1625.3" r="5.3"/>
<circle cx="1118.5" cy="1621.0" r="5.3"/>
<circle cx="1119.7" cy="1609.9" r="5.3"/>
<circle cx="1121.0" cy="1589.1" r="5.3"/>
<circle cx="1122.2" cy="1557.2" r="5.3"/>
<circle cx="1123.5" cy="1515.7" r="5.3"/>
<circle cx="1124.7" cy="1470.1" r="5.3"/>
<circle cx="1126.0" cy="1427.5" r="5.3"/>
<circle cx="1127.2" cy="1393.3" r="5.3"/>
<circle cx="1128.5" cy="1369.3" r="5.3"/>
<circle cx="1129.7" cy="1354.4" r="5.3"/>
<circle cx="1131.0" cy="1346.4" r="5.3"/>
<circle cx="1132.2" cy="1342.9" r="5.3"/>
<circle cx="1133.5" cy="1341.7" r="5.3"/>
<circle cx="1134.7" cy="1341.6" r="5.3"/>
<circle cx="1135.9" cy="1341.7" r="5.3"/>
<circle cx="1137.2" cy="1342.6" r="5.3"/>
<circle cx="1138.4" cy="1345.6" r="5.3"/>
<circle cx="1139.7" cy="1352.2" r="5.3"/>
<circle cx="1140.9" cy="1364.4" r="5.3"/>
<circle cx="1142.1" cy="1384.2" r="5.3"/>
<circle cx="1143.4" cy="1413.3" r="5.3"/>
<circle cx="1144.6" cy="1451.0" r="5.3"/>
<circle cx="1145.8" cy="1494.3" r="5.3"/>
<circle cx="1147.1" cy="1537.5" r="5.3"/>
<circle cx="1148.3" cy="1574.7" r="5.3"/>
<circle cx="1149.5" cy="1602.5" r="5.3"/>
<circle cx="1150.8" cy="1620.2" r="5.3"/>
<circle cx="1152.0" cy="1629.7" r="5.3"/>
<circle cx="1153.3" cy="1633.4" r="5.3"/>
<circle cx="1154.5" cy="1634.0" r="5.3"/>
<circle cx="1155.7" cy="1633.4" r="5.3"/>
<circle cx="1157.0" cy="1629.7" r="5.3"/>
<circle cx="1158.2" cy="1620.2" r="5.3"/>
<circle cx="1159.4" cy="1602.4" r="5.3"/>
<circle cx="1160.7" cy="1575.0" r="5.3"/>
<circle cx="1161.9" cy="1539.4" r="5.3"/>
<circle cx="1163.1" cy="1500.2" r="5.3"/>
<circle cx="1164.4" cy="1463.7" r="5.3"/>
<circle cx="1165.6" cy="1434.3" r="5.3"/>
<circle cx="1166.8" cy="1413.7" r="5.3"/>
<circle cx="1168.1" cy="1401.0" r="5.3"/>
<circle cx="1169.3" cy="1394.1" r="5.3"/>
<circle cx="1170.5" cy="1391.1" r="5.3"/>
<circle cx="1171.8" cy="1390.1" r="5.3"/>
<circle cx="1173.0" cy="1390.0" r="5.3"/>
<circle cx="1174.2" cy="1390.1" r="5.3"/>
<circle cx="1175.5" cy="1390.7" r="5.3"/>
<circle cx="1176.7" cy="1392.7" r="5.3"/>
<circle cx="1177.9" cy="1397.2" r="5.3"/>
<circle cx="1179.2" cy="1405.5" r="5.3"/>
<circle cx="1180.4" cy="1419.1" r="5.3"/>
<circle cx="1181.6" cy="1439.3" r="5.3"/>
<circle cx="1182.9" cy="1466.3" r="5.3"/>
<circle cx="1184.1" cy="1498.9" r="5.3"/>
<circle cx="1185.4" cy="1533.7" r="5.3"/>
<circle cx="1186.6" cy="1566.6" r="5.3"/>
<circle cx="1187.8" cy="1593.9" r="5.3"/>
<circle cx="1189.1" cy="1613.7" r="5.3"/>
<circle cx="1190.3" cy="1626.3" r="5.3"/>
<circle cx="1191.5" cy="1632.9" r="5.3"/>
<circle cx="1192.8" cy="1635.6" r="5.3"/>
<circle cx="1194.0" cy="1639.2" r="5.3"/>
<circle cx="1195.3" cy="1628.8" r="5.3"/>
<circle cx="1196.5" cy="1624.5" r="5.3"/>
<circle cx="1197.8" cy="1603.3" r="5.3"/>
<circle cx="1199.1" cy="1595.0" r="5.3"/>
<circle cx="1200.3" cy="1577.8" r="5.3"/>
<circle cx="1201.6" cy="1577.0" r="5.3"/>
</g>
<text transform="translate(141.61,1155.90) scale(0.9443,1)" font-family='"Liberation Sans", sans-serif' font-weight="bold" font-size="84.5" fill="#2b2b2b" stroke="#fff" stroke-width="1.8" stroke-linejoin="round">8</text>
<text transform="translate(141.15,1293.60) scale(0.9639,1)" font-family='"Liberation Sans", sans-serif' font-weight="bold" font-size="84.5" fill="#2b2b2b" stroke="#fff" stroke-width="1.8" stroke-linejoin="round">6</text>
<text transform="translate(143.10,1431.20) scale(0.8693,1)" font-family='"Liberation Sans", sans-serif' font-weight="bold" font-size="84.5" fill="#2b2b2b" stroke="#fff" stroke-width="1.8" stroke-linejoin="round">4</text>
<text transform="translate(141.35,1568.90) scale(0.9639,1)" font-family='"Liberation Sans", sans-serif' font-weight="bold" font-size="84.5" fill="#2b2b2b" stroke="#fff" stroke-width="1.8" stroke-linejoin="round">2</text>
<text transform="translate(140.89,1706.90) scale(0.9791,1)" font-family='"Liberation Sans", sans-serif' font-weight="bold" font-size="84.5" fill="#2b2b2b" stroke="#fff" stroke-width="1.8" stroke-linejoin="round">0</text>
<text transform="translate(238.33,1845.35) scale(0.9915,1)" font-family='"Liberation Sans", sans-serif' font-weight="bold" font-size="80.97" fill="#2b2b2b" stroke="#fff" stroke-width="0.7" stroke-linejoin="round">1520</text>
<text transform="translate(470.73,1845.35) scale(0.9915,1)" font-family='"Liberation Sans", sans-serif' font-weight="bold" font-size="80.97" fill="#2b2b2b" stroke="#fff" stroke-width="0.7" stroke-linejoin="round">1540</text>
<text transform="translate(703.73,1845.35) scale(0.9915,1)" font-family='"Liberation Sans", sans-serif' font-weight="bold" font-size="80.97" fill="#2b2b2b" stroke="#fff" stroke-width="0.7" stroke-linejoin="round">1560</text>
<text transform="translate(935.93,1845.35) scale(0.9915,1)" font-family='"Liberation Sans", sans-serif' font-weight="bold" font-size="80.97" fill="#2b2b2b" stroke="#fff" stroke-width="0.7" stroke-linejoin="round">1580</text>
<text transform="translate(216.68,1116.60) scale(1.0000,1)" font-family='"Liberation Sans", sans-serif' font-weight="normal" font-size="96.06" fill="#2b2b2b" stroke="#fff" stroke-width="2.2" stroke-linejoin="round">×</text>
<text transform="translate(279.21,1106.10) scale(0.9480,1)" font-family='"Liberation Sans", sans-serif' font-weight="bold" font-size="82.5" fill="#2b2b2b" stroke="#fff" stroke-width="1.8" stroke-linejoin="round">10</text>
<text transform="translate(370.21,1066.80) scale(1.0000,1)" font-family='"Liberation Sans", sans-serif' font-weight="bold" font-size="66.22" fill="#2b2b2b" stroke="#fff" stroke-width="1.6" stroke-linejoin="round">4</text>
<text transform="translate(350.00,1955.20) scale(0.9693,1)" font-family='"Liberation Sans", sans-serif' font-weight="bold" font-size="92" fill="#000">Wavelength (nm)</text>
<text transform="translate(113.05,1809.33) rotate(-90) scale(0.9725,1)" font-family='"Liberation Sans", sans-serif' font-weight="bold" font-size="91.03" fill="#000" stroke="#fff" stroke-width="1.1" stroke-linejoin="round">Intensity (Counts)</text>
<text transform="translate(219.13,1236.20) scale(0.9615,1)" font-family='"Liberation Sans", sans-serif' font-weight="normal" font-size="66" fill="#000" stroke="#000" stroke-width="3.4" stroke-linejoin="round">Ch1</text>
<text transform="translate(390.55,1239.10) scale(0.9543,1)" font-family='"Liberation Sans", sans-serif' font-weight="normal" font-size="66" fill="#000" stroke="#000" stroke-width="3.4" stroke-linejoin="round">Ch 2</text>
<text transform="translate(604.57,1238.30) scale(0.9470,1)" font-family='"Liberation Sans", sans-serif' font-weight="normal" font-size="66" fill="#000" stroke="#000" stroke-width="3.4" stroke-linejoin="round">Ch 3</text>
<text transform="translate(823.26,1236.20) scale(0.9512,1)" font-family='"Liberation Sans", sans-serif' font-weight="normal" font-size="66" fill="#000" stroke="#000" stroke-width="3.4" stroke-linejoin="round">Ch 4</text>
<text transform="translate(1030.84,1236.20) scale(0.9571,1)" font-family='"Liberation Sans", sans-serif' font-weight="normal" font-size="66" fill="#000" stroke="#000" stroke-width="3.4" stroke-linejoin="round">Ch 5</text>
<text transform="translate(1114.19,1089.40) scale(0.9163,1)" font-family='"Liberation Sans", sans-serif' font-weight="bold" font-size="70" fill="#000">(c)</text>
<text transform="translate(211.20,1695.50) scale(1.0378,1)" font-family='"DejaVu Sans Mono", "Liberation Mono", monospace' font-weight="bold" font-size="50" fill="#d23cd2">1</text>
<text transform="translate(243.69,1695.50) scale(1.2043,1)" font-family='"DejaVu Sans Mono", "Liberation Mono", monospace' font-weight="bold" font-size="50" fill="#d23cd2">2</text>
<text transform="translate(280.54,1695.50) scale(1.1518,1)" font-family='"DejaVu Sans Mono", "Liberation Mono", monospace' font-weight="bold" font-size="50" fill="#d23cd2">3</text>
<text transform="translate(363.00,1695.50) scale(1.2020,1)" font-family='"DejaVu Sans Mono", "Liberation Mono", monospace' font-weight="bold" font-size="50" fill="#d23cd2">4</text>
<text transform="translate(400.00,1695.50) scale(1.0000,1)" font-family='"DejaVu Sans Mono", "Liberation Mono", monospace' font-weight="bold" font-size="50" fill="#d23cd2">.</text>
<text transform="translate(430.50,1695.50) scale(1.0000,1)" font-family='"DejaVu Sans Mono", "Liberation Mono", monospace' font-weight="bold" font-size="50" fill="#d23cd2">.</text>
<text transform="translate(463.70,1695.50) scale(1.0000,1)" font-family='"DejaVu Sans Mono", "Liberation Mono", monospace' font-weight="bold" font-size="50" fill="#d23cd2">.</text>
<text transform="translate(505.23,1695.50) scale(1.2063,1)" font-family='"DejaVu Sans Mono", "Liberation Mono", monospace' font-weight="bold" font-size="50" fill="#d23cd2">8</text>
<text transform="translate(609.57,1678.80) scale(1.1399,1)" font-family='"DejaVu Sans Mono", "Liberation Mono", monospace' font-weight="bold" font-size="50" fill="#d23cd2">9</text>
<text transform="translate(644.00,1678.80) scale(1.0000,1)" font-family='"DejaVu Sans Mono", "Liberation Mono", monospace' font-weight="bold" font-size="50" fill="#d23cd2">.</text>
<text transform="translate(668.40,1678.80) scale(1.0000,1)" font-family='"DejaVu Sans Mono", "Liberation Mono", monospace' font-weight="bold" font-size="50" fill="#d23cd2">.</text>
<text transform="translate(701.60,1678.80) scale(1.0000,1)" font-family='"DejaVu Sans Mono", "Liberation Mono", monospace' font-weight="bold" font-size="50" fill="#d23cd2">.</text>
<text transform="translate(729.32,1678.80) scale(1.0119,1)" font-family='"DejaVu Sans Mono", "Liberation Mono", monospace' font-weight="bold" font-size="50" fill="#d23cd2">13</text>
<text transform="translate(811.36,1690.30) scale(1.0023,1)" font-family='"DejaVu Sans Mono", "Liberation Mono", monospace' font-weight="bold" font-size="50" fill="#d23cd2">14</text>
<text transform="translate(877.50,1690.30) scale(1.0000,1)" font-family='"DejaVu Sans Mono", "Liberation Mono", monospace' font-weight="bold" font-size="50" fill="#d23cd2">.</text>
<text transform="translate(903.40,1690.30) scale(1.0000,1)" font-family='"DejaVu Sans Mono", "Liberation Mono", monospace' font-weight="bold" font-size="50" fill="#d23cd2">.</text>
<text transform="translate(928.00,1690.30) scale(1.0000,1)" font-family='"DejaVu Sans Mono", "Liberation Mono", monospace' font-weight="bold" font-size="50" fill="#d23cd2">.</text>
<text transform="translate(953.97,1690.30) scale(1.0438,1)" font-family='"DejaVu Sans Mono", "Liberation Mono", monospace' font-weight="bold" font-size="50" fill="#d23cd2">18</text>
<text transform="translate(1046.28,1696.00) scale(1.0215,1)" font-family='"DejaVu Sans Mono", "Liberation Mono", monospace' font-weight="bold" font-size="50" fill="#d23cd2">19</text>
<text transform="translate(1108.00,1696.00) scale(1.0000,1)" font-family='"DejaVu Sans Mono", "Liberation Mono", monospace' font-weight="bold" font-size="50" fill="#d23cd2">.</text>
<text transform="translate(1122.60,1696.00) scale(1.0000,1)" font-family='"DejaVu Sans Mono", "Liberation Mono", monospace' font-weight="bold" font-size="50" fill="#d23cd2">.</text>
<text transform="translate(1144.88,1696.00) scale(1.0267,1)" font-family='"DejaVu Sans Mono", "Liberation Mono", monospace' font-weight="bold" font-size="50" fill="#d23cd2">22</text>
<line x1="1465.50" y1="170.80" x2="1465.50" y2="789.10" stroke="#b4b4b4" stroke-width="8.4" stroke-linecap="butt"/>
<line x1="2396.00" y1="170.80" x2="2396.00" y2="789.10" stroke="#8a8a8a" stroke-width="3.0" stroke-linecap="butt"/>
<line x1="1465.50" y1="168.00" x2="1465.50" y2="791.90" stroke="#3c3c3c" stroke-width="3.0" stroke-linecap="butt"/>
<line x1="2398.40" y1="168.00" x2="2398.40" y2="791.90" stroke="#2c2c2c" stroke-width="3.0" stroke-linecap="butt"/>
<line x1="1464.00" y1="170.80" x2="2399.90" y2="170.80" stroke="#202020" stroke-width="5.6" stroke-linecap="butt"/>
<line x1="1464.00" y1="789.10" x2="2399.90" y2="789.10" stroke="#202020" stroke-width="5.6" stroke-linecap="butt"/>
<line x1="1775.80" y1="170.80" x2="1775.80" y2="182.80" stroke="#202020" stroke-width="3.6" stroke-linecap="butt"/>
<line x1="1775.80" y1="789.10" x2="1775.80" y2="777.10" stroke="#202020" stroke-width="3.6" stroke-linecap="butt"/>
<line x1="2087.60" y1="170.80" x2="2087.60" y2="182.80" stroke="#202020" stroke-width="3.6" stroke-linecap="butt"/>
<line x1="2087.60" y1="789.10" x2="2087.60" y2="777.10" stroke="#202020" stroke-width="3.6" stroke-linecap="butt"/>
<line x1="1465.50" y1="192.88" x2="1476.00" y2="192.88" stroke="#202020" stroke-width="5.4" stroke-linecap="butt"/>
<line x1="2397.40" y1="192.88" x2="2386.90" y2="192.88" stroke="#202020" stroke-width="5.4" stroke-linecap="butt"/>
<line x1="1465.50" y1="214.96" x2="1476.00" y2="214.96" stroke="#202020" stroke-width="5.4" stroke-linecap="butt"/>
<line x1="2397.40" y1="214.96" x2="2386.90" y2="214.96" stroke="#202020" stroke-width="5.4" stroke-linecap="butt"/>
<line x1="1465.50" y1="237.05" x2="1476.00" y2="237.05" stroke="#202020" stroke-width="5.4" stroke-linecap="butt"/>
<line x1="2397.40" y1="237.05" x2="2386.90" y2="237.05" stroke="#202020" stroke-width="5.4" stroke-linecap="butt"/>
<line x1="1465.50" y1="259.13" x2="1476.00" y2="259.13" stroke="#202020" stroke-width="5.4" stroke-linecap="butt"/>
<line x1="2397.40" y1="259.13" x2="2386.90" y2="259.13" stroke="#202020" stroke-width="5.4" stroke-linecap="butt"/>
<line x1="1465.50" y1="281.21" x2="1476.00" y2="281.21" stroke="#202020" stroke-width="5.4" stroke-linecap="butt"/>
<line x1="2397.40" y1="281.21" x2="2386.90" y2="281.21" stroke="#202020" stroke-width="5.4" stroke-linecap="butt"/>
<line x1="1465.50" y1="303.29" x2="1476.00" y2="303.29" stroke="#202020" stroke-width="5.4" stroke-linecap="butt"/>
<line x1="2397.40" y1="303.29" x2="2386.90" y2="303.29" stroke="#202020" stroke-width="5.4" stroke-linecap="butt"/>
<line x1="1465.50" y1="325.38" x2="1476.00" y2="325.38" stroke="#202020" stroke-width="5.4" stroke-linecap="butt"/>
<line x1="2397.40" y1="325.38" x2="2386.90" y2="325.38" stroke="#202020" stroke-width="5.4" stroke-linecap="butt"/>
<line x1="1465.50" y1="347.46" x2="1476.00" y2="347.46" stroke="#202020" stroke-width="5.4" stroke-linecap="butt"/>
<line x1="2397.40" y1="347.46" x2="2386.90" y2="347.46" stroke="#202020" stroke-width="5.4" stroke-linecap="butt"/>
<line x1="1465.50" y1="369.54" x2="1476.00" y2="369.54" stroke="#202020" stroke-width="5.4" stroke-linecap="butt"/>
<line x1="2397.40" y1="369.54" x2="2386.90" y2="369.54" stroke="#202020" stroke-width="5.4" stroke-linecap="butt"/>
<line x1="1465.50" y1="391.62" x2="1476.00" y2="391.62" stroke="#202020" stroke-width="5.4" stroke-linecap="butt"/>
<line x1="2397.40" y1="391.62" x2="2386.90" y2="391.62" stroke="#202020" stroke-width="5.4" stroke-linecap="butt"/>
<line x1="1465.50" y1="413.70" x2="1476.00" y2="413.70" stroke="#202020" stroke-width="5.4" stroke-linecap="butt"/>
<line x1="2397.40" y1="413.70" x2="2386.90" y2="413.70" stroke="#202020" stroke-width="5.4" stroke-linecap="butt"/>
<line x1="1465.50" y1="435.79" x2="1476.00" y2="435.79" stroke="#202020" stroke-width="5.4" stroke-linecap="butt"/>
<line x1="2397.40" y1="435.79" x2="2386.90" y2="435.79" stroke="#202020" stroke-width="5.4" stroke-linecap="butt"/>
<line x1="1465.50" y1="457.87" x2="1476.00" y2="457.87" stroke="#202020" stroke-width="5.4" stroke-linecap="butt"/>
<line x1="2397.40" y1="457.87" x2="2386.90" y2="457.87" stroke="#202020" stroke-width="5.4" stroke-linecap="butt"/>
<line x1="1465.50" y1="479.95" x2="1476.00" y2="479.95" stroke="#202020" stroke-width="5.4" stroke-linecap="butt"/>
<line x1="2397.40" y1="479.95" x2="2386.90" y2="479.95" stroke="#202020" stroke-width="5.4" stroke-linecap="butt"/>
<line x1="1465.50" y1="502.03" x2="1476.00" y2="502.03" stroke="#202020" stroke-width="5.4" stroke-linecap="butt"/>
<line x1="2397.40" y1="502.03" x2="2386.90" y2="502.03" stroke="#202020" stroke-width="5.4" stroke-linecap="butt"/>
<line x1="1465.50" y1="524.11" x2="1476.00" y2="524.11" stroke="#202020" stroke-width="5.4" stroke-linecap="butt"/>
<line x1="2397.40" y1="524.11" x2="2386.90" y2="524.11" stroke="#202020" stroke-width="5.4" stroke-linecap="butt"/>
<line x1="1465.50" y1="546.20" x2="1476.00" y2="546.20" stroke="#202020" stroke-width="5.4" stroke-linecap="butt"/>
<line x1="2397.40" y1="546.20" x2="2386.90" y2="546.20" stroke="#202020" stroke-width="5.4" stroke-linecap="butt"/>
<line x1="1465.50" y1="568.28" x2="1476.00" y2="568.28" stroke="#202020" stroke-width="5.4" stroke-linecap="butt"/>
<line x1="2397.40" y1="568.28" x2="2386.90" y2="568.28" stroke="#202020" stroke-width="5.4" stroke-linecap="butt"/>
<line x1="1465.50" y1="590.36" x2="1476.00" y2="590.36" stroke="#202020" stroke-width="5.4" stroke-linecap="butt"/>
<line x1="2397.40" y1="590.36" x2="2386.90" y2="590.36" stroke="#202020" stroke-width="5.4" stroke-linecap="butt"/>
<line x1="1465.50" y1="612.44" x2="1476.00" y2="612.44" stroke="#202020" stroke-width="5.4" stroke-linecap="butt"/>
<line x1="2397.40" y1="612.44" x2="2386.90" y2="612.44" stroke="#202020" stroke-width="5.4" stroke-linecap="butt"/>
<line x1="1465.50" y1="634.52" x2="1476.00" y2="634.52" stroke="#202020" stroke-width="5.4" stroke-linecap="butt"/>
<line x1="2397.40" y1="634.52" x2="2386.90" y2="634.52" stroke="#202020" stroke-width="5.4" stroke-linecap="butt"/>
<line x1="1465.50" y1="656.61" x2="1476.00" y2="656.61" stroke="#202020" stroke-width="5.4" stroke-linecap="butt"/>
<line x1="2397.40" y1="656.61" x2="2386.90" y2="656.61" stroke="#202020" stroke-width="5.4" stroke-linecap="butt"/>
<line x1="1465.50" y1="678.69" x2="1476.00" y2="678.69" stroke="#202020" stroke-width="5.4" stroke-linecap="butt"/>
<line x1="2397.40" y1="678.69" x2="2386.90" y2="678.69" stroke="#202020" stroke-width="5.4" stroke-linecap="butt"/>
<line x1="1465.50" y1="700.77" x2="1476.00" y2="700.77" stroke="#202020" stroke-width="5.4" stroke-linecap="butt"/>
<line x1="2397.40" y1="700.77" x2="2386.90" y2="700.77" stroke="#202020" stroke-width="5.4" stroke-linecap="butt"/>
<line x1="1465.50" y1="722.85" x2="1476.00" y2="722.85" stroke="#202020" stroke-width="5.4" stroke-linecap="butt"/>
<line x1="2397.40" y1="722.85" x2="2386.90" y2="722.85" stroke="#202020" stroke-width="5.4" stroke-linecap="butt"/>
<line x1="1465.50" y1="744.94" x2="1476.00" y2="744.94" stroke="#202020" stroke-width="5.4" stroke-linecap="butt"/>
<line x1="2397.40" y1="744.94" x2="2386.90" y2="744.94" stroke="#202020" stroke-width="5.4" stroke-linecap="butt"/>
<line x1="1465.50" y1="767.02" x2="1476.00" y2="767.02" stroke="#202020" stroke-width="5.4" stroke-linecap="butt"/>
<line x1="2397.40" y1="767.02" x2="2386.90" y2="767.02" stroke="#202020" stroke-width="5.4" stroke-linecap="butt"/>
<path d="M1462.3,281.1 L1465.7,281.1 L1465.7,282.0 L1469.1,282.0 L1469.1,281.3 L1472.5,281.3 L1472.5,282.1 L1475.9,282.1 L1475.9,281.5 L1479.3,281.5 L1479.3,283.7 L1482.7,283.7 L1482.7,282.8 L1486.1,282.8 L1486.1,285.0 L1489.5,285.0 L1489.5,284.9 L1492.9,284.9 L1492.9,287.3 L1496.3,287.3 L1496.3,285.8 L1499.7,285.8 L1499.7,285.3 L1503.1,285.3 L1503.1,278.9 L1506.5,278.9 L1506.5,287.2 L1509.9,287.2 L1509.9,287.1 L1513.3,287.1 L1513.3,281.5 L1516.7,281.5 L1516.7,285.0 L1520.1,285.0 L1520.1,286.0 L1523.5,286.0 L1523.5,285.9 L1526.9,285.9 L1526.9,285.3 L1530.3,285.3 L1530.3,286.2 L1533.7,286.2 L1533.7,287.0 L1537.1,287.0 L1537.1,286.2 L1540.5,286.2 L1540.5,285.1 L1543.9,285.1 L1543.9,283.6 L1547.3,283.6 L1547.3,284.1 L1550.7,284.1 L1550.7,286.5 L1554.1,286.5 L1554.1,282.4 L1557.5,282.4 L1557.5,288.3 L1560.9,288.3 L1560.9,288.5 L1564.3,288.5 L1564.3,288.9 L1567.7,288.9 L1567.7,283.8 L1571.1,283.8 L1571.1,285.7 L1574.5,285.7 L1574.5,287.9 L1577.9,287.9 L1577.9,287.7 L1581.3,287.7 L1581.3,287.0 L1584.7,287.0 L1584.7,288.9 L1588.1,288.9 L1588.1,288.7 L1591.5,288.7 L1591.5,288.8 L1594.9,288.8 L1594.9,288.3 L1598.3,288.3 L1598.3,286.5 L1601.7,286.5 L1601.7,282.6 L1605.1,282.6 L1605.1,285.0 L1608.5,285.0 L1608.5,277.7 L1611.9,277.7 L1611.9,283.2 L1615.3,283.2 L1615.3,283.8 L1618.7,283.8 L1618.7,282.2 L1622.1,282.2 L1622.1,285.6 L1625.5,285.6 L1625.5,286.9 L1628.9,286.9 L1628.9,286.2 L1632.3,286.2 L1632.3,279.6 L1635.7,279.6 L1635.7,285.8 L1639.1,285.8 L1639.1,284.6 L1642.5,284.6 L1642.5,284.6 L1645.9,284.6 L1645.9,285.5 L1649.3,285.5 L1649.3,285.2 L1652.7,285.2 L1652.7,285.3 L1656.1,285.3 L1656.1,284.3 L1659.5,284.3 L1659.5,283.4 L1662.9,283.4 L1662.9,288.8 L1666.3,288.8 L1666.3,282.7 L1669.7,282.7 L1669.7,284.6 L1673.1,284.6 L1673.1,285.9 L1676.5,285.9 L1676.5,288.3 L1679.9,288.3 L1679.9,289.0 L1683.3,289.0 L1683.3,288.1 L1686.7,288.1 L1686.7,284.5 L1690.1,284.5 L1690.1,289.0 L1693.5,289.0 L1693.5,286.3 L1696.9,286.3 L1696.9,286.6 L1700.3,286.6 L1700.3,287.4 L1703.7,287.4 L1703.7,288.4 L1707.1,288.4 L1707.1,284.4 L1710.5,284.4 L1710.5,282.8 L1713.9,282.8 L1713.9,282.9 L1717.3,282.9 L1717.3,282.9 L1720.7,282.9 L1720.7,288.6 L1724.1,288.6 L1724.1,288.1 L1727.5,288.1 L1727.5,278.7 L1730.9,278.7 L1730.9,288.4 L1734.3,288.4 L1734.3,287.7 L1737.7,287.7 L1737.7,286.3 L1741.1,286.3 L1741.1,286.8 L1744.5,286.8 L1744.5,287.5 L1747.9,287.5 L1747.9,288.4 L1751.3,288.4 L1751.3,282.7 L1754.7,282.7 L1754.7,285.5 L1758.1,285.5 L1758.1,290.5 L1761.5,290.5 L1761.5,290.5 L1764.9,290.5 L1764.9,292.0 L1768.3,292.0 L1768.3,292.9 L1771.7,292.9 L1771.7,292.7 L1775.1,292.7 L1775.1,291.4 L1778.5,291.4 L1778.5,291.0 L1781.9,291.0 L1781.9,292.6 L1785.3,292.6 L1785.3,287.6 L1788.7,287.6 L1788.7,292.9 L1792.1,292.9 L1792.1,292.2 L1795.5,292.2 L1795.5,286.3 L1798.9,286.3 L1798.9,292.6 L1802.3,292.6 L1802.3,287.6 L1805.7,287.6 L1805.7,292.4 L1809.1,292.4 L1809.1,284.9 L1812.5,284.9 L1812.5,292.2 L1815.9,292.2 L1815.9,286.1 L1819.3,286.1 L1819.3,290.6 L1822.7,290.6 L1822.7,286.7 L1826.1,286.7 L1826.1,284.6 L1829.5,284.6 L1829.5,290.8 L1832.9,290.8 L1832.9,292.3 L1836.3,292.3 L1836.3,291.4 L1839.7,291.4 L1839.7,292.5 L1843.1,292.5 L1843.1,291.7 L1846.5,291.7 L1846.5,289.8 L1849.9,289.8 L1849.9,292.9 L1853.3,292.9 L1853.3,292.8 L1856.7,292.8 L1856.7,290.3 L1860.1,290.3 L1860.1,286.8 L1863.5,286.8 L1863.5,291.0 L1866.9,291.0 L1866.9,293.2 L1870.3,293.2 L1870.3,291.7 L1873.7,291.7 L1873.7,289.0 L1877.1,289.0 L1877.1,292.9 L1880.5,292.9 L1880.5,291.6 L1883.9,291.6 L1883.9,291.0 L1887.3,291.0 L1887.3,283.7 L1890.7,283.7 L1890.7,283.0 L1894.1,283.0 L1894.1,284.3 L1897.5,284.3 L1897.5,290.1 L1900.9,290.1 L1900.9,288.0 L1904.3,288.0 L1904.3,290.6 L1907.7,290.6 L1907.7,288.7 L1911.1,288.7 L1911.1,291.6 L1914.5,291.6 L1914.5,280.8 L1917.9,280.8 L1917.9,287.9 L1921.3,287.9 L1921.3,283.1 L1924.7,283.1 L1924.7,285.2 L1928.1,285.2 L1928.1,289.5 L1931.5,289.5 L1931.5,289.8 L1934.9,289.8 L1934.9,292.7 L1938.3,292.7 L1938.3,281.0 L1941.7,281.0 L1941.7,293.6 L1945.1,293.6 L1945.1,291.7 L1948.5,291.7 L1948.5,290.1 L1951.9,290.1 L1951.9,293.8 L1955.3,293.8 L1955.3,292.0 L1958.7,292.0 L1958.7,294.1 L1962.1,294.1 L1962.1,293.5 L1965.5,293.5 L1965.5,293.3 L1968.9,293.3 L1968.9,295.0 L1972.3,295.0 L1972.3,291.6 L1975.7,291.6 L1975.7,295.4 L1979.1,295.4 L1979.1,292.6 L1982.5,292.6 L1982.5,292.4 L1985.9,292.4 L1985.9,289.6 L1989.3,289.6 L1989.3,294.3 L1992.7,294.3 L1992.7,294.6 L1996.1,294.6 L1996.1,294.4 L1999.5,294.4 L1999.5,294.8 L2002.9,294.8 L2002.9,288.2 L2006.3,288.2 L2006.3,289.6 L2009.7,289.6 L2009.7,289.0 L2013.1,289.0 L2013.1,293.6 L2016.5,293.6 L2016.5,294.2 L2019.9,294.2 L2019.9,289.9 L2023.3,289.9 L2023.3,296.1 L2026.7,296.1 L2026.7,292.7 L2030.1,292.7 L2030.1,296.8 L2033.5,296.8 L2033.5,296.4 L2036.9,296.4 L2036.9,294.0 L2040.3,294.0 L2040.3,296.8 L2043.7,296.8 L2043.7,293.2 L2047.1,293.2 L2047.1,294.2 L2050.5,294.2 L2050.5,298.1 L2053.9,298.1 L2053.9,297.1 L2057.3,297.1 L2057.3,296.0 L2060.7,296.0 L2060.7,294.5 L2064.1,294.5 L2064.1,297.7 L2067.5,297.7 L2067.5,297.8 L2070.9,297.8 L2070.9,294.4 L2074.3,294.4 L2074.3,295.5 L2077.7,295.5 L2077.7,291.6 L2081.1,291.6 L2081.1,297.8 L2084.5,297.8 L2084.5,297.7 L2087.9,297.7 L2087.9,297.7 L2091.3,297.7 L2091.3,294.9 L2094.7,294.9 L2094.7,294.9 L2098.1,294.9 L2098.1,296.9 L2101.5,296.9 L2101.5,293.7 L2104.9,293.7 L2104.9,291.6 L2108.3,291.6 L2108.3,292.4 L2111.7,292.4 L2111.7,295.7 L2115.1,295.7 L2115.1,293.9 L2118.5,293.9 L2118.5,296.5 L2121.9,296.5 L2121.9,290.5 L2125.3,290.5 L2125.3,294.9 L2128.7,294.9 L2128.7,293.6 L2132.1,293.6 L2132.1,295.8 L2135.5,295.8 L2135.5,296.6 L2138.9,296.6 L2138.9,294.0 L2142.3,294.0 L2142.3,294.5 L2145.7,294.5 L2145.7,297.7 L2149.1,297.7 L2149.1,295.5 L2152.5,295.5 L2152.5,298.3 L2155.9,298.3 L2155.9,298.3 L2159.3,298.3 L2159.3,297.9 L2162.7,297.9 L2162.7,295.4 L2166.1,295.4 L2166.1,294.3 L2169.5,294.3 L2169.5,297.9 L2172.9,297.9 L2172.9,297.6 L2176.3,297.6 L2176.3,296.9 L2179.7,296.9 L2179.7,296.1 L2183.1,296.1 L2183.1,295.3 L2186.5,295.3 L2186.5,296.2 L2189.9,296.2 L2189.9,291.9 L2193.3,291.9 L2193.3,294.7 L2196.7,294.7 L2196.7,293.9 L2200.1,293.9 L2200.1,296.7 L2203.5,296.7 L2203.5,296.3 L2206.9,296.3 L2206.9,295.9 L2210.3,295.9 L2210.3,296.9 L2213.7,296.9 L2213.7,296.0 L2217.1,296.0 L2217.1,292.6 L2220.5,292.6 L2220.5,294.0 L2223.9,294.0 L2223.9,294.3 L2227.3,294.3 L2227.3,297.1 L2230.7,297.1 L2230.7,295.1 L2234.1,295.1 L2234.1,297.9 L2237.5,297.9 L2237.5,298.9 L2240.9,298.9 L2240.9,299.4 L2244.3,299.4 L2244.3,300.4 L2247.7,300.4 L2247.7,297.6 L2251.1,297.6 L2251.1,300.2 L2254.5,300.2 L2254.5,295.6 L2257.9,295.6 L2257.9,300.2 L2261.3,300.2 L2261.3,299.7 L2264.7,299.7 L2264.7,301.6 L2268.1,301.6 L2268.1,297.9 L2271.5,297.9 L2271.5,298.5 L2274.9,298.5 L2274.9,291.3 L2278.3,291.3 L2278.3,298.8 L2281.7,298.8 L2281.7,297.7 L2285.1,297.7 L2285.1,301.1 L2288.5,301.1 L2288.5,301.0 L2291.9,301.0 L2291.9,300.4 L2295.3,300.4 L2295.3,292.1 L2298.7,292.1 L2298.7,301.4 L2302.1,301.4 L2302.1,294.8 L2305.5,294.8 L2305.5,299.4 L2308.9,299.4 L2308.9,301.9 L2312.3,301.9 L2312.3,301.7 L2315.7,301.7 L2315.7,299.9 L2319.1,299.9 L2319.1,296.2 L2322.5,296.2 L2322.5,300.0 L2325.9,300.0 L2325.9,301.8 L2329.3,301.8 L2329.3,301.3 L2332.7,301.3 L2332.7,302.0 L2336.1,302.0 L2336.1,301.9 L2339.5,301.9 L2339.5,302.6 L2342.9,302.6 L2342.9,302.6 L2346.3,302.6 L2346.3,298.9 L2349.7,298.9 L2349.7,301.5 L2353.1,301.5 L2353.1,302.1 L2356.5,302.1 L2356.5,303.3 L2359.9,303.3 L2359.9,299.9 L2363.3,299.9 L2363.3,300.9 L2366.7,300.9 L2366.7,302.1 L2370.1,302.1 L2370.1,293.3 L2373.5,293.3 L2373.5,299.9 L2376.9,299.9 L2376.9,302.1 L2380.3,302.1 L2380.3,289.1 L2383.7,289.1 L2383.7,295.4 L2387.1,295.4 L2387.1,296.5 L2390.5,296.5 L2390.5,300.4 L2393.9,300.4 L2393.9,299.4 L2397.3,299.4 L2397.3,300.8 L2400.7,300.8 L2400.7,352.0 L2397.3,352.0 L2397.3,353.8 L2393.9,353.8 L2393.9,353.8 L2390.5,353.8 L2390.5,351.0 L2387.1,351.0 L2387.1,354.4 L2383.7,354.4 L2383.7,354.9 L2380.3,354.9 L2380.3,351.0 L2376.9,351.0 L2376.9,354.0 L2373.5,354.0 L2373.5,348.0 L2370.1,348.0 L2370.1,348.0 L2366.7,348.0 L2366.7,353.7 L2363.3,353.7 L2363.3,351.9 L2359.9,351.9 L2359.9,350.5 L2356.5,350.5 L2356.5,350.2 L2353.1,350.2 L2353.1,354.1 L2349.7,354.1 L2349.7,348.8 L2346.3,348.8 L2346.3,345.4 L2342.9,345.4 L2342.9,349.2 L2339.5,349.2 L2339.5,345.2 L2336.1,345.2 L2336.1,346.2 L2332.7,346.2 L2332.7,345.4 L2329.3,345.4 L2329.3,348.7 L2325.9,348.7 L2325.9,348.7 L2322.5,348.7 L2322.5,348.1 L2319.1,348.1 L2319.1,345.5 L2315.7,345.5 L2315.7,347.3 L2312.3,347.3 L2312.3,350.1 L2308.9,350.1 L2308.9,348.4 L2305.5,348.4 L2305.5,348.9 L2302.1,348.9 L2302.1,348.7 L2298.7,348.7 L2298.7,345.7 L2295.3,345.7 L2295.3,346.3 L2291.9,346.3 L2291.9,349.9 L2288.5,349.9 L2288.5,346.2 L2285.1,346.2 L2285.1,345.6 L2281.7,345.6 L2281.7,346.7 L2278.3,346.7 L2278.3,345.5 L2274.9,345.5 L2274.9,347.8 L2271.5,347.8 L2271.5,345.2 L2268.1,345.2 L2268.1,344.6 L2264.7,344.6 L2264.7,344.1 L2261.3,344.1 L2261.3,346.1 L2257.9,346.1 L2257.9,346.8 L2254.5,346.8 L2254.5,348.1 L2251.1,348.1 L2251.1,352.4 L2247.7,352.4 L2247.7,345.9 L2244.3,345.9 L2244.3,350.9 L2240.9,350.9 L2240.9,348.4 L2237.5,348.4 L2237.5,345.5 L2234.1,345.5 L2234.1,350.4 L2230.7,350.4 L2230.7,348.0 L2227.3,348.0 L2227.3,347.9 L2223.9,347.9 L2223.9,349.6 L2220.5,349.6 L2220.5,346.4 L2217.1,346.4 L2217.1,346.1 L2213.7,346.1 L2213.7,354.3 L2210.3,354.3 L2210.3,353.2 L2206.9,353.2 L2206.9,347.8 L2203.5,347.8 L2203.5,346.8 L2200.1,346.8 L2200.1,356.5 L2196.7,356.5 L2196.7,352.2 L2193.3,352.2 L2193.3,346.3 L2189.9,346.3 L2189.9,346.5 L2186.5,346.5 L2186.5,346.9 L2183.1,346.9 L2183.1,348.5 L2179.7,348.5 L2179.7,346.1 L2176.3,346.1 L2176.3,347.7 L2172.9,347.7 L2172.9,347.4 L2169.5,347.4 L2169.5,347.2 L2166.1,347.2 L2166.1,346.8 L2162.7,346.8 L2162.7,345.8 L2159.3,345.8 L2159.3,356.5 L2155.9,356.5 L2155.9,343.7 L2152.5,343.7 L2152.5,345.5 L2149.1,345.5 L2149.1,346.3 L2145.7,346.3 L2145.7,345.9 L2142.3,345.9 L2142.3,344.3 L2138.9,344.3 L2138.9,344.0 L2135.5,344.0 L2135.5,345.7 L2132.1,345.7 L2132.1,343.9 L2128.7,343.9 L2128.7,344.9 L2125.3,344.9 L2125.3,343.6 L2121.9,343.6 L2121.9,348.0 L2118.5,348.0 L2118.5,346.7 L2115.1,346.7 L2115.1,345.2 L2111.7,345.2 L2111.7,348.0 L2108.3,348.0 L2108.3,347.8 L2104.9,347.8 L2104.9,345.8 L2101.5,345.8 L2101.5,343.8 L2098.1,343.8 L2098.1,346.0 L2094.7,346.0 L2094.7,342.3 L2091.3,342.3 L2091.3,344.5 L2087.9,344.5 L2087.9,343.3 L2084.5,343.3 L2084.5,343.2 L2081.1,343.2 L2081.1,344.0 L2077.7,344.0 L2077.7,348.2 L2074.3,348.2 L2074.3,347.8 L2070.9,347.8 L2070.9,340.8 L2067.5,340.8 L2067.5,340.1 L2064.1,340.1 L2064.1,339.8 L2060.7,339.8 L2060.7,344.6 L2057.3,344.6 L2057.3,343.0 L2053.9,343.0 L2053.9,343.8 L2050.5,343.8 L2050.5,340.0 L2047.1,340.0 L2047.1,340.0 L2043.7,340.0 L2043.7,341.3 L2040.3,341.3 L2040.3,341.9 L2036.9,341.9 L2036.9,340.5 L2033.5,340.5 L2033.5,341.2 L2030.1,341.2 L2030.1,341.5 L2026.7,341.5 L2026.7,351.9 L2023.3,351.9 L2023.3,342.3 L2019.9,342.3 L2019.9,342.3 L2016.5,342.3 L2016.5,343.4 L2013.1,343.4 L2013.1,345.7 L2009.7,345.7 L2009.7,343.3 L2006.3,343.3 L2006.3,344.2 L2002.9,344.2 L2002.9,344.1 L1999.5,344.1 L1999.5,343.3 L1996.1,343.3 L1996.1,341.7 L1992.7,341.7 L1992.7,344.8 L1989.3,344.8 L1989.3,341.0 L1985.9,341.0 L1985.9,341.6 L1982.5,341.6 L1982.5,339.9 L1979.1,339.9 L1979.1,345.7 L1975.7,345.7 L1975.7,343.5 L1972.3,343.5 L1972.3,340.4 L1968.9,340.4 L1968.9,339.6 L1965.5,339.6 L1965.5,343.1 L1962.1,343.1 L1962.1,341.2 L1958.7,341.2 L1958.7,340.1 L1955.3,340.1 L1955.3,342.0 L1951.9,342.0 L1951.9,341.6 L1948.5,341.6 L1948.5,342.3 L1945.1,342.3 L1945.1,342.0 L1941.7,342.0 L1941.7,342.9 L1938.3,342.9 L1938.3,345.5 L1934.9,345.5 L1934.9,343.7 L1931.5,343.7 L1931.5,349.0 L1928.1,349.0 L1928.1,342.1 L1924.7,342.1 L1924.7,342.5 L1921.3,342.5 L1921.3,343.1 L1917.9,343.1 L1917.9,353.5 L1914.5,353.5 L1914.5,344.9 L1911.1,344.9 L1911.1,345.6 L1907.7,345.6 L1907.7,346.1 L1904.3,346.1 L1904.3,342.6 L1900.9,342.6 L1900.9,352.7 L1897.5,352.7 L1897.5,342.1 L1894.1,342.1 L1894.1,344.4 L1890.7,344.4 L1890.7,339.4 L1887.3,339.4 L1887.3,340.1 L1883.9,340.1 L1883.9,341.7 L1880.5,341.7 L1880.5,338.0 L1877.1,338.0 L1877.1,337.6 L1873.7,337.6 L1873.7,341.0 L1870.3,341.0 L1870.3,345.0 L1866.9,345.0 L1866.9,337.1 L1863.5,337.1 L1863.5,339.8 L1860.1,339.8 L1860.1,340.2 L1856.7,340.2 L1856.7,342.7 L1853.3,342.7 L1853.3,339.2 L1849.9,339.2 L1849.9,339.4 L1846.5,339.4 L1846.5,341.9 L1843.1,341.9 L1843.1,346.5 L1839.7,346.5 L1839.7,340.4 L1836.3,340.4 L1836.3,337.4 L1832.9,337.4 L1832.9,340.5 L1829.5,340.5 L1829.5,340.4 L1826.1,340.4 L1826.1,346.0 L1822.7,346.0 L1822.7,337.8 L1819.3,337.8 L1819.3,337.6 L1815.9,337.6 L1815.9,340.8 L1812.5,340.8 L1812.5,341.2 L1809.1,341.2 L1809.1,336.8 L1805.7,336.8 L1805.7,338.8 L1802.3,338.8 L1802.3,338.2 L1798.9,338.2 L1798.9,335.4 L1795.5,335.4 L1795.5,337.6 L1792.1,337.6 L1792.1,339.9 L1788.7,339.9 L1788.7,335.6 L1785.3,335.6 L1785.3,336.0 L1781.9,336.0 L1781.9,335.2 L1778.5,335.2 L1778.5,334.1 L1775.1,334.1 L1775.1,334.8 L1771.7,334.8 L1771.7,338.5 L1768.3,338.5 L1768.3,336.2 L1764.9,336.2 L1764.9,334.4 L1761.5,334.4 L1761.5,336.6 L1758.1,336.6 L1758.1,336.3 L1754.7,336.3 L1754.7,334.9 L1751.3,334.9 L1751.3,335.2 L1747.9,335.2 L1747.9,344.4 L1744.5,344.4 L1744.5,336.3 L1741.1,336.3 L1741.1,342.0 L1737.7,342.0 L1737.7,339.8 L1734.3,339.8 L1734.3,341.8 L1730.9,341.8 L1730.9,336.8 L1727.5,336.8 L1727.5,343.4 L1724.1,343.4 L1724.1,338.5 L1720.7,338.5 L1720.7,339.2 L1717.3,339.2 L1717.3,346.0 L1713.9,346.0 L1713.9,344.4 L1710.5,344.4 L1710.5,336.9 L1707.1,336.9 L1707.1,338.6 L1703.7,338.6 L1703.7,341.4 L1700.3,341.4 L1700.3,343.9 L1696.9,343.9 L1696.9,337.3 L1693.5,337.3 L1693.5,337.0 L1690.1,337.0 L1690.1,347.2 L1686.7,347.2 L1686.7,338.8 L1683.3,338.8 L1683.3,336.8 L1679.9,336.8 L1679.9,342.4 L1676.5,342.4 L1676.5,339.7 L1673.1,339.7 L1673.1,335.9 L1669.7,335.9 L1669.7,335.5 L1666.3,335.5 L1666.3,335.2 L1662.9,335.2 L1662.9,336.1 L1659.5,336.1 L1659.5,335.2 L1656.1,335.2 L1656.1,337.9 L1652.7,337.9 L1652.7,335.9 L1649.3,335.9 L1649.3,343.9 L1645.9,343.9 L1645.9,338.5 L1642.5,338.5 L1642.5,337.9 L1639.1,337.9 L1639.1,339.2 L1635.7,339.2 L1635.7,338.2 L1632.3,338.2 L1632.3,337.5 L1628.9,337.5 L1628.9,335.8 L1625.5,335.8 L1625.5,339.2 L1622.1,339.2 L1622.1,335.7 L1618.7,335.7 L1618.7,343.4 L1615.3,343.4 L1615.3,338.1 L1611.9,338.1 L1611.9,336.2 L1608.5,336.2 L1608.5,336.8 L1605.1,336.8 L1605.1,337.0 L1601.7,337.0 L1601.7,339.8 L1598.3,339.8 L1598.3,339.3 L1594.9,339.3 L1594.9,339.2 L1591.5,339.2 L1591.5,331.5 L1588.1,331.5 L1588.1,331.2 L1584.7,331.2 L1584.7,334.9 L1581.3,334.9 L1581.3,332.8 L1577.9,332.8 L1577.9,331.2 L1574.5,331.2 L1574.5,331.4 L1571.1,331.4 L1571.1,332.6 L1567.7,332.6 L1567.7,334.1 L1564.3,334.1 L1564.3,332.8 L1560.9,332.8 L1560.9,331.1 L1557.5,331.1 L1557.5,332.8 L1554.1,332.8 L1554.1,335.8 L1550.7,335.8 L1550.7,337.0 L1547.3,337.0 L1547.3,331.6 L1543.9,331.6 L1543.9,333.2 L1540.5,333.2 L1540.5,332.0 L1537.1,332.0 L1537.1,337.2 L1533.7,337.2 L1533.7,332.6 L1530.3,332.6 L1530.3,332.9 L1526.9,332.9 L1526.9,340.3 L1523.5,340.3 L1523.5,332.5 L1520.1,332.5 L1520.1,331.7 L1516.7,331.7 L1516.7,333.0 L1513.3,333.0 L1513.3,332.2 L1509.9,332.2 L1509.9,331.7 L1506.5,331.7 L1506.5,330.5 L1503.1,330.5 L1503.1,329.9 L1499.7,329.9 L1499.7,332.3 L1496.3,332.3 L1496.3,330.7 L1492.9,330.7 L1492.9,333.7 L1489.5,333.7 L1489.5,330.0 L1486.1,330.0 L1486.1,329.9 L1482.7,329.9 L1482.7,330.0 L1479.3,330.0 L1479.3,329.8 L1475.9,329.8 L1475.9,330.7 L1472.5,330.7 L1472.5,341.4 L1469.1,341.4 L1469.1,334.4 L1465.7,334.4 L1465.7,330.5 L1462.3,330.5Z" fill="#0808f4"/>
<line x1="1462.30" y1="308.00" x2="2402.70" y2="325.50" stroke="#141470" stroke-width="9.0" stroke-linecap="butt"/>
<line x1="1462.30" y1="308.00" x2="2402.70" y2="325.50" stroke="#e6e29a" stroke-width="4.4" stroke-linecap="butt"/>
<path d="M1462.3,429.0 L1465.7,429.0 L1465.7,430.4 L1469.1,430.4 L1469.1,430.2 L1472.5,430.2 L1472.5,423.2 L1475.9,423.2 L1475.9,427.7 L1479.3,427.7 L1479.3,431.1 L1482.7,431.1 L1482.7,430.2 L1486.1,430.2 L1486.1,431.1 L1489.5,431.1 L1489.5,431.1 L1492.9,431.1 L1492.9,424.8 L1496.3,424.8 L1496.3,428.2 L1499.7,428.2 L1499.7,430.5 L1503.1,430.5 L1503.1,429.8 L1506.5,429.8 L1506.5,427.0 L1509.9,427.0 L1509.9,431.3 L1513.3,431.3 L1513.3,429.1 L1516.7,429.1 L1516.7,429.8 L1520.1,429.8 L1520.1,429.1 L1523.5,429.1 L1523.5,425.4 L1526.9,425.4 L1526.9,429.2 L1530.3,429.2 L1530.3,430.5 L1533.7,430.5 L1533.7,431.2 L1537.1,431.2 L1537.1,423.4 L1540.5,423.4 L1540.5,431.8 L1543.9,431.8 L1543.9,430.3 L1547.3,430.3 L1547.3,428.4 L1550.7,428.4 L1550.7,432.2 L1554.1,432.2 L1554.1,432.5 L1557.5,432.5 L1557.5,433.8 L1560.9,433.8 L1560.9,432.1 L1564.3,432.1 L1564.3,430.9 L1567.7,430.9 L1567.7,430.0 L1571.1,430.0 L1571.1,430.5 L1574.5,430.5 L1574.5,431.2 L1577.9,431.2 L1577.9,430.1 L1581.3,430.1 L1581.3,429.2 L1584.7,429.2 L1584.7,432.1 L1588.1,432.1 L1588.1,429.7 L1591.5,429.7 L1591.5,432.2 L1594.9,432.2 L1594.9,430.9 L1598.3,430.9 L1598.3,430.9 L1601.7,430.9 L1601.7,426.4 L1605.1,426.4 L1605.1,430.4 L1608.5,430.4 L1608.5,426.2 L1611.9,426.2 L1611.9,431.0 L1615.3,431.0 L1615.3,427.4 L1618.7,427.4 L1618.7,427.5 L1622.1,427.5 L1622.1,428.5 L1625.5,428.5 L1625.5,431.8 L1628.9,431.8 L1628.9,428.5 L1632.3,428.5 L1632.3,432.0 L1635.7,432.0 L1635.7,431.9 L1639.1,431.9 L1639.1,432.6 L1642.5,432.6 L1642.5,429.3 L1645.9,429.3 L1645.9,431.1 L1649.3,431.1 L1649.3,431.1 L1652.7,431.1 L1652.7,431.8 L1656.1,431.8 L1656.1,431.5 L1659.5,431.5 L1659.5,433.1 L1662.9,433.1 L1662.9,428.9 L1666.3,428.9 L1666.3,431.0 L1669.7,431.0 L1669.7,430.4 L1673.1,430.4 L1673.1,430.3 L1676.5,430.3 L1676.5,433.3 L1679.9,433.3 L1679.9,431.6 L1683.3,431.6 L1683.3,432.2 L1686.7,432.2 L1686.7,430.6 L1690.1,430.6 L1690.1,429.5 L1693.5,429.5 L1693.5,428.8 L1696.9,428.8 L1696.9,427.6 L1700.3,427.6 L1700.3,432.0 L1703.7,432.0 L1703.7,433.1 L1707.1,433.1 L1707.1,430.6 L1710.5,430.6 L1710.5,431.8 L1713.9,431.8 L1713.9,431.7 L1717.3,431.7 L1717.3,431.8 L1720.7,431.8 L1720.7,431.6 L1724.1,431.6 L1724.1,426.4 L1727.5,426.4 L1727.5,433.0 L1730.9,433.0 L1730.9,434.6 L1734.3,434.6 L1734.3,434.5 L1737.7,434.5 L1737.7,431.6 L1741.1,431.6 L1741.1,434.6 L1744.5,434.6 L1744.5,435.8 L1747.9,435.8 L1747.9,430.4 L1751.3,430.4 L1751.3,435.6 L1754.7,435.6 L1754.7,435.4 L1758.1,435.4 L1758.1,435.5 L1761.5,435.5 L1761.5,435.7 L1764.9,435.7 L1764.9,435.8 L1768.3,435.8 L1768.3,433.8 L1771.7,433.8 L1771.7,435.8 L1775.1,435.8 L1775.1,433.8 L1778.5,433.8 L1778.5,434.2 L1781.9,434.2 L1781.9,435.0 L1785.3,435.0 L1785.3,435.5 L1788.7,435.5 L1788.7,430.1 L1792.1,430.1 L1792.1,434.2 L1795.5,434.2 L1795.5,436.3 L1798.9,436.3 L1798.9,432.3 L1802.3,432.3 L1802.3,428.7 L1805.7,428.7 L1805.7,430.7 L1809.1,430.7 L1809.1,434.7 L1812.5,434.7 L1812.5,434.6 L1815.9,434.6 L1815.9,435.5 L1819.3,435.5 L1819.3,432.7 L1822.7,432.7 L1822.7,435.7 L1826.1,435.7 L1826.1,434.1 L1829.5,434.1 L1829.5,436.5 L1832.9,436.5 L1832.9,431.4 L1836.3,431.4 L1836.3,435.2 L1839.7,435.2 L1839.7,436.8 L1843.1,436.8 L1843.1,436.6 L1846.5,436.6 L1846.5,432.9 L1849.9,432.9 L1849.9,432.8 L1853.3,432.8 L1853.3,433.0 L1856.7,433.0 L1856.7,435.7 L1860.1,435.7 L1860.1,437.4 L1863.5,437.4 L1863.5,434.8 L1866.9,434.8 L1866.9,429.5 L1870.3,429.5 L1870.3,435.9 L1873.7,435.9 L1873.7,434.6 L1877.1,434.6 L1877.1,436.2 L1880.5,436.2 L1880.5,432.5 L1883.9,432.5 L1883.9,436.3 L1887.3,436.3 L1887.3,435.8 L1890.7,435.8 L1890.7,433.1 L1894.1,433.1 L1894.1,432.4 L1897.5,432.4 L1897.5,433.6 L1900.9,433.6 L1900.9,434.7 L1904.3,434.7 L1904.3,433.2 L1907.7,433.2 L1907.7,434.6 L1911.1,434.6 L1911.1,433.9 L1914.5,433.9 L1914.5,429.9 L1917.9,429.9 L1917.9,432.9 L1921.3,432.9 L1921.3,436.1 L1924.7,436.1 L1924.7,431.2 L1928.1,431.2 L1928.1,432.0 L1931.5,432.0 L1931.5,434.7 L1934.9,434.7 L1934.9,434.4 L1938.3,434.4 L1938.3,436.2 L1941.7,436.2 L1941.7,433.7 L1945.1,433.7 L1945.1,436.7 L1948.5,436.7 L1948.5,436.0 L1951.9,436.0 L1951.9,437.3 L1955.3,437.3 L1955.3,438.1 L1958.7,438.1 L1958.7,438.0 L1962.1,438.0 L1962.1,437.5 L1965.5,437.5 L1965.5,432.8 L1968.9,432.8 L1968.9,436.7 L1972.3,436.7 L1972.3,437.2 L1975.7,437.2 L1975.7,435.6 L1979.1,435.6 L1979.1,437.2 L1982.5,437.2 L1982.5,438.0 L1985.9,438.0 L1985.9,436.9 L1989.3,436.9 L1989.3,433.7 L1992.7,433.7 L1992.7,437.0 L1996.1,437.0 L1996.1,435.1 L1999.5,435.1 L1999.5,438.2 L2002.9,438.2 L2002.9,436.9 L2006.3,436.9 L2006.3,431.6 L2009.7,431.6 L2009.7,430.6 L2013.1,430.6 L2013.1,437.4 L2016.5,437.4 L2016.5,439.3 L2019.9,439.3 L2019.9,436.2 L2023.3,436.2 L2023.3,437.0 L2026.7,437.0 L2026.7,435.9 L2030.1,435.9 L2030.1,439.1 L2033.5,439.1 L2033.5,434.3 L2036.9,434.3 L2036.9,439.5 L2040.3,439.5 L2040.3,440.7 L2043.7,440.7 L2043.7,441.2 L2047.1,441.2 L2047.1,440.7 L2050.5,440.7 L2050.5,441.5 L2053.9,441.5 L2053.9,440.2 L2057.3,440.2 L2057.3,441.4 L2060.7,441.4 L2060.7,441.2 L2064.1,441.2 L2064.1,439.8 L2067.5,439.8 L2067.5,440.3 L2070.9,440.3 L2070.9,439.6 L2074.3,439.6 L2074.3,439.2 L2077.7,439.2 L2077.7,439.8 L2081.1,439.8 L2081.1,439.9 L2084.5,439.9 L2084.5,431.8 L2087.9,431.8 L2087.9,430.3 L2091.3,430.3 L2091.3,439.2 L2094.7,439.2 L2094.7,437.6 L2098.1,437.6 L2098.1,437.2 L2101.5,437.2 L2101.5,437.6 L2104.9,437.6 L2104.9,434.3 L2108.3,434.3 L2108.3,438.6 L2111.7,438.6 L2111.7,438.2 L2115.1,438.2 L2115.1,438.5 L2118.5,438.5 L2118.5,437.0 L2121.9,437.0 L2121.9,439.8 L2125.3,439.8 L2125.3,436.0 L2128.7,436.0 L2128.7,438.0 L2132.1,438.0 L2132.1,434.2 L2135.5,434.2 L2135.5,438.7 L2138.9,438.7 L2138.9,433.0 L2142.3,433.0 L2142.3,435.3 L2145.7,435.3 L2145.7,433.4 L2149.1,433.4 L2149.1,439.2 L2152.5,439.2 L2152.5,440.3 L2155.9,440.3 L2155.9,440.1 L2159.3,440.1 L2159.3,437.9 L2162.7,437.9 L2162.7,437.6 L2166.1,437.6 L2166.1,439.5 L2169.5,439.5 L2169.5,434.5 L2172.9,434.5 L2172.9,438.8 L2176.3,438.8 L2176.3,438.0 L2179.7,438.0 L2179.7,439.5 L2183.1,439.5 L2183.1,435.7 L2186.5,435.7 L2186.5,432.4 L2189.9,432.4 L2189.9,437.3 L2193.3,437.3 L2193.3,440.0 L2196.7,440.0 L2196.7,437.8 L2200.1,437.8 L2200.1,437.7 L2203.5,437.7 L2203.5,438.0 L2206.9,438.0 L2206.9,435.7 L2210.3,435.7 L2210.3,440.7 L2213.7,440.7 L2213.7,437.9 L2217.1,437.9 L2217.1,440.0 L2220.5,440.0 L2220.5,441.4 L2223.9,441.4 L2223.9,441.1 L2227.3,441.1 L2227.3,436.8 L2230.7,436.8 L2230.7,441.2 L2234.1,441.2 L2234.1,439.9 L2237.5,439.9 L2237.5,441.3 L2240.9,441.3 L2240.9,442.3 L2244.3,442.3 L2244.3,440.5 L2247.7,440.5 L2247.7,443.7 L2251.1,443.7 L2251.1,443.8 L2254.5,443.8 L2254.5,439.5 L2257.9,439.5 L2257.9,440.0 L2261.3,440.0 L2261.3,441.7 L2264.7,441.7 L2264.7,440.7 L2268.1,440.7 L2268.1,441.6 L2271.5,441.6 L2271.5,440.6 L2274.9,440.6 L2274.9,441.1 L2278.3,441.1 L2278.3,440.6 L2281.7,440.6 L2281.7,439.7 L2285.1,439.7 L2285.1,441.6 L2288.5,441.6 L2288.5,441.4 L2291.9,441.4 L2291.9,441.4 L2295.3,441.4 L2295.3,439.5 L2298.7,439.5 L2298.7,440.3 L2302.1,440.3 L2302.1,440.7 L2305.5,440.7 L2305.5,442.3 L2308.9,442.3 L2308.9,442.2 L2312.3,442.2 L2312.3,444.2 L2315.7,444.2 L2315.7,442.9 L2319.1,442.9 L2319.1,441.0 L2322.5,441.0 L2322.5,443.9 L2325.9,443.9 L2325.9,437.7 L2329.3,437.7 L2329.3,444.3 L2332.7,444.3 L2332.7,442.4 L2336.1,442.4 L2336.1,442.3 L2339.5,442.3 L2339.5,437.5 L2342.9,437.5 L2342.9,442.7 L2346.3,442.7 L2346.3,441.6 L2349.7,441.6 L2349.7,444.6 L2353.1,444.6 L2353.1,440.8 L2356.5,440.8 L2356.5,440.0 L2359.9,440.0 L2359.9,439.7 L2363.3,439.7 L2363.3,442.1 L2366.7,442.1 L2366.7,442.3 L2370.1,442.3 L2370.1,440.6 L2373.5,440.6 L2373.5,442.2 L2376.9,442.2 L2376.9,434.9 L2380.3,434.9 L2380.3,439.7 L2383.7,439.7 L2383.7,441.0 L2387.1,441.0 L2387.1,439.6 L2390.5,439.6 L2390.5,441.6 L2393.9,441.6 L2393.9,437.7 L2397.3,437.7 L2397.3,442.5 L2400.7,442.5 L2400.7,484.7 L2397.3,484.7 L2397.3,481.2 L2393.9,481.2 L2393.9,481.8 L2390.5,481.8 L2390.5,484.9 L2387.1,484.9 L2387.1,481.0 L2383.7,481.0 L2383.7,482.8 L2380.3,482.8 L2380.3,486.7 L2376.9,486.7 L2376.9,482.4 L2373.5,482.4 L2373.5,481.2 L2370.1,481.2 L2370.1,486.8 L2366.7,486.8 L2366.7,480.8 L2363.3,480.8 L2363.3,482.8 L2359.9,482.8 L2359.9,479.4 L2356.5,479.4 L2356.5,479.0 L2353.1,479.0 L2353.1,478.2 L2349.7,478.2 L2349.7,481.2 L2346.3,481.2 L2346.3,478.9 L2342.9,478.9 L2342.9,484.0 L2339.5,484.0 L2339.5,480.6 L2336.1,480.6 L2336.1,479.3 L2332.7,479.3 L2332.7,477.3 L2329.3,477.3 L2329.3,478.5 L2325.9,478.5 L2325.9,477.7 L2322.5,477.7 L2322.5,480.0 L2319.1,480.0 L2319.1,483.0 L2315.7,483.0 L2315.7,479.5 L2312.3,479.5 L2312.3,480.0 L2308.9,480.0 L2308.9,479.9 L2305.5,479.9 L2305.5,480.1 L2302.1,480.1 L2302.1,479.2 L2298.7,479.2 L2298.7,481.1 L2295.3,481.1 L2295.3,479.9 L2291.9,479.9 L2291.9,480.7 L2288.5,480.7 L2288.5,478.8 L2285.1,478.8 L2285.1,478.6 L2281.7,478.6 L2281.7,481.4 L2278.3,481.4 L2278.3,478.4 L2274.9,478.4 L2274.9,477.8 L2271.5,477.8 L2271.5,482.4 L2268.1,482.4 L2268.1,478.8 L2264.7,478.8 L2264.7,481.1 L2261.3,481.1 L2261.3,479.4 L2257.9,479.4 L2257.9,477.7 L2254.5,477.7 L2254.5,479.5 L2251.1,479.5 L2251.1,481.8 L2247.7,481.8 L2247.7,480.6 L2244.3,480.6 L2244.3,481.4 L2240.9,481.4 L2240.9,479.3 L2237.5,479.3 L2237.5,479.1 L2234.1,479.1 L2234.1,480.1 L2230.7,480.1 L2230.7,480.2 L2227.3,480.2 L2227.3,477.8 L2223.9,477.8 L2223.9,482.1 L2220.5,482.1 L2220.5,485.5 L2217.1,485.5 L2217.1,481.8 L2213.7,481.8 L2213.7,482.3 L2210.3,482.3 L2210.3,482.0 L2206.9,482.0 L2206.9,480.3 L2203.5,480.3 L2203.5,481.1 L2200.1,481.1 L2200.1,481.8 L2196.7,481.8 L2196.7,480.3 L2193.3,480.3 L2193.3,480.5 L2189.9,480.5 L2189.9,478.9 L2186.5,478.9 L2186.5,478.6 L2183.1,478.6 L2183.1,479.2 L2179.7,479.2 L2179.7,477.9 L2176.3,477.9 L2176.3,477.8 L2172.9,477.8 L2172.9,477.5 L2169.5,477.5 L2169.5,478.2 L2166.1,478.2 L2166.1,478.9 L2162.7,478.9 L2162.7,480.4 L2159.3,480.4 L2159.3,479.5 L2155.9,479.5 L2155.9,478.0 L2152.5,478.0 L2152.5,479.5 L2149.1,479.5 L2149.1,477.1 L2145.7,477.1 L2145.7,478.4 L2142.3,478.4 L2142.3,481.2 L2138.9,481.2 L2138.9,478.3 L2135.5,478.3 L2135.5,479.3 L2132.1,479.3 L2132.1,477.0 L2128.7,477.0 L2128.7,477.5 L2125.3,477.5 L2125.3,476.1 L2121.9,476.1 L2121.9,476.4 L2118.5,476.4 L2118.5,476.8 L2115.1,476.8 L2115.1,477.0 L2111.7,477.0 L2111.7,477.3 L2108.3,477.3 L2108.3,476.9 L2104.9,476.9 L2104.9,480.0 L2101.5,480.0 L2101.5,478.6 L2098.1,478.6 L2098.1,478.7 L2094.7,478.7 L2094.7,479.2 L2091.3,479.2 L2091.3,482.5 L2087.9,482.5 L2087.9,483.2 L2084.5,483.2 L2084.5,479.0 L2081.1,479.0 L2081.1,480.1 L2077.7,480.1 L2077.7,475.0 L2074.3,475.0 L2074.3,474.2 L2070.9,474.2 L2070.9,474.2 L2067.5,474.2 L2067.5,474.3 L2064.1,474.3 L2064.1,474.5 L2060.7,474.5 L2060.7,474.1 L2057.3,474.1 L2057.3,479.6 L2053.9,479.6 L2053.9,473.5 L2050.5,473.5 L2050.5,474.7 L2047.1,474.7 L2047.1,472.7 L2043.7,472.7 L2043.7,473.3 L2040.3,473.3 L2040.3,474.1 L2036.9,474.1 L2036.9,476.7 L2033.5,476.7 L2033.5,476.8 L2030.1,476.8 L2030.1,476.1 L2026.7,476.1 L2026.7,475.9 L2023.3,475.9 L2023.3,475.2 L2019.9,475.2 L2019.9,473.8 L2016.5,473.8 L2016.5,479.1 L2013.1,479.1 L2013.1,479.1 L2009.7,479.1 L2009.7,477.2 L2006.3,477.2 L2006.3,477.4 L2002.9,477.4 L2002.9,478.6 L1999.5,478.6 L1999.5,474.6 L1996.1,474.6 L1996.1,481.2 L1992.7,481.2 L1992.7,477.8 L1989.3,477.8 L1989.3,475.8 L1985.9,475.8 L1985.9,479.8 L1982.5,479.8 L1982.5,475.0 L1979.1,475.0 L1979.1,482.0 L1975.7,482.0 L1975.7,474.1 L1972.3,474.1 L1972.3,473.8 L1968.9,473.8 L1968.9,473.3 L1965.5,473.3 L1965.5,476.2 L1962.1,476.2 L1962.1,473.9 L1958.7,473.9 L1958.7,477.2 L1955.3,477.2 L1955.3,475.0 L1951.9,475.0 L1951.9,476.1 L1948.5,476.1 L1948.5,474.2 L1945.1,474.2 L1945.1,473.5 L1941.7,473.5 L1941.7,474.2 L1938.3,474.2 L1938.3,474.0 L1934.9,474.0 L1934.9,477.2 L1931.5,477.2 L1931.5,474.8 L1928.1,474.8 L1928.1,478.1 L1924.7,478.1 L1924.7,475.2 L1921.3,475.2 L1921.3,477.2 L1917.9,477.2 L1917.9,484.1 L1914.5,484.1 L1914.5,478.4 L1911.1,478.4 L1911.1,474.6 L1907.7,474.6 L1907.7,478.3 L1904.3,478.3 L1904.3,474.6 L1900.9,474.6 L1900.9,475.5 L1897.5,475.5 L1897.5,475.3 L1894.1,475.3 L1894.1,475.5 L1890.7,475.5 L1890.7,473.9 L1887.3,473.9 L1887.3,475.4 L1883.9,475.4 L1883.9,474.6 L1880.5,474.6 L1880.5,475.2 L1877.1,475.2 L1877.1,476.7 L1873.7,476.7 L1873.7,472.7 L1870.3,472.7 L1870.3,472.2 L1866.9,472.2 L1866.9,474.1 L1863.5,474.1 L1863.5,474.3 L1860.1,474.3 L1860.1,471.1 L1856.7,471.1 L1856.7,471.6 L1853.3,471.6 L1853.3,472.1 L1849.9,472.1 L1849.9,472.6 L1846.5,472.6 L1846.5,471.3 L1843.1,471.3 L1843.1,471.0 L1839.7,471.0 L1839.7,475.4 L1836.3,475.4 L1836.3,472.1 L1832.9,472.1 L1832.9,474.3 L1829.5,474.3 L1829.5,471.4 L1826.1,471.4 L1826.1,476.3 L1822.7,476.3 L1822.7,471.3 L1819.3,471.3 L1819.3,472.2 L1815.9,472.2 L1815.9,471.5 L1812.5,471.5 L1812.5,473.4 L1809.1,473.4 L1809.1,475.3 L1805.7,475.3 L1805.7,472.5 L1802.3,472.5 L1802.3,470.6 L1798.9,470.6 L1798.9,472.3 L1795.5,472.3 L1795.5,472.0 L1792.1,472.0 L1792.1,470.8 L1788.7,470.8 L1788.7,473.1 L1785.3,473.1 L1785.3,470.2 L1781.9,470.2 L1781.9,476.2 L1778.5,476.2 L1778.5,470.7 L1775.1,470.7 L1775.1,470.9 L1771.7,470.9 L1771.7,473.4 L1768.3,473.4 L1768.3,469.6 L1764.9,469.6 L1764.9,471.1 L1761.5,471.1 L1761.5,470.1 L1758.1,470.1 L1758.1,471.4 L1754.7,471.4 L1754.7,469.3 L1751.3,469.3 L1751.3,470.5 L1747.9,470.5 L1747.9,471.6 L1744.5,471.6 L1744.5,472.7 L1741.1,472.7 L1741.1,473.1 L1737.7,473.1 L1737.7,474.7 L1734.3,474.7 L1734.3,470.4 L1730.9,470.4 L1730.9,472.0 L1727.5,472.0 L1727.5,472.8 L1724.1,472.8 L1724.1,475.5 L1720.7,475.5 L1720.7,470.9 L1717.3,470.9 L1717.3,477.8 L1713.9,477.8 L1713.9,474.4 L1710.5,474.4 L1710.5,471.3 L1707.1,471.3 L1707.1,477.0 L1703.7,477.0 L1703.7,473.4 L1700.3,473.4 L1700.3,470.8 L1696.9,470.8 L1696.9,470.8 L1693.5,470.8 L1693.5,471.0 L1690.1,471.0 L1690.1,474.1 L1686.7,474.1 L1686.7,473.0 L1683.3,473.0 L1683.3,474.7 L1679.9,474.7 L1679.9,471.7 L1676.5,471.7 L1676.5,469.6 L1673.1,469.6 L1673.1,473.0 L1669.7,473.0 L1669.7,472.5 L1666.3,472.5 L1666.3,470.7 L1662.9,470.7 L1662.9,471.0 L1659.5,471.0 L1659.5,470.9 L1656.1,470.9 L1656.1,470.5 L1652.7,470.5 L1652.7,472.3 L1649.3,472.3 L1649.3,470.7 L1645.9,470.7 L1645.9,470.8 L1642.5,470.8 L1642.5,470.3 L1639.1,470.3 L1639.1,471.0 L1635.7,471.0 L1635.7,472.1 L1632.3,472.1 L1632.3,470.3 L1628.9,470.3 L1628.9,472.6 L1625.5,472.6 L1625.5,474.0 L1622.1,474.0 L1622.1,473.1 L1618.7,473.1 L1618.7,469.5 L1615.3,469.5 L1615.3,472.2 L1611.9,472.2 L1611.9,475.2 L1608.5,475.2 L1608.5,472.7 L1605.1,472.7 L1605.1,469.7 L1601.7,469.7 L1601.7,472.2 L1598.3,472.2 L1598.3,471.7 L1594.9,471.7 L1594.9,470.2 L1591.5,470.2 L1591.5,468.3 L1588.1,468.3 L1588.1,468.8 L1584.7,468.8 L1584.7,467.7 L1581.3,467.7 L1581.3,469.0 L1577.9,469.0 L1577.9,473.7 L1574.5,473.7 L1574.5,468.6 L1571.1,468.6 L1571.1,466.9 L1567.7,466.9 L1567.7,466.2 L1564.3,466.2 L1564.3,467.4 L1560.9,467.4 L1560.9,469.5 L1557.5,469.5 L1557.5,469.4 L1554.1,469.4 L1554.1,467.3 L1550.7,467.3 L1550.7,467.7 L1547.3,467.7 L1547.3,466.5 L1543.9,466.5 L1543.9,470.9 L1540.5,470.9 L1540.5,469.4 L1537.1,469.4 L1537.1,468.0 L1533.7,468.0 L1533.7,472.3 L1530.3,472.3 L1530.3,471.8 L1526.9,471.8 L1526.9,467.6 L1523.5,467.6 L1523.5,467.5 L1520.1,467.5 L1520.1,467.1 L1516.7,467.1 L1516.7,468.5 L1513.3,468.5 L1513.3,469.2 L1509.9,469.2 L1509.9,467.1 L1506.5,467.1 L1506.5,468.5 L1503.1,468.5 L1503.1,469.6 L1499.7,469.6 L1499.7,466.3 L1496.3,466.3 L1496.3,466.0 L1492.9,466.0 L1492.9,467.8 L1489.5,467.8 L1489.5,467.5 L1486.1,467.5 L1486.1,466.9 L1482.7,466.9 L1482.7,465.2 L1479.3,465.2 L1479.3,467.8 L1475.9,467.8 L1475.9,466.8 L1472.5,466.8 L1472.5,467.3 L1469.1,467.3 L1469.1,468.4 L1465.7,468.4 L1465.7,465.5 L1462.3,465.5Z" fill="#ff10ea"/>
<line x1="1462.30" y1="448.40" x2="2402.70" y2="462.30" stroke="#e4347a" stroke-width="9.0" stroke-linecap="butt"/>
<line x1="1462.30" y1="448.40" x2="2402.70" y2="462.30" stroke="#ffc470" stroke-width="4.4" stroke-linecap="butt"/>
<path d="M1462.3,558.3 L1465.7,558.3 L1465.7,559.1 L1469.1,559.1 L1469.1,558.6 L1472.5,558.6 L1472.5,557.3 L1475.9,557.3 L1475.9,557.7 L1479.3,557.7 L1479.3,554.9 L1482.7,554.9 L1482.7,554.9 L1486.1,554.9 L1486.1,557.6 L1489.5,557.6 L1489.5,557.4 L1492.9,557.4 L1492.9,555.0 L1496.3,555.0 L1496.3,557.9 L1499.7,557.9 L1499.7,559.5 L1503.1,559.5 L1503.1,557.2 L1506.5,557.2 L1506.5,553.8 L1509.9,553.8 L1509.9,556.1 L1513.3,556.1 L1513.3,557.9 L1516.7,557.9 L1516.7,554.9 L1520.1,554.9 L1520.1,558.6 L1523.5,558.6 L1523.5,555.5 L1526.9,555.5 L1526.9,559.8 L1530.3,559.8 L1530.3,558.2 L1533.7,558.2 L1533.7,559.3 L1537.1,559.3 L1537.1,558.3 L1540.5,558.3 L1540.5,559.4 L1543.9,559.4 L1543.9,553.3 L1547.3,553.3 L1547.3,559.5 L1550.7,559.5 L1550.7,563.2 L1554.1,563.2 L1554.1,560.7 L1557.5,560.7 L1557.5,563.8 L1560.9,563.8 L1560.9,564.1 L1564.3,564.1 L1564.3,564.2 L1567.7,564.2 L1567.7,564.2 L1571.1,564.2 L1571.1,561.1 L1574.5,561.1 L1574.5,563.6 L1577.9,563.6 L1577.9,564.0 L1581.3,564.0 L1581.3,561.0 L1584.7,561.0 L1584.7,564.1 L1588.1,564.1 L1588.1,559.5 L1591.5,559.5 L1591.5,561.1 L1594.9,561.1 L1594.9,561.3 L1598.3,561.3 L1598.3,562.4 L1601.7,562.4 L1601.7,563.6 L1605.1,563.6 L1605.1,561.1 L1608.5,561.1 L1608.5,560.7 L1611.9,560.7 L1611.9,563.0 L1615.3,563.0 L1615.3,561.9 L1618.7,561.9 L1618.7,558.4 L1622.1,558.4 L1622.1,563.3 L1625.5,563.3 L1625.5,561.2 L1628.9,561.2 L1628.9,563.6 L1632.3,563.6 L1632.3,561.9 L1635.7,561.9 L1635.7,563.2 L1639.1,563.2 L1639.1,563.6 L1642.5,563.6 L1642.5,558.3 L1645.9,558.3 L1645.9,565.6 L1649.3,565.6 L1649.3,565.1 L1652.7,565.1 L1652.7,565.5 L1656.1,565.5 L1656.1,563.4 L1659.5,563.4 L1659.5,563.1 L1662.9,563.1 L1662.9,566.3 L1666.3,566.3 L1666.3,561.0 L1669.7,561.0 L1669.7,565.8 L1673.1,565.8 L1673.1,566.0 L1676.5,566.0 L1676.5,565.7 L1679.9,565.7 L1679.9,559.8 L1683.3,559.8 L1683.3,561.7 L1686.7,561.7 L1686.7,560.7 L1690.1,560.7 L1690.1,564.7 L1693.5,564.7 L1693.5,562.2 L1696.9,562.2 L1696.9,562.5 L1700.3,562.5 L1700.3,561.1 L1703.7,561.1 L1703.7,559.1 L1707.1,559.1 L1707.1,562.8 L1710.5,562.8 L1710.5,564.5 L1713.9,564.5 L1713.9,563.4 L1717.3,563.4 L1717.3,562.3 L1720.7,562.3 L1720.7,564.2 L1724.1,564.2 L1724.1,564.3 L1727.5,564.3 L1727.5,565.2 L1730.9,565.2 L1730.9,564.1 L1734.3,564.1 L1734.3,560.9 L1737.7,560.9 L1737.7,564.3 L1741.1,564.3 L1741.1,566.2 L1744.5,566.2 L1744.5,564.8 L1747.9,564.8 L1747.9,567.7 L1751.3,567.7 L1751.3,568.0 L1754.7,568.0 L1754.7,568.2 L1758.1,568.2 L1758.1,566.3 L1761.5,566.3 L1761.5,568.6 L1764.9,568.6 L1764.9,568.3 L1768.3,568.3 L1768.3,565.8 L1771.7,565.8 L1771.7,569.5 L1775.1,569.5 L1775.1,568.1 L1778.5,568.1 L1778.5,569.5 L1781.9,569.5 L1781.9,563.6 L1785.3,563.6 L1785.3,569.6 L1788.7,569.6 L1788.7,565.0 L1792.1,565.0 L1792.1,569.3 L1795.5,569.3 L1795.5,562.1 L1798.9,562.1 L1798.9,567.7 L1802.3,567.7 L1802.3,568.0 L1805.7,568.0 L1805.7,566.8 L1809.1,566.8 L1809.1,570.1 L1812.5,570.1 L1812.5,569.8 L1815.9,569.8 L1815.9,570.1 L1819.3,570.1 L1819.3,566.0 L1822.7,566.0 L1822.7,565.5 L1826.1,565.5 L1826.1,571.4 L1829.5,571.4 L1829.5,568.1 L1832.9,568.1 L1832.9,571.5 L1836.3,571.5 L1836.3,570.4 L1839.7,570.4 L1839.7,572.2 L1843.1,572.2 L1843.1,573.2 L1846.5,573.2 L1846.5,566.4 L1849.9,566.4 L1849.9,573.3 L1853.3,573.3 L1853.3,569.2 L1856.7,569.2 L1856.7,571.7 L1860.1,571.7 L1860.1,572.4 L1863.5,572.4 L1863.5,573.7 L1866.9,573.7 L1866.9,569.0 L1870.3,569.0 L1870.3,570.7 L1873.7,570.7 L1873.7,571.0 L1877.1,571.0 L1877.1,573.2 L1880.5,573.2 L1880.5,572.3 L1883.9,572.3 L1883.9,571.2 L1887.3,571.2 L1887.3,568.5 L1890.7,568.5 L1890.7,572.4 L1894.1,572.4 L1894.1,572.1 L1897.5,572.1 L1897.5,567.6 L1900.9,567.6 L1900.9,570.0 L1904.3,570.0 L1904.3,571.9 L1907.7,571.9 L1907.7,571.7 L1911.1,571.7 L1911.1,570.2 L1914.5,570.2 L1914.5,571.3 L1917.9,571.3 L1917.9,572.5 L1921.3,572.5 L1921.3,570.9 L1924.7,570.9 L1924.7,573.1 L1928.1,573.1 L1928.1,572.3 L1931.5,572.3 L1931.5,573.2 L1934.9,573.2 L1934.9,573.7 L1938.3,573.7 L1938.3,572.2 L1941.7,572.2 L1941.7,569.1 L1945.1,569.1 L1945.1,572.0 L1948.5,572.0 L1948.5,573.2 L1951.9,573.2 L1951.9,574.7 L1955.3,574.7 L1955.3,569.1 L1958.7,569.1 L1958.7,574.4 L1962.1,574.4 L1962.1,573.0 L1965.5,573.0 L1965.5,573.0 L1968.9,573.0 L1968.9,572.1 L1972.3,572.1 L1972.3,572.1 L1975.7,572.1 L1975.7,574.5 L1979.1,574.5 L1979.1,570.3 L1982.5,570.3 L1982.5,573.5 L1985.9,573.5 L1985.9,573.7 L1989.3,573.7 L1989.3,572.8 L1992.7,572.8 L1992.7,571.3 L1996.1,571.3 L1996.1,572.0 L1999.5,572.0 L1999.5,573.7 L2002.9,573.7 L2002.9,573.5 L2006.3,573.5 L2006.3,573.3 L2009.7,573.3 L2009.7,572.9 L2013.1,572.9 L2013.1,574.3 L2016.5,574.3 L2016.5,574.1 L2019.9,574.1 L2019.9,572.7 L2023.3,572.7 L2023.3,575.2 L2026.7,575.2 L2026.7,574.6 L2030.1,574.6 L2030.1,576.7 L2033.5,576.7 L2033.5,577.6 L2036.9,577.6 L2036.9,576.6 L2040.3,576.6 L2040.3,575.3 L2043.7,575.3 L2043.7,574.7 L2047.1,574.7 L2047.1,576.0 L2050.5,576.0 L2050.5,579.4 L2053.9,579.4 L2053.9,578.7 L2057.3,578.7 L2057.3,577.4 L2060.7,577.4 L2060.7,577.3 L2064.1,577.3 L2064.1,579.1 L2067.5,579.1 L2067.5,577.8 L2070.9,577.8 L2070.9,577.3 L2074.3,577.3 L2074.3,577.2 L2077.7,577.2 L2077.7,575.2 L2081.1,575.2 L2081.1,578.7 L2084.5,578.7 L2084.5,578.5 L2087.9,578.5 L2087.9,577.7 L2091.3,577.7 L2091.3,573.7 L2094.7,573.7 L2094.7,576.8 L2098.1,576.8 L2098.1,575.4 L2101.5,575.4 L2101.5,579.1 L2104.9,579.1 L2104.9,579.6 L2108.3,579.6 L2108.3,580.0 L2111.7,580.0 L2111.7,579.5 L2115.1,579.5 L2115.1,578.8 L2118.5,578.8 L2118.5,578.8 L2121.9,578.8 L2121.9,577.4 L2125.3,577.4 L2125.3,580.7 L2128.7,580.7 L2128.7,579.0 L2132.1,579.0 L2132.1,576.2 L2135.5,576.2 L2135.5,580.6 L2138.9,580.6 L2138.9,582.0 L2142.3,582.0 L2142.3,580.8 L2145.7,580.8 L2145.7,576.5 L2149.1,576.5 L2149.1,580.0 L2152.5,580.0 L2152.5,580.6 L2155.9,580.6 L2155.9,578.8 L2159.3,578.8 L2159.3,580.9 L2162.7,580.9 L2162.7,580.4 L2166.1,580.4 L2166.1,576.4 L2169.5,576.4 L2169.5,580.1 L2172.9,580.1 L2172.9,578.5 L2176.3,578.5 L2176.3,578.0 L2179.7,578.0 L2179.7,576.9 L2183.1,576.9 L2183.1,581.1 L2186.5,581.1 L2186.5,580.4 L2189.9,580.4 L2189.9,577.0 L2193.3,577.0 L2193.3,578.4 L2196.7,578.4 L2196.7,579.9 L2200.1,579.9 L2200.1,579.3 L2203.5,579.3 L2203.5,581.4 L2206.9,581.4 L2206.9,581.2 L2210.3,581.2 L2210.3,579.7 L2213.7,579.7 L2213.7,580.4 L2217.1,580.4 L2217.1,578.7 L2220.5,578.7 L2220.5,582.1 L2223.9,582.1 L2223.9,579.7 L2227.3,579.7 L2227.3,581.7 L2230.7,581.7 L2230.7,571.7 L2234.1,571.7 L2234.1,580.7 L2237.5,580.7 L2237.5,577.2 L2240.9,577.2 L2240.9,578.2 L2244.3,578.2 L2244.3,575.0 L2247.7,575.0 L2247.7,583.6 L2251.1,583.6 L2251.1,579.9 L2254.5,579.9 L2254.5,584.0 L2257.9,584.0 L2257.9,582.9 L2261.3,582.9 L2261.3,583.1 L2264.7,583.1 L2264.7,579.2 L2268.1,579.2 L2268.1,573.8 L2271.5,573.8 L2271.5,578.8 L2274.9,578.8 L2274.9,578.7 L2278.3,578.7 L2278.3,580.1 L2281.7,580.1 L2281.7,578.4 L2285.1,578.4 L2285.1,581.5 L2288.5,581.5 L2288.5,580.3 L2291.9,580.3 L2291.9,584.2 L2295.3,584.2 L2295.3,583.5 L2298.7,583.5 L2298.7,584.1 L2302.1,584.1 L2302.1,579.5 L2305.5,579.5 L2305.5,584.3 L2308.9,584.3 L2308.9,581.9 L2312.3,581.9 L2312.3,584.9 L2315.7,584.9 L2315.7,583.4 L2319.1,583.4 L2319.1,587.7 L2322.5,587.7 L2322.5,586.2 L2325.9,586.2 L2325.9,586.8 L2329.3,586.8 L2329.3,587.6 L2332.7,587.6 L2332.7,586.6 L2336.1,586.6 L2336.1,589.1 L2339.5,589.1 L2339.5,588.0 L2342.9,588.0 L2342.9,587.8 L2346.3,587.8 L2346.3,586.7 L2349.7,586.7 L2349.7,588.1 L2353.1,588.1 L2353.1,587.0 L2356.5,587.0 L2356.5,587.2 L2359.9,587.2 L2359.9,587.2 L2363.3,587.2 L2363.3,587.5 L2366.7,587.5 L2366.7,584.7 L2370.1,584.7 L2370.1,586.9 L2373.5,586.9 L2373.5,587.7 L2376.9,587.7 L2376.9,588.0 L2380.3,588.0 L2380.3,584.7 L2383.7,584.7 L2383.7,586.0 L2387.1,586.0 L2387.1,581.7 L2390.5,581.7 L2390.5,586.3 L2393.9,586.3 L2393.9,584.5 L2397.3,584.5 L2397.3,586.9 L2400.7,586.9 L2400.7,628.4 L2397.3,628.4 L2397.3,625.3 L2393.9,625.3 L2393.9,627.7 L2390.5,627.7 L2390.5,631.3 L2387.1,631.3 L2387.1,625.2 L2383.7,625.2 L2383.7,625.5 L2380.3,625.5 L2380.3,625.8 L2376.9,625.8 L2376.9,627.5 L2373.5,627.5 L2373.5,628.1 L2370.1,628.1 L2370.1,624.2 L2366.7,624.2 L2366.7,625.9 L2363.3,625.9 L2363.3,626.4 L2359.9,626.4 L2359.9,626.3 L2356.5,626.3 L2356.5,632.7 L2353.1,632.7 L2353.1,623.2 L2349.7,623.2 L2349.7,622.8 L2346.3,622.8 L2346.3,626.1 L2342.9,626.1 L2342.9,622.0 L2339.5,622.0 L2339.5,622.4 L2336.1,622.4 L2336.1,623.6 L2332.7,623.6 L2332.7,621.8 L2329.3,621.8 L2329.3,627.9 L2325.9,627.9 L2325.9,624.1 L2322.5,624.1 L2322.5,623.6 L2319.1,623.6 L2319.1,622.1 L2315.7,622.1 L2315.7,625.3 L2312.3,625.3 L2312.3,624.0 L2308.9,624.0 L2308.9,624.3 L2305.5,624.3 L2305.5,628.9 L2302.1,628.9 L2302.1,622.9 L2298.7,622.9 L2298.7,623.7 L2295.3,623.7 L2295.3,622.9 L2291.9,622.9 L2291.9,622.9 L2288.5,622.9 L2288.5,624.5 L2285.1,624.5 L2285.1,627.6 L2281.7,627.6 L2281.7,623.9 L2278.3,623.9 L2278.3,623.9 L2274.9,623.9 L2274.9,625.4 L2271.5,625.4 L2271.5,625.8 L2268.1,625.8 L2268.1,623.6 L2264.7,623.6 L2264.7,624.3 L2261.3,624.3 L2261.3,624.2 L2257.9,624.2 L2257.9,622.6 L2254.5,622.6 L2254.5,625.2 L2251.1,625.2 L2251.1,621.8 L2247.7,621.8 L2247.7,620.4 L2244.3,620.4 L2244.3,621.3 L2240.9,621.3 L2240.9,622.1 L2237.5,622.1 L2237.5,621.2 L2234.1,621.2 L2234.1,624.1 L2230.7,624.1 L2230.7,625.8 L2227.3,625.8 L2227.3,624.9 L2223.9,624.9 L2223.9,621.9 L2220.5,621.9 L2220.5,623.6 L2217.1,623.6 L2217.1,623.0 L2213.7,623.0 L2213.7,623.1 L2210.3,623.1 L2210.3,621.4 L2206.9,621.4 L2206.9,623.7 L2203.5,623.7 L2203.5,621.0 L2200.1,621.0 L2200.1,623.8 L2196.7,623.8 L2196.7,621.9 L2193.3,621.9 L2193.3,622.4 L2189.9,622.4 L2189.9,627.1 L2186.5,627.1 L2186.5,625.4 L2183.1,625.4 L2183.1,621.7 L2179.7,621.7 L2179.7,620.1 L2176.3,620.1 L2176.3,620.8 L2172.9,620.8 L2172.9,620.2 L2169.5,620.2 L2169.5,618.1 L2166.1,618.1 L2166.1,618.5 L2162.7,618.5 L2162.7,619.4 L2159.3,619.4 L2159.3,617.2 L2155.9,617.2 L2155.9,622.3 L2152.5,622.3 L2152.5,621.2 L2149.1,621.2 L2149.1,616.2 L2145.7,616.2 L2145.7,621.1 L2142.3,621.1 L2142.3,622.1 L2138.9,622.1 L2138.9,617.0 L2135.5,617.0 L2135.5,616.9 L2132.1,616.9 L2132.1,617.5 L2128.7,617.5 L2128.7,620.5 L2125.3,620.5 L2125.3,618.7 L2121.9,618.7 L2121.9,616.7 L2118.5,616.7 L2118.5,615.4 L2115.1,615.4 L2115.1,615.4 L2111.7,615.4 L2111.7,615.6 L2108.3,615.6 L2108.3,617.3 L2104.9,617.3 L2104.9,616.0 L2101.5,616.0 L2101.5,616.5 L2098.1,616.5 L2098.1,616.3 L2094.7,616.3 L2094.7,618.1 L2091.3,618.1 L2091.3,620.1 L2087.9,620.1 L2087.9,615.2 L2084.5,615.2 L2084.5,616.6 L2081.1,616.6 L2081.1,617.7 L2077.7,617.7 L2077.7,615.0 L2074.3,615.0 L2074.3,615.7 L2070.9,615.7 L2070.9,614.5 L2067.5,614.5 L2067.5,616.2 L2064.1,616.2 L2064.1,614.5 L2060.7,614.5 L2060.7,613.5 L2057.3,613.5 L2057.3,614.4 L2053.9,614.4 L2053.9,616.5 L2050.5,616.5 L2050.5,614.9 L2047.1,614.9 L2047.1,613.1 L2043.7,613.1 L2043.7,617.7 L2040.3,617.7 L2040.3,614.9 L2036.9,614.9 L2036.9,615.3 L2033.5,615.3 L2033.5,618.2 L2030.1,618.2 L2030.1,614.2 L2026.7,614.2 L2026.7,613.7 L2023.3,613.7 L2023.3,617.5 L2019.9,617.5 L2019.9,619.1 L2016.5,619.1 L2016.5,615.2 L2013.1,615.2 L2013.1,615.5 L2009.7,615.5 L2009.7,617.8 L2006.3,617.8 L2006.3,614.9 L2002.9,614.9 L2002.9,616.4 L1999.5,616.4 L1999.5,615.5 L1996.1,615.5 L1996.1,617.2 L1992.7,617.2 L1992.7,616.4 L1989.3,616.4 L1989.3,616.2 L1985.9,616.2 L1985.9,614.5 L1982.5,614.5 L1982.5,616.8 L1979.1,616.8 L1979.1,614.2 L1975.7,614.2 L1975.7,624.5 L1972.3,624.5 L1972.3,622.5 L1968.9,622.5 L1968.9,612.6 L1965.5,612.6 L1965.5,611.8 L1962.1,611.8 L1962.1,615.6 L1958.7,615.6 L1958.7,616.5 L1955.3,616.5 L1955.3,615.6 L1951.9,615.6 L1951.9,611.0 L1948.5,611.0 L1948.5,620.0 L1945.1,620.0 L1945.1,613.3 L1941.7,613.3 L1941.7,611.3 L1938.3,611.3 L1938.3,612.3 L1934.9,612.3 L1934.9,612.7 L1931.5,612.7 L1931.5,615.3 L1928.1,615.3 L1928.1,616.2 L1924.7,616.2 L1924.7,614.5 L1921.3,614.5 L1921.3,613.7 L1917.9,613.7 L1917.9,613.9 L1914.5,613.9 L1914.5,613.5 L1911.1,613.5 L1911.1,610.7 L1907.7,610.7 L1907.7,612.4 L1904.3,612.4 L1904.3,611.5 L1900.9,611.5 L1900.9,616.7 L1897.5,616.7 L1897.5,612.6 L1894.1,612.6 L1894.1,613.4 L1890.7,613.4 L1890.7,610.2 L1887.3,610.2 L1887.3,611.8 L1883.9,611.8 L1883.9,608.6 L1880.5,608.6 L1880.5,611.0 L1877.1,611.0 L1877.1,610.1 L1873.7,610.1 L1873.7,609.5 L1870.3,609.5 L1870.3,607.0 L1866.9,607.0 L1866.9,607.3 L1863.5,607.3 L1863.5,607.3 L1860.1,607.3 L1860.1,611.9 L1856.7,611.9 L1856.7,609.6 L1853.3,609.6 L1853.3,608.6 L1849.9,608.6 L1849.9,607.7 L1846.5,607.7 L1846.5,606.9 L1843.1,606.9 L1843.1,605.7 L1839.7,605.7 L1839.7,607.2 L1836.3,607.2 L1836.3,613.2 L1832.9,613.2 L1832.9,607.4 L1829.5,607.4 L1829.5,614.2 L1826.1,614.2 L1826.1,607.7 L1822.7,607.7 L1822.7,607.7 L1819.3,607.7 L1819.3,606.9 L1815.9,606.9 L1815.9,608.4 L1812.5,608.4 L1812.5,612.4 L1809.1,612.4 L1809.1,607.7 L1805.7,607.7 L1805.7,609.7 L1802.3,609.7 L1802.3,607.3 L1798.9,607.3 L1798.9,608.1 L1795.5,608.1 L1795.5,609.3 L1792.1,609.3 L1792.1,610.7 L1788.7,610.7 L1788.7,607.0 L1785.3,607.0 L1785.3,610.3 L1781.9,610.3 L1781.9,605.3 L1778.5,605.3 L1778.5,609.8 L1775.1,609.8 L1775.1,605.6 L1771.7,605.6 L1771.7,606.7 L1768.3,606.7 L1768.3,605.0 L1764.9,605.0 L1764.9,606.2 L1761.5,606.2 L1761.5,608.9 L1758.1,608.9 L1758.1,608.6 L1754.7,608.6 L1754.7,607.9 L1751.3,607.9 L1751.3,607.2 L1747.9,607.2 L1747.9,604.9 L1744.5,604.9 L1744.5,614.4 L1741.1,614.4 L1741.1,607.5 L1737.7,607.5 L1737.7,605.3 L1734.3,605.3 L1734.3,606.2 L1730.9,606.2 L1730.9,605.3 L1727.5,605.3 L1727.5,612.0 L1724.1,612.0 L1724.1,607.4 L1720.7,607.4 L1720.7,609.0 L1717.3,609.0 L1717.3,610.2 L1713.9,610.2 L1713.9,606.0 L1710.5,606.0 L1710.5,608.9 L1707.1,608.9 L1707.1,608.5 L1703.7,608.5 L1703.7,608.4 L1700.3,608.4 L1700.3,606.6 L1696.9,606.6 L1696.9,612.5 L1693.5,612.5 L1693.5,608.0 L1690.1,608.0 L1690.1,605.6 L1686.7,605.6 L1686.7,605.4 L1683.3,605.4 L1683.3,604.3 L1679.9,604.3 L1679.9,602.3 L1676.5,602.3 L1676.5,605.1 L1673.1,605.1 L1673.1,602.3 L1669.7,602.3 L1669.7,602.0 L1666.3,602.0 L1666.3,604.9 L1662.9,604.9 L1662.9,600.9 L1659.5,600.9 L1659.5,602.9 L1656.1,602.9 L1656.1,600.9 L1652.7,600.9 L1652.7,603.0 L1649.3,603.0 L1649.3,603.4 L1645.9,603.4 L1645.9,604.7 L1642.5,604.7 L1642.5,601.2 L1639.1,601.2 L1639.1,600.5 L1635.7,600.5 L1635.7,600.5 L1632.3,600.5 L1632.3,605.0 L1628.9,605.0 L1628.9,602.2 L1625.5,602.2 L1625.5,605.8 L1622.1,605.8 L1622.1,600.8 L1618.7,600.8 L1618.7,600.7 L1615.3,600.7 L1615.3,601.0 L1611.9,601.0 L1611.9,601.5 L1608.5,601.5 L1608.5,600.9 L1605.1,600.9 L1605.1,601.1 L1601.7,601.1 L1601.7,601.6 L1598.3,601.6 L1598.3,599.2 L1594.9,599.2 L1594.9,601.9 L1591.5,601.9 L1591.5,603.6 L1588.1,603.6 L1588.1,598.3 L1584.7,598.3 L1584.7,600.6 L1581.3,600.6 L1581.3,599.9 L1577.9,599.9 L1577.9,599.8 L1574.5,599.8 L1574.5,604.0 L1571.1,604.0 L1571.1,600.9 L1567.7,600.9 L1567.7,600.0 L1564.3,600.0 L1564.3,598.6 L1560.9,598.6 L1560.9,597.3 L1557.5,597.3 L1557.5,597.3 L1554.1,597.3 L1554.1,597.1 L1550.7,597.1 L1550.7,600.5 L1547.3,600.5 L1547.3,597.3 L1543.9,597.3 L1543.9,598.0 L1540.5,598.0 L1540.5,599.2 L1537.1,599.2 L1537.1,601.3 L1533.7,601.3 L1533.7,601.4 L1530.3,601.4 L1530.3,601.8 L1526.9,601.8 L1526.9,603.9 L1523.5,603.9 L1523.5,603.6 L1520.1,603.6 L1520.1,601.1 L1516.7,601.1 L1516.7,603.3 L1513.3,603.3 L1513.3,602.0 L1509.9,602.0 L1509.9,600.5 L1506.5,600.5 L1506.5,600.1 L1503.1,600.1 L1503.1,600.7 L1499.7,600.7 L1499.7,597.9 L1496.3,597.9 L1496.3,598.6 L1492.9,598.6 L1492.9,601.4 L1489.5,601.4 L1489.5,598.8 L1486.1,598.8 L1486.1,596.7 L1482.7,596.7 L1482.7,597.6 L1479.3,597.6 L1479.3,600.6 L1475.9,600.6 L1475.9,595.9 L1472.5,595.9 L1472.5,598.5 L1469.1,598.5 L1469.1,597.0 L1465.7,597.0 L1465.7,597.4 L1462.3,597.4Z" fill="#f60c0c"/>
<line x1="1462.30" y1="577.30" x2="2402.70" y2="607.20" stroke="#ec4c0c" stroke-width="9.0" stroke-linecap="butt"/>
<line x1="1462.30" y1="577.30" x2="2402.70" y2="607.20" stroke="#ffd030" stroke-width="4.4" stroke-linecap="butt"/>
<path d="M1462.3,715.9 L1465.7,715.9 L1465.7,714.7 L1469.1,714.7 L1469.1,714.5 L1472.5,714.5 L1472.5,715.7 L1475.9,715.7 L1475.9,711.4 L1479.3,711.4 L1479.3,711.9 L1482.7,711.9 L1482.7,707.3 L1486.1,707.3 L1486.1,711.8 L1489.5,711.8 L1489.5,713.6 L1492.9,713.6 L1492.9,712.6 L1496.3,712.6 L1496.3,713.3 L1499.7,713.3 L1499.7,705.6 L1503.1,705.6 L1503.1,712.7 L1506.5,712.7 L1506.5,710.3 L1509.9,710.3 L1509.9,712.7 L1513.3,712.7 L1513.3,707.3 L1516.7,707.3 L1516.7,713.4 L1520.1,713.4 L1520.1,711.3 L1523.5,711.3 L1523.5,714.0 L1526.9,714.0 L1526.9,711.9 L1530.3,711.9 L1530.3,710.3 L1533.7,710.3 L1533.7,712.2 L1537.1,712.2 L1537.1,714.5 L1540.5,714.5 L1540.5,709.9 L1543.9,709.9 L1543.9,713.2 L1547.3,713.2 L1547.3,716.1 L1550.7,716.1 L1550.7,710.7 L1554.1,710.7 L1554.1,714.1 L1557.5,714.1 L1557.5,713.9 L1560.9,713.9 L1560.9,715.6 L1564.3,715.6 L1564.3,717.1 L1567.7,717.1 L1567.7,716.9 L1571.1,716.9 L1571.1,716.0 L1574.5,716.0 L1574.5,714.7 L1577.9,714.7 L1577.9,715.8 L1581.3,715.8 L1581.3,716.4 L1584.7,716.4 L1584.7,710.2 L1588.1,710.2 L1588.1,713.5 L1591.5,713.5 L1591.5,709.1 L1594.9,709.1 L1594.9,715.7 L1598.3,715.7 L1598.3,714.6 L1601.7,714.6 L1601.7,715.7 L1605.1,715.7 L1605.1,714.1 L1608.5,714.1 L1608.5,705.9 L1611.9,705.9 L1611.9,710.4 L1615.3,710.4 L1615.3,713.9 L1618.7,713.9 L1618.7,711.3 L1622.1,711.3 L1622.1,711.0 L1625.5,711.0 L1625.5,714.0 L1628.9,714.0 L1628.9,713.2 L1632.3,713.2 L1632.3,717.2 L1635.7,717.2 L1635.7,714.9 L1639.1,714.9 L1639.1,717.6 L1642.5,717.6 L1642.5,713.1 L1645.9,713.1 L1645.9,716.5 L1649.3,716.5 L1649.3,717.5 L1652.7,717.5 L1652.7,717.2 L1656.1,717.2 L1656.1,715.8 L1659.5,715.8 L1659.5,713.0 L1662.9,713.0 L1662.9,717.2 L1666.3,717.2 L1666.3,715.1 L1669.7,715.1 L1669.7,716.5 L1673.1,716.5 L1673.1,715.9 L1676.5,715.9 L1676.5,715.9 L1679.9,715.9 L1679.9,715.9 L1683.3,715.9 L1683.3,715.1 L1686.7,715.1 L1686.7,712.9 L1690.1,712.9 L1690.1,713.4 L1693.5,713.4 L1693.5,714.0 L1696.9,714.0 L1696.9,715.1 L1700.3,715.1 L1700.3,714.8 L1703.7,714.8 L1703.7,709.7 L1707.1,709.7 L1707.1,713.1 L1710.5,713.1 L1710.5,712.0 L1713.9,712.0 L1713.9,704.1 L1717.3,704.1 L1717.3,712.7 L1720.7,712.7 L1720.7,711.3 L1724.1,711.3 L1724.1,712.1 L1727.5,712.1 L1727.5,714.8 L1730.9,714.8 L1730.9,714.9 L1734.3,714.9 L1734.3,714.0 L1737.7,714.0 L1737.7,714.4 L1741.1,714.4 L1741.1,712.5 L1744.5,712.5 L1744.5,714.4 L1747.9,714.4 L1747.9,714.6 L1751.3,714.6 L1751.3,715.5 L1754.7,715.5 L1754.7,712.6 L1758.1,712.6 L1758.1,715.0 L1761.5,715.0 L1761.5,716.4 L1764.9,716.4 L1764.9,713.8 L1768.3,713.8 L1768.3,714.0 L1771.7,714.0 L1771.7,709.9 L1775.1,709.9 L1775.1,712.6 L1778.5,712.6 L1778.5,710.8 L1781.9,710.8 L1781.9,708.5 L1785.3,708.5 L1785.3,714.9 L1788.7,714.9 L1788.7,713.8 L1792.1,713.8 L1792.1,706.5 L1795.5,706.5 L1795.5,711.7 L1798.9,711.7 L1798.9,712.7 L1802.3,712.7 L1802.3,714.5 L1805.7,714.5 L1805.7,714.8 L1809.1,714.8 L1809.1,708.2 L1812.5,708.2 L1812.5,711.6 L1815.9,711.6 L1815.9,707.6 L1819.3,707.6 L1819.3,711.1 L1822.7,711.1 L1822.7,715.4 L1826.1,715.4 L1826.1,711.6 L1829.5,711.6 L1829.5,716.9 L1832.9,716.9 L1832.9,715.0 L1836.3,715.0 L1836.3,709.4 L1839.7,709.4 L1839.7,713.1 L1843.1,713.1 L1843.1,717.1 L1846.5,717.1 L1846.5,712.3 L1849.9,712.3 L1849.9,718.4 L1853.3,718.4 L1853.3,718.5 L1856.7,718.5 L1856.7,718.6 L1860.1,718.6 L1860.1,715.8 L1863.5,715.8 L1863.5,716.6 L1866.9,716.6 L1866.9,716.4 L1870.3,716.4 L1870.3,717.6 L1873.7,717.6 L1873.7,715.6 L1877.1,715.6 L1877.1,718.1 L1880.5,718.1 L1880.5,708.2 L1883.9,708.2 L1883.9,717.4 L1887.3,717.4 L1887.3,715.3 L1890.7,715.3 L1890.7,713.3 L1894.1,713.3 L1894.1,715.7 L1897.5,715.7 L1897.5,714.2 L1900.9,714.2 L1900.9,713.1 L1904.3,713.1 L1904.3,711.3 L1907.7,711.3 L1907.7,714.8 L1911.1,714.8 L1911.1,713.4 L1914.5,713.4 L1914.5,717.0 L1917.9,717.0 L1917.9,717.4 L1921.3,717.4 L1921.3,716.0 L1924.7,716.0 L1924.7,716.8 L1928.1,716.8 L1928.1,707.8 L1931.5,707.8 L1931.5,717.5 L1934.9,717.5 L1934.9,717.6 L1938.3,717.6 L1938.3,717.0 L1941.7,717.0 L1941.7,716.7 L1945.1,716.7 L1945.1,717.5 L1948.5,717.5 L1948.5,715.7 L1951.9,715.7 L1951.9,714.1 L1955.3,714.1 L1955.3,715.7 L1958.7,715.7 L1958.7,716.8 L1962.1,716.8 L1962.1,713.9 L1965.5,713.9 L1965.5,716.7 L1968.9,716.7 L1968.9,714.6 L1972.3,714.6 L1972.3,712.9 L1975.7,712.9 L1975.7,708.6 L1979.1,708.6 L1979.1,712.5 L1982.5,712.5 L1982.5,714.5 L1985.9,714.5 L1985.9,710.7 L1989.3,710.7 L1989.3,711.2 L1992.7,711.2 L1992.7,713.5 L1996.1,713.5 L1996.1,714.9 L1999.5,714.9 L1999.5,712.8 L2002.9,712.8 L2002.9,714.4 L2006.3,714.4 L2006.3,712.7 L2009.7,712.7 L2009.7,711.6 L2013.1,711.6 L2013.1,709.2 L2016.5,709.2 L2016.5,711.9 L2019.9,711.9 L2019.9,713.0 L2023.3,713.0 L2023.3,712.7 L2026.7,712.7 L2026.7,714.5 L2030.1,714.5 L2030.1,707.0 L2033.5,707.0 L2033.5,716.9 L2036.9,716.9 L2036.9,715.2 L2040.3,715.2 L2040.3,715.5 L2043.7,715.5 L2043.7,717.4 L2047.1,717.4 L2047.1,716.6 L2050.5,716.6 L2050.5,714.0 L2053.9,714.0 L2053.9,715.0 L2057.3,715.0 L2057.3,717.4 L2060.7,717.4 L2060.7,710.7 L2064.1,710.7 L2064.1,715.3 L2067.5,715.3 L2067.5,716.9 L2070.9,716.9 L2070.9,715.1 L2074.3,715.1 L2074.3,712.4 L2077.7,712.4 L2077.7,711.3 L2081.1,711.3 L2081.1,706.5 L2084.5,706.5 L2084.5,711.0 L2087.9,711.0 L2087.9,714.7 L2091.3,714.7 L2091.3,714.7 L2094.7,714.7 L2094.7,713.4 L2098.1,713.4 L2098.1,716.9 L2101.5,716.9 L2101.5,716.3 L2104.9,716.3 L2104.9,714.5 L2108.3,714.5 L2108.3,710.0 L2111.7,710.0 L2111.7,715.2 L2115.1,715.2 L2115.1,715.4 L2118.5,715.4 L2118.5,718.1 L2121.9,718.1 L2121.9,716.8 L2125.3,716.8 L2125.3,717.2 L2128.7,717.2 L2128.7,716.1 L2132.1,716.1 L2132.1,716.1 L2135.5,716.1 L2135.5,716.7 L2138.9,716.7 L2138.9,719.4 L2142.3,719.4 L2142.3,716.2 L2145.7,716.2 L2145.7,718.4 L2149.1,718.4 L2149.1,716.3 L2152.5,716.3 L2152.5,715.3 L2155.9,715.3 L2155.9,715.2 L2159.3,715.2 L2159.3,716.8 L2162.7,716.8 L2162.7,715.8 L2166.1,715.8 L2166.1,709.6 L2169.5,709.6 L2169.5,713.6 L2172.9,713.6 L2172.9,717.9 L2176.3,717.9 L2176.3,717.0 L2179.7,717.0 L2179.7,713.7 L2183.1,713.7 L2183.1,715.0 L2186.5,715.0 L2186.5,708.5 L2189.9,708.5 L2189.9,715.1 L2193.3,715.1 L2193.3,712.9 L2196.7,712.9 L2196.7,716.6 L2200.1,716.6 L2200.1,711.6 L2203.5,711.6 L2203.5,714.9 L2206.9,714.9 L2206.9,715.8 L2210.3,715.8 L2210.3,713.0 L2213.7,713.0 L2213.7,716.3 L2217.1,716.3 L2217.1,715.6 L2220.5,715.6 L2220.5,717.1 L2223.9,717.1 L2223.9,717.5 L2227.3,717.5 L2227.3,714.8 L2230.7,714.8 L2230.7,716.7 L2234.1,716.7 L2234.1,715.6 L2237.5,715.6 L2237.5,716.9 L2240.9,716.9 L2240.9,716.6 L2244.3,716.6 L2244.3,716.9 L2247.7,716.9 L2247.7,711.1 L2251.1,711.1 L2251.1,716.2 L2254.5,716.2 L2254.5,716.7 L2257.9,716.7 L2257.9,713.3 L2261.3,713.3 L2261.3,715.2 L2264.7,715.2 L2264.7,713.6 L2268.1,713.6 L2268.1,716.0 L2271.5,716.0 L2271.5,715.6 L2274.9,715.6 L2274.9,713.2 L2278.3,713.2 L2278.3,711.6 L2281.7,711.6 L2281.7,713.6 L2285.1,713.6 L2285.1,709.2 L2288.5,709.2 L2288.5,711.3 L2291.9,711.3 L2291.9,712.9 L2295.3,712.9 L2295.3,706.3 L2298.7,706.3 L2298.7,713.6 L2302.1,713.6 L2302.1,713.2 L2305.5,713.2 L2305.5,712.6 L2308.9,712.6 L2308.9,709.2 L2312.3,709.2 L2312.3,710.3 L2315.7,710.3 L2315.7,715.7 L2319.1,715.7 L2319.1,717.2 L2322.5,717.2 L2322.5,717.9 L2325.9,717.9 L2325.9,715.5 L2329.3,715.5 L2329.3,718.9 L2332.7,718.9 L2332.7,717.8 L2336.1,717.8 L2336.1,717.1 L2339.5,717.1 L2339.5,719.2 L2342.9,719.2 L2342.9,716.6 L2346.3,716.6 L2346.3,713.4 L2349.7,713.4 L2349.7,718.7 L2353.1,718.7 L2353.1,714.2 L2356.5,714.2 L2356.5,716.9 L2359.9,716.9 L2359.9,718.2 L2363.3,718.2 L2363.3,715.4 L2366.7,715.4 L2366.7,712.1 L2370.1,712.1 L2370.1,716.3 L2373.5,716.3 L2373.5,711.8 L2376.9,711.8 L2376.9,718.0 L2380.3,718.0 L2380.3,714.6 L2383.7,714.6 L2383.7,709.8 L2387.1,709.8 L2387.1,715.2 L2390.5,715.2 L2390.5,717.0 L2393.9,717.0 L2393.9,712.0 L2397.3,712.0 L2397.3,716.2 L2400.7,716.2 L2400.7,761.6 L2397.3,761.6 L2397.3,761.7 L2393.9,761.7 L2393.9,761.5 L2390.5,761.5 L2390.5,762.1 L2387.1,762.1 L2387.1,762.9 L2383.7,762.9 L2383.7,758.7 L2380.3,758.7 L2380.3,763.3 L2376.9,763.3 L2376.9,760.8 L2373.5,760.8 L2373.5,758.6 L2370.1,758.6 L2370.1,760.8 L2366.7,760.8 L2366.7,759.9 L2363.3,759.9 L2363.3,758.4 L2359.9,758.4 L2359.9,758.4 L2356.5,758.4 L2356.5,759.4 L2353.1,759.4 L2353.1,761.2 L2349.7,761.2 L2349.7,758.7 L2346.3,758.7 L2346.3,762.3 L2342.9,762.3 L2342.9,759.3 L2339.5,759.3 L2339.5,757.7 L2336.1,757.7 L2336.1,761.1 L2332.7,761.1 L2332.7,760.9 L2329.3,760.9 L2329.3,759.5 L2325.9,759.5 L2325.9,763.0 L2322.5,763.0 L2322.5,763.1 L2319.1,763.1 L2319.1,760.7 L2315.7,760.7 L2315.7,762.9 L2312.3,762.9 L2312.3,761.9 L2308.9,761.9 L2308.9,761.1 L2305.5,761.1 L2305.5,761.3 L2302.1,761.3 L2302.1,760.4 L2298.7,760.4 L2298.7,766.0 L2295.3,766.0 L2295.3,760.7 L2291.9,760.7 L2291.9,764.0 L2288.5,764.0 L2288.5,762.4 L2285.1,762.4 L2285.1,768.0 L2281.7,768.0 L2281.7,761.0 L2278.3,761.0 L2278.3,760.9 L2274.9,760.9 L2274.9,764.1 L2271.5,764.1 L2271.5,762.2 L2268.1,762.2 L2268.1,765.9 L2264.7,765.9 L2264.7,760.4 L2261.3,760.4 L2261.3,764.3 L2257.9,764.3 L2257.9,762.5 L2254.5,762.5 L2254.5,761.1 L2251.1,761.1 L2251.1,760.7 L2247.7,760.7 L2247.7,762.5 L2244.3,762.5 L2244.3,763.2 L2240.9,763.2 L2240.9,758.6 L2237.5,758.6 L2237.5,759.5 L2234.1,759.5 L2234.1,763.0 L2230.7,763.0 L2230.7,760.2 L2227.3,760.2 L2227.3,762.5 L2223.9,762.5 L2223.9,760.1 L2220.5,760.1 L2220.5,761.7 L2217.1,761.7 L2217.1,759.7 L2213.7,759.7 L2213.7,767.4 L2210.3,767.4 L2210.3,761.9 L2206.9,761.9 L2206.9,760.2 L2203.5,760.2 L2203.5,760.7 L2200.1,760.7 L2200.1,760.1 L2196.7,760.1 L2196.7,763.0 L2193.3,763.0 L2193.3,761.1 L2189.9,761.1 L2189.9,761.1 L2186.5,761.1 L2186.5,763.4 L2183.1,763.4 L2183.1,762.4 L2179.7,762.4 L2179.7,762.5 L2176.3,762.5 L2176.3,761.7 L2172.9,761.7 L2172.9,758.2 L2169.5,758.2 L2169.5,759.1 L2166.1,759.1 L2166.1,760.6 L2162.7,760.6 L2162.7,759.6 L2159.3,759.6 L2159.3,761.3 L2155.9,761.3 L2155.9,756.9 L2152.5,756.9 L2152.5,756.3 L2149.1,756.3 L2149.1,757.1 L2145.7,757.1 L2145.7,756.5 L2142.3,756.5 L2142.3,762.4 L2138.9,762.4 L2138.9,757.9 L2135.5,757.9 L2135.5,756.6 L2132.1,756.6 L2132.1,763.3 L2128.7,763.3 L2128.7,761.5 L2125.3,761.5 L2125.3,757.3 L2121.9,757.3 L2121.9,761.4 L2118.5,761.4 L2118.5,757.4 L2115.1,757.4 L2115.1,759.5 L2111.7,759.5 L2111.7,762.5 L2108.3,762.5 L2108.3,767.3 L2104.9,767.3 L2104.9,763.0 L2101.5,763.0 L2101.5,762.0 L2098.1,762.0 L2098.1,759.9 L2094.7,759.9 L2094.7,760.4 L2091.3,760.4 L2091.3,759.1 L2087.9,759.1 L2087.9,760.1 L2084.5,760.1 L2084.5,764.8 L2081.1,764.8 L2081.1,759.8 L2077.7,759.8 L2077.7,762.1 L2074.3,762.1 L2074.3,764.8 L2070.9,764.8 L2070.9,760.3 L2067.5,760.3 L2067.5,766.0 L2064.1,766.0 L2064.1,761.2 L2060.7,761.2 L2060.7,759.0 L2057.3,759.0 L2057.3,760.7 L2053.9,760.7 L2053.9,761.1 L2050.5,761.1 L2050.5,760.2 L2047.1,760.2 L2047.1,761.2 L2043.7,761.2 L2043.7,764.6 L2040.3,764.6 L2040.3,769.9 L2036.9,769.9 L2036.9,760.1 L2033.5,760.1 L2033.5,758.9 L2030.1,758.9 L2030.1,767.8 L2026.7,767.8 L2026.7,762.7 L2023.3,762.7 L2023.3,760.9 L2019.9,760.9 L2019.9,759.6 L2016.5,759.6 L2016.5,760.4 L2013.1,760.4 L2013.1,762.6 L2009.7,762.6 L2009.7,765.1 L2006.3,765.1 L2006.3,763.8 L2002.9,763.8 L2002.9,762.6 L1999.5,762.6 L1999.5,762.5 L1996.1,762.5 L1996.1,760.6 L1992.7,760.6 L1992.7,767.8 L1989.3,767.8 L1989.3,762.1 L1985.9,762.1 L1985.9,760.8 L1982.5,760.8 L1982.5,764.8 L1979.1,764.8 L1979.1,766.8 L1975.7,766.8 L1975.7,759.6 L1972.3,759.6 L1972.3,762.0 L1968.9,762.0 L1968.9,760.2 L1965.5,760.2 L1965.5,758.6 L1962.1,758.6 L1962.1,760.9 L1958.7,760.9 L1958.7,758.2 L1955.3,758.2 L1955.3,757.8 L1951.9,757.8 L1951.9,758.9 L1948.5,758.9 L1948.5,758.1 L1945.1,758.1 L1945.1,760.2 L1941.7,760.2 L1941.7,760.1 L1938.3,760.1 L1938.3,761.0 L1934.9,761.0 L1934.9,759.5 L1931.5,759.5 L1931.5,758.0 L1928.1,758.0 L1928.1,759.3 L1924.7,759.3 L1924.7,757.8 L1921.3,757.8 L1921.3,759.9 L1917.9,759.9 L1917.9,759.0 L1914.5,759.0 L1914.5,760.0 L1911.1,760.0 L1911.1,759.7 L1907.7,759.7 L1907.7,760.6 L1904.3,760.6 L1904.3,757.8 L1900.9,757.8 L1900.9,760.6 L1897.5,760.6 L1897.5,759.6 L1894.1,759.6 L1894.1,761.3 L1890.7,761.3 L1890.7,759.2 L1887.3,759.2 L1887.3,766.0 L1883.9,766.0 L1883.9,758.0 L1880.5,758.0 L1880.5,756.6 L1877.1,756.6 L1877.1,762.4 L1873.7,762.4 L1873.7,757.7 L1870.3,757.7 L1870.3,760.9 L1866.9,760.9 L1866.9,760.3 L1863.5,760.3 L1863.5,762.6 L1860.1,762.6 L1860.1,758.2 L1856.7,758.2 L1856.7,756.4 L1853.3,756.4 L1853.3,756.1 L1849.9,756.1 L1849.9,756.6 L1846.5,756.6 L1846.5,763.9 L1843.1,763.9 L1843.1,759.6 L1839.7,759.6 L1839.7,759.3 L1836.3,759.3 L1836.3,757.5 L1832.9,757.5 L1832.9,757.9 L1829.5,757.9 L1829.5,760.2 L1826.1,760.2 L1826.1,763.1 L1822.7,763.1 L1822.7,758.3 L1819.3,758.3 L1819.3,760.4 L1815.9,760.4 L1815.9,763.7 L1812.5,763.7 L1812.5,761.4 L1809.1,761.4 L1809.1,764.4 L1805.7,764.4 L1805.7,761.7 L1802.3,761.7 L1802.3,761.2 L1798.9,761.2 L1798.9,760.0 L1795.5,760.0 L1795.5,760.4 L1792.1,760.4 L1792.1,762.0 L1788.7,762.0 L1788.7,768.6 L1785.3,768.6 L1785.3,761.6 L1781.9,761.6 L1781.9,759.8 L1778.5,759.8 L1778.5,766.7 L1775.1,766.7 L1775.1,758.2 L1771.7,758.2 L1771.7,758.4 L1768.3,758.4 L1768.3,764.2 L1764.9,764.2 L1764.9,758.2 L1761.5,758.2 L1761.5,759.2 L1758.1,759.2 L1758.1,764.7 L1754.7,764.7 L1754.7,760.2 L1751.3,760.2 L1751.3,758.3 L1747.9,758.3 L1747.9,761.5 L1744.5,761.5 L1744.5,765.5 L1741.1,765.5 L1741.1,765.4 L1737.7,765.4 L1737.7,760.0 L1734.3,760.0 L1734.3,759.7 L1730.9,759.7 L1730.9,762.3 L1727.5,762.3 L1727.5,759.3 L1724.1,759.3 L1724.1,765.2 L1720.7,765.2 L1720.7,759.8 L1717.3,759.8 L1717.3,763.5 L1713.9,763.5 L1713.9,761.8 L1710.5,761.8 L1710.5,760.1 L1707.1,760.1 L1707.1,761.6 L1703.7,761.6 L1703.7,762.0 L1700.3,762.0 L1700.3,761.5 L1696.9,761.5 L1696.9,763.5 L1693.5,763.5 L1693.5,758.0 L1690.1,758.0 L1690.1,762.0 L1686.7,762.0 L1686.7,759.4 L1683.3,759.4 L1683.3,759.6 L1679.9,759.6 L1679.9,757.0 L1676.5,757.0 L1676.5,760.4 L1673.1,760.4 L1673.1,758.9 L1669.7,758.9 L1669.7,757.7 L1666.3,757.7 L1666.3,756.6 L1662.9,756.6 L1662.9,755.4 L1659.5,755.4 L1659.5,757.2 L1656.1,757.2 L1656.1,757.8 L1652.7,757.8 L1652.7,760.0 L1649.3,760.0 L1649.3,759.3 L1645.9,759.3 L1645.9,763.7 L1642.5,763.7 L1642.5,758.0 L1639.1,758.0 L1639.1,758.3 L1635.7,758.3 L1635.7,756.9 L1632.3,756.9 L1632.3,758.5 L1628.9,758.5 L1628.9,757.9 L1625.5,757.9 L1625.5,757.6 L1622.1,757.6 L1622.1,758.3 L1618.7,758.3 L1618.7,759.0 L1615.3,759.0 L1615.3,759.9 L1611.9,759.9 L1611.9,757.0 L1608.5,757.0 L1608.5,757.4 L1605.1,757.4 L1605.1,760.5 L1601.7,760.5 L1601.7,762.6 L1598.3,762.6 L1598.3,757.2 L1594.9,757.2 L1594.9,760.4 L1591.5,760.4 L1591.5,757.9 L1588.1,757.9 L1588.1,762.8 L1584.7,762.8 L1584.7,756.4 L1581.3,756.4 L1581.3,758.3 L1577.9,758.3 L1577.9,759.4 L1574.5,759.4 L1574.5,757.4 L1571.1,757.4 L1571.1,758.1 L1567.7,758.1 L1567.7,759.2 L1564.3,759.2 L1564.3,757.3 L1560.9,757.3 L1560.9,757.6 L1557.5,757.6 L1557.5,762.6 L1554.1,762.6 L1554.1,761.9 L1550.7,761.9 L1550.7,760.6 L1547.3,760.6 L1547.3,760.2 L1543.9,760.2 L1543.9,761.9 L1540.5,761.9 L1540.5,764.4 L1537.1,764.4 L1537.1,760.1 L1533.7,760.1 L1533.7,758.8 L1530.3,758.8 L1530.3,761.8 L1526.9,761.8 L1526.9,761.7 L1523.5,761.7 L1523.5,760.4 L1520.1,760.4 L1520.1,759.3 L1516.7,759.3 L1516.7,765.2 L1513.3,765.2 L1513.3,759.9 L1509.9,759.9 L1509.9,759.8 L1506.5,759.8 L1506.5,759.0 L1503.1,759.0 L1503.1,760.1 L1499.7,760.1 L1499.7,762.2 L1496.3,762.2 L1496.3,758.4 L1492.9,758.4 L1492.9,759.5 L1489.5,759.5 L1489.5,761.3 L1486.1,761.3 L1486.1,763.0 L1482.7,763.0 L1482.7,759.2 L1479.3,759.2 L1479.3,758.5 L1475.9,758.5 L1475.9,762.5 L1472.5,762.5 L1472.5,758.2 L1469.1,758.2 L1469.1,761.1 L1465.7,761.1 L1465.7,758.9 L1462.3,758.9Z" fill="#0cf410"/>
<line x1="1462.30" y1="736.40" x2="2402.70" y2="738.50" stroke="#5cf80c" stroke-width="9.0" stroke-linecap="butt"/>
<line x1="1462.30" y1="736.40" x2="2402.70" y2="738.50" stroke="#b4ff2c" stroke-width="4.4" stroke-linecap="butt"/>
<text transform="translate(1443.11,886.55) scale(0.9671,1)" font-family='"Liberation Sans", sans-serif' font-weight="bold" font-size="75.97" fill="#2b2b2b" stroke="#fff" stroke-width="0.7" stroke-linejoin="round">0</text>
<text transform="translate(1735.45,886.55) scale(0.9566,1)" font-family='"Liberation Sans", sans-serif' font-weight="bold" font-size="75.97" fill="#2b2b2b" stroke="#fff" stroke-width="0.7" stroke-linejoin="round">20</text>
<text transform="translate(2046.58,886.55) scale(0.9565,1)" font-family='"Liberation Sans", sans-serif' font-weight="bold" font-size="75.97" fill="#2b2b2b" stroke="#fff" stroke-width="0.7" stroke-linejoin="round">40</text>
<text transform="translate(2358.45,886.55) scale(0.9567,1)" font-family='"Liberation Sans", sans-serif' font-weight="bold" font-size="75.97" fill="#2b2b2b" stroke="#fff" stroke-width="0.7" stroke-linejoin="round">60</text>
<text transform="translate(1776.99,987.30) scale(1.0107,1)" font-family='"Liberation Sans", sans-serif' font-weight="bold" font-size="80.5" fill="#000">Time (s)</text>
<text transform="translate(1424.20,657.50) rotate(-90) scale(1.1025,1)" font-family='"Liberation Sans", sans-serif' font-weight="normal" font-size="78" fill="#000" stroke="#000" stroke-width="1.6" stroke-linejoin="round">2 mK/Div</text>
<text transform="translate(2307.37,93.60) scale(0.9791,1)" font-family='"Liberation Sans", sans-serif' font-weight="bold" font-size="70" fill="#000">(b)</text>
<text transform="translate(1506.53,253.30) scale(0.9593,1)" font-family='"Liberation Sans", sans-serif' font-weight="normal" font-size="66" fill="#000" stroke="#000" stroke-width="3.4" stroke-linejoin="round">Ch 5</text>
<text transform="translate(1506.55,400.30) scale(0.9534,1)" font-family='"Liberation Sans", sans-serif' font-weight="normal" font-size="66" fill="#000" stroke="#000" stroke-width="3.4" stroke-linejoin="round">Ch 4</text>
<text transform="translate(1506.53,537.30) scale(0.9605,1)" font-family='"Liberation Sans", sans-serif' font-weight="normal" font-size="66" fill="#000" stroke="#000" stroke-width="3.4" stroke-linejoin="round">Ch 3</text>
<text transform="translate(1511.02,679.90) scale(0.9641,1)" font-family='"Liberation Sans", sans-serif' font-weight="normal" font-size="66" fill="#000" stroke="#000" stroke-width="3.4" stroke-linejoin="round">Ch 2</text>
<text transform="translate(1945.05,254.10) scale(1.0271,1)" font-family='"Liberation Sans", sans-serif' font-weight="normal" font-size="66" fill="#000" stroke="#000" stroke-width="3.4" stroke-linejoin="round">Std 0.83 mK</text>
<text transform="translate(1945.05,410.80) scale(1.0271,1)" font-family='"Liberation Sans", sans-serif' font-weight="normal" font-size="66" fill="#000" stroke="#000" stroke-width="3.4" stroke-linejoin="round">Std 0.61 mK</text>
<text transform="translate(1954.25,554.30) scale(1.0271,1)" font-family='"Liberation Sans", sans-serif' font-weight="normal" font-size="66" fill="#000" stroke="#000" stroke-width="3.4" stroke-linejoin="round">Std 0.61 mK</text>
<text transform="translate(1958.05,685.30) scale(1.0271,1)" font-family='"Liberation Sans", sans-serif' font-weight="normal" font-size="66" fill="#000" stroke="#000" stroke-width="3.4" stroke-linejoin="round">Std 0.72 mK</text>
<line x1="1467.00" y1="1131.20" x2="1467.00" y2="1750.00" stroke="#b4b4b4" stroke-width="8.4" stroke-linecap="butt"/>
<line x1="2398.20" y1="1131.20" x2="2398.20" y2="1750.00" stroke="#8a8a8a" stroke-width="3.0" stroke-linecap="butt"/>
<line x1="1467.00" y1="1128.40" x2="1467.00" y2="1752.80" stroke="#3c3c3c" stroke-width="3.0" stroke-linecap="butt"/>
<line x1="2400.60" y1="1128.40" x2="2400.60" y2="1752.80" stroke="#2c2c2c" stroke-width="3.0" stroke-linecap="butt"/>
<line x1="1465.50" y1="1131.20" x2="2402.10" y2="1131.20" stroke="#202020" stroke-width="5.6" stroke-linecap="butt"/>
<line x1="1465.50" y1="1750.00" x2="2402.10" y2="1750.00" stroke="#202020" stroke-width="5.6" stroke-linecap="butt"/>
<line x1="1776.90" y1="1131.20" x2="1776.90" y2="1143.20" stroke="#202020" stroke-width="3.6" stroke-linecap="butt"/>
<line x1="1776.90" y1="1750.00" x2="1776.90" y2="1738.00" stroke="#202020" stroke-width="3.6" stroke-linecap="butt"/>
<line x1="2088.40" y1="1131.20" x2="2088.40" y2="1143.20" stroke="#202020" stroke-width="3.6" stroke-linecap="butt"/>
<line x1="2088.40" y1="1750.00" x2="2088.40" y2="1738.00" stroke="#202020" stroke-width="3.6" stroke-linecap="butt"/>
<line x1="1467.00" y1="1163.77" x2="1477.50" y2="1163.77" stroke="#202020" stroke-width="5.4" stroke-linecap="butt"/>
<line x1="2399.60" y1="1163.77" x2="2389.10" y2="1163.77" stroke="#202020" stroke-width="5.4" stroke-linecap="butt"/>
<line x1="1467.00" y1="1196.34" x2="1477.50" y2="1196.34" stroke="#202020" stroke-width="5.4" stroke-linecap="butt"/>
<line x1="2399.60" y1="1196.34" x2="2389.10" y2="1196.34" stroke="#202020" stroke-width="5.4" stroke-linecap="butt"/>
<line x1="1467.00" y1="1228.91" x2="1477.50" y2="1228.91" stroke="#202020" stroke-width="5.4" stroke-linecap="butt"/>
<line x1="2399.60" y1="1228.91" x2="2389.10" y2="1228.91" stroke="#202020" stroke-width="5.4" stroke-linecap="butt"/>
<line x1="1467.00" y1="1261.47" x2="1477.50" y2="1261.47" stroke="#202020" stroke-width="5.4" stroke-linecap="butt"/>
<line x1="2399.60" y1="1261.47" x2="2389.10" y2="1261.47" stroke="#202020" stroke-width="5.4" stroke-linecap="butt"/>
<line x1="1467.00" y1="1294.04" x2="1477.50" y2="1294.04" stroke="#202020" stroke-width="5.4" stroke-linecap="butt"/>
<line x1="2399.60" y1="1294.04" x2="2389.10" y2="1294.04" stroke="#202020" stroke-width="5.4" stroke-linecap="butt"/>
<line x1="1467.00" y1="1326.61" x2="1477.50" y2="1326.61" stroke="#202020" stroke-width="5.4" stroke-linecap="butt"/>
<line x1="2399.60" y1="1326.61" x2="2389.10" y2="1326.61" stroke="#202020" stroke-width="5.4" stroke-linecap="butt"/>
<line x1="1467.00" y1="1359.18" x2="1477.50" y2="1359.18" stroke="#202020" stroke-width="5.4" stroke-linecap="butt"/>
<line x1="2399.60" y1="1359.18" x2="2389.10" y2="1359.18" stroke="#202020" stroke-width="5.4" stroke-linecap="butt"/>
<line x1="1467.00" y1="1391.75" x2="1477.50" y2="1391.75" stroke="#202020" stroke-width="5.4" stroke-linecap="butt"/>
<line x1="2399.60" y1="1391.75" x2="2389.10" y2="1391.75" stroke="#202020" stroke-width="5.4" stroke-linecap="butt"/>
<line x1="1467.00" y1="1424.32" x2="1477.50" y2="1424.32" stroke="#202020" stroke-width="5.4" stroke-linecap="butt"/>
<line x1="2399.60" y1="1424.32" x2="2389.10" y2="1424.32" stroke="#202020" stroke-width="5.4" stroke-linecap="butt"/>
<line x1="1467.00" y1="1456.88" x2="1477.50" y2="1456.88" stroke="#202020" stroke-width="5.4" stroke-linecap="butt"/>
<line x1="2399.60" y1="1456.88" x2="2389.10" y2="1456.88" stroke="#202020" stroke-width="5.4" stroke-linecap="butt"/>
<line x1="1467.00" y1="1489.45" x2="1477.50" y2="1489.45" stroke="#202020" stroke-width="5.4" stroke-linecap="butt"/>
<line x1="2399.60" y1="1489.45" x2="2389.10" y2="1489.45" stroke="#202020" stroke-width="5.4" stroke-linecap="butt"/>
<line x1="1467.00" y1="1522.02" x2="1477.50" y2="1522.02" stroke="#202020" stroke-width="5.4" stroke-linecap="butt"/>
<line x1="2399.60" y1="1522.02" x2="2389.10" y2="1522.02" stroke="#202020" stroke-width="5.4" stroke-linecap="butt"/>
<line x1="1467.00" y1="1554.59" x2="1477.50" y2="1554.59" stroke="#202020" stroke-width="5.4" stroke-linecap="butt"/>
<line x1="2399.60" y1="1554.59" x2="2389.10" y2="1554.59" stroke="#202020" stroke-width="5.4" stroke-linecap="butt"/>
<line x1="1467.00" y1="1587.16" x2="1477.50" y2="1587.16" stroke="#202020" stroke-width="5.4" stroke-linecap="butt"/>
<line x1="2399.60" y1="1587.16" x2="2389.10" y2="1587.16" stroke="#202020" stroke-width="5.4" stroke-linecap="butt"/>
<line x1="1467.00" y1="1619.73" x2="1477.50" y2="1619.73" stroke="#202020" stroke-width="5.4" stroke-linecap="butt"/>
<line x1="2399.60" y1="1619.73" x2="2389.10" y2="1619.73" stroke="#202020" stroke-width="5.4" stroke-linecap="butt"/>
<line x1="1467.00" y1="1652.29" x2="1477.50" y2="1652.29" stroke="#202020" stroke-width="5.4" stroke-linecap="butt"/>
<line x1="2399.60" y1="1652.29" x2="2389.10" y2="1652.29" stroke="#202020" stroke-width="5.4" stroke-linecap="butt"/>
<line x1="1467.00" y1="1684.86" x2="1477.50" y2="1684.86" stroke="#202020" stroke-width="5.4" stroke-linecap="butt"/>
<line x1="2399.60" y1="1684.86" x2="2389.10" y2="1684.86" stroke="#202020" stroke-width="5.4" stroke-linecap="butt"/>
<line x1="1467.00" y1="1717.43" x2="1477.50" y2="1717.43" stroke="#202020" stroke-width="5.4" stroke-linecap="butt"/>
<line x1="2399.60" y1="1717.43" x2="2389.10" y2="1717.43" stroke="#202020" stroke-width="5.4" stroke-linecap="butt"/>
<path d="M1463.3,1276.5 L1466.7,1276.5 L1466.7,1272.2 L1470.1,1272.2 L1470.1,1272.1 L1473.5,1272.1 L1473.5,1265.8 L1476.9,1265.8 L1476.9,1277.2 L1480.3,1277.2 L1480.3,1271.2 L1483.7,1271.2 L1483.7,1277.1 L1487.1,1277.1 L1487.1,1274.6 L1490.5,1274.6 L1490.5,1270.4 L1493.9,1270.4 L1493.9,1275.1 L1497.3,1275.1 L1497.3,1277.2 L1500.7,1277.2 L1500.7,1270.4 L1504.1,1270.4 L1504.1,1274.5 L1507.5,1274.5 L1507.5,1267.9 L1510.9,1267.9 L1510.9,1275.1 L1514.3,1275.1 L1514.3,1271.4 L1517.7,1271.4 L1517.7,1272.5 L1521.1,1272.5 L1521.1,1272.6 L1524.5,1272.6 L1524.5,1269.9 L1527.9,1269.9 L1527.9,1273.9 L1531.3,1273.9 L1531.3,1274.4 L1534.7,1274.4 L1534.7,1271.8 L1538.1,1271.8 L1538.1,1278.4 L1541.5,1278.4 L1541.5,1278.1 L1544.9,1278.1 L1544.9,1278.0 L1548.3,1278.0 L1548.3,1271.0 L1551.7,1271.0 L1551.7,1279.2 L1555.1,1279.2 L1555.1,1277.1 L1558.5,1277.1 L1558.5,1276.2 L1561.9,1276.2 L1561.9,1278.0 L1565.3,1278.0 L1565.3,1279.7 L1568.7,1279.7 L1568.7,1275.5 L1572.1,1275.5 L1572.1,1277.7 L1575.5,1277.7 L1575.5,1278.5 L1578.9,1278.5 L1578.9,1276.3 L1582.3,1276.3 L1582.3,1278.9 L1585.7,1278.9 L1585.7,1277.5 L1589.1,1277.5 L1589.1,1276.0 L1592.5,1276.0 L1592.5,1275.6 L1595.9,1275.6 L1595.9,1274.3 L1599.3,1274.3 L1599.3,1279.6 L1602.7,1279.6 L1602.7,1276.9 L1606.1,1276.9 L1606.1,1271.4 L1609.5,1271.4 L1609.5,1273.9 L1612.9,1273.9 L1612.9,1278.3 L1616.3,1278.3 L1616.3,1276.4 L1619.7,1276.4 L1619.7,1271.9 L1623.1,1271.9 L1623.1,1269.9 L1626.5,1269.9 L1626.5,1276.5 L1629.9,1276.5 L1629.9,1276.5 L1633.3,1276.5 L1633.3,1277.9 L1636.7,1277.9 L1636.7,1277.3 L1640.1,1277.3 L1640.1,1277.1 L1643.5,1277.1 L1643.5,1276.0 L1646.9,1276.0 L1646.9,1277.4 L1650.3,1277.4 L1650.3,1280.5 L1653.7,1280.5 L1653.7,1276.9 L1657.1,1276.9 L1657.1,1279.6 L1660.5,1279.6 L1660.5,1278.3 L1663.9,1278.3 L1663.9,1279.3 L1667.3,1279.3 L1667.3,1279.9 L1670.7,1279.9 L1670.7,1280.1 L1674.1,1280.1 L1674.1,1279.5 L1677.5,1279.5 L1677.5,1278.2 L1680.9,1278.2 L1680.9,1276.7 L1684.3,1276.7 L1684.3,1278.7 L1687.7,1278.7 L1687.7,1279.2 L1691.1,1279.2 L1691.1,1279.9 L1694.5,1279.9 L1694.5,1274.3 L1697.9,1274.3 L1697.9,1278.3 L1701.3,1278.3 L1701.3,1275.3 L1704.7,1275.3 L1704.7,1277.4 L1708.1,1277.4 L1708.1,1278.6 L1711.5,1278.6 L1711.5,1279.2 L1714.9,1279.2 L1714.9,1279.6 L1718.3,1279.6 L1718.3,1275.5 L1721.7,1275.5 L1721.7,1278.3 L1725.1,1278.3 L1725.1,1273.7 L1728.5,1273.7 L1728.5,1279.0 L1731.9,1279.0 L1731.9,1274.5 L1735.3,1274.5 L1735.3,1273.4 L1738.7,1273.4 L1738.7,1278.3 L1742.1,1278.3 L1742.1,1280.4 L1745.5,1280.4 L1745.5,1279.2 L1748.9,1279.2 L1748.9,1277.2 L1752.3,1277.2 L1752.3,1279.9 L1755.7,1279.9 L1755.7,1273.3 L1759.1,1273.3 L1759.1,1273.2 L1762.5,1273.2 L1762.5,1277.5 L1765.9,1277.5 L1765.9,1276.8 L1769.3,1276.8 L1769.3,1277.8 L1772.7,1277.8 L1772.7,1280.7 L1776.1,1280.7 L1776.1,1279.2 L1779.5,1279.2 L1779.5,1280.6 L1782.9,1280.6 L1782.9,1275.7 L1786.3,1275.7 L1786.3,1277.0 L1789.7,1277.0 L1789.7,1279.1 L1793.1,1279.1 L1793.1,1280.2 L1796.5,1280.2 L1796.5,1277.7 L1799.9,1277.7 L1799.9,1269.8 L1803.3,1269.8 L1803.3,1279.2 L1806.7,1279.2 L1806.7,1272.7 L1810.1,1272.7 L1810.1,1269.8 L1813.5,1269.8 L1813.5,1280.8 L1816.9,1280.8 L1816.9,1279.6 L1820.3,1279.6 L1820.3,1278.4 L1823.7,1278.4 L1823.7,1281.9 L1827.1,1281.9 L1827.1,1280.0 L1830.5,1280.0 L1830.5,1281.3 L1833.9,1281.3 L1833.9,1278.6 L1837.3,1278.6 L1837.3,1282.0 L1840.7,1282.0 L1840.7,1282.3 L1844.1,1282.3 L1844.1,1281.1 L1847.5,1281.1 L1847.5,1278.4 L1850.9,1278.4 L1850.9,1274.3 L1854.3,1274.3 L1854.3,1279.7 L1857.7,1279.7 L1857.7,1280.3 L1861.1,1280.3 L1861.1,1283.2 L1864.5,1283.2 L1864.5,1277.5 L1867.9,1277.5 L1867.9,1282.5 L1871.3,1282.5 L1871.3,1280.2 L1874.7,1280.2 L1874.7,1282.9 L1878.1,1282.9 L1878.1,1278.4 L1881.5,1278.4 L1881.5,1281.3 L1884.9,1281.3 L1884.9,1281.3 L1888.3,1281.3 L1888.3,1281.5 L1891.7,1281.5 L1891.7,1281.0 L1895.1,1281.0 L1895.1,1279.4 L1898.5,1279.4 L1898.5,1278.5 L1901.9,1278.5 L1901.9,1280.6 L1905.3,1280.6 L1905.3,1281.7 L1908.7,1281.7 L1908.7,1279.8 L1912.1,1279.8 L1912.1,1282.4 L1915.5,1282.4 L1915.5,1279.9 L1918.9,1279.9 L1918.9,1282.2 L1922.3,1282.2 L1922.3,1282.6 L1925.7,1282.6 L1925.7,1281.2 L1929.1,1281.2 L1929.1,1281.6 L1932.5,1281.6 L1932.5,1282.2 L1935.9,1282.2 L1935.9,1283.1 L1939.3,1283.1 L1939.3,1280.7 L1942.7,1280.7 L1942.7,1278.0 L1946.1,1278.0 L1946.1,1282.6 L1949.5,1282.6 L1949.5,1280.4 L1952.9,1280.4 L1952.9,1280.3 L1956.3,1280.3 L1956.3,1276.3 L1959.7,1276.3 L1959.7,1281.8 L1963.1,1281.8 L1963.1,1279.3 L1966.5,1279.3 L1966.5,1281.9 L1969.9,1281.9 L1969.9,1277.7 L1973.3,1277.7 L1973.3,1277.2 L1976.7,1277.2 L1976.7,1280.7 L1980.1,1280.7 L1980.1,1280.3 L1983.5,1280.3 L1983.5,1270.7 L1986.9,1270.7 L1986.9,1279.5 L1990.3,1279.5 L1990.3,1279.3 L1993.7,1279.3 L1993.7,1279.1 L1997.1,1279.1 L1997.1,1282.5 L2000.5,1282.5 L2000.5,1281.5 L2003.9,1281.5 L2003.9,1279.4 L2007.3,1279.4 L2007.3,1282.8 L2010.7,1282.8 L2010.7,1274.1 L2014.1,1274.1 L2014.1,1278.7 L2017.5,1278.7 L2017.5,1281.6 L2020.9,1281.6 L2020.9,1280.6 L2024.3,1280.6 L2024.3,1278.4 L2027.7,1278.4 L2027.7,1283.5 L2031.1,1283.5 L2031.1,1277.2 L2034.5,1277.2 L2034.5,1280.7 L2037.9,1280.7 L2037.9,1282.4 L2041.3,1282.4 L2041.3,1283.2 L2044.7,1283.2 L2044.7,1282.8 L2048.1,1282.8 L2048.1,1280.3 L2051.5,1280.3 L2051.5,1273.8 L2054.9,1273.8 L2054.9,1280.5 L2058.3,1280.5 L2058.3,1281.8 L2061.7,1281.8 L2061.7,1283.0 L2065.1,1283.0 L2065.1,1282.8 L2068.5,1282.8 L2068.5,1282.1 L2071.9,1282.1 L2071.9,1283.4 L2075.3,1283.4 L2075.3,1283.1 L2078.7,1283.1 L2078.7,1278.6 L2082.1,1278.6 L2082.1,1280.2 L2085.5,1280.2 L2085.5,1279.1 L2088.9,1279.1 L2088.9,1280.3 L2092.3,1280.3 L2092.3,1284.3 L2095.7,1284.3 L2095.7,1282.2 L2099.1,1282.2 L2099.1,1281.8 L2102.5,1281.8 L2102.5,1282.6 L2105.9,1282.6 L2105.9,1280.6 L2109.3,1280.6 L2109.3,1285.0 L2112.7,1285.0 L2112.7,1284.2 L2116.1,1284.2 L2116.1,1282.7 L2119.5,1282.7 L2119.5,1280.7 L2122.9,1280.7 L2122.9,1283.4 L2126.3,1283.4 L2126.3,1283.1 L2129.7,1283.1 L2129.7,1285.1 L2133.1,1285.1 L2133.1,1286.0 L2136.5,1286.0 L2136.5,1285.5 L2139.9,1285.5 L2139.9,1278.3 L2143.3,1278.3 L2143.3,1280.0 L2146.7,1280.0 L2146.7,1281.6 L2150.1,1281.6 L2150.1,1284.7 L2153.5,1284.7 L2153.5,1279.4 L2156.9,1279.4 L2156.9,1285.1 L2160.3,1285.1 L2160.3,1285.3 L2163.7,1285.3 L2163.7,1280.2 L2167.1,1280.2 L2167.1,1281.2 L2170.5,1281.2 L2170.5,1285.8 L2173.9,1285.8 L2173.9,1282.8 L2177.3,1282.8 L2177.3,1285.0 L2180.7,1285.0 L2180.7,1284.7 L2184.1,1284.7 L2184.1,1285.0 L2187.5,1285.0 L2187.5,1279.5 L2190.9,1279.5 L2190.9,1282.8 L2194.3,1282.8 L2194.3,1284.0 L2197.7,1284.0 L2197.7,1284.5 L2201.1,1284.5 L2201.1,1284.6 L2204.5,1284.6 L2204.5,1278.9 L2207.9,1278.9 L2207.9,1285.1 L2211.3,1285.1 L2211.3,1277.3 L2214.7,1277.3 L2214.7,1276.2 L2218.1,1276.2 L2218.1,1280.8 L2221.5,1280.8 L2221.5,1278.1 L2224.9,1278.1 L2224.9,1283.8 L2228.3,1283.8 L2228.3,1278.2 L2231.7,1278.2 L2231.7,1285.8 L2235.1,1285.8 L2235.1,1282.3 L2238.5,1282.3 L2238.5,1281.5 L2241.9,1281.5 L2241.9,1282.8 L2245.3,1282.8 L2245.3,1276.5 L2248.7,1276.5 L2248.7,1281.8 L2252.1,1281.8 L2252.1,1284.7 L2255.5,1284.7 L2255.5,1279.2 L2258.9,1279.2 L2258.9,1285.8 L2262.3,1285.8 L2262.3,1283.3 L2265.7,1283.3 L2265.7,1279.4 L2269.1,1279.4 L2269.1,1283.7 L2272.5,1283.7 L2272.5,1279.3 L2275.9,1279.3 L2275.9,1280.9 L2279.3,1280.9 L2279.3,1285.5 L2282.7,1285.5 L2282.7,1279.9 L2286.1,1279.9 L2286.1,1283.0 L2289.5,1283.0 L2289.5,1286.1 L2292.9,1286.1 L2292.9,1284.8 L2296.3,1284.8 L2296.3,1279.3 L2299.7,1279.3 L2299.7,1284.1 L2303.1,1284.1 L2303.1,1285.6 L2306.5,1285.6 L2306.5,1283.9 L2309.9,1283.9 L2309.9,1285.0 L2313.3,1285.0 L2313.3,1284.0 L2316.7,1284.0 L2316.7,1287.2 L2320.1,1287.2 L2320.1,1287.0 L2323.5,1287.0 L2323.5,1281.4 L2326.9,1281.4 L2326.9,1286.8 L2330.3,1286.8 L2330.3,1284.4 L2333.7,1284.4 L2333.7,1285.9 L2337.1,1285.9 L2337.1,1285.8 L2340.5,1285.8 L2340.5,1285.6 L2343.9,1285.6 L2343.9,1286.0 L2347.3,1286.0 L2347.3,1282.4 L2350.7,1282.4 L2350.7,1286.3 L2354.1,1286.3 L2354.1,1287.4 L2357.5,1287.4 L2357.5,1287.6 L2360.9,1287.6 L2360.9,1275.8 L2364.3,1275.8 L2364.3,1286.5 L2367.7,1286.5 L2367.7,1285.4 L2371.1,1285.4 L2371.1,1285.1 L2374.5,1285.1 L2374.5,1283.6 L2377.9,1283.6 L2377.9,1286.9 L2381.3,1286.9 L2381.3,1286.4 L2384.7,1286.4 L2384.7,1283.2 L2388.1,1283.2 L2388.1,1286.2 L2391.5,1286.2 L2391.5,1283.6 L2394.9,1283.6 L2394.9,1287.7 L2398.3,1287.7 L2398.3,1282.2 L2401.7,1282.2 L2401.7,1308.0 L2398.3,1308.0 L2398.3,1310.6 L2394.9,1310.6 L2394.9,1307.9 L2391.5,1307.9 L2391.5,1309.0 L2388.1,1309.0 L2388.1,1307.9 L2384.7,1307.9 L2384.7,1308.5 L2381.3,1308.5 L2381.3,1308.1 L2377.9,1308.1 L2377.9,1312.3 L2374.5,1312.3 L2374.5,1307.3 L2371.1,1307.3 L2371.1,1318.1 L2367.7,1318.1 L2367.7,1310.9 L2364.3,1310.9 L2364.3,1308.5 L2360.9,1308.5 L2360.9,1313.5 L2357.5,1313.5 L2357.5,1307.6 L2354.1,1307.6 L2354.1,1311.5 L2350.7,1311.5 L2350.7,1307.1 L2347.3,1307.1 L2347.3,1311.1 L2343.9,1311.1 L2343.9,1307.6 L2340.5,1307.6 L2340.5,1306.7 L2337.1,1306.7 L2337.1,1307.6 L2333.7,1307.6 L2333.7,1307.4 L2330.3,1307.4 L2330.3,1308.0 L2326.9,1308.0 L2326.9,1307.6 L2323.5,1307.6 L2323.5,1308.6 L2320.1,1308.6 L2320.1,1307.2 L2316.7,1307.2 L2316.7,1308.6 L2313.3,1308.6 L2313.3,1309.0 L2309.9,1309.0 L2309.9,1313.7 L2306.5,1313.7 L2306.5,1310.8 L2303.1,1310.8 L2303.1,1309.9 L2299.7,1309.9 L2299.7,1310.1 L2296.3,1310.1 L2296.3,1316.1 L2292.9,1316.1 L2292.9,1308.6 L2289.5,1308.6 L2289.5,1307.9 L2286.1,1307.9 L2286.1,1314.8 L2282.7,1314.8 L2282.7,1309.7 L2279.3,1309.7 L2279.3,1313.0 L2275.9,1313.0 L2275.9,1308.3 L2272.5,1308.3 L2272.5,1313.5 L2269.1,1313.5 L2269.1,1308.0 L2265.7,1308.0 L2265.7,1307.6 L2262.3,1307.6 L2262.3,1308.7 L2258.9,1308.7 L2258.9,1311.8 L2255.5,1311.8 L2255.5,1312.1 L2252.1,1312.1 L2252.1,1307.3 L2248.7,1307.3 L2248.7,1307.0 L2245.3,1307.0 L2245.3,1306.6 L2241.9,1306.6 L2241.9,1308.8 L2238.5,1308.8 L2238.5,1308.8 L2235.1,1308.8 L2235.1,1310.8 L2231.7,1310.8 L2231.7,1311.3 L2228.3,1311.3 L2228.3,1307.5 L2224.9,1307.5 L2224.9,1311.9 L2221.5,1311.9 L2221.5,1309.7 L2218.1,1309.7 L2218.1,1308.0 L2214.7,1308.0 L2214.7,1308.8 L2211.3,1308.8 L2211.3,1309.2 L2207.9,1309.2 L2207.9,1307.6 L2204.5,1307.6 L2204.5,1311.9 L2201.1,1311.9 L2201.1,1310.3 L2197.7,1310.3 L2197.7,1309.6 L2194.3,1309.6 L2194.3,1308.5 L2190.9,1308.5 L2190.9,1308.9 L2187.5,1308.9 L2187.5,1310.1 L2184.1,1310.1 L2184.1,1306.7 L2180.7,1306.7 L2180.7,1313.1 L2177.3,1313.1 L2177.3,1307.6 L2173.9,1307.6 L2173.9,1308.6 L2170.5,1308.6 L2170.5,1308.4 L2167.1,1308.4 L2167.1,1312.5 L2163.7,1312.5 L2163.7,1306.1 L2160.3,1306.1 L2160.3,1308.3 L2156.9,1308.3 L2156.9,1309.2 L2153.5,1309.2 L2153.5,1308.2 L2150.1,1308.2 L2150.1,1309.0 L2146.7,1309.0 L2146.7,1304.8 L2143.3,1304.8 L2143.3,1308.7 L2139.9,1308.7 L2139.9,1309.5 L2136.5,1309.5 L2136.5,1306.1 L2133.1,1306.1 L2133.1,1304.5 L2129.7,1304.5 L2129.7,1305.2 L2126.3,1305.2 L2126.3,1307.2 L2122.9,1307.2 L2122.9,1313.5 L2119.5,1313.5 L2119.5,1304.6 L2116.1,1304.6 L2116.1,1306.8 L2112.7,1306.8 L2112.7,1308.1 L2109.3,1308.1 L2109.3,1304.8 L2105.9,1304.8 L2105.9,1305.0 L2102.5,1305.0 L2102.5,1308.5 L2099.1,1308.5 L2099.1,1305.2 L2095.7,1305.2 L2095.7,1307.4 L2092.3,1307.4 L2092.3,1305.2 L2088.9,1305.2 L2088.9,1310.6 L2085.5,1310.6 L2085.5,1308.4 L2082.1,1308.4 L2082.1,1305.4 L2078.7,1305.4 L2078.7,1306.7 L2075.3,1306.7 L2075.3,1304.6 L2071.9,1304.6 L2071.9,1307.5 L2068.5,1307.5 L2068.5,1307.0 L2065.1,1307.0 L2065.1,1316.9 L2061.7,1316.9 L2061.7,1306.0 L2058.3,1306.0 L2058.3,1305.4 L2054.9,1305.4 L2054.9,1307.4 L2051.5,1307.4 L2051.5,1308.9 L2048.1,1308.9 L2048.1,1304.9 L2044.7,1304.9 L2044.7,1304.5 L2041.3,1304.5 L2041.3,1308.3 L2037.9,1308.3 L2037.9,1305.8 L2034.5,1305.8 L2034.5,1315.2 L2031.1,1315.2 L2031.1,1306.8 L2027.7,1306.8 L2027.7,1308.2 L2024.3,1308.2 L2024.3,1305.7 L2020.9,1305.7 L2020.9,1306.0 L2017.5,1306.0 L2017.5,1306.6 L2014.1,1306.6 L2014.1,1306.8 L2010.7,1306.8 L2010.7,1304.9 L2007.3,1304.9 L2007.3,1309.1 L2003.9,1309.1 L2003.9,1306.3 L2000.5,1306.3 L2000.5,1310.1 L1997.1,1310.1 L1997.1,1309.5 L1993.7,1309.5 L1993.7,1306.4 L1990.3,1306.4 L1990.3,1304.5 L1986.9,1304.5 L1986.9,1306.0 L1983.5,1306.0 L1983.5,1307.6 L1980.1,1307.6 L1980.1,1307.2 L1976.7,1307.2 L1976.7,1303.7 L1973.3,1303.7 L1973.3,1309.2 L1969.9,1309.2 L1969.9,1308.2 L1966.5,1308.2 L1966.5,1306.3 L1963.1,1306.3 L1963.1,1306.1 L1959.7,1306.1 L1959.7,1304.5 L1956.3,1304.5 L1956.3,1307.0 L1952.9,1307.0 L1952.9,1303.1 L1949.5,1303.1 L1949.5,1307.3 L1946.1,1307.3 L1946.1,1304.4 L1942.7,1304.4 L1942.7,1307.0 L1939.3,1307.0 L1939.3,1303.4 L1935.9,1303.4 L1935.9,1304.6 L1932.5,1304.6 L1932.5,1304.4 L1929.1,1304.4 L1929.1,1307.3 L1925.7,1307.3 L1925.7,1306.1 L1922.3,1306.1 L1922.3,1304.3 L1918.9,1304.3 L1918.9,1308.4 L1915.5,1308.4 L1915.5,1303.8 L1912.1,1303.8 L1912.1,1307.2 L1908.7,1307.2 L1908.7,1308.3 L1905.3,1308.3 L1905.3,1311.8 L1901.9,1311.8 L1901.9,1303.3 L1898.5,1303.3 L1898.5,1309.5 L1895.1,1309.5 L1895.1,1308.6 L1891.7,1308.6 L1891.7,1303.0 L1888.3,1303.0 L1888.3,1309.0 L1884.9,1309.0 L1884.9,1302.1 L1881.5,1302.1 L1881.5,1306.2 L1878.1,1306.2 L1878.1,1302.5 L1874.7,1302.5 L1874.7,1306.4 L1871.3,1306.4 L1871.3,1309.2 L1867.9,1309.2 L1867.9,1306.7 L1864.5,1306.7 L1864.5,1305.5 L1861.1,1305.5 L1861.1,1304.3 L1857.7,1304.3 L1857.7,1302.2 L1854.3,1302.2 L1854.3,1304.1 L1850.9,1304.1 L1850.9,1302.7 L1847.5,1302.7 L1847.5,1303.5 L1844.1,1303.5 L1844.1,1303.3 L1840.7,1303.3 L1840.7,1303.3 L1837.3,1303.3 L1837.3,1306.3 L1833.9,1306.3 L1833.9,1302.2 L1830.5,1302.2 L1830.5,1309.2 L1827.1,1309.2 L1827.1,1305.0 L1823.7,1305.0 L1823.7,1305.1 L1820.3,1305.1 L1820.3,1305.5 L1816.9,1305.5 L1816.9,1311.7 L1813.5,1311.7 L1813.5,1307.8 L1810.1,1307.8 L1810.1,1304.5 L1806.7,1304.5 L1806.7,1307.7 L1803.3,1307.7 L1803.3,1302.8 L1799.9,1302.8 L1799.9,1303.4 L1796.5,1303.4 L1796.5,1308.0 L1793.1,1308.0 L1793.1,1303.6 L1789.7,1303.6 L1789.7,1303.5 L1786.3,1303.5 L1786.3,1302.4 L1782.9,1302.4 L1782.9,1302.0 L1779.5,1302.0 L1779.5,1305.4 L1776.1,1305.4 L1776.1,1312.1 L1772.7,1312.1 L1772.7,1313.4 L1769.3,1313.4 L1769.3,1308.1 L1765.9,1308.1 L1765.9,1304.2 L1762.5,1304.2 L1762.5,1306.9 L1759.1,1306.9 L1759.1,1302.5 L1755.7,1302.5 L1755.7,1303.2 L1752.3,1303.2 L1752.3,1307.0 L1748.9,1307.0 L1748.9,1302.6 L1745.5,1302.6 L1745.5,1302.1 L1742.1,1302.1 L1742.1,1314.0 L1738.7,1314.0 L1738.7,1306.5 L1735.3,1306.5 L1735.3,1301.4 L1731.9,1301.4 L1731.9,1303.9 L1728.5,1303.9 L1728.5,1307.2 L1725.1,1307.2 L1725.1,1304.0 L1721.7,1304.0 L1721.7,1304.7 L1718.3,1304.7 L1718.3,1315.5 L1714.9,1315.5 L1714.9,1310.1 L1711.5,1310.1 L1711.5,1308.2 L1708.1,1308.2 L1708.1,1301.9 L1704.7,1301.9 L1704.7,1306.1 L1701.3,1306.1 L1701.3,1304.8 L1697.9,1304.8 L1697.9,1303.4 L1694.5,1303.4 L1694.5,1306.5 L1691.1,1306.5 L1691.1,1300.5 L1687.7,1300.5 L1687.7,1303.3 L1684.3,1303.3 L1684.3,1300.7 L1680.9,1300.7 L1680.9,1301.4 L1677.5,1301.4 L1677.5,1301.2 L1674.1,1301.2 L1674.1,1307.8 L1670.7,1307.8 L1670.7,1302.2 L1667.3,1302.2 L1667.3,1299.5 L1663.9,1299.5 L1663.9,1300.4 L1660.5,1300.4 L1660.5,1302.1 L1657.1,1302.1 L1657.1,1309.0 L1653.7,1309.0 L1653.7,1306.4 L1650.3,1306.4 L1650.3,1304.7 L1646.9,1304.7 L1646.9,1302.7 L1643.5,1302.7 L1643.5,1301.0 L1640.1,1301.0 L1640.1,1301.7 L1636.7,1301.7 L1636.7,1304.2 L1633.3,1304.2 L1633.3,1300.3 L1629.9,1300.3 L1629.9,1299.6 L1626.5,1299.6 L1626.5,1300.8 L1623.1,1300.8 L1623.1,1300.1 L1619.7,1300.1 L1619.7,1299.7 L1616.3,1299.7 L1616.3,1310.1 L1612.9,1310.1 L1612.9,1299.4 L1609.5,1299.4 L1609.5,1301.7 L1606.1,1301.7 L1606.1,1306.0 L1602.7,1306.0 L1602.7,1307.4 L1599.3,1307.4 L1599.3,1301.0 L1595.9,1301.0 L1595.9,1306.6 L1592.5,1306.6 L1592.5,1307.9 L1589.1,1307.9 L1589.1,1298.5 L1585.7,1298.5 L1585.7,1299.7 L1582.3,1299.7 L1582.3,1298.8 L1578.9,1298.8 L1578.9,1299.1 L1575.5,1299.1 L1575.5,1299.4 L1572.1,1299.4 L1572.1,1298.7 L1568.7,1298.7 L1568.7,1298.5 L1565.3,1298.5 L1565.3,1300.4 L1561.9,1300.4 L1561.9,1301.2 L1558.5,1301.2 L1558.5,1298.6 L1555.1,1298.6 L1555.1,1307.0 L1551.7,1307.0 L1551.7,1304.3 L1548.3,1304.3 L1548.3,1304.9 L1544.9,1304.9 L1544.9,1304.9 L1541.5,1304.9 L1541.5,1313.2 L1538.1,1313.2 L1538.1,1303.0 L1534.7,1303.0 L1534.7,1299.9 L1531.3,1299.9 L1531.3,1303.1 L1527.9,1303.1 L1527.9,1300.8 L1524.5,1300.8 L1524.5,1306.4 L1521.1,1306.4 L1521.1,1301.0 L1517.7,1301.0 L1517.7,1301.2 L1514.3,1301.2 L1514.3,1311.2 L1510.9,1311.2 L1510.9,1308.3 L1507.5,1308.3 L1507.5,1301.5 L1504.1,1301.5 L1504.1,1299.9 L1500.7,1299.9 L1500.7,1303.8 L1497.3,1303.8 L1497.3,1308.3 L1493.9,1308.3 L1493.9,1300.2 L1490.5,1300.2 L1490.5,1299.4 L1487.1,1299.4 L1487.1,1299.9 L1483.7,1299.9 L1483.7,1304.1 L1480.3,1304.1 L1480.3,1298.6 L1476.9,1298.6 L1476.9,1301.2 L1473.5,1301.2 L1473.5,1300.5 L1470.1,1300.5 L1470.1,1297.8 L1466.7,1297.8 L1466.7,1304.0 L1463.3,1304.0Z" fill="#0808f4"/>
<line x1="1463.30" y1="1287.80" x2="2403.70" y2="1298.00" stroke="#141470" stroke-width="9.0" stroke-linecap="butt"/>
<line x1="1463.30" y1="1287.80" x2="2403.70" y2="1298.00" stroke="#e6e29a" stroke-width="4.4" stroke-linecap="butt"/>
<path d="M1463.3,1432.7 L1466.7,1432.7 L1466.7,1431.4 L1470.1,1431.4 L1470.1,1426.8 L1473.5,1426.8 L1473.5,1432.9 L1476.9,1432.9 L1476.9,1432.3 L1480.3,1432.3 L1480.3,1427.6 L1483.7,1427.6 L1483.7,1431.6 L1487.1,1431.6 L1487.1,1430.8 L1490.5,1430.8 L1490.5,1429.1 L1493.9,1429.1 L1493.9,1421.8 L1497.3,1421.8 L1497.3,1429.8 L1500.7,1429.8 L1500.7,1432.2 L1504.1,1432.2 L1504.1,1430.0 L1507.5,1430.0 L1507.5,1432.1 L1510.9,1432.1 L1510.9,1430.5 L1514.3,1430.5 L1514.3,1430.2 L1517.7,1430.2 L1517.7,1431.6 L1521.1,1431.6 L1521.1,1428.1 L1524.5,1428.1 L1524.5,1432.2 L1527.9,1432.2 L1527.9,1430.0 L1531.3,1430.0 L1531.3,1429.4 L1534.7,1429.4 L1534.7,1433.3 L1538.1,1433.3 L1538.1,1429.7 L1541.5,1429.7 L1541.5,1432.6 L1544.9,1432.6 L1544.9,1432.0 L1548.3,1432.0 L1548.3,1433.0 L1551.7,1433.0 L1551.7,1431.2 L1555.1,1431.2 L1555.1,1431.7 L1558.5,1431.7 L1558.5,1432.0 L1561.9,1432.0 L1561.9,1432.3 L1565.3,1432.3 L1565.3,1430.5 L1568.7,1430.5 L1568.7,1432.8 L1572.1,1432.8 L1572.1,1427.0 L1575.5,1427.0 L1575.5,1424.8 L1578.9,1424.8 L1578.9,1422.7 L1582.3,1422.7 L1582.3,1426.4 L1585.7,1426.4 L1585.7,1431.2 L1589.1,1431.2 L1589.1,1430.1 L1592.5,1430.1 L1592.5,1431.2 L1595.9,1431.2 L1595.9,1431.4 L1599.3,1431.4 L1599.3,1430.5 L1602.7,1430.5 L1602.7,1430.4 L1606.1,1430.4 L1606.1,1430.3 L1609.5,1430.3 L1609.5,1430.8 L1612.9,1430.8 L1612.9,1426.2 L1616.3,1426.2 L1616.3,1431.6 L1619.7,1431.6 L1619.7,1427.1 L1623.1,1427.1 L1623.1,1432.6 L1626.5,1432.6 L1626.5,1428.3 L1629.9,1428.3 L1629.9,1434.3 L1633.3,1434.3 L1633.3,1433.4 L1636.7,1433.4 L1636.7,1433.3 L1640.1,1433.3 L1640.1,1434.1 L1643.5,1434.1 L1643.5,1431.5 L1646.9,1431.5 L1646.9,1431.6 L1650.3,1431.6 L1650.3,1427.7 L1653.7,1427.7 L1653.7,1426.4 L1657.1,1426.4 L1657.1,1432.3 L1660.5,1432.3 L1660.5,1423.9 L1663.9,1423.9 L1663.9,1428.1 L1667.3,1428.1 L1667.3,1428.6 L1670.7,1428.6 L1670.7,1433.2 L1674.1,1433.2 L1674.1,1432.5 L1677.5,1432.5 L1677.5,1432.0 L1680.9,1432.0 L1680.9,1429.6 L1684.3,1429.6 L1684.3,1431.8 L1687.7,1431.8 L1687.7,1431.6 L1691.1,1431.6 L1691.1,1432.8 L1694.5,1432.8 L1694.5,1433.3 L1697.9,1433.3 L1697.9,1433.8 L1701.3,1433.8 L1701.3,1432.6 L1704.7,1432.6 L1704.7,1433.6 L1708.1,1433.6 L1708.1,1434.1 L1711.5,1434.1 L1711.5,1430.5 L1714.9,1430.5 L1714.9,1431.3 L1718.3,1431.3 L1718.3,1432.4 L1721.7,1432.4 L1721.7,1431.0 L1725.1,1431.0 L1725.1,1430.8 L1728.5,1430.8 L1728.5,1431.7 L1731.9,1431.7 L1731.9,1433.9 L1735.3,1433.9 L1735.3,1431.8 L1738.7,1431.8 L1738.7,1425.7 L1742.1,1425.7 L1742.1,1429.4 L1745.5,1429.4 L1745.5,1433.2 L1748.9,1433.2 L1748.9,1430.3 L1752.3,1430.3 L1752.3,1426.6 L1755.7,1426.6 L1755.7,1431.5 L1759.1,1431.5 L1759.1,1429.7 L1762.5,1429.7 L1762.5,1430.9 L1765.9,1430.9 L1765.9,1432.4 L1769.3,1432.4 L1769.3,1426.6 L1772.7,1426.6 L1772.7,1430.0 L1776.1,1430.0 L1776.1,1432.8 L1779.5,1432.8 L1779.5,1430.2 L1782.9,1430.2 L1782.9,1432.9 L1786.3,1432.9 L1786.3,1431.9 L1789.7,1431.9 L1789.7,1431.9 L1793.1,1431.9 L1793.1,1431.6 L1796.5,1431.6 L1796.5,1432.8 L1799.9,1432.8 L1799.9,1433.3 L1803.3,1433.3 L1803.3,1432.4 L1806.7,1432.4 L1806.7,1428.7 L1810.1,1428.7 L1810.1,1431.9 L1813.5,1431.9 L1813.5,1430.7 L1816.9,1430.7 L1816.9,1428.2 L1820.3,1428.2 L1820.3,1432.5 L1823.7,1432.5 L1823.7,1433.7 L1827.1,1433.7 L1827.1,1431.2 L1830.5,1431.2 L1830.5,1431.4 L1833.9,1431.4 L1833.9,1431.9 L1837.3,1431.9 L1837.3,1433.2 L1840.7,1433.2 L1840.7,1433.2 L1844.1,1433.2 L1844.1,1430.3 L1847.5,1430.3 L1847.5,1426.5 L1850.9,1426.5 L1850.9,1432.4 L1854.3,1432.4 L1854.3,1432.2 L1857.7,1432.2 L1857.7,1431.5 L1861.1,1431.5 L1861.1,1432.3 L1864.5,1432.3 L1864.5,1432.4 L1867.9,1432.4 L1867.9,1433.0 L1871.3,1433.0 L1871.3,1429.0 L1874.7,1429.0 L1874.7,1429.4 L1878.1,1429.4 L1878.1,1422.1 L1881.5,1422.1 L1881.5,1433.0 L1884.9,1433.0 L1884.9,1430.6 L1888.3,1430.6 L1888.3,1430.9 L1891.7,1430.9 L1891.7,1433.5 L1895.1,1433.5 L1895.1,1430.7 L1898.5,1430.7 L1898.5,1430.4 L1901.9,1430.4 L1901.9,1433.9 L1905.3,1433.9 L1905.3,1434.6 L1908.7,1434.6 L1908.7,1429.5 L1912.1,1429.5 L1912.1,1430.5 L1915.5,1430.5 L1915.5,1433.2 L1918.9,1433.2 L1918.9,1433.4 L1922.3,1433.4 L1922.3,1429.9 L1925.7,1429.9 L1925.7,1430.8 L1929.1,1430.8 L1929.1,1432.4 L1932.5,1432.4 L1932.5,1434.1 L1935.9,1434.1 L1935.9,1433.2 L1939.3,1433.2 L1939.3,1433.8 L1942.7,1433.8 L1942.7,1428.7 L1946.1,1428.7 L1946.1,1433.7 L1949.5,1433.7 L1949.5,1433.2 L1952.9,1433.2 L1952.9,1430.7 L1956.3,1430.7 L1956.3,1431.7 L1959.7,1431.7 L1959.7,1432.5 L1963.1,1432.5 L1963.1,1433.2 L1966.5,1433.2 L1966.5,1434.0 L1969.9,1434.0 L1969.9,1431.8 L1973.3,1431.8 L1973.3,1431.4 L1976.7,1431.4 L1976.7,1431.1 L1980.1,1431.1 L1980.1,1433.3 L1983.5,1433.3 L1983.5,1431.9 L1986.9,1431.9 L1986.9,1433.5 L1990.3,1433.5 L1990.3,1432.1 L1993.7,1432.1 L1993.7,1432.5 L1997.1,1432.5 L1997.1,1432.3 L2000.5,1432.3 L2000.5,1433.4 L2003.9,1433.4 L2003.9,1430.4 L2007.3,1430.4 L2007.3,1432.0 L2010.7,1432.0 L2010.7,1433.2 L2014.1,1433.2 L2014.1,1432.0 L2017.5,1432.0 L2017.5,1432.4 L2020.9,1432.4 L2020.9,1431.7 L2024.3,1431.7 L2024.3,1428.3 L2027.7,1428.3 L2027.7,1432.0 L2031.1,1432.0 L2031.1,1428.9 L2034.5,1428.9 L2034.5,1430.7 L2037.9,1430.7 L2037.9,1430.3 L2041.3,1430.3 L2041.3,1428.3 L2044.7,1428.3 L2044.7,1430.6 L2048.1,1430.6 L2048.1,1432.7 L2051.5,1432.7 L2051.5,1430.7 L2054.9,1430.7 L2054.9,1428.5 L2058.3,1428.5 L2058.3,1433.2 L2061.7,1433.2 L2061.7,1430.1 L2065.1,1430.1 L2065.1,1431.6 L2068.5,1431.6 L2068.5,1433.2 L2071.9,1433.2 L2071.9,1429.6 L2075.3,1429.6 L2075.3,1433.7 L2078.7,1433.7 L2078.7,1433.6 L2082.1,1433.6 L2082.1,1430.5 L2085.5,1430.5 L2085.5,1427.9 L2088.9,1427.9 L2088.9,1431.0 L2092.3,1431.0 L2092.3,1432.9 L2095.7,1432.9 L2095.7,1432.3 L2099.1,1432.3 L2099.1,1430.7 L2102.5,1430.7 L2102.5,1434.2 L2105.9,1434.2 L2105.9,1430.7 L2109.3,1430.7 L2109.3,1429.8 L2112.7,1429.8 L2112.7,1430.1 L2116.1,1430.1 L2116.1,1433.7 L2119.5,1433.7 L2119.5,1434.3 L2122.9,1434.3 L2122.9,1431.1 L2126.3,1431.1 L2126.3,1433.4 L2129.7,1433.4 L2129.7,1432.6 L2133.1,1432.6 L2133.1,1431.0 L2136.5,1431.0 L2136.5,1429.3 L2139.9,1429.3 L2139.9,1434.0 L2143.3,1434.0 L2143.3,1433.6 L2146.7,1433.6 L2146.7,1432.6 L2150.1,1432.6 L2150.1,1433.3 L2153.5,1433.3 L2153.5,1434.1 L2156.9,1434.1 L2156.9,1429.5 L2160.3,1429.5 L2160.3,1434.2 L2163.7,1434.2 L2163.7,1432.4 L2167.1,1432.4 L2167.1,1433.8 L2170.5,1433.8 L2170.5,1432.8 L2173.9,1432.8 L2173.9,1429.3 L2177.3,1429.3 L2177.3,1432.4 L2180.7,1432.4 L2180.7,1431.4 L2184.1,1431.4 L2184.1,1431.7 L2187.5,1431.7 L2187.5,1433.0 L2190.9,1433.0 L2190.9,1432.4 L2194.3,1432.4 L2194.3,1435.2 L2197.7,1435.2 L2197.7,1430.7 L2201.1,1430.7 L2201.1,1433.1 L2204.5,1433.1 L2204.5,1432.7 L2207.9,1432.7 L2207.9,1430.1 L2211.3,1430.1 L2211.3,1432.6 L2214.7,1432.6 L2214.7,1434.2 L2218.1,1434.2 L2218.1,1432.2 L2221.5,1432.2 L2221.5,1434.5 L2224.9,1434.5 L2224.9,1430.2 L2228.3,1430.2 L2228.3,1430.7 L2231.7,1430.7 L2231.7,1431.3 L2235.1,1431.3 L2235.1,1429.8 L2238.5,1429.8 L2238.5,1429.3 L2241.9,1429.3 L2241.9,1429.6 L2245.3,1429.6 L2245.3,1432.2 L2248.7,1432.2 L2248.7,1430.5 L2252.1,1430.5 L2252.1,1424.8 L2255.5,1424.8 L2255.5,1428.6 L2258.9,1428.6 L2258.9,1431.4 L2262.3,1431.4 L2262.3,1430.4 L2265.7,1430.4 L2265.7,1431.8 L2269.1,1431.8 L2269.1,1432.8 L2272.5,1432.8 L2272.5,1432.7 L2275.9,1432.7 L2275.9,1434.0 L2279.3,1434.0 L2279.3,1433.3 L2282.7,1433.3 L2282.7,1433.2 L2286.1,1433.2 L2286.1,1421.5 L2289.5,1421.5 L2289.5,1429.5 L2292.9,1429.5 L2292.9,1433.1 L2296.3,1433.1 L2296.3,1431.3 L2299.7,1431.3 L2299.7,1433.1 L2303.1,1433.1 L2303.1,1433.3 L2306.5,1433.3 L2306.5,1433.1 L2309.9,1433.1 L2309.9,1434.0 L2313.3,1434.0 L2313.3,1430.7 L2316.7,1430.7 L2316.7,1432.9 L2320.1,1432.9 L2320.1,1429.1 L2323.5,1429.1 L2323.5,1430.3 L2326.9,1430.3 L2326.9,1432.6 L2330.3,1432.6 L2330.3,1431.7 L2333.7,1431.7 L2333.7,1433.2 L2337.1,1433.2 L2337.1,1428.1 L2340.5,1428.1 L2340.5,1430.3 L2343.9,1430.3 L2343.9,1429.9 L2347.3,1429.9 L2347.3,1432.0 L2350.7,1432.0 L2350.7,1427.3 L2354.1,1427.3 L2354.1,1429.3 L2357.5,1429.3 L2357.5,1426.4 L2360.9,1426.4 L2360.9,1431.3 L2364.3,1431.3 L2364.3,1430.6 L2367.7,1430.6 L2367.7,1432.4 L2371.1,1432.4 L2371.1,1432.2 L2374.5,1432.2 L2374.5,1424.5 L2377.9,1424.5 L2377.9,1429.5 L2381.3,1429.5 L2381.3,1434.6 L2384.7,1434.6 L2384.7,1429.5 L2388.1,1429.5 L2388.1,1433.3 L2391.5,1433.3 L2391.5,1433.4 L2394.9,1433.4 L2394.9,1434.7 L2398.3,1434.7 L2398.3,1431.8 L2401.7,1431.8 L2401.7,1454.0 L2398.3,1454.0 L2398.3,1456.6 L2394.9,1456.6 L2394.9,1452.4 L2391.5,1452.4 L2391.5,1456.2 L2388.1,1456.2 L2388.1,1454.7 L2384.7,1454.7 L2384.7,1452.2 L2381.3,1452.2 L2381.3,1455.9 L2377.9,1455.9 L2377.9,1458.2 L2374.5,1458.2 L2374.5,1462.6 L2371.1,1462.6 L2371.1,1458.7 L2367.7,1458.7 L2367.7,1453.0 L2364.3,1453.0 L2364.3,1453.1 L2360.9,1453.1 L2360.9,1457.8 L2357.5,1457.8 L2357.5,1455.3 L2354.1,1455.3 L2354.1,1455.7 L2350.7,1455.7 L2350.7,1458.5 L2347.3,1458.5 L2347.3,1454.0 L2343.9,1454.0 L2343.9,1459.4 L2340.5,1459.4 L2340.5,1454.7 L2337.1,1454.7 L2337.1,1460.5 L2333.7,1460.5 L2333.7,1455.3 L2330.3,1455.3 L2330.3,1456.1 L2326.9,1456.1 L2326.9,1453.6 L2323.5,1453.6 L2323.5,1458.6 L2320.1,1458.6 L2320.1,1455.1 L2316.7,1455.1 L2316.7,1453.8 L2313.3,1453.8 L2313.3,1453.5 L2309.9,1453.5 L2309.9,1454.2 L2306.5,1454.2 L2306.5,1461.1 L2303.1,1461.1 L2303.1,1457.4 L2299.7,1457.4 L2299.7,1459.2 L2296.3,1459.2 L2296.3,1454.0 L2292.9,1454.0 L2292.9,1454.8 L2289.5,1454.8 L2289.5,1459.2 L2286.1,1459.2 L2286.1,1456.9 L2282.7,1456.9 L2282.7,1454.4 L2279.3,1454.4 L2279.3,1459.4 L2275.9,1459.4 L2275.9,1456.1 L2272.5,1456.1 L2272.5,1454.0 L2269.1,1454.0 L2269.1,1457.2 L2265.7,1457.2 L2265.7,1456.4 L2262.3,1456.4 L2262.3,1457.8 L2258.9,1457.8 L2258.9,1456.0 L2255.5,1456.0 L2255.5,1455.0 L2252.1,1455.0 L2252.1,1456.9 L2248.7,1456.9 L2248.7,1457.0 L2245.3,1457.0 L2245.3,1455.4 L2241.9,1455.4 L2241.9,1453.9 L2238.5,1453.9 L2238.5,1453.6 L2235.1,1453.6 L2235.1,1455.6 L2231.7,1455.6 L2231.7,1457.7 L2228.3,1457.7 L2228.3,1453.4 L2224.9,1453.4 L2224.9,1452.8 L2221.5,1452.8 L2221.5,1452.5 L2218.1,1452.5 L2218.1,1455.0 L2214.7,1455.0 L2214.7,1453.9 L2211.3,1453.9 L2211.3,1452.3 L2207.9,1452.3 L2207.9,1457.3 L2204.5,1457.3 L2204.5,1456.7 L2201.1,1456.7 L2201.1,1451.9 L2197.7,1451.9 L2197.7,1452.1 L2194.3,1452.1 L2194.3,1455.9 L2190.9,1455.9 L2190.9,1451.8 L2187.5,1451.8 L2187.5,1451.7 L2184.1,1451.7 L2184.1,1451.8 L2180.7,1451.8 L2180.7,1454.4 L2177.3,1454.4 L2177.3,1457.0 L2173.9,1457.0 L2173.9,1455.7 L2170.5,1455.7 L2170.5,1453.3 L2167.1,1453.3 L2167.1,1453.0 L2163.7,1453.0 L2163.7,1455.0 L2160.3,1455.0 L2160.3,1454.1 L2156.9,1454.1 L2156.9,1457.5 L2153.5,1457.5 L2153.5,1458.3 L2150.1,1458.3 L2150.1,1452.8 L2146.7,1452.8 L2146.7,1454.1 L2143.3,1454.1 L2143.3,1457.2 L2139.9,1457.2 L2139.9,1452.9 L2136.5,1452.9 L2136.5,1457.9 L2133.1,1457.9 L2133.1,1454.5 L2129.7,1454.5 L2129.7,1452.6 L2126.3,1452.6 L2126.3,1453.8 L2122.9,1453.8 L2122.9,1453.1 L2119.5,1453.1 L2119.5,1454.6 L2116.1,1454.6 L2116.1,1457.1 L2112.7,1457.1 L2112.7,1452.2 L2109.3,1452.2 L2109.3,1455.6 L2105.9,1455.6 L2105.9,1453.8 L2102.5,1453.8 L2102.5,1456.8 L2099.1,1456.8 L2099.1,1457.9 L2095.7,1457.9 L2095.7,1452.2 L2092.3,1452.2 L2092.3,1457.1 L2088.9,1457.1 L2088.9,1453.6 L2085.5,1453.6 L2085.5,1455.7 L2082.1,1455.7 L2082.1,1455.9 L2078.7,1455.9 L2078.7,1454.8 L2075.3,1454.8 L2075.3,1453.6 L2071.9,1453.6 L2071.9,1454.6 L2068.5,1454.6 L2068.5,1453.2 L2065.1,1453.2 L2065.1,1457.4 L2061.7,1457.4 L2061.7,1461.0 L2058.3,1461.0 L2058.3,1458.4 L2054.9,1458.4 L2054.9,1454.8 L2051.5,1454.8 L2051.5,1460.6 L2048.1,1460.6 L2048.1,1456.6 L2044.7,1456.6 L2044.7,1457.6 L2041.3,1457.6 L2041.3,1455.8 L2037.9,1455.8 L2037.9,1453.9 L2034.5,1453.9 L2034.5,1457.5 L2031.1,1457.5 L2031.1,1456.0 L2027.7,1456.0 L2027.7,1461.4 L2024.3,1461.4 L2024.3,1460.4 L2020.9,1460.4 L2020.9,1452.5 L2017.5,1452.5 L2017.5,1458.8 L2014.1,1458.8 L2014.1,1455.5 L2010.7,1455.5 L2010.7,1452.1 L2007.3,1452.1 L2007.3,1454.0 L2003.9,1454.0 L2003.9,1452.1 L2000.5,1452.1 L2000.5,1458.7 L1997.1,1458.7 L1997.1,1456.3 L1993.7,1456.3 L1993.7,1456.0 L1990.3,1456.0 L1990.3,1455.7 L1986.9,1455.7 L1986.9,1454.3 L1983.5,1454.3 L1983.5,1453.7 L1980.1,1453.7 L1980.1,1453.9 L1976.7,1453.9 L1976.7,1454.3 L1973.3,1454.3 L1973.3,1455.5 L1969.9,1455.5 L1969.9,1453.9 L1966.5,1453.9 L1966.5,1459.7 L1963.1,1459.7 L1963.1,1452.5 L1959.7,1452.5 L1959.7,1454.7 L1956.3,1454.7 L1956.3,1455.5 L1952.9,1455.5 L1952.9,1454.3 L1949.5,1454.3 L1949.5,1455.1 L1946.1,1455.1 L1946.1,1453.8 L1942.7,1453.8 L1942.7,1456.0 L1939.3,1456.0 L1939.3,1455.3 L1935.9,1455.3 L1935.9,1457.9 L1932.5,1457.9 L1932.5,1457.2 L1929.1,1457.2 L1929.1,1453.0 L1925.7,1453.0 L1925.7,1452.2 L1922.3,1452.2 L1922.3,1451.4 L1918.9,1451.4 L1918.9,1451.8 L1915.5,1451.8 L1915.5,1455.0 L1912.1,1455.0 L1912.1,1456.0 L1908.7,1456.0 L1908.7,1451.6 L1905.3,1451.6 L1905.3,1458.5 L1901.9,1458.5 L1901.9,1453.7 L1898.5,1453.7 L1898.5,1451.7 L1895.1,1451.7 L1895.1,1455.1 L1891.7,1455.1 L1891.7,1451.9 L1888.3,1451.9 L1888.3,1454.6 L1884.9,1454.6 L1884.9,1452.4 L1881.5,1452.4 L1881.5,1452.5 L1878.1,1452.5 L1878.1,1454.9 L1874.7,1454.9 L1874.7,1454.6 L1871.3,1454.6 L1871.3,1458.0 L1867.9,1458.0 L1867.9,1454.8 L1864.5,1454.8 L1864.5,1456.9 L1861.1,1456.9 L1861.1,1454.1 L1857.7,1454.1 L1857.7,1453.5 L1854.3,1453.5 L1854.3,1453.6 L1850.9,1453.6 L1850.9,1452.7 L1847.5,1452.7 L1847.5,1455.8 L1844.1,1455.8 L1844.1,1456.8 L1840.7,1456.8 L1840.7,1457.6 L1837.3,1457.6 L1837.3,1452.5 L1833.9,1452.5 L1833.9,1457.7 L1830.5,1457.7 L1830.5,1460.0 L1827.1,1460.0 L1827.1,1453.2 L1823.7,1453.2 L1823.7,1454.2 L1820.3,1454.2 L1820.3,1456.6 L1816.9,1456.6 L1816.9,1458.5 L1813.5,1458.5 L1813.5,1454.0 L1810.1,1454.0 L1810.1,1454.5 L1806.7,1454.5 L1806.7,1454.2 L1803.3,1454.2 L1803.3,1455.3 L1799.9,1455.3 L1799.9,1453.7 L1796.5,1453.7 L1796.5,1452.6 L1793.1,1452.6 L1793.1,1456.4 L1789.7,1456.4 L1789.7,1467.2 L1786.3,1467.2 L1786.3,1462.3 L1782.9,1462.3 L1782.9,1461.5 L1779.5,1461.5 L1779.5,1459.1 L1776.1,1459.1 L1776.1,1453.4 L1772.7,1453.4 L1772.7,1454.5 L1769.3,1454.5 L1769.3,1454.9 L1765.9,1454.9 L1765.9,1455.6 L1762.5,1455.6 L1762.5,1459.8 L1759.1,1459.8 L1759.1,1456.8 L1755.7,1456.8 L1755.7,1457.1 L1752.3,1457.1 L1752.3,1453.3 L1748.9,1453.3 L1748.9,1454.8 L1745.5,1454.8 L1745.5,1454.4 L1742.1,1454.4 L1742.1,1452.6 L1738.7,1452.6 L1738.7,1453.0 L1735.3,1453.0 L1735.3,1455.3 L1731.9,1455.3 L1731.9,1458.0 L1728.5,1458.0 L1728.5,1452.9 L1725.1,1452.9 L1725.1,1451.6 L1721.7,1451.6 L1721.7,1453.5 L1718.3,1453.5 L1718.3,1454.6 L1714.9,1454.6 L1714.9,1452.4 L1711.5,1452.4 L1711.5,1454.3 L1708.1,1454.3 L1708.1,1454.0 L1704.7,1454.0 L1704.7,1452.6 L1701.3,1452.6 L1701.3,1455.0 L1697.9,1455.0 L1697.9,1453.5 L1694.5,1453.5 L1694.5,1454.3 L1691.1,1454.3 L1691.1,1452.7 L1687.7,1452.7 L1687.7,1452.9 L1684.3,1452.9 L1684.3,1459.3 L1680.9,1459.3 L1680.9,1454.6 L1677.5,1454.6 L1677.5,1455.0 L1674.1,1455.0 L1674.1,1452.5 L1670.7,1452.5 L1670.7,1456.7 L1667.3,1456.7 L1667.3,1455.0 L1663.9,1455.0 L1663.9,1454.9 L1660.5,1454.9 L1660.5,1453.4 L1657.1,1453.4 L1657.1,1453.6 L1653.7,1453.6 L1653.7,1453.2 L1650.3,1453.2 L1650.3,1453.0 L1646.9,1453.0 L1646.9,1452.3 L1643.5,1452.3 L1643.5,1452.0 L1640.1,1452.0 L1640.1,1460.2 L1636.7,1460.2 L1636.7,1457.7 L1633.3,1457.7 L1633.3,1453.9 L1629.9,1453.9 L1629.9,1453.6 L1626.5,1453.6 L1626.5,1452.3 L1623.1,1452.3 L1623.1,1452.1 L1619.7,1452.1 L1619.7,1454.3 L1616.3,1454.3 L1616.3,1452.1 L1612.9,1452.1 L1612.9,1453.0 L1609.5,1453.0 L1609.5,1455.2 L1606.1,1455.2 L1606.1,1459.4 L1602.7,1459.4 L1602.7,1456.9 L1599.3,1456.9 L1599.3,1455.0 L1595.9,1455.0 L1595.9,1458.7 L1592.5,1458.7 L1592.5,1452.3 L1589.1,1452.3 L1589.1,1454.6 L1585.7,1454.6 L1585.7,1452.9 L1582.3,1452.9 L1582.3,1458.7 L1578.9,1458.7 L1578.9,1455.8 L1575.5,1455.8 L1575.5,1455.4 L1572.1,1455.4 L1572.1,1458.3 L1568.7,1458.3 L1568.7,1453.1 L1565.3,1453.1 L1565.3,1453.4 L1561.9,1453.4 L1561.9,1455.7 L1558.5,1455.7 L1558.5,1455.1 L1555.1,1455.1 L1555.1,1454.1 L1551.7,1454.1 L1551.7,1453.3 L1548.3,1453.3 L1548.3,1454.0 L1544.9,1454.0 L1544.9,1452.3 L1541.5,1452.3 L1541.5,1456.8 L1538.1,1456.8 L1538.1,1455.8 L1534.7,1455.8 L1534.7,1451.9 L1531.3,1451.9 L1531.3,1458.4 L1527.9,1458.4 L1527.9,1456.7 L1524.5,1456.7 L1524.5,1453.4 L1521.1,1453.4 L1521.1,1455.4 L1517.7,1455.4 L1517.7,1452.0 L1514.3,1452.0 L1514.3,1453.2 L1510.9,1453.2 L1510.9,1452.1 L1507.5,1452.1 L1507.5,1454.2 L1504.1,1454.2 L1504.1,1455.0 L1500.7,1455.0 L1500.7,1452.3 L1497.3,1452.3 L1497.3,1453.3 L1493.9,1453.3 L1493.9,1457.1 L1490.5,1457.1 L1490.5,1457.7 L1487.1,1457.7 L1487.1,1456.7 L1483.7,1456.7 L1483.7,1454.4 L1480.3,1454.4 L1480.3,1454.2 L1476.9,1454.2 L1476.9,1453.1 L1473.5,1453.1 L1473.5,1456.7 L1470.1,1456.7 L1470.1,1453.5 L1466.7,1453.5 L1466.7,1453.4 L1463.3,1453.4Z" fill="#ff10ea"/>
<line x1="1463.30" y1="1442.60" x2="2403.70" y2="1443.60" stroke="#e4347a" stroke-width="9.0" stroke-linecap="butt"/>
<line x1="1463.30" y1="1442.60" x2="2403.70" y2="1443.60" stroke="#ffc470" stroke-width="4.4" stroke-linecap="butt"/>
<path d="M1463.3,1575.1 L1466.7,1575.1 L1466.7,1576.5 L1470.1,1576.5 L1470.1,1576.2 L1473.5,1576.2 L1473.5,1572.3 L1476.9,1572.3 L1476.9,1573.3 L1480.3,1573.3 L1480.3,1573.6 L1483.7,1573.6 L1483.7,1571.9 L1487.1,1571.9 L1487.1,1573.9 L1490.5,1573.9 L1490.5,1575.6 L1493.9,1575.6 L1493.9,1573.6 L1497.3,1573.6 L1497.3,1575.6 L1500.7,1575.6 L1500.7,1574.9 L1504.1,1574.9 L1504.1,1572.3 L1507.5,1572.3 L1507.5,1576.6 L1510.9,1576.6 L1510.9,1575.1 L1514.3,1575.1 L1514.3,1571.1 L1517.7,1571.1 L1517.7,1574.4 L1521.1,1574.4 L1521.1,1577.2 L1524.5,1577.2 L1524.5,1576.8 L1527.9,1576.8 L1527.9,1570.2 L1531.3,1570.2 L1531.3,1575.5 L1534.7,1575.5 L1534.7,1577.4 L1538.1,1577.4 L1538.1,1573.8 L1541.5,1573.8 L1541.5,1576.2 L1544.9,1576.2 L1544.9,1575.9 L1548.3,1575.9 L1548.3,1576.9 L1551.7,1576.9 L1551.7,1573.8 L1555.1,1573.8 L1555.1,1576.1 L1558.5,1576.1 L1558.5,1574.9 L1561.9,1574.9 L1561.9,1569.3 L1565.3,1569.3 L1565.3,1572.9 L1568.7,1572.9 L1568.7,1575.3 L1572.1,1575.3 L1572.1,1571.9 L1575.5,1571.9 L1575.5,1574.1 L1578.9,1574.1 L1578.9,1574.3 L1582.3,1574.3 L1582.3,1574.7 L1585.7,1574.7 L1585.7,1574.1 L1589.1,1574.1 L1589.1,1571.5 L1592.5,1571.5 L1592.5,1575.2 L1595.9,1575.2 L1595.9,1574.7 L1599.3,1574.7 L1599.3,1574.1 L1602.7,1574.1 L1602.7,1576.9 L1606.1,1576.9 L1606.1,1576.8 L1609.5,1576.8 L1609.5,1576.4 L1612.9,1576.4 L1612.9,1577.5 L1616.3,1577.5 L1616.3,1571.8 L1619.7,1571.8 L1619.7,1571.4 L1623.1,1571.4 L1623.1,1575.0 L1626.5,1575.0 L1626.5,1573.7 L1629.9,1573.7 L1629.9,1576.2 L1633.3,1576.2 L1633.3,1577.2 L1636.7,1577.2 L1636.7,1575.9 L1640.1,1575.9 L1640.1,1575.8 L1643.5,1575.8 L1643.5,1576.3 L1646.9,1576.3 L1646.9,1576.6 L1650.3,1576.6 L1650.3,1575.7 L1653.7,1575.7 L1653.7,1576.5 L1657.1,1576.5 L1657.1,1573.5 L1660.5,1573.5 L1660.5,1578.2 L1663.9,1578.2 L1663.9,1575.6 L1667.3,1575.6 L1667.3,1574.0 L1670.7,1574.0 L1670.7,1570.5 L1674.1,1570.5 L1674.1,1572.6 L1677.5,1572.6 L1677.5,1577.2 L1680.9,1577.2 L1680.9,1577.6 L1684.3,1577.6 L1684.3,1571.5 L1687.7,1571.5 L1687.7,1572.9 L1691.1,1572.9 L1691.1,1576.2 L1694.5,1576.2 L1694.5,1575.0 L1697.9,1575.0 L1697.9,1575.6 L1701.3,1575.6 L1701.3,1572.9 L1704.7,1572.9 L1704.7,1572.8 L1708.1,1572.8 L1708.1,1575.6 L1711.5,1575.6 L1711.5,1573.1 L1714.9,1573.1 L1714.9,1572.2 L1718.3,1572.2 L1718.3,1574.3 L1721.7,1574.3 L1721.7,1570.1 L1725.1,1570.1 L1725.1,1576.9 L1728.5,1576.9 L1728.5,1573.0 L1731.9,1573.0 L1731.9,1578.4 L1735.3,1578.4 L1735.3,1574.9 L1738.7,1574.9 L1738.7,1574.9 L1742.1,1574.9 L1742.1,1571.7 L1745.5,1571.7 L1745.5,1575.8 L1748.9,1575.8 L1748.9,1577.0 L1752.3,1577.0 L1752.3,1576.9 L1755.7,1576.9 L1755.7,1575.2 L1759.1,1575.2 L1759.1,1573.7 L1762.5,1573.7 L1762.5,1575.6 L1765.9,1575.6 L1765.9,1575.1 L1769.3,1575.1 L1769.3,1574.5 L1772.7,1574.5 L1772.7,1567.4 L1776.1,1567.4 L1776.1,1577.2 L1779.5,1577.2 L1779.5,1574.8 L1782.9,1574.8 L1782.9,1571.1 L1786.3,1571.1 L1786.3,1572.6 L1789.7,1572.6 L1789.7,1569.7 L1793.1,1569.7 L1793.1,1571.4 L1796.5,1571.4 L1796.5,1573.8 L1799.9,1573.8 L1799.9,1575.8 L1803.3,1575.8 L1803.3,1564.9 L1806.7,1564.9 L1806.7,1577.1 L1810.1,1577.1 L1810.1,1571.8 L1813.5,1571.8 L1813.5,1576.2 L1816.9,1576.2 L1816.9,1570.0 L1820.3,1570.0 L1820.3,1572.4 L1823.7,1572.4 L1823.7,1575.5 L1827.1,1575.5 L1827.1,1575.3 L1830.5,1575.3 L1830.5,1573.9 L1833.9,1573.9 L1833.9,1576.8 L1837.3,1576.8 L1837.3,1576.9 L1840.7,1576.9 L1840.7,1578.1 L1844.1,1578.1 L1844.1,1577.9 L1847.5,1577.9 L1847.5,1569.1 L1850.9,1569.1 L1850.9,1577.9 L1854.3,1577.9 L1854.3,1569.9 L1857.7,1569.9 L1857.7,1576.7 L1861.1,1576.7 L1861.1,1572.0 L1864.5,1572.0 L1864.5,1576.5 L1867.9,1576.5 L1867.9,1572.8 L1871.3,1572.8 L1871.3,1577.3 L1874.7,1577.3 L1874.7,1572.3 L1878.1,1572.3 L1878.1,1574.6 L1881.5,1574.6 L1881.5,1574.5 L1884.9,1574.5 L1884.9,1576.1 L1888.3,1576.1 L1888.3,1570.6 L1891.7,1570.6 L1891.7,1571.0 L1895.1,1571.0 L1895.1,1577.6 L1898.5,1577.6 L1898.5,1576.1 L1901.9,1576.1 L1901.9,1575.0 L1905.3,1575.0 L1905.3,1577.6 L1908.7,1577.6 L1908.7,1578.7 L1912.1,1578.7 L1912.1,1577.5 L1915.5,1577.5 L1915.5,1575.7 L1918.9,1575.7 L1918.9,1576.5 L1922.3,1576.5 L1922.3,1577.8 L1925.7,1577.8 L1925.7,1578.7 L1929.1,1578.7 L1929.1,1578.9 L1932.5,1578.9 L1932.5,1574.5 L1935.9,1574.5 L1935.9,1573.7 L1939.3,1573.7 L1939.3,1575.7 L1942.7,1575.7 L1942.7,1576.1 L1946.1,1576.1 L1946.1,1574.1 L1949.5,1574.1 L1949.5,1576.0 L1952.9,1576.0 L1952.9,1577.4 L1956.3,1577.4 L1956.3,1577.8 L1959.7,1577.8 L1959.7,1576.4 L1963.1,1576.4 L1963.1,1577.6 L1966.5,1577.6 L1966.5,1574.0 L1969.9,1574.0 L1969.9,1575.1 L1973.3,1575.1 L1973.3,1577.2 L1976.7,1577.2 L1976.7,1577.1 L1980.1,1577.1 L1980.1,1572.5 L1983.5,1572.5 L1983.5,1573.3 L1986.9,1573.3 L1986.9,1576.8 L1990.3,1576.8 L1990.3,1574.5 L1993.7,1574.5 L1993.7,1576.5 L1997.1,1576.5 L1997.1,1576.1 L2000.5,1576.1 L2000.5,1571.6 L2003.9,1571.6 L2003.9,1578.1 L2007.3,1578.1 L2007.3,1577.2 L2010.7,1577.2 L2010.7,1573.9 L2014.1,1573.9 L2014.1,1578.4 L2017.5,1578.4 L2017.5,1571.5 L2020.9,1571.5 L2020.9,1575.4 L2024.3,1575.4 L2024.3,1573.5 L2027.7,1573.5 L2027.7,1577.9 L2031.1,1577.9 L2031.1,1576.9 L2034.5,1576.9 L2034.5,1576.4 L2037.9,1576.4 L2037.9,1577.4 L2041.3,1577.4 L2041.3,1577.3 L2044.7,1577.3 L2044.7,1574.6 L2048.1,1574.6 L2048.1,1575.5 L2051.5,1575.5 L2051.5,1569.6 L2054.9,1569.6 L2054.9,1577.3 L2058.3,1577.3 L2058.3,1577.3 L2061.7,1577.3 L2061.7,1577.2 L2065.1,1577.2 L2065.1,1576.5 L2068.5,1576.5 L2068.5,1577.3 L2071.9,1577.3 L2071.9,1576.7 L2075.3,1576.7 L2075.3,1570.0 L2078.7,1570.0 L2078.7,1570.4 L2082.1,1570.4 L2082.1,1573.9 L2085.5,1573.9 L2085.5,1573.2 L2088.9,1573.2 L2088.9,1578.1 L2092.3,1578.1 L2092.3,1577.7 L2095.7,1577.7 L2095.7,1575.2 L2099.1,1575.2 L2099.1,1575.7 L2102.5,1575.7 L2102.5,1575.1 L2105.9,1575.1 L2105.9,1578.3 L2109.3,1578.3 L2109.3,1571.9 L2112.7,1571.9 L2112.7,1577.2 L2116.1,1577.2 L2116.1,1576.3 L2119.5,1576.3 L2119.5,1576.3 L2122.9,1576.3 L2122.9,1574.8 L2126.3,1574.8 L2126.3,1577.0 L2129.7,1577.0 L2129.7,1576.2 L2133.1,1576.2 L2133.1,1576.6 L2136.5,1576.6 L2136.5,1576.8 L2139.9,1576.8 L2139.9,1576.7 L2143.3,1576.7 L2143.3,1576.6 L2146.7,1576.6 L2146.7,1575.6 L2150.1,1575.6 L2150.1,1576.9 L2153.5,1576.9 L2153.5,1574.7 L2156.9,1574.7 L2156.9,1566.8 L2160.3,1566.8 L2160.3,1573.8 L2163.7,1573.8 L2163.7,1576.6 L2167.1,1576.6 L2167.1,1578.4 L2170.5,1578.4 L2170.5,1578.6 L2173.9,1578.6 L2173.9,1578.5 L2177.3,1578.5 L2177.3,1576.8 L2180.7,1576.8 L2180.7,1579.1 L2184.1,1579.1 L2184.1,1578.3 L2187.5,1578.3 L2187.5,1579.0 L2190.9,1579.0 L2190.9,1577.8 L2194.3,1577.8 L2194.3,1578.4 L2197.7,1578.4 L2197.7,1578.4 L2201.1,1578.4 L2201.1,1579.1 L2204.5,1579.1 L2204.5,1574.1 L2207.9,1574.1 L2207.9,1578.5 L2211.3,1578.5 L2211.3,1577.5 L2214.7,1577.5 L2214.7,1575.8 L2218.1,1575.8 L2218.1,1578.1 L2221.5,1578.1 L2221.5,1577.2 L2224.9,1577.2 L2224.9,1577.3 L2228.3,1577.3 L2228.3,1577.9 L2231.7,1577.9 L2231.7,1577.2 L2235.1,1577.2 L2235.1,1578.9 L2238.5,1578.9 L2238.5,1577.1 L2241.9,1577.1 L2241.9,1575.7 L2245.3,1575.7 L2245.3,1576.4 L2248.7,1576.4 L2248.7,1574.7 L2252.1,1574.7 L2252.1,1574.0 L2255.5,1574.0 L2255.5,1575.5 L2258.9,1575.5 L2258.9,1572.5 L2262.3,1572.5 L2262.3,1576.2 L2265.7,1576.2 L2265.7,1573.6 L2269.1,1573.6 L2269.1,1576.1 L2272.5,1576.1 L2272.5,1572.3 L2275.9,1572.3 L2275.9,1572.7 L2279.3,1572.7 L2279.3,1573.9 L2282.7,1573.9 L2282.7,1576.9 L2286.1,1576.9 L2286.1,1575.2 L2289.5,1575.2 L2289.5,1576.4 L2292.9,1576.4 L2292.9,1578.4 L2296.3,1578.4 L2296.3,1576.6 L2299.7,1576.6 L2299.7,1577.2 L2303.1,1577.2 L2303.1,1577.8 L2306.5,1577.8 L2306.5,1575.1 L2309.9,1575.1 L2309.9,1578.6 L2313.3,1578.6 L2313.3,1574.6 L2316.7,1574.6 L2316.7,1578.8 L2320.1,1578.8 L2320.1,1578.5 L2323.5,1578.5 L2323.5,1573.2 L2326.9,1573.2 L2326.9,1577.1 L2330.3,1577.1 L2330.3,1576.2 L2333.7,1576.2 L2333.7,1578.4 L2337.1,1578.4 L2337.1,1576.2 L2340.5,1576.2 L2340.5,1575.2 L2343.9,1575.2 L2343.9,1576.9 L2347.3,1576.9 L2347.3,1575.6 L2350.7,1575.6 L2350.7,1577.2 L2354.1,1577.2 L2354.1,1577.2 L2357.5,1577.2 L2357.5,1577.3 L2360.9,1577.3 L2360.9,1575.7 L2364.3,1575.7 L2364.3,1576.8 L2367.7,1576.8 L2367.7,1578.0 L2371.1,1578.0 L2371.1,1577.8 L2374.5,1577.8 L2374.5,1578.3 L2377.9,1578.3 L2377.9,1577.7 L2381.3,1577.7 L2381.3,1579.2 L2384.7,1579.2 L2384.7,1572.4 L2388.1,1572.4 L2388.1,1573.2 L2391.5,1573.2 L2391.5,1579.2 L2394.9,1579.2 L2394.9,1579.0 L2398.3,1579.0 L2398.3,1574.5 L2401.7,1574.5 L2401.7,1596.0 L2398.3,1596.0 L2398.3,1597.4 L2394.9,1597.4 L2394.9,1597.7 L2391.5,1597.7 L2391.5,1596.4 L2388.1,1596.4 L2388.1,1597.4 L2384.7,1597.4 L2384.7,1600.3 L2381.3,1600.3 L2381.3,1604.1 L2377.9,1604.1 L2377.9,1600.9 L2374.5,1600.9 L2374.5,1599.9 L2371.1,1599.9 L2371.1,1603.1 L2367.7,1603.1 L2367.7,1604.1 L2364.3,1604.1 L2364.3,1601.0 L2360.9,1601.0 L2360.9,1601.2 L2357.5,1601.2 L2357.5,1597.3 L2354.1,1597.3 L2354.1,1599.2 L2350.7,1599.2 L2350.7,1597.6 L2347.3,1597.6 L2347.3,1598.2 L2343.9,1598.2 L2343.9,1598.6 L2340.5,1598.6 L2340.5,1598.8 L2337.1,1598.8 L2337.1,1600.3 L2333.7,1600.3 L2333.7,1604.2 L2330.3,1604.2 L2330.3,1597.6 L2326.9,1597.6 L2326.9,1598.3 L2323.5,1598.3 L2323.5,1598.3 L2320.1,1598.3 L2320.1,1598.3 L2316.7,1598.3 L2316.7,1603.0 L2313.3,1603.0 L2313.3,1598.2 L2309.9,1598.2 L2309.9,1596.9 L2306.5,1596.9 L2306.5,1599.0 L2303.1,1599.0 L2303.1,1600.8 L2299.7,1600.8 L2299.7,1602.4 L2296.3,1602.4 L2296.3,1600.1 L2292.9,1600.1 L2292.9,1598.1 L2289.5,1598.1 L2289.5,1598.7 L2286.1,1598.7 L2286.1,1597.4 L2282.7,1597.4 L2282.7,1598.8 L2279.3,1598.8 L2279.3,1607.2 L2275.9,1607.2 L2275.9,1597.4 L2272.5,1597.4 L2272.5,1598.9 L2269.1,1598.9 L2269.1,1599.7 L2265.7,1599.7 L2265.7,1597.5 L2262.3,1597.5 L2262.3,1598.3 L2258.9,1598.3 L2258.9,1597.4 L2255.5,1597.4 L2255.5,1596.6 L2252.1,1596.6 L2252.1,1605.5 L2248.7,1605.5 L2248.7,1601.4 L2245.3,1601.4 L2245.3,1598.5 L2241.9,1598.5 L2241.9,1597.6 L2238.5,1597.6 L2238.5,1597.7 L2235.1,1597.7 L2235.1,1597.6 L2231.7,1597.6 L2231.7,1598.1 L2228.3,1598.1 L2228.3,1597.9 L2224.9,1597.9 L2224.9,1600.9 L2221.5,1600.9 L2221.5,1601.9 L2218.1,1601.9 L2218.1,1600.1 L2214.7,1600.1 L2214.7,1598.9 L2211.3,1598.9 L2211.3,1597.5 L2207.9,1597.5 L2207.9,1597.9 L2204.5,1597.9 L2204.5,1598.3 L2201.1,1598.3 L2201.1,1601.1 L2197.7,1601.1 L2197.7,1596.6 L2194.3,1596.6 L2194.3,1597.7 L2190.9,1597.7 L2190.9,1598.3 L2187.5,1598.3 L2187.5,1596.0 L2184.1,1596.0 L2184.1,1599.6 L2180.7,1599.6 L2180.7,1596.3 L2177.3,1596.3 L2177.3,1606.5 L2173.9,1606.5 L2173.9,1596.5 L2170.5,1596.5 L2170.5,1599.7 L2167.1,1599.7 L2167.1,1601.0 L2163.7,1601.0 L2163.7,1599.1 L2160.3,1599.1 L2160.3,1600.2 L2156.9,1600.2 L2156.9,1601.3 L2153.5,1601.3 L2153.5,1598.1 L2150.1,1598.1 L2150.1,1596.9 L2146.7,1596.9 L2146.7,1596.6 L2143.3,1596.6 L2143.3,1598.0 L2139.9,1598.0 L2139.9,1596.5 L2136.5,1596.5 L2136.5,1597.4 L2133.1,1597.4 L2133.1,1598.8 L2129.7,1598.8 L2129.7,1598.4 L2126.3,1598.4 L2126.3,1597.3 L2122.9,1597.3 L2122.9,1598.4 L2119.5,1598.4 L2119.5,1595.6 L2116.1,1595.6 L2116.1,1596.6 L2112.7,1596.6 L2112.7,1596.3 L2109.3,1596.3 L2109.3,1600.5 L2105.9,1600.5 L2105.9,1600.6 L2102.5,1600.6 L2102.5,1597.6 L2099.1,1597.6 L2099.1,1599.7 L2095.7,1599.7 L2095.7,1602.7 L2092.3,1602.7 L2092.3,1598.8 L2088.9,1598.8 L2088.9,1597.2 L2085.5,1597.2 L2085.5,1601.6 L2082.1,1601.6 L2082.1,1600.7 L2078.7,1600.7 L2078.7,1599.2 L2075.3,1599.2 L2075.3,1599.1 L2071.9,1599.1 L2071.9,1602.1 L2068.5,1602.1 L2068.5,1599.7 L2065.1,1599.7 L2065.1,1600.1 L2061.7,1600.1 L2061.7,1597.1 L2058.3,1597.1 L2058.3,1600.3 L2054.9,1600.3 L2054.9,1602.9 L2051.5,1602.9 L2051.5,1598.6 L2048.1,1598.6 L2048.1,1598.0 L2044.7,1598.0 L2044.7,1598.0 L2041.3,1598.0 L2041.3,1598.4 L2037.9,1598.4 L2037.9,1599.5 L2034.5,1599.5 L2034.5,1598.1 L2031.1,1598.1 L2031.1,1599.7 L2027.7,1599.7 L2027.7,1596.9 L2024.3,1596.9 L2024.3,1598.5 L2020.9,1598.5 L2020.9,1601.2 L2017.5,1601.2 L2017.5,1601.7 L2014.1,1601.7 L2014.1,1601.6 L2010.7,1601.6 L2010.7,1602.1 L2007.3,1602.1 L2007.3,1597.7 L2003.9,1597.7 L2003.9,1597.5 L2000.5,1597.5 L2000.5,1596.3 L1997.1,1596.3 L1997.1,1597.6 L1993.7,1597.6 L1993.7,1601.6 L1990.3,1601.6 L1990.3,1598.4 L1986.9,1598.4 L1986.9,1597.9 L1983.5,1597.9 L1983.5,1597.1 L1980.1,1597.1 L1980.1,1596.8 L1976.7,1596.8 L1976.7,1598.7 L1973.3,1598.7 L1973.3,1597.9 L1969.9,1597.9 L1969.9,1597.8 L1966.5,1597.8 L1966.5,1596.2 L1963.1,1596.2 L1963.1,1600.5 L1959.7,1600.5 L1959.7,1597.9 L1956.3,1597.9 L1956.3,1595.4 L1952.9,1595.4 L1952.9,1600.0 L1949.5,1600.0 L1949.5,1596.0 L1946.1,1596.0 L1946.1,1594.9 L1942.7,1594.9 L1942.7,1595.0 L1939.3,1595.0 L1939.3,1595.0 L1935.9,1595.0 L1935.9,1597.5 L1932.5,1597.5 L1932.5,1595.7 L1929.1,1595.7 L1929.1,1599.4 L1925.7,1599.4 L1925.7,1603.2 L1922.3,1603.2 L1922.3,1597.4 L1918.9,1597.4 L1918.9,1595.6 L1915.5,1595.6 L1915.5,1595.7 L1912.1,1595.7 L1912.1,1599.0 L1908.7,1599.0 L1908.7,1596.4 L1905.3,1596.4 L1905.3,1597.9 L1901.9,1597.9 L1901.9,1597.3 L1898.5,1597.3 L1898.5,1597.6 L1895.1,1597.6 L1895.1,1601.5 L1891.7,1601.5 L1891.7,1597.3 L1888.3,1597.3 L1888.3,1598.4 L1884.9,1598.4 L1884.9,1596.7 L1881.5,1596.7 L1881.5,1600.8 L1878.1,1600.8 L1878.1,1595.9 L1874.7,1595.9 L1874.7,1602.8 L1871.3,1602.8 L1871.3,1597.2 L1867.9,1597.2 L1867.9,1598.3 L1864.5,1598.3 L1864.5,1598.3 L1861.1,1598.3 L1861.1,1597.2 L1857.7,1597.2 L1857.7,1598.9 L1854.3,1598.9 L1854.3,1600.7 L1850.9,1600.7 L1850.9,1596.5 L1847.5,1596.5 L1847.5,1602.6 L1844.1,1602.6 L1844.1,1596.7 L1840.7,1596.7 L1840.7,1604.3 L1837.3,1604.3 L1837.3,1597.4 L1833.9,1597.4 L1833.9,1601.1 L1830.5,1601.1 L1830.5,1599.1 L1827.1,1599.1 L1827.1,1597.3 L1823.7,1597.3 L1823.7,1600.8 L1820.3,1600.8 L1820.3,1596.6 L1816.9,1596.6 L1816.9,1596.4 L1813.5,1596.4 L1813.5,1601.7 L1810.1,1601.7 L1810.1,1597.3 L1806.7,1597.3 L1806.7,1601.4 L1803.3,1601.4 L1803.3,1598.8 L1799.9,1598.8 L1799.9,1597.7 L1796.5,1597.7 L1796.5,1597.4 L1793.1,1597.4 L1793.1,1598.7 L1789.7,1598.7 L1789.7,1598.0 L1786.3,1598.0 L1786.3,1596.5 L1782.9,1596.5 L1782.9,1604.6 L1779.5,1604.6 L1779.5,1599.4 L1776.1,1599.4 L1776.1,1596.0 L1772.7,1596.0 L1772.7,1598.8 L1769.3,1598.8 L1769.3,1600.6 L1765.9,1600.6 L1765.9,1601.7 L1762.5,1601.7 L1762.5,1596.1 L1759.1,1596.1 L1759.1,1597.6 L1755.7,1597.6 L1755.7,1596.6 L1752.3,1596.6 L1752.3,1597.0 L1748.9,1597.0 L1748.9,1596.3 L1745.5,1596.3 L1745.5,1595.4 L1742.1,1595.4 L1742.1,1598.9 L1738.7,1598.9 L1738.7,1596.3 L1735.3,1596.3 L1735.3,1594.7 L1731.9,1594.7 L1731.9,1596.5 L1728.5,1596.5 L1728.5,1604.8 L1725.1,1604.8 L1725.1,1598.7 L1721.7,1598.7 L1721.7,1595.8 L1718.3,1595.8 L1718.3,1595.8 L1714.9,1595.8 L1714.9,1599.1 L1711.5,1599.1 L1711.5,1598.6 L1708.1,1598.6 L1708.1,1595.6 L1704.7,1595.6 L1704.7,1596.4 L1701.3,1596.4 L1701.3,1595.3 L1697.9,1595.3 L1697.9,1597.4 L1694.5,1597.4 L1694.5,1597.1 L1691.1,1597.1 L1691.1,1595.4 L1687.7,1595.4 L1687.7,1598.7 L1684.3,1598.7 L1684.3,1599.8 L1680.9,1599.8 L1680.9,1595.2 L1677.5,1595.2 L1677.5,1597.1 L1674.1,1597.1 L1674.1,1599.0 L1670.7,1599.0 L1670.7,1595.6 L1667.3,1595.6 L1667.3,1599.5 L1663.9,1599.5 L1663.9,1597.1 L1660.5,1597.1 L1660.5,1596.8 L1657.1,1596.8 L1657.1,1596.9 L1653.7,1596.9 L1653.7,1595.0 L1650.3,1595.0 L1650.3,1596.3 L1646.9,1596.3 L1646.9,1599.7 L1643.5,1599.7 L1643.5,1597.4 L1640.1,1597.4 L1640.1,1596.6 L1636.7,1596.6 L1636.7,1595.8 L1633.3,1595.8 L1633.3,1595.7 L1629.9,1595.7 L1629.9,1596.6 L1626.5,1596.6 L1626.5,1598.2 L1623.1,1598.2 L1623.1,1600.0 L1619.7,1600.0 L1619.7,1598.0 L1616.3,1598.0 L1616.3,1598.0 L1612.9,1598.0 L1612.9,1596.4 L1609.5,1596.4 L1609.5,1595.8 L1606.1,1595.8 L1606.1,1601.6 L1602.7,1601.6 L1602.7,1598.3 L1599.3,1598.3 L1599.3,1598.6 L1595.9,1598.6 L1595.9,1598.2 L1592.5,1598.2 L1592.5,1598.6 L1589.1,1598.6 L1589.1,1603.8 L1585.7,1603.8 L1585.7,1597.3 L1582.3,1597.3 L1582.3,1598.6 L1578.9,1598.6 L1578.9,1602.9 L1575.5,1602.9 L1575.5,1596.1 L1572.1,1596.1 L1572.1,1604.1 L1568.7,1604.1 L1568.7,1600.5 L1565.3,1600.5 L1565.3,1596.8 L1561.9,1596.8 L1561.9,1595.8 L1558.5,1595.8 L1558.5,1601.4 L1555.1,1601.4 L1555.1,1597.8 L1551.7,1597.8 L1551.7,1599.0 L1548.3,1599.0 L1548.3,1596.7 L1544.9,1596.7 L1544.9,1597.9 L1541.5,1597.9 L1541.5,1600.4 L1538.1,1600.4 L1538.1,1598.2 L1534.7,1598.2 L1534.7,1595.2 L1531.3,1595.2 L1531.3,1598.1 L1527.9,1598.1 L1527.9,1596.2 L1524.5,1596.2 L1524.5,1598.0 L1521.1,1598.0 L1521.1,1602.6 L1517.7,1602.6 L1517.7,1596.0 L1514.3,1596.0 L1514.3,1599.1 L1510.9,1599.1 L1510.9,1599.4 L1507.5,1599.4 L1507.5,1598.9 L1504.1,1598.9 L1504.1,1600.8 L1500.7,1600.8 L1500.7,1598.0 L1497.3,1598.0 L1497.3,1596.2 L1493.9,1596.2 L1493.9,1597.9 L1490.5,1597.9 L1490.5,1597.1 L1487.1,1597.1 L1487.1,1597.4 L1483.7,1597.4 L1483.7,1599.1 L1480.3,1599.1 L1480.3,1597.3 L1476.9,1597.3 L1476.9,1600.8 L1473.5,1600.8 L1473.5,1594.7 L1470.1,1594.7 L1470.1,1597.5 L1466.7,1597.5 L1466.7,1596.0 L1463.3,1596.0Z" fill="#f60c0c"/>
<line x1="1463.30" y1="1586.00" x2="2403.70" y2="1587.90" stroke="#ec4c0c" stroke-width="9.0" stroke-linecap="butt"/>
<line x1="1463.30" y1="1586.00" x2="2403.70" y2="1587.90" stroke="#ffd030" stroke-width="4.4" stroke-linecap="butt"/>
<path d="M1463.3,1711.0 L1466.7,1711.0 L1466.7,1709.6 L1470.1,1709.6 L1470.1,1706.4 L1473.5,1706.4 L1473.5,1704.1 L1476.9,1704.1 L1476.9,1703.5 L1480.3,1703.5 L1480.3,1710.5 L1483.7,1710.5 L1483.7,1707.2 L1487.1,1707.2 L1487.1,1710.9 L1490.5,1710.9 L1490.5,1709.9 L1493.9,1709.9 L1493.9,1711.2 L1497.3,1711.2 L1497.3,1709.6 L1500.7,1709.6 L1500.7,1707.0 L1504.1,1707.0 L1504.1,1705.4 L1507.5,1705.4 L1507.5,1709.7 L1510.9,1709.7 L1510.9,1706.6 L1514.3,1706.6 L1514.3,1710.3 L1517.7,1710.3 L1517.7,1704.9 L1521.1,1704.9 L1521.1,1708.0 L1524.5,1708.0 L1524.5,1711.7 L1527.9,1711.7 L1527.9,1710.2 L1531.3,1710.2 L1531.3,1709.9 L1534.7,1709.9 L1534.7,1708.0 L1538.1,1708.0 L1538.1,1709.3 L1541.5,1709.3 L1541.5,1707.7 L1544.9,1707.7 L1544.9,1707.7 L1548.3,1707.7 L1548.3,1711.5 L1551.7,1711.5 L1551.7,1709.6 L1555.1,1709.6 L1555.1,1703.1 L1558.5,1703.1 L1558.5,1699.1 L1561.9,1699.1 L1561.9,1709.9 L1565.3,1709.9 L1565.3,1705.9 L1568.7,1705.9 L1568.7,1711.3 L1572.1,1711.3 L1572.1,1701.8 L1575.5,1701.8 L1575.5,1709.9 L1578.9,1709.9 L1578.9,1708.0 L1582.3,1708.0 L1582.3,1708.8 L1585.7,1708.8 L1585.7,1703.5 L1589.1,1703.5 L1589.1,1708.2 L1592.5,1708.2 L1592.5,1707.1 L1595.9,1707.1 L1595.9,1709.9 L1599.3,1709.9 L1599.3,1710.3 L1602.7,1710.3 L1602.7,1707.8 L1606.1,1707.8 L1606.1,1709.9 L1609.5,1709.9 L1609.5,1710.5 L1612.9,1710.5 L1612.9,1709.0 L1616.3,1709.0 L1616.3,1703.4 L1619.7,1703.4 L1619.7,1708.5 L1623.1,1708.5 L1623.1,1707.6 L1626.5,1707.6 L1626.5,1709.2 L1629.9,1709.2 L1629.9,1709.9 L1633.3,1709.9 L1633.3,1711.1 L1636.7,1711.1 L1636.7,1708.5 L1640.1,1708.5 L1640.1,1709.4 L1643.5,1709.4 L1643.5,1708.4 L1646.9,1708.4 L1646.9,1710.9 L1650.3,1710.9 L1650.3,1703.2 L1653.7,1703.2 L1653.7,1711.1 L1657.1,1711.1 L1657.1,1710.9 L1660.5,1710.9 L1660.5,1707.2 L1663.9,1707.2 L1663.9,1710.3 L1667.3,1710.3 L1667.3,1704.0 L1670.7,1704.0 L1670.7,1706.1 L1674.1,1706.1 L1674.1,1709.1 L1677.5,1709.1 L1677.5,1709.6 L1680.9,1709.6 L1680.9,1707.3 L1684.3,1707.3 L1684.3,1707.7 L1687.7,1707.7 L1687.7,1707.6 L1691.1,1707.6 L1691.1,1708.8 L1694.5,1708.8 L1694.5,1709.0 L1697.9,1709.0 L1697.9,1705.7 L1701.3,1705.7 L1701.3,1709.2 L1704.7,1709.2 L1704.7,1707.3 L1708.1,1707.3 L1708.1,1711.6 L1711.5,1711.6 L1711.5,1711.9 L1714.9,1711.9 L1714.9,1709.4 L1718.3,1709.4 L1718.3,1706.4 L1721.7,1706.4 L1721.7,1710.6 L1725.1,1710.6 L1725.1,1704.5 L1728.5,1704.5 L1728.5,1706.2 L1731.9,1706.2 L1731.9,1709.3 L1735.3,1709.3 L1735.3,1711.7 L1738.7,1711.7 L1738.7,1711.3 L1742.1,1711.3 L1742.1,1701.2 L1745.5,1701.2 L1745.5,1706.3 L1748.9,1706.3 L1748.9,1706.2 L1752.3,1706.2 L1752.3,1706.7 L1755.7,1706.7 L1755.7,1708.7 L1759.1,1708.7 L1759.1,1706.9 L1762.5,1706.9 L1762.5,1711.5 L1765.9,1711.5 L1765.9,1710.1 L1769.3,1710.1 L1769.3,1710.3 L1772.7,1710.3 L1772.7,1708.6 L1776.1,1708.6 L1776.1,1708.3 L1779.5,1708.3 L1779.5,1700.4 L1782.9,1700.4 L1782.9,1710.9 L1786.3,1710.9 L1786.3,1707.9 L1789.7,1707.9 L1789.7,1710.6 L1793.1,1710.6 L1793.1,1709.8 L1796.5,1709.8 L1796.5,1708.6 L1799.9,1708.6 L1799.9,1710.1 L1803.3,1710.1 L1803.3,1711.1 L1806.7,1711.1 L1806.7,1705.5 L1810.1,1705.5 L1810.1,1708.7 L1813.5,1708.7 L1813.5,1711.4 L1816.9,1711.4 L1816.9,1706.2 L1820.3,1706.2 L1820.3,1708.5 L1823.7,1708.5 L1823.7,1708.8 L1827.1,1708.8 L1827.1,1709.0 L1830.5,1709.0 L1830.5,1707.5 L1833.9,1707.5 L1833.9,1707.4 L1837.3,1707.4 L1837.3,1711.5 L1840.7,1711.5 L1840.7,1709.1 L1844.1,1709.1 L1844.1,1706.8 L1847.5,1706.8 L1847.5,1709.6 L1850.9,1709.6 L1850.9,1710.9 L1854.3,1710.9 L1854.3,1704.7 L1857.7,1704.7 L1857.7,1703.2 L1861.1,1703.2 L1861.1,1710.4 L1864.5,1710.4 L1864.5,1710.1 L1867.9,1710.1 L1867.9,1704.4 L1871.3,1704.4 L1871.3,1704.9 L1874.7,1704.9 L1874.7,1710.5 L1878.1,1710.5 L1878.1,1706.0 L1881.5,1706.0 L1881.5,1709.0 L1884.9,1709.0 L1884.9,1701.6 L1888.3,1701.6 L1888.3,1705.4 L1891.7,1705.4 L1891.7,1707.3 L1895.1,1707.3 L1895.1,1707.3 L1898.5,1707.3 L1898.5,1710.9 L1901.9,1710.9 L1901.9,1708.4 L1905.3,1708.4 L1905.3,1710.1 L1908.7,1710.1 L1908.7,1707.9 L1912.1,1707.9 L1912.1,1711.3 L1915.5,1711.3 L1915.5,1708.0 L1918.9,1708.0 L1918.9,1709.6 L1922.3,1709.6 L1922.3,1707.4 L1925.7,1707.4 L1925.7,1709.7 L1929.1,1709.7 L1929.1,1707.2 L1932.5,1707.2 L1932.5,1710.2 L1935.9,1710.2 L1935.9,1712.2 L1939.3,1712.2 L1939.3,1706.5 L1942.7,1706.5 L1942.7,1709.5 L1946.1,1709.5 L1946.1,1710.6 L1949.5,1710.6 L1949.5,1710.5 L1952.9,1710.5 L1952.9,1711.8 L1956.3,1711.8 L1956.3,1710.9 L1959.7,1710.9 L1959.7,1704.9 L1963.1,1704.9 L1963.1,1708.3 L1966.5,1708.3 L1966.5,1711.9 L1969.9,1711.9 L1969.9,1710.9 L1973.3,1710.9 L1973.3,1709.7 L1976.7,1709.7 L1976.7,1708.9 L1980.1,1708.9 L1980.1,1711.0 L1983.5,1711.0 L1983.5,1711.6 L1986.9,1711.6 L1986.9,1709.4 L1990.3,1709.4 L1990.3,1709.0 L1993.7,1709.0 L1993.7,1709.3 L1997.1,1709.3 L1997.1,1706.1 L2000.5,1706.1 L2000.5,1706.2 L2003.9,1706.2 L2003.9,1711.5 L2007.3,1711.5 L2007.3,1708.7 L2010.7,1708.7 L2010.7,1711.5 L2014.1,1711.5 L2014.1,1711.8 L2017.5,1711.8 L2017.5,1710.0 L2020.9,1710.0 L2020.9,1706.3 L2024.3,1706.3 L2024.3,1709.0 L2027.7,1709.0 L2027.7,1711.1 L2031.1,1711.1 L2031.1,1712.0 L2034.5,1712.0 L2034.5,1709.7 L2037.9,1709.7 L2037.9,1710.6 L2041.3,1710.6 L2041.3,1706.0 L2044.7,1706.0 L2044.7,1708.9 L2048.1,1708.9 L2048.1,1711.3 L2051.5,1711.3 L2051.5,1706.2 L2054.9,1706.2 L2054.9,1710.4 L2058.3,1710.4 L2058.3,1711.2 L2061.7,1711.2 L2061.7,1711.2 L2065.1,1711.2 L2065.1,1710.7 L2068.5,1710.7 L2068.5,1705.0 L2071.9,1705.0 L2071.9,1710.5 L2075.3,1710.5 L2075.3,1704.2 L2078.7,1704.2 L2078.7,1706.7 L2082.1,1706.7 L2082.1,1710.0 L2085.5,1710.0 L2085.5,1700.0 L2088.9,1700.0 L2088.9,1701.2 L2092.3,1701.2 L2092.3,1709.7 L2095.7,1709.7 L2095.7,1708.6 L2099.1,1708.6 L2099.1,1710.6 L2102.5,1710.6 L2102.5,1708.0 L2105.9,1708.0 L2105.9,1711.1 L2109.3,1711.1 L2109.3,1705.2 L2112.7,1705.2 L2112.7,1710.0 L2116.1,1710.0 L2116.1,1708.0 L2119.5,1708.0 L2119.5,1708.8 L2122.9,1708.8 L2122.9,1708.8 L2126.3,1708.8 L2126.3,1711.5 L2129.7,1711.5 L2129.7,1711.6 L2133.1,1711.6 L2133.1,1711.6 L2136.5,1711.6 L2136.5,1705.5 L2139.9,1705.5 L2139.9,1711.2 L2143.3,1711.2 L2143.3,1709.8 L2146.7,1709.8 L2146.7,1707.7 L2150.1,1707.7 L2150.1,1709.7 L2153.5,1709.7 L2153.5,1708.6 L2156.9,1708.6 L2156.9,1703.2 L2160.3,1703.2 L2160.3,1701.7 L2163.7,1701.7 L2163.7,1700.9 L2167.1,1700.9 L2167.1,1706.8 L2170.5,1706.8 L2170.5,1707.4 L2173.9,1707.4 L2173.9,1710.4 L2177.3,1710.4 L2177.3,1706.0 L2180.7,1706.0 L2180.7,1707.4 L2184.1,1707.4 L2184.1,1703.7 L2187.5,1703.7 L2187.5,1705.3 L2190.9,1705.3 L2190.9,1710.7 L2194.3,1710.7 L2194.3,1711.7 L2197.7,1711.7 L2197.7,1709.7 L2201.1,1709.7 L2201.1,1710.1 L2204.5,1710.1 L2204.5,1711.0 L2207.9,1711.0 L2207.9,1707.7 L2211.3,1707.7 L2211.3,1707.6 L2214.7,1707.6 L2214.7,1708.8 L2218.1,1708.8 L2218.1,1710.0 L2221.5,1710.0 L2221.5,1712.1 L2224.9,1712.1 L2224.9,1708.1 L2228.3,1708.1 L2228.3,1707.0 L2231.7,1707.0 L2231.7,1712.0 L2235.1,1712.0 L2235.1,1712.6 L2238.5,1712.6 L2238.5,1711.3 L2241.9,1711.3 L2241.9,1706.9 L2245.3,1706.9 L2245.3,1708.3 L2248.7,1708.3 L2248.7,1707.4 L2252.1,1707.4 L2252.1,1712.0 L2255.5,1712.0 L2255.5,1710.1 L2258.9,1710.1 L2258.9,1710.8 L2262.3,1710.8 L2262.3,1703.1 L2265.7,1703.1 L2265.7,1703.2 L2269.1,1703.2 L2269.1,1701.4 L2272.5,1701.4 L2272.5,1707.9 L2275.9,1707.9 L2275.9,1710.8 L2279.3,1710.8 L2279.3,1709.0 L2282.7,1709.0 L2282.7,1708.6 L2286.1,1708.6 L2286.1,1711.0 L2289.5,1711.0 L2289.5,1711.3 L2292.9,1711.3 L2292.9,1705.8 L2296.3,1705.8 L2296.3,1709.6 L2299.7,1709.6 L2299.7,1711.2 L2303.1,1711.2 L2303.1,1707.5 L2306.5,1707.5 L2306.5,1710.7 L2309.9,1710.7 L2309.9,1709.9 L2313.3,1709.9 L2313.3,1710.3 L2316.7,1710.3 L2316.7,1709.7 L2320.1,1709.7 L2320.1,1708.4 L2323.5,1708.4 L2323.5,1708.9 L2326.9,1708.9 L2326.9,1711.3 L2330.3,1711.3 L2330.3,1706.6 L2333.7,1706.6 L2333.7,1707.4 L2337.1,1707.4 L2337.1,1704.0 L2340.5,1704.0 L2340.5,1709.8 L2343.9,1709.8 L2343.9,1707.6 L2347.3,1707.6 L2347.3,1709.0 L2350.7,1709.0 L2350.7,1708.7 L2354.1,1708.7 L2354.1,1708.8 L2357.5,1708.8 L2357.5,1709.7 L2360.9,1709.7 L2360.9,1706.1 L2364.3,1706.1 L2364.3,1710.2 L2367.7,1710.2 L2367.7,1707.3 L2371.1,1707.3 L2371.1,1710.9 L2374.5,1710.9 L2374.5,1710.2 L2377.9,1710.2 L2377.9,1706.8 L2381.3,1706.8 L2381.3,1705.2 L2384.7,1705.2 L2384.7,1709.6 L2388.1,1709.6 L2388.1,1709.7 L2391.5,1709.7 L2391.5,1707.5 L2394.9,1707.5 L2394.9,1709.7 L2398.3,1709.7 L2398.3,1710.1 L2401.7,1710.1 L2401.7,1733.4 L2398.3,1733.4 L2398.3,1733.4 L2394.9,1733.4 L2394.9,1733.1 L2391.5,1733.1 L2391.5,1733.7 L2388.1,1733.7 L2388.1,1737.2 L2384.7,1737.2 L2384.7,1739.4 L2381.3,1739.4 L2381.3,1736.6 L2377.9,1736.6 L2377.9,1743.4 L2374.5,1743.4 L2374.5,1733.6 L2371.1,1733.6 L2371.1,1734.9 L2367.7,1734.9 L2367.7,1733.9 L2364.3,1733.9 L2364.3,1736.8 L2360.9,1736.8 L2360.9,1736.0 L2357.5,1736.0 L2357.5,1736.5 L2354.1,1736.5 L2354.1,1733.7 L2350.7,1733.7 L2350.7,1733.0 L2347.3,1733.0 L2347.3,1734.4 L2343.9,1734.4 L2343.9,1734.8 L2340.5,1734.8 L2340.5,1732.5 L2337.1,1732.5 L2337.1,1733.1 L2333.7,1733.1 L2333.7,1731.9 L2330.3,1731.9 L2330.3,1732.3 L2326.9,1732.3 L2326.9,1736.3 L2323.5,1736.3 L2323.5,1734.8 L2320.1,1734.8 L2320.1,1734.0 L2316.7,1734.0 L2316.7,1731.5 L2313.3,1731.5 L2313.3,1731.6 L2309.9,1731.6 L2309.9,1733.1 L2306.5,1733.1 L2306.5,1731.6 L2303.1,1731.6 L2303.1,1734.2 L2299.7,1734.2 L2299.7,1735.0 L2296.3,1735.0 L2296.3,1735.4 L2292.9,1735.4 L2292.9,1733.1 L2289.5,1733.1 L2289.5,1733.9 L2286.1,1733.9 L2286.1,1735.1 L2282.7,1735.1 L2282.7,1739.6 L2279.3,1739.6 L2279.3,1733.0 L2275.9,1733.0 L2275.9,1736.0 L2272.5,1736.0 L2272.5,1740.0 L2269.1,1740.0 L2269.1,1732.9 L2265.7,1732.9 L2265.7,1735.9 L2262.3,1735.9 L2262.3,1732.0 L2258.9,1732.0 L2258.9,1732.0 L2255.5,1732.0 L2255.5,1734.0 L2252.1,1734.0 L2252.1,1732.2 L2248.7,1732.2 L2248.7,1731.4 L2245.3,1731.4 L2245.3,1733.2 L2241.9,1733.2 L2241.9,1731.9 L2238.5,1731.9 L2238.5,1734.0 L2235.1,1734.0 L2235.1,1731.5 L2231.7,1731.5 L2231.7,1733.1 L2228.3,1733.1 L2228.3,1732.7 L2224.9,1732.7 L2224.9,1733.6 L2221.5,1733.6 L2221.5,1732.6 L2218.1,1732.6 L2218.1,1732.8 L2214.7,1732.8 L2214.7,1732.6 L2211.3,1732.6 L2211.3,1735.3 L2207.9,1735.3 L2207.9,1735.6 L2204.5,1735.6 L2204.5,1733.9 L2201.1,1733.9 L2201.1,1732.3 L2197.7,1732.3 L2197.7,1736.2 L2194.3,1736.2 L2194.3,1732.1 L2190.9,1732.1 L2190.9,1733.0 L2187.5,1733.0 L2187.5,1735.6 L2184.1,1735.6 L2184.1,1735.7 L2180.7,1735.7 L2180.7,1732.7 L2177.3,1732.7 L2177.3,1736.7 L2173.9,1736.7 L2173.9,1738.7 L2170.5,1738.7 L2170.5,1735.3 L2167.1,1735.3 L2167.1,1739.6 L2163.7,1739.6 L2163.7,1738.9 L2160.3,1738.9 L2160.3,1734.7 L2156.9,1734.7 L2156.9,1738.9 L2153.5,1738.9 L2153.5,1734.3 L2150.1,1734.3 L2150.1,1733.6 L2146.7,1733.6 L2146.7,1733.7 L2143.3,1733.7 L2143.3,1732.3 L2139.9,1732.3 L2139.9,1737.1 L2136.5,1737.1 L2136.5,1736.8 L2133.1,1736.8 L2133.1,1731.8 L2129.7,1731.8 L2129.7,1732.8 L2126.3,1732.8 L2126.3,1734.5 L2122.9,1734.5 L2122.9,1732.4 L2119.5,1732.4 L2119.5,1737.8 L2116.1,1737.8 L2116.1,1738.7 L2112.7,1738.7 L2112.7,1736.3 L2109.3,1736.3 L2109.3,1734.6 L2105.9,1734.6 L2105.9,1735.3 L2102.5,1735.3 L2102.5,1732.8 L2099.1,1732.8 L2099.1,1736.3 L2095.7,1736.3 L2095.7,1738.7 L2092.3,1738.7 L2092.3,1738.3 L2088.9,1738.3 L2088.9,1735.5 L2085.5,1735.5 L2085.5,1741.3 L2082.1,1741.3 L2082.1,1738.1 L2078.7,1738.1 L2078.7,1737.2 L2075.3,1737.2 L2075.3,1733.3 L2071.9,1733.3 L2071.9,1738.9 L2068.5,1738.9 L2068.5,1736.5 L2065.1,1736.5 L2065.1,1737.4 L2061.7,1737.4 L2061.7,1734.6 L2058.3,1734.6 L2058.3,1733.3 L2054.9,1733.3 L2054.9,1735.9 L2051.5,1735.9 L2051.5,1737.9 L2048.1,1737.9 L2048.1,1731.5 L2044.7,1731.5 L2044.7,1732.7 L2041.3,1732.7 L2041.3,1731.4 L2037.9,1731.4 L2037.9,1740.2 L2034.5,1740.2 L2034.5,1732.3 L2031.1,1732.3 L2031.1,1732.8 L2027.7,1732.8 L2027.7,1736.3 L2024.3,1736.3 L2024.3,1730.9 L2020.9,1730.9 L2020.9,1733.1 L2017.5,1733.1 L2017.5,1736.0 L2014.1,1736.0 L2014.1,1731.5 L2010.7,1731.5 L2010.7,1732.1 L2007.3,1732.1 L2007.3,1731.9 L2003.9,1731.9 L2003.9,1732.6 L2000.5,1732.6 L2000.5,1734.8 L1997.1,1734.8 L1997.1,1733.6 L1993.7,1733.6 L1993.7,1734.3 L1990.3,1734.3 L1990.3,1736.9 L1986.9,1736.9 L1986.9,1735.2 L1983.5,1735.2 L1983.5,1733.0 L1980.1,1733.0 L1980.1,1741.7 L1976.7,1741.7 L1976.7,1732.3 L1973.3,1732.3 L1973.3,1732.4 L1969.9,1732.4 L1969.9,1740.7 L1966.5,1740.7 L1966.5,1733.2 L1963.1,1733.2 L1963.1,1732.4 L1959.7,1732.4 L1959.7,1733.1 L1956.3,1733.1 L1956.3,1732.8 L1952.9,1732.8 L1952.9,1730.9 L1949.5,1730.9 L1949.5,1731.0 L1946.1,1731.0 L1946.1,1734.7 L1942.7,1734.7 L1942.7,1737.7 L1939.3,1737.7 L1939.3,1733.0 L1935.9,1733.0 L1935.9,1734.8 L1932.5,1734.8 L1932.5,1733.2 L1929.1,1733.2 L1929.1,1732.4 L1925.7,1732.4 L1925.7,1731.6 L1922.3,1731.6 L1922.3,1733.8 L1918.9,1733.8 L1918.9,1737.9 L1915.5,1737.9 L1915.5,1732.9 L1912.1,1732.9 L1912.1,1734.2 L1908.7,1734.2 L1908.7,1733.8 L1905.3,1733.8 L1905.3,1734.1 L1901.9,1734.1 L1901.9,1735.9 L1898.5,1735.9 L1898.5,1736.6 L1895.1,1736.6 L1895.1,1742.3 L1891.7,1742.3 L1891.7,1739.5 L1888.3,1739.5 L1888.3,1738.5 L1884.9,1738.5 L1884.9,1734.9 L1881.5,1734.9 L1881.5,1738.0 L1878.1,1738.0 L1878.1,1732.5 L1874.7,1732.5 L1874.7,1742.8 L1871.3,1742.8 L1871.3,1733.0 L1867.9,1733.0 L1867.9,1740.0 L1864.5,1740.0 L1864.5,1734.2 L1861.1,1734.2 L1861.1,1735.9 L1857.7,1735.9 L1857.7,1737.6 L1854.3,1737.6 L1854.3,1732.4 L1850.9,1732.4 L1850.9,1731.9 L1847.5,1731.9 L1847.5,1733.3 L1844.1,1733.3 L1844.1,1734.3 L1840.7,1734.3 L1840.7,1737.3 L1837.3,1737.3 L1837.3,1733.9 L1833.9,1733.9 L1833.9,1732.9 L1830.5,1732.9 L1830.5,1735.7 L1827.1,1735.7 L1827.1,1734.0 L1823.7,1734.0 L1823.7,1735.3 L1820.3,1735.3 L1820.3,1734.2 L1816.9,1734.2 L1816.9,1737.3 L1813.5,1737.3 L1813.5,1743.9 L1810.1,1743.9 L1810.1,1737.9 L1806.7,1737.9 L1806.7,1732.1 L1803.3,1732.1 L1803.3,1734.3 L1799.9,1734.3 L1799.9,1733.0 L1796.5,1733.0 L1796.5,1740.4 L1793.1,1740.4 L1793.1,1739.8 L1789.7,1739.8 L1789.7,1736.2 L1786.3,1736.2 L1786.3,1732.4 L1782.9,1732.4 L1782.9,1734.3 L1779.5,1734.3 L1779.5,1732.1 L1776.1,1732.1 L1776.1,1740.4 L1772.7,1740.4 L1772.7,1740.7 L1769.3,1740.7 L1769.3,1734.9 L1765.9,1734.9 L1765.9,1733.9 L1762.5,1733.9 L1762.5,1731.2 L1759.1,1731.2 L1759.1,1732.7 L1755.7,1732.7 L1755.7,1734.6 L1752.3,1734.6 L1752.3,1730.7 L1748.9,1730.7 L1748.9,1733.7 L1745.5,1733.7 L1745.5,1730.8 L1742.1,1730.8 L1742.1,1731.6 L1738.7,1731.6 L1738.7,1735.6 L1735.3,1735.6 L1735.3,1730.9 L1731.9,1730.9 L1731.9,1730.6 L1728.5,1730.6 L1728.5,1731.9 L1725.1,1731.9 L1725.1,1733.1 L1721.7,1733.1 L1721.7,1733.8 L1718.3,1733.8 L1718.3,1731.6 L1714.9,1731.6 L1714.9,1731.3 L1711.5,1731.3 L1711.5,1733.0 L1708.1,1733.0 L1708.1,1734.8 L1704.7,1734.8 L1704.7,1734.3 L1701.3,1734.3 L1701.3,1733.2 L1697.9,1733.2 L1697.9,1732.0 L1694.5,1732.0 L1694.5,1736.0 L1691.1,1736.0 L1691.1,1736.3 L1687.7,1736.3 L1687.7,1734.1 L1684.3,1734.1 L1684.3,1735.4 L1680.9,1735.4 L1680.9,1735.5 L1677.5,1735.5 L1677.5,1737.3 L1674.1,1737.3 L1674.1,1732.4 L1670.7,1732.4 L1670.7,1731.8 L1667.3,1731.8 L1667.3,1734.5 L1663.9,1734.5 L1663.9,1734.8 L1660.5,1734.8 L1660.5,1732.4 L1657.1,1732.4 L1657.1,1737.8 L1653.7,1737.8 L1653.7,1731.9 L1650.3,1731.9 L1650.3,1736.2 L1646.9,1736.2 L1646.9,1737.1 L1643.5,1737.1 L1643.5,1734.9 L1640.1,1734.9 L1640.1,1734.3 L1636.7,1734.3 L1636.7,1733.5 L1633.3,1733.5 L1633.3,1733.5 L1629.9,1733.5 L1629.9,1738.0 L1626.5,1738.0 L1626.5,1734.8 L1623.1,1734.8 L1623.1,1735.3 L1619.7,1735.3 L1619.7,1732.3 L1616.3,1732.3 L1616.3,1734.4 L1612.9,1734.4 L1612.9,1737.9 L1609.5,1737.9 L1609.5,1742.0 L1606.1,1742.0 L1606.1,1738.4 L1602.7,1738.4 L1602.7,1735.3 L1599.3,1735.3 L1599.3,1733.5 L1595.9,1733.5 L1595.9,1733.0 L1592.5,1733.0 L1592.5,1733.4 L1589.1,1733.4 L1589.1,1738.2 L1585.7,1738.2 L1585.7,1734.1 L1582.3,1734.1 L1582.3,1732.6 L1578.9,1732.6 L1578.9,1733.9 L1575.5,1733.9 L1575.5,1737.7 L1572.1,1737.7 L1572.1,1737.0 L1568.7,1737.0 L1568.7,1734.5 L1565.3,1734.5 L1565.3,1732.7 L1561.9,1732.7 L1561.9,1733.2 L1558.5,1733.2 L1558.5,1739.6 L1555.1,1739.6 L1555.1,1734.6 L1551.7,1734.6 L1551.7,1737.8 L1548.3,1737.8 L1548.3,1735.0 L1544.9,1735.0 L1544.9,1733.4 L1541.5,1733.4 L1541.5,1731.3 L1538.1,1731.3 L1538.1,1737.6 L1534.7,1737.6 L1534.7,1732.7 L1531.3,1732.7 L1531.3,1735.3 L1527.9,1735.3 L1527.9,1732.2 L1524.5,1732.2 L1524.5,1732.7 L1521.1,1732.7 L1521.1,1734.3 L1517.7,1734.3 L1517.7,1733.8 L1514.3,1733.8 L1514.3,1735.5 L1510.9,1735.5 L1510.9,1733.5 L1507.5,1733.5 L1507.5,1731.5 L1504.1,1731.5 L1504.1,1739.9 L1500.7,1739.9 L1500.7,1731.4 L1497.3,1731.4 L1497.3,1737.1 L1493.9,1737.1 L1493.9,1737.4 L1490.5,1737.4 L1490.5,1731.9 L1487.1,1731.9 L1487.1,1736.3 L1483.7,1736.3 L1483.7,1733.3 L1480.3,1733.3 L1480.3,1738.5 L1476.9,1738.5 L1476.9,1731.5 L1473.5,1731.5 L1473.5,1732.9 L1470.1,1732.9 L1470.1,1734.6 L1466.7,1734.6 L1466.7,1734.9 L1463.3,1734.9Z" fill="#0cf410"/>
<line x1="1463.30" y1="1721.50" x2="2403.70" y2="1721.80" stroke="#5cf80c" stroke-width="9.0" stroke-linecap="butt"/>
<line x1="1463.30" y1="1721.50" x2="2403.70" y2="1721.80" stroke="#b4ff2c" stroke-width="4.4" stroke-linecap="butt"/>
<text transform="translate(1444.11,1847.85) scale(0.9671,1)" font-family='"Liberation Sans", sans-serif' font-weight="bold" font-size="75.97" fill="#2b2b2b" stroke="#fff" stroke-width="0.7" stroke-linejoin="round">0</text>
<text transform="translate(1736.35,1847.85) scale(0.9566,1)" font-family='"Liberation Sans", sans-serif' font-weight="bold" font-size="75.97" fill="#2b2b2b" stroke="#fff" stroke-width="0.7" stroke-linejoin="round">20</text>
<text transform="translate(2048.08,1847.85) scale(0.9565,1)" font-family='"Liberation Sans", sans-serif' font-weight="bold" font-size="75.97" fill="#2b2b2b" stroke="#fff" stroke-width="0.7" stroke-linejoin="round">40</text>
<text transform="translate(2359.25,1847.85) scale(0.9567,1)" font-family='"Liberation Sans", sans-serif' font-weight="bold" font-size="75.97" fill="#2b2b2b" stroke="#fff" stroke-width="0.7" stroke-linejoin="round">60</text>
<text transform="translate(1777.69,1948.40) scale(1.0107,1)" font-family='"Liberation Sans", sans-serif' font-weight="bold" font-size="80.5" fill="#000">Time (s)</text>
<text transform="translate(1424.20,1620.00) rotate(-90) scale(1.1025,1)" font-family='"Liberation Sans", sans-serif' font-weight="normal" font-size="78" fill="#000" stroke="#000" stroke-width="1.6" stroke-linejoin="round">2 mK/Div</text>
<text transform="translate(2308.07,1089.50) scale(0.9791,1)" font-family='"Liberation Sans", sans-serif' font-weight="bold" font-size="70" fill="#000">(d)</text>
<text transform="translate(1488.53,1242.30) scale(0.9593,1)" font-family='"Liberation Sans", sans-serif' font-weight="normal" font-size="66" fill="#000" stroke="#000" stroke-width="3.4" stroke-linejoin="round">Ch 5</text>
<text transform="translate(1486.55,1388.30) scale(0.9534,1)" font-family='"Liberation Sans", sans-serif' font-weight="normal" font-size="66" fill="#000" stroke="#000" stroke-width="3.4" stroke-linejoin="round">Ch 4</text>
<text transform="translate(1488.53,1543.30) scale(0.9605,1)" font-family='"Liberation Sans", sans-serif' font-weight="normal" font-size="66" fill="#000" stroke="#000" stroke-width="3.4" stroke-linejoin="round">Ch 3</text>
<text transform="translate(1491.52,1681.30) scale(0.9641,1)" font-family='"Liberation Sans", sans-serif' font-weight="normal" font-size="66" fill="#000" stroke="#000" stroke-width="3.4" stroke-linejoin="round">Ch 2</text>
<text transform="translate(1959.15,1250.30) scale(1.0271,1)" font-family='"Liberation Sans", sans-serif' font-weight="normal" font-size="66" fill="#000" stroke="#000" stroke-width="3.4" stroke-linejoin="round">Std 0.44 mK</text>
<text transform="translate(1958.65,1407.30) scale(1.0271,1)" font-family='"Liberation Sans", sans-serif' font-weight="normal" font-size="66" fill="#000" stroke="#000" stroke-width="3.4" stroke-linejoin="round">Std 0.38 mK</text>
<text transform="translate(1966.15,1551.30) scale(1.0271,1)" font-family='"Liberation Sans", sans-serif' font-weight="normal" font-size="66" fill="#000" stroke="#000" stroke-width="3.4" stroke-linejoin="round">Std 0.38 mK</text>
<text transform="translate(1968.65,1681.80) scale(1.0271,1)" font-family='"Liberation Sans", sans-serif' font-weight="normal" font-size="66" fill="#000" stroke="#000" stroke-width="3.4" stroke-linejoin="round">Std 0.37 mK</text>
</svg>
</body>
</html>
